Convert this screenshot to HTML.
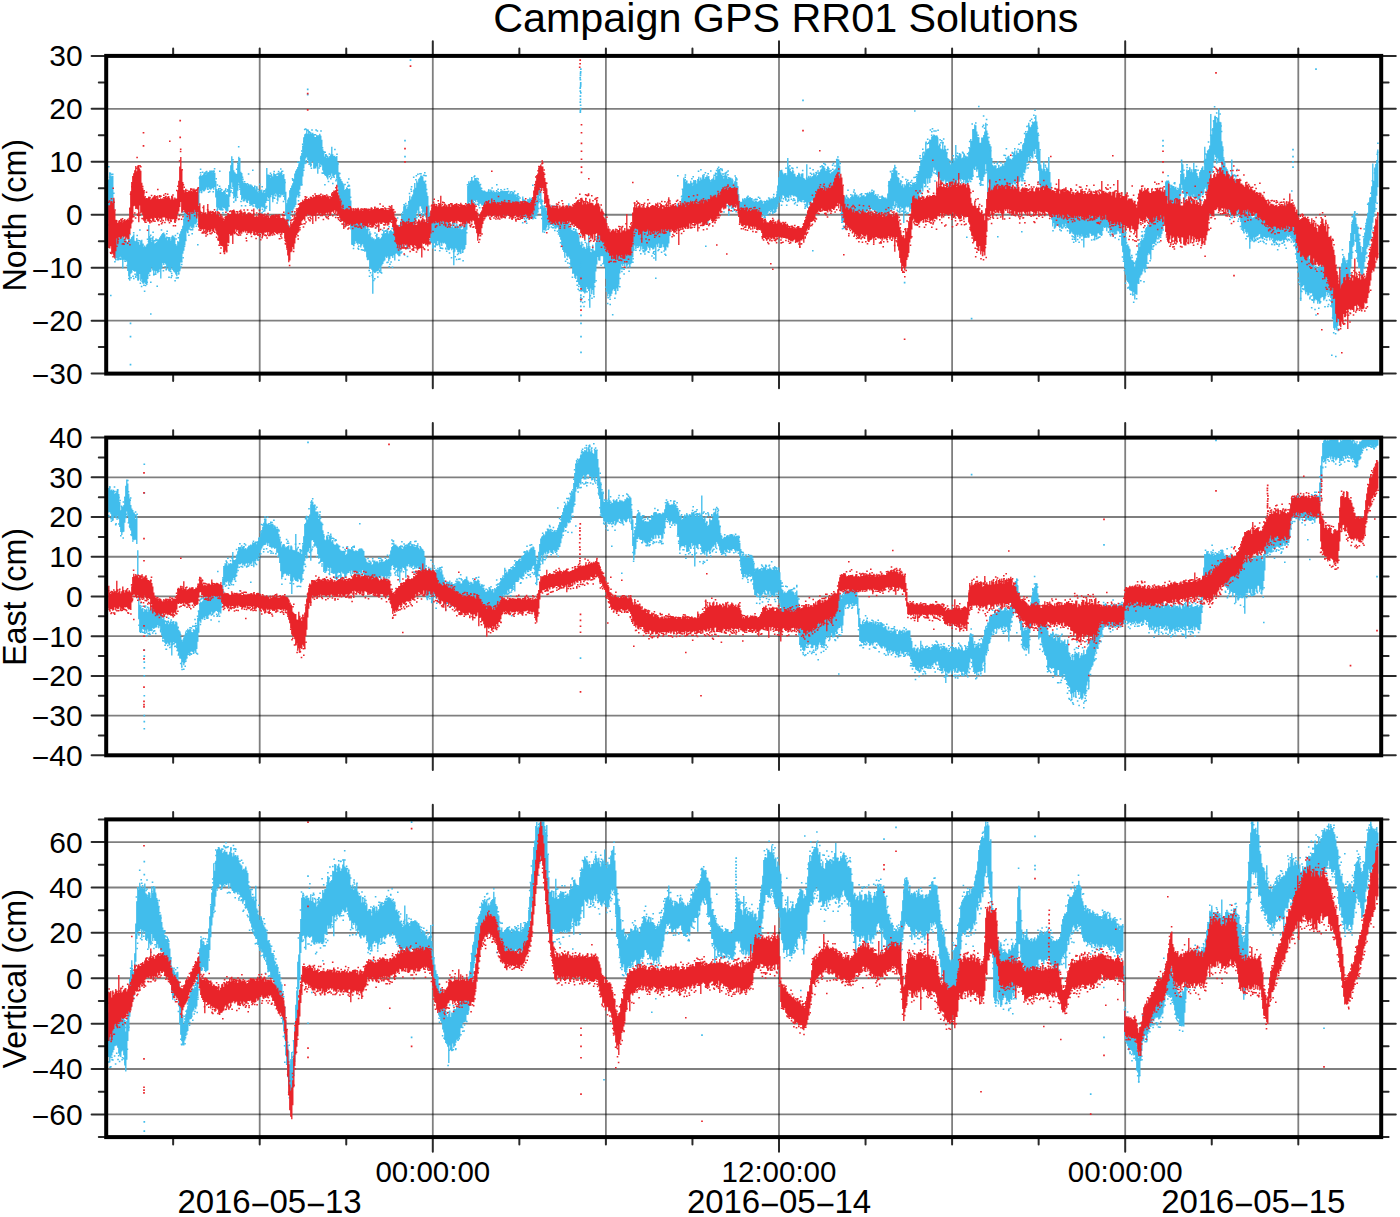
<!DOCTYPE html>
<html><head><meta charset="utf-8"><style>html,body{margin:0;padding:0;background:#fff;}svg{display:block;}</style></head>
<body><svg width="1400" height="1217" viewBox="0 0 1400 1217">
<rect width="1400" height="1217" fill="#fff"/>
<path d="M106.2 320.65H1381.2M106.2 267.70H1381.2M106.2 214.75H1381.2M106.2 161.80H1381.2M106.2 108.85H1381.2M106.2 715.59H1381.2M106.2 675.88H1381.2M106.2 636.16H1381.2M106.2 596.45H1381.2M106.2 556.74H1381.2M106.2 517.02H1381.2M106.2 477.31H1381.2M106.2 1114.41H1381.2M106.2 1069.02H1381.2M106.2 1023.64H1381.2M106.2 978.25H1381.2M106.2 932.86H1381.2M106.2 887.48H1381.2M106.2 842.09H1381.2" stroke="#000" stroke-opacity="0.5" stroke-width="1.8" fill="none"/>
<path d="M259.70 55.9V373.6M432.80 55.9V373.6M605.90 55.9V373.6M779.00 55.9V373.6M952.10 55.9V373.6M1125.20 55.9V373.6M1298.30 55.9V373.6M259.70 437.6V755.3M432.80 437.6V755.3M605.90 437.6V755.3M779.00 437.6V755.3M952.10 437.6V755.3M1125.20 437.6V755.3M1298.30 437.6V755.3M259.70 819.4V1137.1M432.80 819.4V1137.1M605.90 819.4V1137.1M779.00 819.4V1137.1M952.10 819.4V1137.1M1125.20 819.4V1137.1M1298.30 819.4V1137.1" stroke="#000" stroke-opacity="0.5" stroke-width="1.8" fill="none"/>
<path d="M108.8 179.5v40.5m1-47.8v52.8m1-49.5v50m1-49.2v42m1-42.6v47.5m1-24v39.7m1-7.5v22.6m1-15.6v21.4m1-21.6v19.8m1-23.1v24.9m1-21.7v21.8m1-22.6v20m1-20.2v19.6m1-20.9v24m1-21.3v30.1m1-30.2v20.9m1-19.1v20.4m1-20.4v20m1-19v20.4m1-19.6v29m1-44.4v49.8m1-37.7v42m1-41.4v34.5m1-33.9v32.9m1-37.1v34.4m1-35.8v36.6m1-30.1v31m1-30.6v30.4m1-33.7v38.2m1-34.6v38.3m1-37.7v36.9m1-34.2v29.3m1-33.3v40.5m1-41.5v39.8m1-35.4v39.3m1-36.2v36.4m1-38.1v37m1-35.2v36.6m1-39.4v40.3m1-41.3v35.3m1-53.9v49.1m1-38.1v36.2m1-34.3v33.6m1-29.7v25.6m1-29.6v32.6m1-30.1v34.9m1-31.8v27.4m1-28v32.2m1-32.9v28.9m1-31.8v34m1-34v31.6m1-33.1v31.9m1-33.8v42.8m1-44.4v34.5m1-35.6v29.8m1-30.3v32.4m1-30.7v28.7m1-25.4v26.8m1-27.8v32.9m1-29.3v26.7m1-29.9v33.8m1-33.7v34.2m1-30.9v29.6m1-33.3v30.8m1-31.8v34.4m1-33.5v33.6m1-32.8v34.2m1-27.5v30.5m1-29.2v30.9m1-35.2v30.9m1-30.2v32.8m1-40.9v37.6m1-40.1v31.2m1-33.5v32.3m1-35.5v28m1-35.2v32.2m1-35.8v30.4m1-35.1v31.1m1-36v26.1m1-22.9v24.7m1-27v23.6m1-22.7v20.7m1-23.6v22.4m1-22.8v24.3m1-25v24.6m1-24.4v24.4m1-25.9v22.4m1-20.1v20.5m1-22.8v20.3m1-26.9v17.3m1-25.6v16.8m1-28v17.1m1-18.6v16.8m1-14.9v15.8m1-16.9v15.2m1-16.7v17.7m1-17.1v16.4m1-15.8v14.8m1-17.2v15.3m1-14.5v16.7m1-17.8v15.5m1-17v18.7m1-18.4v19m1-16.9v15.9m1-17.4v16.5m1-17.3v19.2m1-17.1v14.2m1-5.9v16.5m1-8.4v18.4m1-16.8v18.7m1-18.4v17.1m1-17.8v19.6m1-20.3v20.8m1-18.4v18.4m1-18.5v15.5m1-16.7v17.6m1-17.3v17.4m1-14.1v16.3m1-16.7v17.9m1-17.1v16.6m1-26.2v21.4m1-34.9v25.1m1-31.5v23.3m1-32.3v26.2m1-21v25.7m1-16.9v26.5m1-24.4v24.9m1-23.8v27.9m1-27.3v22.6m1-32.3v26.5m1-34v26m1-24.7v29.9m1-16.3v23.2m1-22v27.2m1-19.7v17.9m1-15.6v17.3m1-17.1v18.4m1-18.2v16.5m1-15.9v18.3m1-16.7v15.8m1-16.8v16.2m1-15.3v18.8m1-19.8v19.7m1-18.7v18.9m1-16.5v17.2m1-17.9v17m1-17.7v18m1-14.2v17.5m1-17.8v18.3m1-16.5v16.5m1-15.5v15.5m1-17v19.2m1-18.6v16.1m1-18.1v17.2m1-14.4v15.1m1-17.1v17.4m1-15v17.3m1-21.7v14.7m1-35.1v32.9m1-26.4v22.6m1-22.6v23.4m1-21.9v34.9m1-33.2v19.6m1-21.9v19.6m1-18.3v25.5m1-29.5v23m1-21.7v20m1-19.7v19.1m1-17.4v18.7m1-18.9v25.6m1-27.4v23.2m1-25v22m1-21.1v23.5m1-23.8v21.9m1-19.8v19.8m1-20.7v19.9m1-14.8v21.1m1-8.5v22.7m1-10.1v21.1m1-25.9v26.6m1-28.5v24m1-31.4v28.4m1-30.6v25.7m1-28.1v25m1-27.3v28.6m1-32.8v29.7m1-35.3v33.4m1-36.1v34.3m1-35.5v28m1-30.5v28.2m1-31v33.4m1-36.6v28.6m1-34v30m1-32.7v32.5m1-39.3v30.2m1-39.1v31.1m1-34.2v29m1-29.6v24.9m1-29.4v28.2m1-23.6v26.3m1-29v31.5m1-28.3v29.7m1-31.6v33.8m1-32.6v28.4m1-29.2v28.5m1-26.6v33.1m1-30.7v31.3m1-31.3v31.6m1-33.6v31.4m1-31v38.4m1-37.1v26.1m1-29.1v33.6m1-31.6v28.9m1-24.8v25.7m1-16.3v21.2m1-17.6v21.3m1-17.7v18.9m1-21.2v22m1-18.4v19.9m1-20.7v22.6m1-22v17.9m1-19.4v19.2m1-20.6v21.8m1-29.7v26.8m1-19.3v22m1-20.2v21.1m1-21.4v19.4m1-18.1v17.3m1-18.4v22.4m1-16.3v25.1m1-14.9v22.4m1-17.5v29.5m1-27.7v33.4m1-31.1v31.7m1-29.9v31.6m1-29v32.4m1-28v27.8m1-28.9v29.4m1-31.1v33.7m1-32.5v32.6m1-32.1v32.1m1-32.5v35.2m1-23.1v28.8m1-13.2v28.5m1-22.4v22.8m1-23.7v24.2m1-26.3v24.6m1-24.2v21.5m1-24.1v26.2m1-22.7v24.2m1-26v24.8m1-25v25.4m1-22.9v26.5m1-25.8v23.8m1-24.1v22.4m1-18.5v22m1-23.8v28.1m1-28.8v28.5m1-22.5v28.7m1-30.6v33.2m1-25.9v25.5m1-28.5v37.7m1-32.6v31.6m1-29.8v31.6m1-30.9v54.9m1-55.5v33.5m1-31.5v32.6m1-33.8v33.4m1-38.2v37m1-33.8v33.8m1-34.4v33.4m1-31.2v29m1-29.9v33m1-34.4v28.8m1-31.8v30.1m1-32.8v30.4m1-28v27.1m1-27.6v23.7m1-26.7v28m1-27.3v25.8m1-23v27.7m1-30.2v28.3m1-29.4v26.4m1-25.2v25.1m1-24.2v26.1m1-29.1v26.2m1-25.7v31m1-36v29.3m1-26.1v25.8m1-27.6v28.8m1-26.8v28.4m1-28.4v28.4m1-35.6v29.6m1-37.4v34.2m1-32.3v29.9m1-38.4v33.6m1-35.5v33.3m1-32.2v33.9m1-30.7v40.2m1-42.5v37.6m1-42.9v44.2m1-49.5v42.9m1-39.3v38.6m1-41.4v34.9m1-37v35.8m1-40.8v36.5m1-43.1v41.6m1-36.8v33m1-40.3v32.5m1-30.5v28.2m1-31.8v36m1-37.2v29m1-31v30.6m1-30.8v33.4m1-32.4v37m1-32.6v31m1-30.4v34.1m1-31.7v33.7m1-25.3v25.8m1-22.1v29.3m1-19.8v24.5m1-17.3v22.2m1-19.5v26.7m1-23.8v24.7m1-20.5v25.8m1-27.5v22.9m1-24v23.6m1-24.8v27.5m1-26.3v25.4m1-27.4v23.4m1-21.9v25.6m1-24.3v24.9m1-25.5v22.9m1-23.8v27.1m1-26.1v22.8m1-22.5v23.3m1-24.5v23.8m1-19.9v21.4m1-24.5v27.8m1-25.3v27.5m1-24.5v24.7m1-28.4v27.4m1-24.5v23.6m1-21.2v23.4m1-26.7v25.2m1-21.1v37.5m1-39.7v26.2m1-24.6v21.2m1-24.6v26m1-24.2v26.8m1-23.6v23.8m1-26.5v26.6m1-24v25.4m1-24.6v20.2m1-20.8v23.6m1-26v23.6m1-28.7v27.6m1-25.8v21.8m1-39.3v24.1m1-44v28.6m1-33v23.2m1-21.8v19.2m1-20.7v22.8m1-25.8v29.7m1-27.3v21.7m1-21.8v19.8m1-22.2v22.8m1-23v24.4m1-21.8v19.5m1-19.8v22.1m1-20.3v24.2m1-22v19.5m1-16.5v16.5m1-13.6v15.4m1-13.6v13.5m1-14.3v14.9m1-14.7v14.9m1-14.8v14.2m1-13.5v12.6m1-13.3v15.7m1-18v17.8m1-15.1v14.7m1-17.1v16.4m1-15.3v15.1m1-13.6v13.6m1-13.4v12.8m1-13.2v13.7m1-13.2v15.2m1-15.9v13.4m1-11.9v13.9m1-14.1v14.9m1-15.8v19.4m1-20.5v16m1-15.8v14.2m1-13.8v14.2m1-14.7v13.8m1-13.9v14m1-14v16.8m1-16.8v14.8m1-14.2v17.5m1-15.1v13.6m1-12.5v12.8m1-13.9v14.6m1-15.2v13.8m1-15.4v16.1m1-15.8v17.7m1-15.2v13.5m1-13.8v16m1-13.8v14.2m1-16.2v14.5m1-10.9v13.9m1-11.2v13.8m1-8.9v12.5m1-14.8v13.2m1-20v21.8m1-18.9v17.8m1-17.8v17.8m1-16.7v17.1m1-15.4v14.3m1-17.4v17.2m1-15.7v15.9m1-18.9v20m1-18.8v19.2m1-20.3v19.2m1-15.7v15.6m1-15.8v14.5m1-16.4v17.8m1-17.6v15.8m1-14.4v15.5m1-19.9v15.8m1-32.1v23.6m1-19.9v12.2m1-5.2v13.7m1-5.1v16.8m1-10.8v27.1m1-24.8v22.5m1-22.8v23.1m1-22.4v21.5m1-18.9v17m1-19.6v17.1m1-17.2v19.2m1-17.8v15.9m1-17.8v17.6m1-16.5v16m1-16.1v17.3m1-17.8v18.3m1-16.9v15.4m1-15.6v18.8m1-16.8v16.5m1-18.1v18.1m1-16.7v20.1m1-17.3v23.3m1-20.2v23m1-21.1v26.4m1-30.1v35.1m1-31.2v33.2m1-31.9v36.4m1-36v32.1m1-33.9v37.5m1-32.5v33.7m1-54.2v53.3m1-28.5v30.6m1-32.1v38.7m1-35.4v37.2m1-36.6v43.2m1-42.6v42.4m1-42.8v45.4m1-45.9v48.8m1-47.2v43.9m1-42.8v49.2m1-45.3v48m1-43v43.5m1-40.2v42.7m1-46.4v50.3m1-43.6v42.9m1-44.6v45.8m1-44.9v46.3m1-44.7v43.7m1-49.8v44.1m1-38.9v41.1m1-54.7v56.6m1-42.9v59.7m1-55.8v36.4m1-36.1v41.9m1-49.4v45.1m1-38.6v44m1-44.9v32.6m1-40.5v28.9m1-33.5v26.5m1-29.9v22.4m1-23.3v26.9m1-27.2v27.5m1-31v26.4m1-27.2v27m1-28.3v28.6m1-23.8v31.3m1-24.4v27.7m1-24.7v36.3m1-33.8v45.7m1-43.1v48.9m1-47.1v44.7m1-45.9v49.6m1-51.7v49.9m1-49.8v47.7m1-43.2v40m1-40.5v38.8m1-45.7v47.8m1-43.9v46.5m1-51.2v46m1-44.3v47m1-47.9v41.6m1-39.1v27.9m1-33.4v28.3m1-29v24.8m1-22.1v23.7m1-24.1v22.3m1-26.5v28.5m1-25.3v22.6m1-25.8v28.8m1-25.1v22.4m1-24v24.8m1-25v27.9m1-23.5v20.4m1-30.5v29.1m1-30.6v24.9m1-36.4v29.7m1-30.3v25.2m1-21.7v25.2m1-30.4v28.1m1-26.6v26.1m1-24.6v25.7m1-26.8v25.5m1-22.5v26.4m1-23.8v20.5m1-22.8v25.9m1-25.5v25.2m1-22.6v25.9m1-25.8v24.3m1-24.9v23.5m1-27.5v24.3m1-24.4v25.6m1-23.4v26.1m1-28.4v25.6m1-23v23.3m1-22.8v24.3m1-23.4v23.3m1-38.8v37m1-26.5v39.7m1-41.6v25.3m1-23.4v26m1-29.1v25.7m1-21.5v25.3m1-25.1v25.7m1-25.5v24.7m1-25.6v22.6m1-19.6v22.7m1-23.6v26.8m1-26.7v26.6m1-23.8v20.2m1-24.5v25.1m1-29.7v25.7m1-31.1v23.6m1-28.6v19.3m1-18.7v18.4m1-19v19.6m1-18.5v17.4m1-17.4v16.2m1-16.9v18.8m1-20v17.1m1-18.4v17.3m1-17.5v17.6m1-17.2v16.4m1-16.1v17.4m1-24.9v17.3m1-26v22.1m1-33.8v28.3m1-26.5v27.2m1-24.9v27.1m1-28.4v31.8m1-29v29.6m1-29.8v31.2m1-30.7v26.7m1-29.6v31.6m1-29.6v31.6m1-28.9v27m1-32.6v31.9m1-31.4v31.3m1-30.8v29.4m1-26.7v27.6m1-32.3v30.5m1-32.6v30.6m1-26.7v25.9m1-29.1v32.5m1-30.6v29.9m1-34.5v37.6m1-36.8v27.3m1-24.1v25.2m1-27v27.7m1-27.9v31.9m1-32.3v48.5m1-48.8v34.8m1-30.9v27.8m1-26.2v26m1-27.7v30.7m1-32.1v30.9m1-33.2v29.4m1-25.8v24m1-30.4v33.3m1-30.7v35.9m1-42.4v33.6m1-33.8v31.7m1-32v32.7m1-29.1v30.1m1-28v28.3m1-26.8v26.4m1-24.2v28.7m1-31.5v31m1-33.6v31.1m1-28.4v28m1-24.9v23.4m1-23.9v37.7m1-38.5v26.9m1-26.6v27m1-24.3v26.2m1-27v28.5m1-24.6v23.3m1-25.7v25.6m1-28.2v25.2m1-21.9v22.8m1-17.6v19.4m1-11.1v16.4m1-10.1v10.7m1-10.3v12.5m1-12.9v12.9m1-15.1v14.1m1-13v11.6m1-13.2v12.3m1-12v12.6m1-15.2v12.4m1-12.5v14.8m1-13.4v11.6m1-12v11.9m1-11.2v14.2m1-14.1v14.1m1-11.9v11.7m1-11v11.6m1-11.3v12.3m1-13.3v11.8m1-10.8v10.8m1-10.3v12.7m1-13.5v12.4m1-12.5v13.4m1-14.1v12.9m1-12.9v13.6m1-10.9v10.6m1-10.4v11.9m1-14.1v14.3m1-13.6v13.8m1-13.4v12.6m1-13.6v12.3m1-13.2v11.1m1-13.8v13.4m1-11.9v11.1m1-11.6v12.9m1-12.6v12.8m1-13.7v11.5m1-10.7v13m1-14.8v15m1-18.6v15.6m1-23.6v19.2m1-27.5v23.8m1-30v25.6m1-26.6v30m1-30.2v28.9m1-26v22.5m1-20.9v21.4m1-22.2v24.5m1-24.9v27.6m1-25.4v21.8m1-39.2v39.9m1-31.5v32.2m1-28.7v25.6m1-24.4v26.5m1-25.3v22.9m1-25.3v25.7m1-22.1v23m1-22.6v21.9m1-19.3v20m1-19.6v20.4m1-21.4v26.7m1-29.8v27.1m1-25.6v26.7m1-24.5v24.8m1-27.6v26.3m1-26.6v27.3m1-22.5v22.1m1-21.5v23.8m1-22.5v21.9m1-37.6v41.5m1-27v26.5m1-29.5v26.7m1-24.4v27.3m1-29.7v26.2m1-24.6v23.1m1-24.3v24.6m1-27.9v29.8m1-28v25.8m1-25.3v28m1-26.8v22.3m1-23.5v21.9m1-24.2v26.7m1-27.7v22.9m1-25.3v27.2m1-28v23.9m1-26.1v26.4m1-26.7v27.5m1-25.9v25.3m1-22.3v23.3m1-23.6v21.5m1-25.4v25.7m1-22.8v23m1-19.9v25.7m1-24.7v25.5m1-26.4v27.2m1-28.2v26.7m1-27.7v21.9m1-22.9v26.6m1-27.8v23.7m1-31.9v28.7m1-30.2v32.5m1-31.6v30.2m1-24v35.6m1-20.2v27.9m1-16.7v28.3m1-24v26.2m1-27.4v24.8m1-24.1v24.9m1-23.7v27.8m1-26.4v26m1-27.9v25.2m1-24.1v22.8m1-22v22.4m1-24.1v24.2m1-24.6v21.9m1-24.2v23.6m1-21.4v17.4m1-20v18.6m1-18.2v20.8m1-20.7v20.6m1-18.4v16.5m1-17.6v20m1-17.9v15.1m1-16.3v17.7m1-19.3v19.8m1-18.5v17.2m1-18.2v15.6m1-13.9v16.5m1-17.1v17.1m1-20.3v18.6m1-19.3v18m1-15.9v14.7m1-16.1v18.5m1-18.5v16m1-17.6v17.2m1-16.6v18.2m1-18.5v18.2m1-14.9v15.5m1-16.7v16m1-13.9v18.3m1-18.1v17m1-14.8v17.4m1-16.8v16.1m1-16.2v15.7m1-17.2v14.6m1-14.9v14.7m1-14.5v18.3m1-16.7v17.3m1-18.6v17.6m1-16.5v17.3m1-22.5v20.4m1-33v34.9m1-35v31.1m1-33.4v30.2m1-36.1v38.2m1-37.8v33.4m1-38.1v37.5m1-41.1v36.5m1-31v36.9m1-36.3v32.7m1-26.6v31.4m1-30.4v29.9m1-25.1v29.5m1-32.1v26.7m1-21.3v22.8m1-24.2v24.1m1-20.7v35.5m1-38.8v25.8m1-24.6v22m1-26.5v25.7m1-23v23.9m1-25.4v24.6m1-20v25.1m1-27.2v24.5m1-22.6v22m1-25.2v27.4m1-26.5v25.4m1-25.6v24.7m1-25.1v21.6m1-27.6v27.7m1-31.5v28.9m1-31.6v29.3m1-34.4v27.1m1-32.8v33.9m1-34.3v28.6m1-34.9v37.8m1-35.8v28m1-30.8v31.2m1-41.3v43.6m1-37v29.2m1-30v35.2m1-35.5v30.4m1-39v43.5m1-43.4v38.2m1-41.4v39.8m1-40.4v36.3m1-37.6v33m1-32.6v35.8m1-34.9v33.9m1-34.6v39.8m1-37.6v39.3m1-31.3v33.9m1-35.8v34.3m1-29.2v32m1-31.4v35.7m1-41.8v37.9m1-31.5v32m1-34.7v33m1-30.9v35m1-30.9v28.8m1-23.7v23.4m1-22.4v24.3m1-20.3v25.1m1-23.7v23.4m1-25.9v27.1m1-26.2v23.3m1-28v25m1-22.7v25.3m1-40.8v39.3m1-25.3v25.6m1-27.9v23.6m1-24.9v24.3m1-24.4v23.8m1-25.3v27.8m1-23.4v20.8m1-21.5v22.4m1-24.7v27.6m1-25.6v22.8m1-24.2v27.8m1-26.9v25.7m1-24.1v25.5m1-32v27m1-30.7v32.7m1-41.7v40.2m1-38.3v39m1-50.7v46.1m1-46.1v39.4m1-44.2v45.5m1-44.7v40.9m1-34.8v40.4m1-34.7v32.5m1-31.8v38.9m1-34v37.2m1-37.2v41.8m1-46.9v43.3m1-43.4v43.4m1-46v42m1-45.3v42.9m1-51.7v41.4m1-33.8v41.2m1-35.2v66.9m1-62.6v41.7m1-38.5v40.2m1-36.8v45.4m1-34.8v36.1m1-29.1v31.6m1-29.7v27.8m1-29.4v31.7m1-31.7v29.6m1-26.4v26.7m1-27.2v24.7m1-27.2v27.4m1-25.4v28.2m1-28v28m1-29.4v25.4m1-27.8v43.6m1-41.4v29m1-32.2v27.2m1-28.2v29.5m1-32.4v26.2m1-28.7v28.4m1-29v34.2m1-31.6v31.2m1-30.8v31.5m1-30.7v24.3m1-26.1v28.4m1-33.7v30.1m1-32v33.5m1-29.3v27.9m1-32.3v31.2m1-28.5v30.9m1-30.4v27.8m1-31.7v31.6m1-32v28.3m1-26.7v30.7m1-37.2v35m1-36.5v29.5m1-34.1v35m1-40v36.3m1-36.5v29.7m1-32.1v31m1-38.9v34.2m1-30.5v34.6m1-33.8v28.6m1-31.2v32.4m1-34.1v35.4m1-36.3v29.2m1-30v32.8m1-38.9v33.9m1-27.6v37.6m1-26.2v30.8m1-21.9v28.9m1-20.1v32.5m1-17v23.1m1-20.8v21.7m1-19.3v17.7m1-26.9v26.9m1-19.4v20.7m1-18.5v18.4m1-20.8v22.2m1-22.2v23.6m1-35.4v35m1-20.1v19.9m1-9.4v23.2m1-8.1v22.1m1-19.3v26.2m1-22.8v19.3m1-18.6v22.8m1-26.6v25.3m1-21.5v21.3m1-22.7v21.4m1-19.8v22m1-23.2v24.8m1-23.2v22m1-20.9v21.6m1-22.1v18.6m1-21.5v24.8m1-26.1v24.9m1-22.2v19.5m1-20.4v24.3m1-20v20.4m1-19.4v20.3m1-18.1v23.2m1-21.7v20.9m1-18.4v17m1-19v20.9m1-19.8v20.6m1-20.7v23m1-22.8v28.1m1-27.8v20.4m1-19.7v22m1-21.9v19.6m1-18.9v20.9m1-19.9v19m1-20.9v19.7m1-19.4v21.2m1-19.4v30.5m1-30v20.4m1-20.1v19.9m1-24.7v22.3m1-23v23.8m1-21.2v22.4m1-23.5v19.6m1-20.4v20.7m1-17.3v19.7m1-22.3v21.8m1-19.5v19.4m1-20.5v24m1-23.1v20.8m1-21.4v22.4m1-24v19.8m1-17v16.8m1-21.7v23.2m1-24v24.1m1-21.7v20.6m1-22.7v19.9m1-21.7v18m1-18.6v19.3m1-21.3v20.5m1-16.8v20.8m1-22.4v18.6m1-17.2v18m1-18v21.4m1-21.2v22.6m1-19.8v18.5m1-20.1v21.4m1-19.7v19.3m1-22.2v24.3m1-22v21.2m1-22.7v20.6m1-20.6v19.5m1-17.8v18.5m1-17.7v20m1-20.6v20.5m1-15v27.1m1-22.5v29m1-20.6v28.7m1-26.7v34.6m1-31.2v37.8m1-29.8v35.4m1-36.1v37.6m1-35.7v37.2m1-34.7v41.6m1-33.7v34.1m1-30.6v31.2m1-31.1v33.9m1-32.4v30.6m1-25.6v32.7m1-38.9v33.4m1-36.1v36.9m1-43.9v33m1-40.4v40.7m1-37.4v31m1-36.7v34.6m1-37.4v36.2m1-34.4v31.4m1-33.4v30.4m1-34.6v37.2m1-42.7v40.1m1-41.5v37.2m1-39.6v30.7m1-30.1v28.2m1-34.4v35.5m1-37.3v42.4m1-44.4v34.6m1-36.1v30.3m1-29v28.9m1-30.4v30.9m1-36.7v34.4m1-31.2v27.8m1-27.4v24.5m1-26.4v30.1m1-33.9v31.7m1-30v29.1m1-28.9v25.3m1-31.2v27.9m1-29.1v24.5m1-34.4v24.1m1-33v24.1m1-25.1v19.3m1-19v20m1-18.7v24.5m1-22.3v23.4m1-20.1v21.3m1-24.1v23m1-21.7v22.8m1-22.9v19.1m1-17.7v18.7m1-19.3v19m1-16.2v19.8m1-19.6v17.9m1-19v23.1m1-28v20.8m1-30.7v20.4m1-32.9v23.4m1-20.6v25.5m1-16.2v20.3m1-14.6v23.7m1-26v20.5m1-27.8v26.5m1-25.4v23.1m1-23v25m1-27.5v28.5m1-25.3v26.6m1-28.8v26.1m1-23.2v24.1m1-33.6v31.8m1-24.7v28.4m1-29.1v30.3m1-26.5v24.4m1-21.3v23.8m1-22v21.9m1-27.4v29.8m1-32.1v26.8m1-29.1v25.1m1-26.5v28.9m1-25.2v22.9m1-46.1v42.3m1-30.3v28.6m1-34v37.1m1-39.8v38.3m1-39.7v37.6m1-41.5v35.2m1-66.7v65.2m1-44.6v37.7m1-44.2v40m1-47.9v41.1m1-44.2v37.8m1-37.8v40.3m1-34.7v41.1m1-45.5v40.3m1-50.1v54.4m1-41v40.2m1-39.7v40.2m1-21.3v36.4m1-31.4v37.2m1-24.4v35.4m1-32.3v35.6m1-30.2v30.5m1-28.7v34.5m1-33.1v36.6m1-29.7v34.7m1-36.7v34.9m1-28.8v34.4m1-56.6v54.7m1-33.7v33.6m1-34.1v32.6m1-34.4v32.2m1-29.7v27.6m1-28.6v34.3m1-33.7v32.2m1-27.5v29.8m1-22.3v25.4m1-27.3v31.4m1-25v30.7m1-29.1v32.3m1-29v30.3m1-30.6v27.3m1-24.6v28m1-27.7v29.3m1-26v24.7m1-22.1v25.8m1-25.5v38m1-36.5v27m1-22.1v23.4m1-22.4v23.1m1-24.1v20.3m1-21v23.3m1-25.9v23.1m1-24.6v24m1-24.7v24.2m1-22v20.9m1-20.6v19.8m1-19.5v23.1m1-20.3v20.9m1-21.4v22m1-23.9v21.9m1-16.9v17.1m1-17.9v18.9m1-20.6v21m1-21.8v21.2m1-17.8v17.1m1-19.4v22.9m1-22.9v20.1m1-18v19.9m1-20.1v18.7m1-18.9v23.9m1-20.9v19.8m1-21.1v20.2m1-22.7v21.5m1-19.6v20.7m1-18.2v16.9m1-18v19.3m1-19.5v19.6m1-17.7v17.1m1-18v17.1m1-19v22m1-22.4v19.7m1-35.1v34.5m1-24.3v22.1m1-21.2v19.7m1-20.2v21.4m1-20.3v18.8m1-20.2v21.1m1-19.1v22m1-22.3v21.5m1-20v24.1m1-24.1v23.4m1-22.8v30.4m1-27.3v37.2m1-26.9v30.9m1-24.9v33.2m1-32.8v43.5m1-42.3v60.8m1-56.3v42.7m1-41.9v40.8m1-40.4v39.3m1-37.4v41.9m1-42.5v47.2m1-42.2v40.1m1-44.3v47.7m1-66.2v65.9m1-36.3v33.7m1-35v35.7m1-31.9v31.5m1-31v34.3m1-36v42.9m1-33.2v30.4m1-34.9v33.8m1-30.8v31.8m1-29.3v32.8m1-35.4v33.1m1-35.3v37.5m1-37.2v31.7m1-31.3v30.4m1-45.9v45.5m1-41v44.5m1-42v40.9m1-45.1v42.1m1-39.5v35.1m1-31.4v34.8m1-34.3v32.1m1-34.7v37.2m1-29.3v32m1-26.3v35.5m1-25.4v37.2m1-28.6v37.6m1-33.1v34.9m1-32.2v29.9m1-33.4v35.8m1-31.9v27.8m1-39.5v35.2m1-42.4v28.9m1-38.7v30.5m1-36.9v33.3m1-38.2v43.6m1-45.9v37.4m1-34.1v37.2m1-34.9v28.5m1-26.9v30.5m1-34v36.3m1-43.2v34.2m1-46v37.9m1-46v34m1-43.1v35.1m1-39.1v27.3m1-32.5v30.8m1-34.2v22.9m1-16.5v24.3m1-18v29.1m1-24.9v34.2m1-28.9v34.7m1-26v25.1m1-21.3v27.3m1-21v24m1-29.2v29.1m1-37.8v29.6m1-35.5v29.6m1-37.3v30.3m1-36.4v30.1m1-36v34.3m1-44.5v42.5m1-47.4v42.8m1-43.3v41.7m1-52.6v43.5m1-66.3v59.3m1-41.8v36m1-49.4v44.5m1-48.1v39.2m1-43.1v35.7m1-46.2v37.8" stroke="#41BDEC" stroke-width="1.35" fill="none"/><path d="M108.8 166.1v1.5m0 56.6v1.5m.8-49.3v1.5m1.5-4.1v1.5m-.6-2.6v1.5m.3 120.5v1.5m1.3-66.9v1.5m-.3-7.7v1.5m.9 2.4v1.5m0-55v1.5m1.3 67.4v1.5m-.2-51.5v1.5m.7 61.4v1.5m.4 4.2v1.5m.6-24.7v1.5m.3 19.8v1.5m1-26.8v1.5m.2-1.2v1.5m.9 23.4v1.5m.8-2.3v1.5m-.1-1v1.5m1.1-27.8v1.5m.5 23.7v1.5m.6-24.6v1.5m-.2 22.5v1.5m1.2-23.1v1.5m1.2 20v1.5m-.2-22.4v1.5m1.1-3.1v1.5m1.2 23v1.5m.7-23.2v1.5m-.3 20.4v1.5m1.4-25.9v1.5m.3 27v1.5m.8-31.2v1.5m-.4-.8v1.5m1.2 40.6v1.5m-.2-36.6v1.5m1.4-10.5v1.5m1.1 41.9v1.5m.6-40.1v1.5m.2-2.9v1.5m1.1 36.8v1.5m.8 .8v1.5m-.1-47.2v1.5m1.4 40.1v1.5m.6 .5v1.5m.2-.7v1.5m1.3-43.2v1.5m.8 3.6v1.5m.1 38v1.5m.4-2.1v1.5m1.2-40.3v1.5m.2-12.2v1.5m1.3 12.5v1.5m-.8 37.9v1.5m1.8-3.6v1.5m-.6 3.8v1.5m1.2-42.7v1.5m.1-2.7v1.5m1 39.5v1.5m.1-39.5v1.5m.6 42.6v1.5m1-7.3v1.5m.1-39.1v1.5m1.4 32.9v1.5m-.6-36.6v1.5m1-9.4v1.5m.5 4.6v1.5m.5-5.4v1.5m1.7 28.2v1.5m-.6 2.7v1.5m1.2 5.3v1.5m-.1-48.3v1.5m.1 77.1v1.5m1.3-75v1.5m0-3.7v1.5m1-7.6v1.5m0 3.3v1.5m.7 36.2v1.5m1.1-2v1.5m-.3-34.8v1.5m1.4-3.2v1.5m-.2 .2v1.5m.9-2.2v1.5m.5 44.6v1.5m.8-16.7v1.5m.9-1.2v1.5m1.1-34.5v1.5m.5-1.7v1.5m1-9.7v1.5m1.3 3.9v1.5m-.4-.6v1.5m1 32.9v1.5m1.7-5.5v1.5m1.1 1.6v1.5m1-39.9v1.5m-.5 .9v1.5m1.3 2.6v1.5m-.2-1.7v1.5m1.2 38.1v1.5m-.2-39.2v1.5m.7 29.6v1.5m.2-32.6v1.5m1.1 30.5v1.5m.4 4.5v1.5m.7-3.2v1.5m-.2-3.8v1.5m.9-38.8v1.5m1.1 32.9v1.5m.2-32.4v1.5m1 30.4v1.5m.2 7.5v1.5m1-43.2v1.5m-.7-4.9v1.5m1.5 40.9v1.5m-.5-1.4v1.5m1.2-46.1v1.5m.6 42.8v1.5m.3-41.4v1.5m0 34.4v1.5m1.7-39.4v1.5m-.5 31.3v1.5m1.3-3.2v1.5m.8-6.7v1.5m-.1 1.3v1.5m.8-54.1v1.5m.6 44.4v1.5m.8-47.6v1.5m.1 6.4v1.5m.6-7.5v1.5m-.1 31.1v1.5m1-7.5v1.5m1.5-34.5v1.5m1-4.7v1.5m-.4 26.7v1.5m1.3 1.6v1.5m.9-7.9v1.5m-.2-24.1v1.5m1.3 22v1.5m.2-26.5v1.5m1.1 27.3v1.5m.4-6.1v1.5m-.1-.9v1.5m1.6-25.8v1.5m-.4-5.4v1.5m1.5 1.4v1.5m.3-4.3v1.5m-.1 0v1.5m1 21.8v1.5m0-5.9v1.5m1.2 .8v1.5m.2-10.1v1.5m0 27.6v1.5m1.1-41.9v1.5m.7-28.2v1.5m-.1-.8v1.5m1.1-7.1v1.5m0-5v1.5m1 21.7v1.5m1-21.7v1.5m1.4 16.8v1.5m.8-17.8v1.5m-.2-2.8v1.5m1.5-2.4v1.5m-.7-.4v1.5m1.3-3.1v1.5m1.2 16.3v1.5m.1-17.9v1.5m.6 17.7v1.5m1.2-2.2v1.5m1.2-20.7v1.5m-.1-1.9v1.5m.6-.4v1.5m-.1-3.2v1.5m1.8 19v1.5m-.7-22.1v1.5m1.5-1.4v1.5m-.4-1.5v1.5m1-4v1.5m1.6 8.6v1.5m.2 9.6v1.5m.7 18.9v1.5m.3-26.8v1.5m.1 22.5v1.5m1.1-20.4v1.5m.2-2.9v1.5m.8-3.9v1.5m.6 20.9v1.5m-.4-39.1v1.5m.8 18.4v1.5m-.1-4v1.5m1.4 19v1.5m-.1-20.8v1.5m1 18.6v1.5m.1 1.5v1.5m1.3-22.2v1.5m.8-.4v1.5m.1-4v1.5m.7-3.2v1.5m-.3-.1v1.5m1.4-.4v1.5m1.3-2v1.5m-.4-2.8v1.5m1.1 14.8v1.5m1.3-35.4v1.5m.6 18.7v1.5m.2-3v1.5m1-4.1v1.5m.9 3v1.5m0-34.6v1.5m.9 40.8v1.5m-.1-5.6v1.5m1.1-24.9v1.5m.6 24.2v1.5m1.3-25.9v1.5m0-8v1.5m.7 26.5v1.5m.4-35.6v1.5m.9 19.8v1.5m0-39.1v1.5m1.2 40.8v1.5m1.1 10.9v1.5m1-4.5v1.5m-.4 5.8v1.5m1.3-28v1.5m-.4-3.5v1.5m.9 21.9v1.5m.1-1.6v1.5m1.1-20.4v1.5m.9 22.6v1.5m1.6-5.7v1.5m.4-19.3v1.5m-.1 17v1.5m1.1-19v1.5m.1-12.4v1.5m1.4 29.8v1.5m1-2.8v1.5m1.1-18.8v1.5m-.2 16.7v1.5m1.1-18.7v1.5m.1 16.8v1.5m-.3-37.1v1.5m.8 34.2v1.5m1.2-21.2v1.5m1.2 18.5v1.5m.1-18.6v1.5m.8-2.2v1.5m-.1-3.1v1.5m.6 20.1v1.5m.7-20.5v1.5m.9 .5v1.5m.5-1.3v1.5m.3-9v1.5m1 5.1v1.5m1.3 20.3v1.5m.1-27.4v1.5m.3 21v1.5m.9 .5v1.5m.5-21.4v1.5m.8 17.9v1.5m-.1-21.4v1.5m1.1 14.9v1.5m.2-.5v1.5m.8-3.3v1.5m1.4-7.7v1.5m.6-4.1v1.5m.2-23.1v1.5m.7-1.9v1.5m-.2 0v1.5m1.7-2.5v1.5m-.6-4.5v1.5m1.3 2.4v1.5m-.4-3.7v1.5m1.4 21.5v1.5m0-1.1v1.5m1.4-28.3v1.5m-.6 24.3v1.5m1.5-3.8v1.5m-.5 1.7v1.5m1.2-4v1.5m1.3 5.9v1.5m-.1-30.3v1.5m1.2-2.3v1.5m-.8 24.4v1.5m1.7-5.1v1.5m-.5-25.8v1.5m1.4 23.7v1.5m.8-29.2v1.5m.4 2.4v1.5m.5-2.9v1.5m.9-1.8v1.5m.4 21.8v1.5m.5 5.6v1.5m.2-6.8v1.5m1.2-15.2v1.5m.5 29.6v1.5m.3 4.8v1.5m1.3-17.6v1.5m1.1 19.5v1.5m1.1-.2v1.5m0-28.8v1.5m.6 19.5v1.5m.3-2.8v1.5m1-31.2v1.5m-.6 27.5v1.5m1.5-7.2v1.5m.9-33.4v1.5m-.4-2.9v1.5m1.2-.2v1.5m1 31.3v1.5m1.2-39.8v1.5m1.1-6.2v1.5m.9-9.2v1.5m.6 37v1.5m.5-39.4v1.5m.6 31v1.5m0-4.1v1.5m1.1-36.1v1.5m1.1-8.6v1.5m-.1 32.1v1.5m1.3-39.9v1.5m-.3-3.4v1.5m1.1 24.3v1.5m.1-30.2v1.5m.8-13.5v1.5m.2 32.6v1.5m1.2-2.4v1.5m-.4-35.2v1.5m.7 30.2v1.5m1.4-31.7v1.5m.3-1.7v1.5m1 0v1.5m0 31.1v1.5m.9-31.6v1.5m-.1-3.3v1.5m.8 32.1v1.5m.4-3v1.5m.9-36.1v1.5m-.6 36.9v1.5m1.5-35v1.5m1.1 31.6v1.5m.8-34.6v1.5m1.3-6.4v1.5m-.6 3.2v1.5m1.6 .7v1.5m.3-7.3v1.5m.3 4.6v1.5m1.1-2.6v1.5m.3 30.4v1.5m.5-33.4v1.5m.6-1v1.5m.8-7.1v1.5m-.5 33.7v1.5m1.7 5.3v1.5m.9-1.3v1.5m-.6-26.9v1.5m1.7 3.1v1.5m-.5-2v1.5m1.5-1.2v1.5m-.3 31v1.5m.9-31.4v1.5m.1-1.1v1.5m.7-.4v1.5m1-1.2v1.5m.9 23.5v1.5m.9-29v1.5m.1 21.3v1.5m1.3 .3v1.5m.6-24.8v1.5m.4 20.5v1.5m1 4.6v1.5m1.3-7.6v1.5m.8-29.4v1.5m1.1 29.8v1.5m1-28.1v1.5m-.6 23.7v1.5m1.5-16.9v1.5m.8 32.9v1.5m1.2 9v1.5m-.1-36.9v1.5m.9 44.6v1.5m.4-39.1v1.5m.8 37.1v1.5m-.2-39.9v1.5m1 1.3v1.5m1-1.4v1.5m1.4-2v1.5m-.4 39v1.5m1.1-5.1v1.5m-.3 .1v1.5m1.6-35.8v1.5m.8-4v1.5m-.3-5.2v1.5m1.2 1.2v1.5m0-7.8v1.5m.6 5.6v1.5m1.2 9.6v1.5m1.2 17.8v1.5m.6 1.4v1.5m1.3 24.7v1.5m-.2 1.4v1.5m1.1-29.4v1.5m.6-8.2v1.5m.6-3.8v1.5m1.1-1v1.5m1.2 34.6v1.5m-.5-37v1.5m1.1 32.2v1.5m-.1 1.5v1.5m1.6-31.4v1.5m.8-3.6v1.5m1-.4v1.5m-.5 29.8v1.5m1.2-1.2v1.5m1-1.2v1.5m1.2-32.1v1.5m.6 3v1.5m.7-4.2v1.5m.4 1.8v1.5m.9 32.7v1.5m.4-37.3v1.5m1.1 5.1v1.5m.2 39.1v1.5m.3 4.4v1.5m.4-42.3v1.5m.7-3v1.5m-.1 37.1v1.5m1.7-36.2v1.5m-.1 35.7v1.5m.5 .3v1.5m1.1 2.1v1.5m.2-42.1v1.5m.9 37.3v1.5m.2-47.3v1.5m1.1 1.2v1.5m-.1-9.5v1.5m1.1 40.1v1.5m-.2-36.4v1.5m.9 41.2v1.5m.1-5.8v1.5m1.1-44.2v1.5m-.4 6.9v1.5m.9 30.6v1.5m.2-.4v1.5m1.2-1v1.5m1.2-39.1v1.5m-.5 37v1.5m1.5-38.2v1.5m-.3-7.6v1.5m1 1.2v1.5m1.2-3.3v1.5m.5-1.9v1.5m1.6 30.2v1.5m.3-34.4v1.5m.5 31.3v1.5m1.3 3v1.5m-.1-41.7v1.5m1.1 3.5v1.5m-.2 31.1v1.5m1.1-3.8v1.5m-.4-43.1v1.5m1.4 7v1.5m.4 36.9v1.5m.2-41.9v1.5m1.4-1.2v1.5m.3-9v1.5m.7 4.2v1.5m.6-.6v1.5m1.2-1v1.5m.7-10.2v1.5m1.3 40.7v1.5m0-35.9v1.5m1.3-1.9v1.5m.8 26v1.5m-.4-2v1.5m1.2-1.9v1.5m1-41.2v1.5m1.3 32.1v1.5m-.1-42.6v1.5m.6 48.7v1.5m1.1-53.1v1.5m1.3 .5v1.5m.5 49.5v1.5m.6-9.5v1.5m1-48.1v1.5m.4-9.8v1.5m1.6-5.7v1.5m.5-4.2v1.5m-.1 3.1v1.5m1.1 36.1v1.5m1.1-53.2v1.5m1.4 42.5v1.5m.8-43v1.5m.5-5.4v1.5m.4 40.4v1.5m1.1-44.8v1.5m.6 40.5v1.5m.1 4.7v1.5m1.2-11.8v1.5m.2-39.9v1.5m1-1.6v1.5m-.3 41.7v1.5m1.4-3.4v1.5m-.7-2.9v1.5m1.1-3.8v1.5m0 2.1v1.5m1.1 4.9v1.5m.3-47.6v1.5m.9-4.1v1.5m-.2 1.4v1.5m1.4-1.3v1.5m-.5 4v1.5m1.1 6.8v1.5m1 34.9v1.5m1.1 5.6v1.5m0-2.9v1.5m1 9v1.5m.1-4.1v1.5m.9 1.4v1.5m-.1-29.3v1.5m1 3.2v1.5m.2-4.1v1.5m1.3 29.6v1.5m.7-3.3v1.5m-.1-1.8v1.5m1.5-.4v1.5m0 1.8v1.5m.7-7.6v1.5m1-28.4v1.5m.1-4.5v1.5m.6 29.1v1.5m-.1-32.2v1.5m1.6 3.4v1.5m.6 30.3v1.5m.1-6.3v1.5m.7 .7v1.5m-.1-2v1.5m1.5-30.6v1.5m-.1 28.3v1.5m.8-1.3v1.5m.5-35.3v1.5m1 3v1.5m.6-1.6v1.5m1.1 27.7v1.5m.2-.9v1.5m.7 .8v1.5m1.2-36.8v1.5m.9 32.1v1.5m-.1-2.1v1.5m.7-27v1.5m.1 28v1.5m1.2-34.6v1.5m.8 36.5v1.5m1.4-36.2v1.5m-.2-1v1.5m1-2.3v1.5m-.1 27.5v1.5m1.2-29.5v1.5m.4 31.3v1.5m.7-31.9v1.5m.7 31.8v1.5m1.3-33.1v1.5m-.4 25v1.5m1.1-2.5v1.5m.2 4.4v1.5m1.1-1.8v1.5m-.3-35.8v1.5m1.1 .9v1.5m-.2-1.5v1.5m1.3-2.5v1.5m-.2-.7v1.5m1.5 32.2v1.5m-.6-10v1.5m1.6-30v1.5m.8-10.1v1.5m.9 3.5v1.5m.3-1v1.5m.6 10.7v1.5m.8-49.6v1.5m.5 23v1.5m.7-6.5v1.5m1.2-1.9v1.5m1.1-23.6v1.5m-.4-1.6v1.5m1.2-5.4v1.5m.9 22.7v1.5m.4-2.2v1.5m1.1-25.8v1.5m-.1 24.3v1.5m.6-28.2v1.5m1.4 2.7v1.5m-.6 22.6v1.5m1.5-27.2v1.5m.6 24.1v1.5m.6-26.6v1.5m.2 1.8v1.5m1.1 2.5v1.5m.1 19.8v1.5m.9-24.6v1.5m1.1 2.5v1.5m1 1.2v1.5m1.5 15.9v1.5m.8-.3v1.5m-.5-20.1v1.5m1.3 15.9v1.5m.1-2.7v1.5m.8 .5v1.5m.9-3.1v1.5m1.2-18.6v1.5m.8 16.6v1.5m.4-3.7v1.5m1-1v1.5m.1-.2v1.5m1.1-21.9v1.5m.9 18.9v1.5m.5-2.2v1.5m0-18v1.5m1.4 14.1v1.5m.8-1.7v1.5m1.1-23.5v1.5m-.1 4.5v1.5m1.4-3v1.5m0 1.3v1.5m.5-.6v1.5m.3 16.9v1.5m.6-20v1.5m.4 14.8v1.5m.5-2.2v1.5m.6-20.2v1.5m1.1 .3v1.5m.5-1.6v1.5m1.1 13.2v1.5m1.2 .5v1.5m-.4-20.1v1.5m1.5 1.2v1.5m.5-.6v1.5m.6 17.8v1.5m.4-22.2v1.5m0-4.5v1.5m1 1v1.5m1.2 1.9v1.5m.4-2.8v1.5m.4-2.8v1.5m1.2-1.6v1.5m-.2 18.7v1.5m1.4-3.1v1.5m-.4 .6v1.5m1.3-1.8v1.5m.8-22.6v1.5m.8 18.1v1.5m1.7 2.1v1.5m-.1-20.5v1.5m1-3.2v1.5m.8 1.6v1.5m.3 14v1.5m.9-15.8v1.5m-.1 2.4v1.5m.8 2.6v1.5m.3-2.1v1.5m.8-3.5v1.5m.1-2.1v1.5m.8 18.4v1.5m0-24.7v1.5m.8 .6v1.5m1 15.8v1.5m1.1 .2v1.5m.5-.9v1.5m.7-4.1v1.5m-.1 3.3v1.5m.9-7.8v1.5m1.4-.6v1.5m-.3-19.5v1.5m.7 17.4v1.5m.1-20.4v1.5m1.1 15.9v1.5m1.4-1.3v1.5m0-1.6v1.5m.9-.1v1.5m.2-3.6v1.5m-.3-33.1v1.5m1.1 31v1.5m-.5-19.6v1.5m1.1 16.2v1.5m0-19.8v1.5m1.2-3.1v1.5m-.1 19.4v1.5m1.1-22.2v1.5m1 12.9v1.5m0-17.4v1.5m1.1 11v1.5m-.3-21.2v1.5m1 9v1.5m.1 .5v1.5m1.1 4.1v1.5m.2-.3v1.5m.9 8.9v1.5m.8-18.9v1.5m1.6 4.1v1.5m.4-2.3v1.5m-.1 24.8v1.5m1.2-24.9v1.5m.2 19.7v1.5m1.2-25.6v1.5m1 21.8v1.5m.9-2.9v1.5m1.1-22.5v1.5m.3 .3v1.5m.5-1.4v1.5m.5 16.7v1.5m.3-22.4v1.5m1 20.1v1.5m0-22.2v1.5m1.2 19.2v1.5m.2-23.1v1.5m.7 23v1.5m.1-5.8v1.5m1.2-20.7v1.5m-.4 19.4v1.5m.9-23.8v1.5m.9 24.1v1.5m1.3-.5v1.5m-.3 .2v1.5m1.6-21.6v1.5m.4 27.3v1.5m.4 2.3v1.5m1.2-32v1.5m-.4-2.2v1.5m1.1 1.5v1.5m1 .3v1.5m1.1 35.4v1.5m.3-38.1v1.5m.4 39.3v1.5m1.5-3.5v1.5m-.2-51.4v1.5m1 52.2v1.5m.8-46.7v1.5m.9 47.9v1.5m.3-5.1v1.5m1 1v1.5m0-42.8v1.5m.5-6.3v1.5m.7 2.1v1.5m1 47.5v1.5m-.7 3.2v1.5m1.5-50.1v1.5m-.4-.8v1.5m1.3 46.1v1.5m.1-44v1.5m.8-6.1v1.5m.2-1.5v1.5m.9 50v1.5m.4 2.4v1.5m1 2.4v1.5m-.2-9.5v1.5m.8 3.8v1.5m-.2-52v1.5m.8 53v1.5m.8-74.8v1.5m.4 16.6v1.5m.2 60.5v1.5m1.2 .1v1.5m.9-55.5v1.5m-.2 56.1v1.5m1-7.1v1.5m.3 8.2v1.5m.7-6.3v1.5m.1-63.1v1.5m.6 .8v1.5m1.6 47.9v1.5m1-46.3v1.5m1 51.3v1.5m.7-54.4v1.5m-.3-1.5v1.5m1.8 1.2v1.5m-.8 44.6v1.5m1.8-46.4v1.5m-.2 45.9v1.5m1.2-48.7v1.5m-.8-1.1v1.5m1.7 43.9v1.5m.6-11.8v1.5m1.3-51.3v1.5m0 42.4v1.5m.7-45.5v1.5m1.2-12.8v1.5m1.2 3.3v1.5m-.7 1.4v1.5m1-2v1.5m1.7 31.2v1.5m1-37.2v1.5m.9 32.6v1.5m1-31.9v1.5m-.1 27.7v1.5m1-26.3v1.5m-.1-5.1v1.5m1.2 4.3v1.5m-.2 45.9v1.5m.6 2.3v1.5m.7-1.8v1.5m.6 11.3v1.5m.4-7.3v1.5m.7-50.3v1.5m-.2-8v1.5m1.6 60.5v1.5m-.1-6.8v1.5m.6-54.1v1.5m.7-7.6v1.5m1.3 72.8v1.5m-.2-73.5v1.5m1.2-3.9v1.5m1.2 56.4v1.5m.7-6.1v1.5m1.3-54.5v1.5m1-3.2v1.5m1.1 2.9v1.5m-.5 41.2v1.5m1.5-9.1v1.5m-.2 6.7v1.5m1.4-19.5v1.5m.7 1.3v1.5m1.2-35.6v1.5m-.3 29.8v1.5m1.3 3.9v1.5m0-6.2v1.5m.8-31.7v1.5m-.2-3.3v1.5m1.4-3.3v1.5m1.1 27.5v1.5m-.7 1.3v1.5m1.3-33v1.5m1.3 33.8v1.5m-.2-35.7v1.5m.6 28v1.5m.5-29.5v1.5m.9-1.8v1.5m.6-3.7v1.5m1.6 21.4v1.5m-.2 2v1.5m.9-13.9v1.5m1.1-31.3v1.5m-.3-.8v1.5m1.3 27.9v1.5m.9-32.2v1.5m.4 26.2v1.5m.6-1.5v1.5m.7-30.9v1.5m1.3 31.2v1.5m.1-30v1.5m1.3-4.7v1.5m-.4 33.3v1.5m1-31.2v1.5m1.3 25.2v1.5m-.3-26.2v1.5m1-4.5v1.5m-.2 27.2v1.5m.8-30.9v1.5m.5 30.2v1.5m.9-5.7v1.5m1.2-26v1.5m-.1-4.8v1.5m1.3 28.2v1.5m-.8-34.5v1.5m1.5 32v1.5m-.1-29.5v1.5m.8-6v1.5m.5 3v1.5m.5-.8v1.5m.4-2.8v1.5m1 30.9v1.5m1.2-4.2v1.5m-.3-36.6v1.5m.9 32v1.5m.1 4.9v1.5m1.3-8.1v1.5m-.6 1.2v1.5m.9-38.6v1.5m.3 59.7v1.5m1.2-59.2v1.5m.1-5v1.5m1 32v1.5m.9-2.5v1.5m.9-30.3v1.5m-.4 25v1.5m1.1-1.9v1.5m-.2-28.4v1.5m1.1 .4v1.5m.1 28.9v1.5m1.3-31.8v1.5m-.2-7.3v1.5m1.4 33.3v1.5m.9 1.7v1.5m.8-.5v1.5m1.2-31.9v1.5m.9-2.2v1.5m.5-5.8v1.5m.5-1.6v1.5m.7-10.1v1.5m1.6 14.8v1.5m.9-3.2v1.5m-.7 .4v1.5m1.3 .5v1.5m.8-23.6v1.5m1.1 1.2v1.5m1.5-3.2v1.5m.7-3.3v1.5m.6-4v1.5m.3 22.5v1.5m.1-54v1.5m1.2 49.8v1.5m.7-5v1.5m1.1 1v1.5m.1-22.7v1.5m.7-9.6v1.5m.6-2.1v1.5m.6-8.3v1.5m-.3-1.5v1.5m1.6 20.5v1.5m-.4 1.1v1.5m1.5-35.7v1.5m0-4v1.5m.2-3.6v1.5m.1 39.2v1.5m1-35.7v1.5m1.3 30.4v1.5m.7-3.6v1.5m1.6 1.1v1.5m-.6-2.7v1.5m1.4 2.3v1.5m-.2 2.5v1.5m1.2-37.7v1.5m0-7.2v1.5m.6 36.6v1.5m.7-41.5v1.5m.4 40.1v1.5m-.2-36.5v1.5m1.5 31.2v1.5m0-4.4v1.5m1-2v1.5m-.5-33.4v1.5m1 31.5v1.5m.1-1.9v1.5m.9-4.8v1.5m1.4-1.5v1.5m-.3-40.3v1.5m1.1 37.7v1.5m1.3-2.5v1.5m0-41.2v1.5m1.3 39.4v1.5m.6-4.9v1.5m-.1-2v1.5m1.4-33.5v1.5m-.6 33.2v1.5m1.4-4.1v1.5m.5-35.7v1.5m.4 72.1v1.5m1.2-71.8v1.5m0 30.2v1.5m1.2-35.4v1.5m-.1-1.4v1.5m.8 36.8v1.5m.1-33.8v1.5m.9-.7v1.5m-.4 31.2v1.5m1.3-43.9v1.5m1 7.5v1.5m1.1 28.9v1.5m1.3-36.6v1.5m-.4 36.8v1.5m1-3.1v1.5m-.1-38.1v1.5m.9-3.6v1.5m.9-1.1v1.5m.1-4.6v1.5m1.1-3.2v1.5m-.2 38v1.5m1.1-42.6v1.5m1.2 32.9v1.5m.8-34.3v1.5m1.4-1v1.5m.2-.3v1.5m.4 2v1.5m.4 1v1.5m1 33.9v1.5m-.1-39.5v1.5m.6 .8v1.5m1-4.7v1.5m.2 28.7v1.5m1-32.6v1.5m.3 32.2v1.5m1.1-36.3v1.5m-.2 2.1v1.5m1.1 33.7v1.5m-.3-33.7v1.5m1.3 25.4v1.5m-.1-.1v1.5m1.1-26.9v1.5m.7 26v1.5m.4-30.2v1.5m.3 26.6v1.5m.2 2.3v1.5m1-3.9v1.5m.8 0v1.5m.8-35.9v1.5m.7 .3v1.5m.2 32.4v1.5m.8-33.4v1.5m-.3-2.4v1.5m1.1 6.5v1.5m.9 6.5v1.5m.8 5.2v1.5m.2 11.8v1.5m1.3 .7v1.5m.2 0v1.5m.4-5.8v1.5m1.6-15.3v1.5m-.3-2.8v1.5m.8 12.3v1.5m-.1-1.5v1.5m1.4-15.7v1.5m1.2 11.8v1.5m-.6-1.2v1.5m1.2-2.7v1.5m1.2-1.1v1.5m.1-16.8v1.5m.6 16.6v1.5m.2-3.9v1.5m1.3-15.4v1.5m.6 12.7v1.5m1 1.2v1.5m0-17.8v1.5m1.2 14.7v1.5m.1-1.1v1.5m.6-3.3v1.5m.5-15v1.5m1 14.9v1.5m.7-16.3v1.5m-.2-3.9v1.5m.9 13.3v1.5m.6-16v1.5m.5 16.8v1.5m.9-21.9v1.5m.7 15.9v1.5m.7-15.1v1.5m-.1-4.4v1.5m1 .8v1.5m.9 12.9v1.5m.3-.2v1.5m.4-15.5v1.5m1.8-2.2v1.5m-.1 14.5v1.5m.4-2.3v1.5m.6-.9v1.5m.3-16v1.5m.2-2.7v1.5m1.6-1.8v1.5m-.3-2.4v1.5m.5-.8v1.5m.5 12.7v1.5m1.3-16.8v1.5m-.5-3.5v1.5m1.2 13.9v1.5m.8-3.4v1.5m1.3-14v1.5m1 11.3v1.5m-.2-.2v1.5m.7-17.3v1.5m.3-4.3v1.5m.9 16.2v1.5m-.1-14.9v1.5m1.5-1.2v1.5m1-8.7v1.5m.7 12.6v1.5m1.4-5.6v1.5m.6-2.3v1.5m.7-1.9v1.5m.3-1.3v1.5m.8 2.8v1.5m.1-34.3v1.5m.9 27.5v1.5m.9-4.1v1.5m1.3-26.2v1.5m1.2-7.3v1.5m-.1 29.6v1.5m.8 4.3v1.5m.7-5.6v1.5m1.2-2.9v1.5m.1-.8v1.5m1.1-36.3v1.5m.2 2v1.5m.9 2.2v1.5m1-6.3v1.5m-.5 29.7v1.5m1.7-.2v1.5m-.2-33.5v1.5m.5 2v1.5m.4 25.2v1.5m1 .1v1.5m-.2 2v1.5m.9-2.9v1.5m1.6-36.5v1.5m.1 36.4v1.5m.5-31.2v1.5m.2-.6v1.5m.9-3.7v1.5m-.2 24.8v1.5m.8-27.7v1.5m1.6 24.8v1.5m-.3-1.2v1.5m1-27.3v1.5m0 24.7v1.5m1-32.4v1.5m1.4 29.8v1.5m.9 1.1v1.5m0 2.4v1.5m.4-3.3v1.5m.8-2.5v1.5m.9-1.3v1.5m-.4-29.3v1.5m.9 27.8v1.5m-.1-29.6v1.5m1.7 27.6v1.5m-.3-32.5v1.5m1.2-10.5v1.5m-.3 34.3v1.5m.7-2.7v1.5m0-31.1v1.5m1.2-.4v1.5m.1 30v1.5m1.3-37.5v1.5m-.3 31.9v1.5m0 46.1v1.5m.8-48.5v1.5m-.2-2.8v1.5m1.2-28.4v1.5m1.5-2.3v1.5m-.1-3.6v1.5m.7-1.1v1.5m-.2-2.1v1.5m1.6 26.1v1.5m-.1-30.7v1.5m.5 .6v1.5m1.5 23.1v1.5m1.1-.4v1.5m-.6-33.5v1.5m1.5-2.4v1.5m-.2 31.1v1.5m.7-32.9v1.5m1.3-5v1.5m.1 34.4v1.5m1 1.5v1.5m.2-39.8v1.5m.3-.8v1.5m.1 35.7v1.5m1.4-33.9v1.5m-.4 24.6v1.5m1.5-29.5v1.5m0-1.8v1.5m.8-.2v1.5m-.2 .7v1.5m1.3-1.5v1.5m-.1-1.2v1.5m1.3-2.2v1.5m.7 1v1.5m.1 26.9v1.5m.9-33.6v1.5m-.2-5.7v1.5m1.4 31.2v1.5m-.5-35.9v1.5m1.5 1.1v1.5m.8 26.7v1.5m1.2-35.3v1.5m-.3-2.4v1.5m1.3 36.5v1.5m-.1-42v1.5m.7 38.4v1.5m1.6-35v1.5m.6 14.5v1.5m.2 32.9v1.5m.8 6.8v1.5m.7-27.9v1.5m0 31.6v1.5m1.1-2v1.5m0-3.5v1.5m1.6-1.5v1.5m.4 .9v1.5m.6-5.4v1.5m.3-30.8v1.5m.1-.3v1.5m1.1 26.9v1.5m.3-36.3v1.5m.7 31.6v1.5m.5 2.1v1.5m.6-7v1.5m.7-3v1.5m.4-26.8v1.5m1.1 .1v1.5m.6 22.9v1.5m-.1-2.5v1.5m1.7-31.2v1.5m-.5 .5v1.5m.9 2.1v1.5m.5-3.9v1.5m.4 1.3v1.5m0 20.5v1.5m1.1-23.5v1.5m0 16.9v1.5m.9 .6v1.5m.4-2.2v1.5m.7-3v1.5m-.1 1.7v1.5m1.7-24.4v1.5m-.1 2.1v1.5m.8 15.7v1.5m.2-22.7v1.5m.5 18.7v1.5m.1-22.2v1.5m1 1.2v1.5m.3 15.3v1.5m.5-1.5v1.5m.3-18.5v1.5m1 17.4v1.5m.6-23v1.5m1.4 19.7v1.5m.9-1.7v1.5m.9-21.8v1.5m.5-1.3v1.5m1.1 17.4v1.5m-.4-22.5v1.5m1 17.1v1.5m1.2-22.2v1.5m0 20.8v1.5m.5-21.3v1.5m1.3-3.1v1.5m.7 20.7v1.5m.1-4.4v1.5m1.4-.3v1.5m1-.3v1.5m1-19.4v1.5m-.1 19.6v1.5m.7 2.4v1.5m.2-2.4v1.5m1-23.6v1.5m.7 15.8v1.5m1.1-18.9v1.5m.6-2.3v1.5m.4-.3v1.5m1.5-.4v1.5m-.6 21v1.5m1.2-23.9v1.5m.5 16.3v1.5m.5-1.6v1.5m.2-.9v1.5m1-18.8v1.5m.2 15.7v1.5m.9 .6v1.5m-.3-2.1v1.5m.9-33.9v1.5m.9 29.6v1.5m1-47v1.5m.1-1.3v1.5m1 44v1.5m.9-47.7v1.5m.1 35.6v1.5m1.3-.3v1.5m1-3.2v1.5m-.3-3.4v1.5m1.1-39.3v1.5m.4 35.5v1.5m1.1 4v1.5m.9-.4v1.5m-.5-34.6v1.5m1.2-6.2v1.5m.8 37.1v1.5m1.1-5v1.5m.9-28.5v1.5m.3 28v1.5m.7-35.8v1.5m-.1 32.6v1.5m1.4 .1v1.5m1.1-2v1.5m-.2 38.3v1.5m.9-42.3v1.5m.2-33.2v1.5m.7 32.3v1.5m.2-29.9v1.5m1.2 26.7v1.5m-.2-34.4v1.5m1.1 1.7v1.5m1.1-.2v1.5m.8-4v1.5m.9-3.2v1.5m0 3.5v1.5m1.2-1.3v1.5m0-3.8v1.5m1.1-7.3v1.5m.2 4.7v1.5m.6 25v1.5m.4-29v1.5m-.4-73.2v1.5m.6 64.6v1.5m.8 29.7v1.5m.4-33.1v1.5m0-3.6v1.5m1.5-4.4v1.5m-.2 29.3v1.5m.5-2.1v1.5m.6-5.3v1.5m1.1-44v1.5m-.3 1.2v1.5m1.3 33.1v1.5m-.1-35.6v1.5m.7 35.6v1.5m-.1-4.4v1.5m1.2-45.4v1.5m.2 2.3v1.5m1-2.3v1.5m.7 32.8v1.5m.3-1.5v1.5m1.1-45.7v1.5m1 0v1.5m.4 41.4v1.5m.2-48.8v1.5m1 2.3v1.5m.1-2.2v1.5m.6 45.1v1.5m1-60.5v1.5m1.3 3.7v1.5m.1-5v1.5m.7-4.6v1.5m1.6 .8v1.5m-.2 40.2v1.5m1.1 6.8v1.5m.9-51.5v1.5m-.3 41.1v1.5m1.6-37.7v1.5m-.6 0v1.5m1.5-10.2v1.5m.4 53.9v1.5m0-.7v1.5m1.6-48.1v1.5m-.1 3.9v1.5m.9-3.9v1.5m.8-3.5v1.5m-.2 42v1.5m1.6-43.1v1.5m-.4-1.7v1.5m1-5v1.5m.5 54.9v1.5m.6-50.6v1.5m.8 35.7v1.5m.4 2.7v1.5m.9-36.5v1.5m0 29.5v1.5m.9-35.7v1.5m.3 34.2v1.5m.8-.1v1.5m.2 1.8v1.5m.6-3.6v1.5m.2-28.8v1.5m1.2-.3v1.5m.8-1.3v1.5m1.3-7.6v1.5m0 3.1v1.5m.4 26.7v1.5m0 .6v1.5m1-7.3v1.5m.9-27.5v1.5m.5-1.7v1.5m1 24v1.5m-.3-29.9v1.5m.7-.8v1.5m0-4.7v1.5m1.6 31.6v1.5m-.3-5v1.5m.8-30.5v1.5m.2-.4v1.5m.7 27.4v1.5m.6 4v1.5m.8-8.3v1.5m.2 2.5v1.5m.6-35.9v1.5m.6-.3v1.5m.9-.6v1.5m.1-.7v1.5m.5-.2v1.5m1.3 26.3v1.5m-.3-1.1v1.5m1-27.2v1.5m.5-3.2v1.5m-.4 78.6v1.5m.8-85v1.5m.2 2.3v1.5m.9 22.4v1.5m.4-35.2v1.5m.6-7.7v1.5m1 38.4v1.5m1.5-58.9v1.5m-.4 53.7v1.5m1.1-5.1v1.5m-.1-.9v1.5m.7-47.8v1.5m0-1.7v1.5m1.2 37.9v1.5m.7-5v1.5m.4-44.2v1.5m1.2 43.7v1.5m.1 7.1v1.5m1-1.4v1.5m-.1-43.1v1.5m.6 1.2v1.5m.2-33v1.5m.9 75.6v1.5m.9 .2v1.5m.9-1.9v1.5m1.2-59.5v1.5m.3 56.7v1.5m.5-61.3v1.5m.1-10.7v1.5m1 10.6v1.5m1.5 40.3v1.5m-.1 1.3v1.5m.6-54.7v1.5m.4 3.6v1.5m.6 7.9v1.5m1.3 1.9v1.5m.5 51.1v1.5m1.3-44.6v1.5m-.2 2.2v1.5m.9 44.3v1.5m1.8-.3v1.5m.5 .8v1.5m-.2-34.5v1.5m1.2 34.9v1.5m-.3-41.5v1.5m1.4 31.7v1.5m-.2-31.4v1.5m1.6-4.5v1.5m-.1 34v1.5m.9-38.7v1.5m-.5 36.8v1.5m.3 34.9v1.5m.9-72.7v1.5m1.4 31.7v1.5m.8-37.1v1.5m-.1 2.8v1.5m1.1 32.2v1.5m.7-37v1.5m.3 28.9v1.5m1.2-42.2v1.5m1 40v1.5m-.2-6.3v1.5m1-35.3v1.5m-.5-4.1v1.5m1.3 37.4v1.5m-.3-47.2v1.5m1.7 43v1.5m-.4-2.1v1.5m.9 .2v1.5m1.3-3.1v1.5m.3-.2v1.5m.5 3.8v1.5m1.5-48.4v1.5m.4 1.9v1.5m-.1-4.1v1.5m1.2 34.2v1.5m0-35.2v1.5m1.1-7.9v1.5m.4 33.3v1.5m1 2.6v1.5m.3-3.3v1.5m.2-2.4v1.5m1.3-37.4v1.5m.2 2.8v1.5m.6 26.2v1.5m.2-38.3v1.5m.6 5.7v1.5m.3-2.7v1.5m1.1-9v1.5m.8 40.7v1.5m0 45.2v1.5m1.3-54.5v1.5m-.2 .4v1.5m.7-7.5v1.5m1-42.6v1.5m.2 45.6v1.5m0 28.2v1.5m1-80.1v1.5m1.1-6.8v1.5m.1 37v1.5m1 1.6v1.5m.5-43.8v1.5m.1 36.9v1.5m1.6-44.8v1.5m.4 35.4v1.5m1-40v1.5m0 40.6v1.5m.9-40.6v1.5m1.4-8.4v1.5m1.1-6.5v1.5m-.1 6.1v1.5m.7 36.9v1.5m1.2-31.4v1.5m1.2 5.4v1.5m-.5-6.7v1.5m1.3 52.4v1.5m-.2-48.2v1.5m1.4 12.9v1.5m-.6 32.6v1.5m1.6 4.7v1.5m-.4-26.4v1.5m1.2 29.8v1.5m.1-3.9v1.5m1.3-25.2v1.5m0-1.9v1.5m.9 23v1.5m.8-1.9v1.5m.5-30.4v1.5m.1 .4v1.5m1.2 .5v1.5m.2-2.4v1.5m1 22.1v1.5m-.1 4.5v1.5m.8-4.2v1.5m1 .4v1.5m1.1 10.2v1.5m0-2.3v1.5m.9-14.2v1.5m-.1-1.7v1.5m1.7 6.4v1.5m-.2 26.5v1.5m1.1-33.3v1.5m.4 27.4v1.5m.1-2.2v1.5m.8-29.4v1.5m0 25.8v1.5m1.6-30.9v1.5m.5 6.2v1.5m.2-2.4v1.5m.7-.1v1.5m1.3-1.4v1.5m.2 22.6v1.5m1.3-.4v1.5m.7-5v1.5m0-.7v1.5m.7-1.6v1.5m.5-26.2v1.5m.5-2.7v1.5m1.2 21.9v1.5m-.2-24.4v1.5m1.2 23.7v1.5m.7-25.9v1.5m0-.9v1.5m1.1 25.2v1.5m.2-27.1v1.5m1.3 2.4v1.5m.5 1.9v1.5m.9-3.2v1.5m.7 .3v1.5m.9 22.1v1.5m.4 1.7v1.5m.6-4.1v1.5m.6 4.1v1.5m0-33.3v1.5m.9 25.6v1.5m-.1 .1v1.5m1.6-26.4v1.5m-.4-3.7v1.5m1.1-1.2v1.5m.9 25.7v1.5m1.4 1.3v1.5m.1-28.6v1.5m.7 21v1.5m0-23.9v1.5m1.2 19.1v1.5m.8 2.4v1.5m.6-29.4v1.5m.9 3.5v1.5m.7-5.9v1.5m1.1 .4v1.5m.9-1.1v1.5m0-1.8v1.5m.6-.1v1.5m.1 19.5v1.5m.7-24.5v1.5m-.1 20.4v1.5m1.2-.4v1.5m0-2.9v1.5m1.2-25.3v1.5m.7-.7v1.5m.1-2.3v1.5m1.1 26.8v1.5m1-27.7v1.5m-.2-.2v1.5m1.4 22.8v1.5m.7-1.2v1.5m.1-24.2v1.5m1.4-2.4v1.5m.5 21v1.5m1.4-2.1v1.5m-.3-26.9v1.5m1.2 .5v1.5m-.1 21.2v1.5m1.1-1.8v1.5m-.5-24v1.5m1.2 17.5v1.5m.9 .2v1.5m.4-2.5v1.5m1.2-26.6v1.5m.6-3.2v1.5m0 .3v1.5m.8-1.4v1.5m.6-5.6v1.5m1 .3v1.5m.7 .7v1.5m1-6.4v1.5m.1 3.3v1.5m.6 21.4v1.5m.4-1.2v1.5m1.1 .5v1.5m-.6-25v1.5m1.6 21.9v1.5m-.4 .1v1.5m1-25.7v1.5m-.2-6.6v1.5m1.1 5.1v1.5m.5 21.1v1.5m.4-3.3v1.5m1.4-2.6v1.5m.4 3.3v1.5m.5-6.4v1.5m.5-.8v1.5m.9-25.3v1.5m-.5 21.9v1.5m1-27.7v1.5m0 3.1v1.5m1.2 26.5v1.5m1-4.7v1.5m.3-1.6v1.5m.5-25.7v1.5m.2 22.9v1.5m1-17.5v1.5m.7 35.2v1.5m1.1-28v1.5m-.1 29.2v1.5m1 7.7v1.5m.4-1.5v1.5m.6 11.2v1.5m.3-52v1.5m.7 8.7v1.5m1.3 43.7v1.5m.9-2.2v1.5m.4-1.2v1.5m.5-38.3v1.5m0-1.7v1.5m1.1 42.2v1.5m1.1-40.4v1.5m.3 .5v1.5m1 35.8v1.5m-.3-1.3v1.5m.9 5.7v1.5m.8-40.5v1.5m1.7-10.1v1.5m.4 42.6v1.5m.1-46v1.5m1.2-3.9v1.5m.9-8.6v1.5m-.2-1.9v1.5m1-2.2v1.5m-.1-5.2v1.5m1.3 39.3v1.5m1.2-50.5v1.5m-.4 2.9v1.5m1-2.4v1.5m.2 0v1.5m1.2 43.6v1.5m.6-51.8v1.5m.5 38.7v1.5m.6-7.2v1.5m1.3 .9v1.5m1-53v1.5m0 45v1.5m.9-45.4v1.5m-.2-1.1v1.5m1.4 39.5v1.5m.6-49.9v1.5m.8 2v1.5m1.4 31.7v1.5m.2-3.8v1.5m.7-2.7v1.5m1-47v1.5m1.1 42.8v1.5m.3-41v1.5m.9 32.3v1.5m-.4-30.4v1.5m.8 31.2v1.5m1.3-35.8v1.5m1.3-3v1.5m-.7 33.7v1.5m1.2-6.3v1.5m1-5.3v1.5m-.2-32.6v1.5m1.6 26.3v1.5m.6-31.3v1.5m.1-.9v1.5m1.4-9.6v1.5m-.2-.2v1.5m1.2-11.9v1.5m-.6 19.5v1.5m1.4-4.1v1.5m-.2-.6v1.5m1.4-28.7v1.5m.4 5v1.5m0-2.4v1.5m1.6 28.4v1.5m-.5-.4v1.5m1.3-2.7v1.5m0-26.7v1.5m.8 24.1v1.5m1.2-4.2v1.5m-.4-23.3v1.5m1.7-5.2v1.5m.6-2v1.5m-.1-.7v1.5m.9 30.1v1.5m1-6.1v1.5m1.2 0v1.5m.1-25.2v1.5m.9 24.9v1.5m1.1-10.8v1.5m-.2 1.3v1.5m1.1-38.3v1.5m.4-1.2v1.5m.3 15.7v1.5m.1-30.3v1.5m1.6 31.5v1.5m.5 3.4v1.5m.2-29.4v1.5m1 30.1v1.5m0-2v1.5m.7-24.9v1.5m-.1 26.2v1.5m1.6-39.7v1.5m-.1-4.2v1.5m.5 5.2v1.5m1.5 25.4v1.5m-.3-29v1.5m1-4.4v1.5m.1 .6v1.5m1.1 27v1.5m0 1.6v1.5m.7-3.5v1.5m0 .1v1.5m1.3-6.6v1.5m.6-.9v1.5m.5-28.2v1.5m1-1.3v1.5m.6-2v1.5m.3-.7v1.5m.6-5.6v1.5m1.5 2.4v1.5m.5 30.9v1.5m1.6-31.3v1.5m.5-2.1v1.5m1.2 26.5v1.5m.8-8v1.5m.3 10.5v1.5m.5-14.6v1.5m1.2-30.4v1.5m-.1-4.6v1.5m1.6 30.4v1.5m-.5-40.2v1.5m1 35.7v1.5m.4-37.6v1.5m.7-5.4v1.5m.4 36.3v1.5m.4-48.5v1.5m.3 50.2v1.5m1.1-10.6v1.5m-.2 3.9v1.5m1-56.1v1.5m1.5-6.9v1.5m.5 40.7v1.5m-.1-3.4v1.5m1.1-5.2v1.5m-.1-47.1v1.5m1-15.6v1.5m.5 8.2v1.5m.5 41.8v1.5m1-43.5v1.5m.1-6.3v1.5m1.1 4.6v1.5m-.2 48.8v1.5m.9 .8v1.5m1.3-4v1.5m.3-56.7v1.5m1 10.4v1.5m.7 54v1.5m-.2-51.4v1.5m1 17.3v1.5m.5 38.4v1.5m.6-33.8v1.5m1 43.8v1.5m1.1-36.6v1.5m-.4 37.1v1.5m1.3-38.2v1.5m.2 37.5v1.5m1.1-36.9v1.5m.2 35.2v1.5m.4-.8v1.5m.1-.2v1.5m1.2 5.7v1.5m-.2-42.7v1.5m1.2-3.3v1.5m0 39.3v1.5m1.1-1.2v1.5m-.4-45.8v1.5m1.2 41v1.5m1.1-1.9v1.5m-.3-41.3v1.5m1.5-1.5v1.5m-.6-2.1v1.5m1.5-.9v1.5m-.1-.3v1.5m1.3-8.9v1.5m.9 50.3v1.5m-.7-6.7v1.5m1.6-32.3v1.5m-.3 32.2v1.5m.8-30.4v1.5m1.5-.1v1.5m-.5 33.5v1.5m1.1 1.1v1.5m.8-41.2v1.5m1.6 41.8v1.5m1.1-31.4v1.5m.4-3.7v1.5m.6 36.6v1.5m1-3.8v1.5m.9-1.4v1.5m.9-26.2v1.5m1.2 25.5v1.5m.5 .7v1.5m.3-27.9v1.5m1.3-.5v1.5m-.6-2.4v1.5m1.5-2.4v1.5m.9 26.3v1.5m.5-2.2v1.5m1.4-1.9v1.5m-.3-2.2v1.5m1.2-31v1.5m.3 26.5v1.5m.6-.5v1.5m.9 1.5v1.5m.5-5.8v1.5m.9-1.6v1.5m.5 1.8v1.5m1.4-26.4v1.5m-.4-7.3v1.5m1.6 29.3v1.5m-.6-4.2v1.5m1.3-22.9v1.5m.2 23.8v1.5m.7-29.8v1.5m0 23.5v1.5m1.1-21.6v1.5m.3 23.1v1.5m.7-5.2v1.5m1.2-25.8v1.5m.8 2.2v1.5m1-2.8v1.5m-.3-.3v1.5m1.4-3.6v1.5m1 25.5v1.5m.1-1.2v1.5m.7-27.1v1.5m.2 20.4v1.5m1.1 .2v1.5m-.2-22.7v1.5m.7 22v1.5m.4-27.2v1.5m1.2 22.1v1.5m-.1-23.7v1.5m1.1-4.4v1.5m-.5 24.9v1.5m1.1 4.3v1.5m-.2-7v1.5m1.4 .2v1.5m.6-3.1v1.5m1.4-23.3v1.5m.3-3.1v1.5m.9 20.9v1.5m-.5-23.4v1.5m1 20.2v1.5m.1-24.9v1.5m1.4 20.5v1.5m-.5-23.8v1.5m1.6-1.1v1.5m-.5 23.6v1.5m1.4 1.8v1.5m.8-31.4v1.5m-.1 19.3v1.5m.7 0v1.5m1-26.6v1.5m.2 22.3v1.5m.9-.8v1.5m1.3-4v1.5m0-29.6v1.5m.8 6.1v1.5m-.3 23.4v1.5m.4-52.4v1.5m.6 47.4v1.5m0-25.1v1.5m1.3 23.8v1.5m.3 2.7v1.5m.8-2.4v1.5m-.4-30.3v1.5m1.3 36.4v1.5m.2-34v1.5m.9 38.7v1.5m1 8.7v1.5m.1-52.6v1.5m.8 59.8v1.5m-.2-5.4v1.5m1.3 4.7v1.5m1.1 5v1.5m-.3 6v1.5m1.2-8.4v1.5m.7-4.2v1.5m.6-1.3v1.5m.9-1.1v1.5m-.3-46.9v1.5m1.4-.9v1.5m-.2 .5v1.5m1.2-7.7v1.5m-.6 48.8v1.5m1.4-48.1v1.5m-.4-1.4v1.5m1.4 4.8v1.5m.3 39.3v1.5m.4-42.3v1.5m1.4 45.1v1.5m-.1 0v1.5m1.2-4.2v1.5m.6 10.3v1.5m.3-9.6v1.5m.6-45.8v1.5m-.1 43.3v1.5m1.2-36.3v1.5m1.3 42.7v1.5m-.6-41.8v1.5m1.6 44.3v1.5m-.3-48.6v1.5m1-1.2v1.5m1.5-.1v1.5m.6-2.8v1.5m0 38.3v1.5m1.1-7.1v1.5m-.4-39.2v1.5m1.1 35.3v1.5m.4-36.9v1.5m1-.7v1.5m.5-3.9v1.5m1.2-5.3v1.5m1.3 44.4v1.5m-.3-11.2v1.5m1.4-51.9v1.5m.5 52.3v1.5m.5-48.4v1.5m.8 51.5v1.5m-.2-49.2v1.5m.8 36v1.5m.1 6.6v1.5m1.4-44v1.5m-.4 36.5v1.5m1.4-.4v1.5m-.3 3.4v1.5m1.3-31.3v1.5m-.2 77.6v1.5m.8-38.9v1.5m1.2-26.6v1.5m-.1 38.4v1.5m.9-41.3v1.5m1.1 .8v1.5m-.1 37v1.5m.2 21.4v1.5m1.2-63v1.5m1.1 33.9v1.5m0-2.9v1.5m.9-45.8v1.5m1.2 28.2v1.5m-.5-36.2v1.5m1-13.1v1.5m.3 33.7v1.5m.7-9.8v1.5m.5-.8v1.5m.2-47.4v1.5m.5 3.3v1.5m.7 36.5v1.5m1.4 11.1v1.5m-.5-48.2v1.5m1.6 1v1.5m.3 33.2v1.5m1.2 1v1.5m.5-2.3v1.5m.9-13.1v1.5m-.5 .7v1.5m1-11.9v1.5m1.3-5.9v1.5m1.3-52.3v1.5m.1-7.2v1.5m.4 34.1v1.5m1.3-38.9v1.5m-.3-1.9v1.5m1.1-4.1v1.5m.3 27v1.5m.7 8.8v1.5m1.2 6v1.5m.1-45.9v1.5m.8 11.9v1.5m0-1.6v1.5m.9-.3v1.5m1.2 5.5v1.5m-.3 2.7v1.5m.8 34.2v1.5m1.5-23.5v1.5m.9-6.9v1.5m.6-12.5v1.5m.8-9.4v1.5m.3 37.5v1.5m1.5-46v1.5m.8 28v1.5m-.1 3.1v1.5m1-54.9v1.5m.9-2.4v1.5m0-.7v1.5m1.3 39.1v1.5m-.2 20v1.5m1.1-74.5v1.5m.2 42.9v1.5m.8-1.7v1.5m.6-58.1v1.5m.7 48.4v1.5m.8-4.5v1.5m.6-56.1v1.5m.5-4.7v1.5m1 37.3v1.5m1.1-6.8v1.5m.1-50.7v1.5m.4-3.5v1.5m.3-10.3v1.5" stroke="#41BDEC" stroke-width="1.6" fill="none"/>
<path d="M108.8 205.3v42.7m1-42.7v43.2m1-47.1v44.9m1-45.4v53.3m1-51.5v50.9m1-55.8v57.9m1-45.3v48.1m1-38.2v30.9m1-31.1v18.4m1-15.6v21.4m1-23v16.2m1-17.2v17.2m1-15.7v17.1m1-19.2v17.8m1-15.3v14.1m1-16.3v17.4m1-18.4v17.2m1-15.8v18.7m1-19.3v17.8m1-18.8v20.8m1-20v19.4m1-31.5v26.6m1-42.9v37.2m1-46.5v40.6m1-46.4v41.7m1-44.5v32.9m1-36v35.5m1-39.6v43m1-37.8v37.5m1-43.2v43.9m1-44.5v57.2m1-53v36.2m1-34.6v42.7m1-30.7v29.8m1-24.9v27.3m1-24.6v30.4m1-23.7v25.3m1-24.1v22.4m1-22.7v21.1m1-20.9v23.2m1-24.7v25.1m1-25.1v25.3m1-22.6v19.3m1-20.1v20.2m1-21.4v23.4m1-24.2v23.7m1-25.2v22.7m1-21.2v21.4m1-19.5v21.2m1-24.1v25.1m1-21.8v18.9m1-18.9v20.2m1-20.9v20.4m1-19.5v21.7m1-22.6v19.3m1-18.7v18.8m1-20.8v20.8m1-21.2v24.3m1-22.9v20.5m1-21.8v24m1-24.6v24.3m1-21.9v20.5m1-19.3v21.8m1-24.1v22m1-21.4v21.7m1-19.9v19.3m1-21.5v23.9m1-22.7v22.9m1-22.9v20.4m1-28.7v23.8m1-33.3v30.6m1-45v40.7m1-50.1v45.1m1-32.7v43.4m1-30.8v29.7m1-21.6v19.9m1-17.7v20m1-23.6v23.8m1-20.5v20.7m1-20.6v21.8m1-23.3v21.3m1-20.2v27.7m1-30.8v23.6m1-21.1v21.5m1-20.6v19.9m1-21.6v23.3m1-23.6v19.7m1-19.7v22m1-20v26.5m1-30.4v23.8m1-5.8v21.4m1-24.2v26m1-17.7v17.8m1-15.1v15.5m1-17.2v16.5m1-23.8v26.5m1-19.1v16.2m1-16.7v18.9m1-16.6v16.2m1-26.7v28.1m1-20.7v18.9m1-18.5v19.3m1-20.3v19.8m1-16.6v15.3m1-18v20.2m1-19.3v18m1-17.9v16.3m1-17.7v19.8m1-15.6v19.1m1-23.1v24.3m1-20.3v25.7m1-24.4v28.1m1-30.5v31.4m1-28.2v28.9m1-27v27.3m1-25.9v31.4m1-33v33.7m1-36.5v34.5m1-34.9v36.7m1-37.3v27.6m1-28.3v28.9m1-29.2v20m1-20v21.3m1-24.6v24.2m1-25.1v34.2m1-34.7v23.3m1-21.5v21.7m1-19.3v15.8m1-15.9v18.3m1-20.9v19.1m1-15.7v18.6m1-20.4v21.2m1-24.3v23.4m1-21.4v21m1-17.1v16.3m1-19.3v20m1-20.9v19.3m1-15.7v17.7m1-18.8v17m1-16.5v18.8m1-19.5v19.5m1-19.3v18.8m1-17.9v19.8m1-20.9v19.2m1-17.6v16m1-22.9v26.7m1-18.4v18.8m1-19.1v15.8m1-16.6v19.3m1-18.2v18.1m1-21.7v20.2m1-18.2v17.9m1-19.7v19.7m1-19.6v20.3m1-19.4v21.4m1-19.3v18.3m1-21.1v19m1-16.7v16.8m1-18.3v17.6m1-14.7v17.7m1-19.4v16.5m1-14.2v17.2m1-19.1v18m1-18.9v19m1-19v18.3m1-19v20m1-18.2v15.7m1-17.6v18.7m1-15.4v16.3m1-18.4v19m1-19.5v17.9m1-17.2v17.9m1-15.6v14.7m1-14.7v16.7m1-17.4v15.4m1-15.2v15.5m1-14.2v20m1-18.6v22.1m1-22.9v28.7m1-23.6v30.9m1-30v36.8m1-35v33.4m1-38.7v30.4m1-28.6v27.8m1-29.2v24.6m1-25.9v28.2m1-34.4v28.8m1-26.9v21m1-26.2v23.6m1-27v24.8m1-25.6v24.5m1-28.9v23.1m1-23.4v22.5m1-22.7v18.9m1-21.5v20.1m1-18.8v17.8m1-20.1v22m1-23.2v18.7m1-16.3v16.5m1-17.6v15m1-15.8v17.4m1-16.5v16.1m1-18.3v18.8m1-18.5v18.7m1-17.9v26.1m1-27.2v18.9m1-18.9v17.8m1-19.5v26.2m1-25.3v17.7m1-17.2v16.2m1-17.9v20.2m1-18.7v18.4m1-18.9v17.5m1-16v17.5m1-20.2v20.4m1-19.4v18.2m1-18.6v20.1m1-19.9v18.1m1-16.9v16.1m1-17.1v19.1m1-18.3v16.1m1-14.1v17.6m1-19.3v17.5m1-17.5v15.4m1-18.5v18m1-19.5v20.9m1-22v19.2m1-20.1v23.3m1-28.7v26.9m1-19.1v23.6m1-20.8v18.9m1-14v17.6m1-15.9v17.9m1-11.6v13m1-12.7v12.4m1-12v20m1-18.8v12.4m1-13.8v16.9m1-17.4v16.9m1-16.3v15.4m1-14.8v15.4m1-15.5v15.9m1-17v15.6m1-14.6v16.7m1-15.4v14.7m1-17.2v16m1-13.5v14.2m1-16.8v16m1-14.3v13.5m1-14.3v14.9m1-13.7v15.1m1-14.5v14m1-16.2v14.4m1-12.9v13.2m1-12.3v14.9m1-17.3v16.7m1-17.1v17.6m1-17v16.6m1-17v17.5m1-16.4v16m1-16.7v14.7m1-12.8v14.4m1-16.3v15.9m1-16.3v19.6m1-18.4v18.2m1-18.7v16.3m1-17.9v17.6m1-16.1v14.5m1-15.1v15.9m1-15.1v13.7m1-13.1v22.4m1-22.9v13.4m1-14.2v15.8m1-15.5v15.3m1-15.8v14.4m1-13.9v14m1-12.9v13.5m1-14.2v16.4m1-15.4v13m1-12.4v15.1m1-16v15m1-16.7v14.3m1-13.8v13.9m1-17.3v14.9m1-11.2v18.2m1-15.6v19m1-13.9v20m1-16.8v22.9m1-17.8v19.4m1-18.9v22.2m1-21.1v18.3m1-18v20.6m1-24.3v21.9m1-18.8v22.1m1-26.6v22.4m1-22.7v26.9m1-26.3v22.5m1-21.9v23m1-24.3v23.2m1-20.3v24.5m1-26.3v24.4m1-24.3v24.8m1-25v22.9m1-23.2v23.7m1-23.5v24.8m1-21.9v23.1m1-26.9v23.7m1-20v21.3m1-21.4v23.9m1-26.7v26.1m1-28.9v29.8m1-28.6v27.8m1-25.2v25.3m1-28.8v37.9m1-39.6v25.8m1-22v22.5m1-24.4v23.8m1-21.5v23.3m1-38.7v38m1-21.6v23.6m1-27.7v25.7m1-28.3v21.6m1-27.5v21.5m1-24.6v16.3m1-18.9v18.5m1-19.4v18.5m1-17.6v18.4m1-17v14.8m1-15.7v17.3m1-16.1v16.6m1-18.3v17.3m1-17.9v19.8m1-28.1v25.1m1-14.4v15.5m1-15.7v14.4m1-15.3v16.1m1-17.9v20.3m1-17.6v16.2m1-17.8v17.1m1-14.8v15.4m1-18.4v19.2m1-19.1v17.9m1-15.1v15.1m1-18.9v17.9m1-15.7v18.1m1-17.5v16.5m1-16.6v17.3m1-18.7v16.9m1-17.8v20.1m1-17.5v14.7m1-15.2v15.6m1-14.8v15.7m1-19.4v19.9m1-18.4v18.1m1-17.1v19m1-19.2v17.7m1-18v20.1m1-18.1v17.6m1-18v15.2m1-15.9v17.8m1-20.1v19.9m1-18.7v19.5m1-18.8v15.5m1-21v22.7m1-19.7v17.7m1-17.2v17.5m1-16.3v20.1m1-13.4v17.8m1-17.7v22.1m1-18v25.4m1-22.8v18.7m1-21.7v19m1-21.6v22.2m1-24v17.7m1-21.2v17m1-19.3v12.2m1-14.5v14.6m1-12.8v12.2m1-14.7v14.8m1-13.9v12.5m1-11.8v13.3m1-13.4v12m1-11.8v12.4m1-17.2v18m1-12.7v12.2m1-14.1v13.4m1-13.6v13.8m1-13v13m1-11.9v13.7m1-15.4v14.2m1-13.5v15.5m1-13.7v11m1-10.8v12.8m1-15.4v15.2m1-15v15.3m1-16.1v13.2m1-13.3v15.4m1-13.9v12.3m1-12v12.6m1-12.3v11.1m1-12.8v14.3m1-13v13.6m1-13.8v14m1-13.9v13.9m1-15.5v17.6m1-16.5v13.7m1-13v13.2m1-15.2v13.9m1-13.6v15.7m1-15.6v15.5m1-14.8v14.8m1-13v12.4m1-14.9v14m1-14v14.8m1-15.4v14.5m1-12.6v12.1m1-13.7v13.6m1-13.9v13.1m1-12.4v13.8m1-13.3v14.4m1-13.7v14.8m1-14.6v13.5m1-13v12.4m1-15.9v13.4m1-16.5v15.8m1-22.3v18.2m1-22.1v16.6m1-22.4v19.1m1-24.9v20.3m1-21.7v21.3m1-27.4v22.9m1-24.5v21.9m1-23.2v23.3m1-21.7v24.2m1-23.9v21.6m1-16v19m1-13.1v26.1m1-22.2v21.1m1-13.6v18.2m1-12.7v19m1-15.1v20.7m1-12.7v15.1m1-15.2v14.8m1-14v14.8m1-16v17.2m1-15.9v15.5m1-15v15.9m1-16.2v13.7m1-16.1v17.9m1-17.6v18.3m1-15.5v13.3m1-16.6v16.3m1-13.6v15.5m1-16.3v16m1-17.6v15.9m1-16v16.7m1-13.9v14.1m1-16.5v17.5m1-17v17m1-17.9v15.6m1-13.5v15.6m1-16.4v14.8m1-15.8v16.7m1-14.8v16m1-17.2v19m1-20.6v19.1m1-19.7v21.5m1-23.3v23.6m1-24.8v26.5m1-27.7v28.1m1-26.6v28m1-27.4v27.3m1-31.4v34.9m1-35.2v36.8m1-30v33.6m1-35.7v33.8m1-32.9v36.4m1-41.8v36.1m1-29.7v30.1m1-32.3v32.7m1-31.4v32.6m1-37.3v36.1m1-31.7v35.4m1-35.8v34.1m1-33.6v36.2m1-34.1v29m1-29v35.1m1-36.6v30.3m1-34v33m1-29.4v36.1m1-35.6v31.3m1-28.9v28.9m1-24v29m1-31.8v32.6m1-29.8v30.8m1-25.5v24.7m1-23.3v28.2m1-27.2v27.8m1-24v29.2m1-24v22m1-21.9v24.6m1-21.6v24.7m1-23.8v23.2m1-24.5v28.4m1-28.2v24.5m1-26.2v29.7m1-27.9v27.6m1-30.2v31.3m1-27v21.8m1-24.5v29.5m1-29.6v26.2m1-28.2v27.5m1-23.1v24.8m1-29.5v27.3m1-23.7v27m1-27.9v25.6m1-28.2v30.6m1-27.3v23.4m1-40.7v41.8m1-25.7v24.4m1-24.3v25.1m1-25.9v26.2m1-28.4v28.3m1-30.9v22.4m1-34.3v29.7m1-35.1v24.4m1-29.3v26.5m1-21.4v21.2m1-22.9v23.5m1-21.7v22.1m1-23.9v28.7m1-31.1v28.9m1-25v27.1m1-26.9v35.3m1-34.8v23.6m1-25.5v24.8m1-23.2v24.4m1-23.9v23.9m1-25.8v25m1-28v26.4m1-22.7v27.5m1-26.9v23.2m1-24.6v28.9m1-29.1v26.4m1-27.2v28.6m1-28.2v25.4m1-25.2v26.8m1-29.3v27.6m1-24.1v25.9m1-30v28.6m1-23.3v23m1-24.6v25.5m1-27.2v28.8m1-28.3v24.2m1-20.6v24.3m1-27.3v24m1-23.1v27.5m1-27.6v22.6m1-26.6v28.5m1-23.9v23.6m1-33.4v31.9m1-22.4v25.5m1-27.7v25.2m1-24.3v24.3m1-25.3v26.4m1-26.8v28m1-26.2v25.6m1-26.4v24.4m1-23v25.1m1-24.4v21.6m1-26.1v42.2m1-39.9v23.2m1-25.6v26.1m1-22.1v21.1m1-25v26.5m1-26v24m1-22.7v23.7m1-21.1v21.9m1-26.2v24m1-24.4v26.5m1-24v23.6m1-24.9v20m1-22.8v25.3m1-24.2v22.7m1-23.7v22m1-19.2v19.3m1-21.8v25m1-23.1v20.3m1-19.8v20.7m1-20.7v27.8m1-27.6v20m1-23.1v22.7m1-20.5v20.7m1-24.1v22.6m1-21.6v25.4m1-22.6v22.6m1-25.9v24.7m1-25.3v23.6m1-22.3v24.4m1-23.3v19.4m1-22.2v21.8m1-21.3v20.5m1-23v21.8m1-21.4v23.6m1-23.1v24.2m1-26.7v26.2m1-26v24.9m1-24.1v22.5m1-21.4v18.5m1-21.6v21.5m1-22.7v23.2m1-21.4v16.4m1-18.9v20.6m1-23.8v19.2m1-19.7v18.8m1-17.8v19.8m1-20.3v19.1m1-20v18.6m1-19v15.6m1-13.6v13.8m1-15.8v17.1m1-17.8v19m1-18.3v17.5m1-15.4v15m1-16.9v18m1-17.2v18m1-20.2v18.3m1-16.8v16.2m1-16.7v17.3m1-10.5v17m1-8v13.4m1-8.4v13.3m1-12.2v13.9m1-16.1v18.6m1-18.2v18.5m1-18.7v17.9m1-15.5v15m1-17.5v20.3m1-20.3v18.1m1-14.5v14.4m1-16.3v19.8m1-18.9v17.9m1-17.1v15.3m1-16.1v16.5m1-17.5v20.4m1-19v16m1-17.4v19.9m1-18.6v16.3m1-17.9v21m1-18.4v17.9m1-18v17.9m1-17.4v16.9m1-17v18.8m1-12.8v15.1m1-14.9v20.1m1-15.9v15.6m1-18.7v18.9m1-16.4v17.5m1-16.9v15.2m1-15.1v15.8m1-15.5v15.6m1-17.2v16.4m1-16.5v17.6m1-17.5v18.2m1-17.4v15.9m1-14.2v15.8m1-17.4v17.3m1-18v15.7m1-13.5v14.3m1-17.1v16.6m1-15.8v15.1m1-14.9v16.6m1-15.3v14.1m1-14.6v16.1m1-14.1v13.1m1-15.4v16m1-15v14.9m1-13.8v14.4m1-12.1v12.3m1-12.8v12.7m1-11v12.6m1-13.4v13m1-12v12m1-12.6v13.8m1-13.2v13.5m1-12.8v11.6m1-12.9v12.2m1-11.2v12.7m1-12.8v12.8m1-15v15.1m1-14.6v14.6m1-13v19.8m1-20.2v12.8m1-12.2v12.3m1-14.1v12.4m1-15.9v19.8m1-22.8v15.1m1-16.6v16.1m1-19.5v15.6m1-20.5v18.5m1-21.2v19.8m1-20.5v19.5m1-22.8v18.5m1-19.2v19.2m1-19v18.1m1-22.8v22.3m1-23.2v21.4m1-24.9v20.4m1-22.3v21.7m1-24.1v22.4m1-21.9v20.7m1-22.3v23.3m1-23.8v24.1m1-23.6v20m1-18.3v20.5m1-21v20.7m1-23.8v24.3m1-20.1v20.1m1-23.1v23.5m1-22.5v23.6m1-24.6v21.9m1-21.4v23.1m1-24v23.9m1-25.5v22.9m1-22.2v22.4m1-27.1v28m1-31.1v29.6m1-30.2v28.3m1-32.6v32.4m1-33.9v30.9m1-27.8v33.1m1-30.2v25.4m1-29.9v36.3m1-32.7v28.8m1-20.8v26.9m1-17.3v22m1-12.8v18.5m1-14.1v18.7m1-20.6v18.4m1-17.4v20.6m1-18.6v17.6m1-18.7v21.1m1-22.3v21.3m1-19.1v20.3m1-17.7v20.5m1-23.5v22.8m1-19.5v23.5m1-24.7v22.6m1-22.5v25.5m1-26.2v25m1-23.3v26.5m1-25.3v25m1-25.2v23.2m1-25.2v22.6m1-24.7v26m1-22.7v23.9m1-23.9v23.4m1-23.3v23.7m1-23.4v21.7m1-22.9v27.7m1-28.9v31.5m1-27.2v25.6m1-27.5v26.9m1-24.1v23.3m1-27.5v26.1m1-22.9v28.6m1-28.8v23.3m1-26v25.1m1-23.1v23.4m1-21v21.9m1-25.3v25.6m1-26.2v26.1m1-23.4v24.3m1-27.3v26.5m1-21.7v22.6m1-25.9v24.3m1-23v24.5m1-22.8v21.9m1-22.6v23.9m1-25.2v23.4m1-26.4v24.6m1-22.3v24.1m1-23.2v23.3m1-23.8v22.6m1-20.4v22.9m1-26.4v24.3m1-21.2v35.8m1-39.1v26.4m1-26.7v24.6m1-21.9v31.4m1-25.5v29.6m1-22.8v30.1m1-27.6v32.4m1-27.8v36.1m1-34.6v29.7m1-31.2v33m1-29.7v32.3m1-42v38.2m1-35.2v28.6m1-32.1v29.2m1-34.8v30.7m1-36.4v25.8m1-28.7v24m1-34.8v26.4m1-32.8v23.9m1-23.4v21.7m1-20.6v24m1-23.7v23.3m1-23v24.5m1-23.6v23.6m1-27.5v27.3m1-25.6v24.9m1-24.9v23.7m1-21.1v20.7m1-21.7v21m1-23.5v25.8m1-23.5v20m1-21.1v24.6m1-26.3v22.9m1-23.8v24.8m1-23.1v20.9m1-22.6v25.5m1-24.6v24.8m1-24.9v24.1m1-25.2v26.5m1-26.6v24.7m1-24.8v23.9m1-22.5v22.8m1-37.5v38.1m1-31.9v28.4m1-44.2v43.7m1-29.3v30.4m1-36.3v32.6m1-26.7v32.1m1-31.3v29.2m1-31.2v28.6m1-26.9v29.4m1-28.5v26.3m1-30.2v30.9m1-27v27.6m1-28.7v28.9m1-33.4v32.3m1-27.2v26.9m1-28.8v32.6m1-36.3v30.7m1-27.1v31.8m1-34.5v34.9m1-37v33.7m1-27v29m1-32.7v33.5m1-43.9v45.6m1-32.9v33.9m1-35.9v35.1m1-33.4v29.1m1-31v32.7m1-33.1v36.7m1-35v31.5m1-32.3v33.7m1-30.1v29.2m1-33.7v34.1m1-31.7v37.2m1-33.8v35.8m1-26.8v33.6m1-28.1v32.4m1-30.2v31m1-30.6v36.3m1-40.3v39.2m1-35.4v35.2m1-32.6v38.3m1-38.6v39.4m1-41.7v44.5m1-38.5v34.4m1-33.3v41.6m1-44.4v41.2m1-36.7v40.7m1-41.5v38.1m1-31.5v35.1m1-47.1v36.7m1-46v31.7m1-38.8v24.7m1-28.1v27.5m1-36.6v34.6m1-23.6v20.6m1-21.5v25.6m1-24.8v27.8m1-30.6v24m1-26.1v26.8m1-26.5v24.5m1-24.6v27.2m1-23.6v23.2m1-26.3v27.1m1-26.7v24.2m1-21.9v24.1m1-27.5v29.1m1-29.6v34.9m1-33.1v26.7m1-27.4v23.6m1-20.7v22m1-25.5v23.9m1-23.6v27.3m1-27.3v23.5m1-23.2v27.8m1-24.8v20.9m1-22.9v26.5m1-27.6v28m1-24.7v25.2m1-27.5v24.4m1-23.6v26.9m1-25.9v25.4m1-37.9v36.5m1-26v25.5m1-20.8v23.4m1-23.2v20.6m1-23.6v27.9m1-29.3v24.5m1-22.5v22.5m1-24.3v25.9m1-25.2v26.7m1-26.8v24.2m1-20.5v23.6m1-23.7v20.1m1-21.1v25.5m1-25.4v20.5m1-23v23.3m1-23.4v23.9m1-20.8v25m1-24.8v21.4m1-24.6v26.8m1-28.3v26.6m1-25v22.9m1-23.5v28m1-25.3v20.9m1-23.7v25m1-25.8v25.4m1-24.7v27.5m1-25.1v23m1-26.4v29.7m1-29.9v25.3m1-25.6v26.1m1-24.3v24.8m1-24.3v26.2m1-25.2v27.5m1-27.8v26.5m1-24.2v26.5m1-27.7v24m1-22.9v24.1m1-24.3v26.1m1-24.3v22.1m1-26.3v26.1m1-26.2v29.6m1-39.1v35.2m1-20.7v22.7m1-26.7v26.2m1-23.9v26.8m1-26.5v22.7m1-26.2v26.9m1-23.8v26.8m1-29.7v28.4m1-26.8v28.9m1-29.3v24.3m1-23.4v24.7m1-22.8v23.8m1-27.3v27.4m1-22.6v23.7m1-26v25.8m1-25.4v26.4m1-24.2v21.4m1-22.2v24.3m1-26.2v24.3m1-25.2v27.7m1-26.1v23.4m1-22.9v24m1-27.5v26.6m1-25.7v28.2m1-27.4v26m1-23.1v25.7m1-27.2v26.5m1-26.1v24.8m1-23.8v24.5m1-26.7v26.9m1-24.6v24.7m1-25.9v22.2m1-24.4v26.9m1-26.2v24.8m1-22.4v22m1-21.5v25.3m1-25.6v26.4m1-30.1v26.2m1-25.4v28m1-25.5v23.7m1-22.5v22.6m1-24.4v22.6m1-21.5v25.8m1-38.7v37.4m1-27.8v25.5m1-25.1v28.5m1-26.7v26.7m1-27.9v23.1m1-21.9v25.8m1-25.4v26.1m1-25.3v28.1m1-30.7v33.7m1-33.1v29m1-25.6v28.7m1-32.5v32.2m1-32.4v32.6m1-32.1v30.4m1-25v27.2m1-30.3v30.3m1-44.5v41.6m1-27.9v31.3m1-32.3v33.3m1-28.7v24.6m1-29.9v31.6m1-27.7v37.1m1-36.7v28.8m1-28.1v27.8m1-30.8v35.5m1-35.3v31.7m1-25.8v27.7m1-29.4v29.3m1-29.3v33m1-32.8v30.6m1-30.8v27.3m1-25.5v29m1-26.7v26.9m1-28.8v32.6m1-29v26.8m1-23.7v30.8m1-36.7v27.8m1-35.1v30m1-33.9v28.1m1-28v30.6m1-33.3v33.3m1-28.9v30m1-30.6v28.5m1-32.2v34.7m1-32.5v29.4m1-29.9v27.3m1-28.7v30.1m1-26.7v27.5m1-26.1v29.4m1-29.3v28.4m1-32.4v32.1m1-29.7v31.1m1-31.4v26.3m1-26v29.7m1-30.1v26.7m1-29.4v27.6m1-28.2v32.2m1-30.1v30.5m1-32.5v33.1m1-30.3v24.3m1-23.3v27.1m1-31.5v34m1-29.5v24.8m1-26.7v34.8m1-28.5v35.8m1-35.9v39.1m1-31.7v38.4m1-58.3v59.7m1-41.4v37.6m1-39.6v35.7m1-32.5v39.4m1-38.3v33.9m1-34.8v33.6m1-37.9v45.2m1-40.7v37.6m1-42.5v44.2m1-39.5v33.4m1-36.3v37.8m1-39.2v42.7m1-36.1v37.6m1-37.7v31.8m1-31.7v32m1-39.9v46.2m1-41v42.8m1-44.1v43.9m1-46.5v43.3m1-41.5v38.4m1-42.8v46.1m1-43.7v36.7m1-33v40.9m1-39.6v35.9m1-38.5v35.2m1-36.8v43.1m1-42.9v37.7m1-33.5v35m1-38.9v40.7m1-38.5v36.8m1-34.1v37.4m1-38.6v37.3m1-39.8v36.7m1-32v38.6m1-40.2v40.1m1-41.9v35.6m1-39.2v46m1-45.4v41m1-46.6v41.3m1-45.6v41.6m1-46.5v35.9m1-42v35.2m1-39.5v39.6m1-35.7v37.5m1-37.7v38m1-41.5v40.1m1-41.7v37.1m1-33.3v33.5m1-36.4v35.2m1-37v35.6m1-34.2v37.8m1-44v44.5m1-43.5v41.9m1-38.7v36.8m1-38.2v38.6m1-34.6v39.7m1-38.2v32.9m1-32.2v37.2m1-42.1v38m1-35.5v38.7m1-38.2v34.8m1-30.7v31.6m1-33.2v35.8m1-35v37.6m1-40.8v39.7m1-35.2v37.1m1-34.8v34.5m1-32.6v31.2m1-35.5v32.1m1-32v31m1-31v30.4m1-30.7v34.6m1-29.6v31.9m1-32.1v31.8m1-30.4v27.6m1-26.9v24.7m1-23.1v27.5m1-32.7v28.1m1-25.6v27.4m1-26.9v24.7m1-22.9v27m1-24.4v22.1m1-24.6v26.4m1-24.1v26.4m1-25.2v25m1-24.8v21.9m1-22.4v24.1m1-21.4v20.7m1-20.7v20.4m1-19.2v22.9m1-21.8v23.3m1-25.3v24m1-24.2v26.3m1-22.4v23.4m1-25.3v25.4m1-23.5v23.6m1-21.7v21.8m1-20.4v24m1-22.6v24m1-21.9v21.5m1-24.5v25.4m1-20.3v21.4m1-23.2v23.7m1-23.8v24.6m1-24.1v23m1-22.6v22m1-20.7v20.6m1-21.4v21.6m1-22v24.9m1-23.2v21.7m1-22.2v22.3m1-22.1v22.3m1-23.7v25m1-24.1v21.6m1-23.1v25.8m1-24.3v22.4m1-25.6v25.1m1-21.3v22.5m1-27.3v24.3m1-22v25.6m1-27.8v24.8m1-32.8v33.6m1-23.8v26.1m1-26.5v28.1m1-26.3v22.1m1-20.5v20.7m1-20.6v28.3m1-22.8v21.8m1-24.1v33.2m1-27.7v30.9m1-28.3v34m1-31.8v30.8m1-31.7v38m1-38.7v38.2m1-39v37.7m1-38.1v39.7m1-39.3v41.7m1-41.1v41.4m1-41.2v40.1m1-38.3v36.6m1-37.8v36.8m1-33.6v33.2m1-31.6v39.2m1-44.7v46m1-40.9v41.9m1-42.3v35.7m1-31.6v37.7m1-41.9v42.1m1-36.8v33.9m1-30.3v32.9m1-38.1v39.5m1-40.4v39.7m1-41.2v40.4m1-46.3v48.7m1-48.1v46.3m1-41.7v43.4m1-40.8v53.2m1-59.4v56.7m1-45.1v45.8m1-53v55.3m1-42.6v47.5m1-47.5v51m1-52.2v51.8m1-47.8v50.6m1-43.8v41.2m1-38v49.1m1-42.5v42.3m1-32.7v47.9m1-42.9v51.4m1-47.5v43.4m1-34.5v35.3m1-51.8v58.6m1-37.5v38.9m1-42.8v37m1-38.2v40.6m1-46.3v36.4m1-36.9v40.1m1-36.8v35.6m1-41.8v35.8m1-36.2v55.3m1-51.7v32.3m1-29.9v29.5m1-31.4v32.5m1-35.7v34.9m1-28.9v29.4m1-34.5v36.6m1-53.6v47.5m1-28.9v28.7m1-32.9v37.4m1-32.6v27.1m1-26.6v28.1m1-32.2v35.1m1-29.8v27.9m1-32.7v34m1-33.9v33.3m1-31.3v31.7m1-29.9v24.2m1-25.5v26.3m1-30.8v30.5m1-36.2v30.9m1-37.4v32.8m1-41.2v33.7m1-37.4v32.1m1-37.1v29.3m1-34.2v31.5m1-36.8v38.2m1-45.8v42.2m1-49.3v38.9m1-37.9v40.9m1-48.5v46" stroke="#E9242A" stroke-width="1.35" fill="none"/><path d="M108.8 201.6v1.5m.8-2.9v1.5m.9 50.1v1.5m.3-.9v1.5m.7-55.9v1.5m1.7-12v1.5m-.1 66.9v1.5m1-55.9v1.5m.6 45.4v1.5m.3-40.7v1.5m.4 31.6v1.5m.4-24v1.5m1.1 24.2v1.5m.9-6.1v1.5m.6-3.8v1.5m1-19.8v1.5m1.5-3.1v1.5m.5-.8v1.5m.6-.3v1.5m.5-4.2v1.5m-.1 23.9v1.5m1-1.8v1.5m.6-1v1.5m.7-4.4v1.5m-.1-3.7v1.5m.9 1.1v1.5m1.6-22.4v1.5m-.1-1.6v1.5m1.1-1.2v1.5m-.4 20.7v1.5m1.1-3.5v1.5m.4-24.2v1.5m.7 24.7v1.5m0-37.5v1.5m.6-16.1v1.5m.1-1.3v1.5m.9 26.9v1.5m.4-37.6v1.5m1.1 28.2v1.5m-.2 3.2v1.5m1.1-6v1.5m.9-5v1.5m.8 3.4v1.5m1.5-61.9v1.5m-.3 9.1v1.5m1 45.5v1.5m-.4-2.5v1.5m1.5-2.6v1.5m.3-45.2v1.5m.7 44.3v1.5m.1-50.8v1.5m.8-.7v1.5m1.3 50.4v1.5m.6-33.5v1.5m.4 30.7v1.5m1-29.6v1.5m-.3 .6v1.5m1.3 2.4v1.5m.5 24v1.5m.4-1.3v1.5m.5-31.5v1.5m1 36.4v1.5m1.4-34.3v1.5m1 23.9v1.5m0-26.7v1.5m.8 21.6v1.5m.9-26.7v1.5m0 24.6v1.5m1.4-24.7v1.5m0 20.1v1.5m.6-.5v1.5m.8-26.1v1.5m.6 23.2v1.5m.6-24.8v1.5m1-2.7v1.5m.1 20.8v1.5m1.1-31v1.5m.2 29.9v1.5m1 2.5v1.5m-.3-6.5v1.5m1-25.5v1.5m.2-.4v1.5m.8 22.7v1.5m.2-26.3v1.5m.7 25.9v1.5m.8-2.7v1.5m.8-3.6v1.5m.6-26.7v1.5m-.1 1.1v1.5m1-1.4v1.5m.2 23v1.5m.6-30.1v1.5m.4 1.2v1.5m1.3 .5v1.5m.5-5.7v1.5m1.3 2.6v1.5m-.4 20.9v1.5m.9 .3v1.5m.3-82.8v1.5m1.3 78.5v1.5m-.4-2.1v1.5m1.1-25.8v1.5m.3-.6v1.5m.9-3.8v1.5m-.6 .4v1.5m1.1 27.3v1.5m1.6-5.1v1.5m-.4-2.2v1.5m.7 2.9v1.5m1.4-36.9v1.5m1.1-5.6v1.5m.7 31.6v1.5m.5-2v1.5m.5-59.4v1.5m-.1 53.1v1.5m1.1-65.6v1.5m.1-3.8v1.5m1.4 19v1.5m-.5 47.9v1.5m1.4-3.9v1.5m1.2-31.1v1.5m-.8-3.8v1.5m1.7 5.2v1.5m0-2.1v1.5m.5 19.5v1.5m.1-1.6v1.5m.9-.2v1.5m.4-24.2v1.5m.4 24.5v1.5m.5-3.8v1.5m.6 5v1.5m.4-7.6v1.5m.7-24.5v1.5m1.3-4v1.5m0-1.6v1.5m1.1 22.9v1.5m0-25.6v1.5m1.2 .4v1.5m-.2-1.9v1.5m.9-3.1v1.5m1.2-.2v1.5m-.4 23.9v1.5m1.4-27v1.5m.1-1.9v1.5m.4 22v1.5m.8-25.4v1.5m.8-3.3v1.5m.9 40.7v1.5m-.5-23v1.5m1.3 1.2v1.5m.8 17.6v1.5m1-19v1.5m.5 18.8v1.5m.6-2.2v1.5m.3-26.3v1.5m.8 24v1.5m-.1-2.2v1.5m1.2-2.2v1.5m1 2.8v1.5m-.2-3.9v1.5m.8-2.8v1.5m.5-2.3v1.5m.3 1.6v1.5m.2-26.4v1.5m1.1 .3v1.5m-.2 1.1v1.5m1.6 17.9v1.5m-.4-3.5v1.5m.9-2.3v1.5m.4 1.6v1.5m1.1-2.5v1.5m-.5-21.8v1.5m1.1-2.3v1.5m.4 17.3v1.5m.7-.7v1.5m-.2-20v1.5m1.2 17.9v1.5m-.3-23.9v1.5m1 2.1v1.5m1.1 22.5v1.5m1.6 1.1v1.5m-.3-2.4v1.5m1.2 4.6v1.5m-.5-33.8v1.5m.8-1v1.5m.4 30.4v1.5m.6 6.6v1.5m.6-6.9v1.5m.9-33v1.5m1 .4v1.5m1 31.9v1.5m-.3-33.8v1.5m.9 32.6v1.5m.6-37.5v1.5m.5-.9v1.5m.3-7.5v1.5m.5 5.9v1.5m.1 29.6v1.5m1.5-6.8v1.5m0-33v1.5m.7-.5v1.5m-.1-.5v1.5m1.2-5.9v1.5m1-2v1.5m.1 22.2v1.5m.5-1.4v1.5m1.5-3.4v1.5m1-23.1v1.5m.3-1.2v1.5m.3 20.5v1.5m.9-2.6v1.5m1.3-22.1v1.5m-.1 20.5v1.5m.9-.7v1.5m1.4-3.4v1.5m-.2 .9v1.5m1.1-25.3v1.5m-.3 20.6v1.5m1.7-22.6v1.5m-.7 21.2v1.5m.9-24.1v1.5m.1 19v1.5m1.5-20.6v1.5m1.1-5.4v1.5m.6 2.2v1.5m.3-2.1v1.5m1.2 23.7v1.5m.4 1.1v1.5m.3-8v1.5m.7-25.8v1.5m.5 2v1.5m.9-2.1v1.5m1 .3v1.5m.4-2.7v1.5m1.1 21.5v1.5m.4-27.5v1.5m1 3v1.5m.9-2.9v1.5m1.3 19.2v1.5m1 2.7v1.5m.6-27.1v1.5m1.3 20.9v1.5m1.2-2.1v1.5m.3-25.9v1.5m.3 24.6v1.5m.9 1.9v1.5m-.2-6.7v1.5m1.6 1.6v1.5m.7-4.7v1.5m-.4 .1v1.5m1.2-21.8v1.5m-.1-2.1v1.5m1.4 18.6v1.5m1.3-1.2v1.5m-.7-2.2v1.5m1.6 1.6v1.5m.6-23.2v1.5m.3-4.3v1.5m.5 20.4v1.5m1.3-1.5v1.5m1-19.7v1.5m-.2 16v1.5m1-19.5v1.5m.9 16.8v1.5m1.7-20.2v1.5m.4 16.7v1.5m1-20v1.5m.3-1.1v1.5m1.2-1.5v1.5m-.1-2.7v1.5m1-.5v1.5m1.1-3.1v1.5m.3 22.7v1.5m.4-1.7v1.5m.8-5.7v1.5m.3 .2v1.5m.8 .4v1.5m1.3-23.8v1.5m-.4-2.8v1.5m1.2-3.6v1.5m.4 1.7v1.5m.9 23.1v1.5m.3 1.9v1.5m.2-1.1v1.5m1.4 3.6v1.5m-.3-28.4v1.5m1.2-3.4v1.5m-.4 1.8v1.5m1-11.7v1.5m1.1 50.6v1.5m1.3-46.3v1.5m.6-2.1v1.5m.7-9.7v1.5m.6 2.7v1.5m.3 2.3v1.5m1-3.1v1.5m-.5 31.8v1.5m1.4-34.5v1.5m-.1-8.4v1.5m1.3 .7v1.5m.6-4.5v1.5m-.3-3.3v1.5m1.5 25.2v1.5m.2 1.7v1.5m.3-36.2v1.5m1.4 24.1v1.5m0-3.7v1.5m1.3-26.1v1.5m.7 19.6v1.5m.6-22.9v1.5m1 22.8v1.5m.6-4.9v1.5m1.1-28.5v1.5m-.3 25.6v1.5m1.1-3.3v1.5m-.6-23.6v1.5m1.2-4v1.5m.1 .8v1.5m1.5 16.8v1.5m.8 .4v1.5m1.2-4.2v1.5m-.2 2.2v1.5m.9-3.7v1.5m-.4-22.6v1.5m1.6 16.8v1.5m.9-21.5v1.5m1 .2v1.5m1 16.1v1.5m.1-22.7v1.5m.8 2.6v1.5m.9-3.7v1.5m.7-1.3v1.5m0 17.4v1.5m1.1 1.2v1.5m.2-22v1.5m.9-3.2v1.5m.8 18.6v1.5m.4-22.9v1.5m1.2 1v1.5m.1 17.4v1.5m.9-2.5v1.5m.3 3.4v1.5m1.3-25.1v1.5m.9 17.5v1.5m.4 .4v1.5m.9-.6v1.5m-.2-24.1v1.5m1.5 20.3v1.5m.2 .5v1.5m1.6-23.5v1.5m-.6 16.5v1.5m1-1.7v1.5m1.4-22.2v1.5m.1 .1v1.5m.7-4.2v1.5m.2 21.5v1.5m1.2-26v1.5m.7 20.8v1.5m1.2-27.4v1.5m-.2 28.2v1.5m.8-31.4v1.5m.4 25.5v1.5m.6-25.8v1.5m.4 26.1v1.5m.7 .2v1.5m.1-3.4v1.5m1.1 1.4v1.5m.1-22.9v1.5m1.1 .7v1.5m-.2 18.4v1.5m1.3-16v1.5m0 15.7v1.5m.9-20v1.5m.1 .4v1.5m.5 15.3v1.5m1.4 1.1v1.5m1-2.6v1.5m1.2-17.9v1.5m.8 18.2v1.5m0-5.1v1.5m.9 1.1v1.5m.1-22.7v1.5m1.1-1.6v1.5m.4-.5v1.5m.5-.2v1.5m1-1.4v1.5m.5 14.4v1.5m.2 2v1.5m1.2-20.2v1.5m1.2 15.2v1.5m-.2-1.9v1.5m1.3-17.9v1.5m-.5 15.4v1.5m1.5-18.6v1.5m-.6 15.1v1.5m1.5-19.1v1.5m0 17.3v1.5m.6-19v1.5m1.1 15.4v1.5m-.4-2.1v1.5m1.3-.6v1.5m.1-2.1v1.5m.7 .4v1.5m.2-20.8v1.5m.8-1.2v1.5m0-1.3v1.5m1.1 15.7v1.5m.1-3.4v1.5m.9-16.4v1.5m.9 13.9v1.5m-.1-16.4v1.5m1.6 13.4v1.5m.1-16.5v1.5m.5 14.8v1.5m1.1-2v1.5m1.3-2.9v1.5m-.4-16.4v1.5m.8 15.6v1.5m1-20.4v1.5m.4-.8v1.5m.7 15.6v1.5m1-1.3v1.5m1.3-19.4v1.5m.1-2.3v1.5m1 16.7v1.5m-.4 1.1v1.5m1.5-21.1v1.5m0 16.6v1.5m1.1-19.6v1.5m-.1 15.2v1.5m1-16.9v1.5m-.4 14.4v1.5m1.5-23.1v1.5m.6 24v1.5m1.3-22.2v1.5m0-.6v1.5m1.1-5v1.5m1 20.3v1.5m-.2-4.8v1.5m.5-1.2v1.5m.5-18.6v1.5m1-.7v1.5m.6 .4v1.5m1.6-3.4v1.5m-.4 .5v1.5m.7 16.5v1.5m1-23.8v1.5m.5-1.3v1.5m.7-.7v1.5m1.2 13.2v1.5m1.1 2.3v1.5m.8 7v1.5m-.1-26.2v1.5m1.4 .7v1.5m-.1 27.5v1.5m1.2-21.5v1.5m-.3-3.8v1.5m.7 0v1.5m1 25.9v1.5m1.1 .9v1.5m.8-3.4v1.5m1.5-26.8v1.5m0 24.6v1.5m.7-30.5v1.5m.4 26.2v1.5m.7-1.1v1.5m.1-27.9v1.5m1.4 31v1.5m-.4-7.5v1.5m1.3-1.5v1.5m0-1.7v1.5m.8-.7v1.5m1-2.5v1.5m1.2-26.6v1.5m.5-2.9v1.5m.3-3.5v1.5m1 27.4v1.5m.2 2v1.5m.8-30.2v1.5m1.2-.1v1.5m0 23.8v1.5m.8-1.1v1.5m.3-3v1.5m.5 .4v1.5m.4-29.7v1.5m.8-4.6v1.5m.1 27.2v1.5m.7-28.4v1.5m.2 1.2v1.5m.6 27v1.5m.6-31.3v1.5m.6 24.7v1.5m-.2-.1v1.5m1.1-29.1v1.5m.5-2.4v1.5m.8-7.7v1.5m1 5.5v1.5m-.2-6.2v1.5m.9 2.6v1.5m1.3-6.6v1.5m.2 29.3v1.5m.7-28.8v1.5m.3 27.2v1.5m.6-.6v1.5m1.5-37.1v1.5m.5 4v1.5m1.4 29.1v1.5m-.5-30.2v1.5m1-5.2v1.5m.3-1.1v1.5m1 24.2v1.5m0-2.9v1.5m.9-11.2v1.5m.7-28.2v1.5m.6-2.5v1.5m.9 25v1.5m1.2-33.7v1.5m-.6 1.4v1.5m1 19.2v1.5m-.1-20.1v1.5m1.1 20.4v1.5m-.1-.4v1.5m.9-24.1v1.5m.3 19.7v1.5m1.5-26.5v1.5m.5 1.3v1.5m1.4-1v1.5m-.2 19.4v1.5m.8-20.8v1.5m1.4 16v1.5m-.1-1.6v1.5m.8-22.5v1.5m-.4 .8v1.5m1.6 18.9v1.5m.1-23.7v1.5m1.1 .9v1.5m.6 17.9v1.5m-.1 .1v1.5m.9-20.7v1.5m1 18.8v1.5m1.1-2.7v1.5m.1-3.2v1.5m1-1.8v1.5m.2 1.6v1.5m.9-3.3v1.5m-.2-23v1.5m1-1.2v1.5m1.1-.1v1.5m.8 18.4v1.5m.5-21.3v1.5m1-2.4v1.5m-.2-1.3v1.5m.6 21v1.5m.9-24.9v1.5m.5-.1v1.5m1 20.2v1.5m.8-23.8v1.5m.9-1v1.5m.2 18.4v1.5m1.2-2.5v1.5m-.2 .1v1.5m.6-21.7v1.5m.5-1.2v1.5m.9 17.7v1.5m.2-3.4v1.5m1.2 1.8v1.5m.4-2v1.5m1.2-23.7v1.5m-.2 .9v1.5m1.3-2.4v1.5m.7-1.9v1.5m1.5-1.6v1.5m1-1v1.5m0 18.8v1.5m.5-.3v1.5m.2-2.9v1.5m1-2.5v1.5m1.2 1.4v1.5m.9-2v1.5m.5-21.2v1.5m1.7-2.3v1.5m1 2.3v1.5m.6 1.9v1.5m1.4 .3v1.5m-.3 25.4v1.5m.9-4.2v1.5m.8-5.2v1.5m1.5-3.3v1.5m.6-27.6v1.5m1 8.8v1.5m.1 .4v1.5m1-3.1v1.5m.3-3.3v1.5m1-16.2v1.5m-.3 13.1v1.5m.8-16.3v1.5m1.7-1v1.5m.4 .4v1.5m.2-4.6v1.5m1.1 16v1.5m0-2.5v1.5m.7 .2v1.5m.9-4.2v1.5m.3-46.8v1.5m1.1 30.6v1.5m0-1.8v1.5m1.1 13.5v1.5m.2-18.9v1.5m.5 1.1v1.5m.4 11.5v1.5m.8 1.3v1.5m.5-3.2v1.5m1.6-.2v1.5m.5-23.6v1.5m1.3 20.9v1.5m-.3-17.5v1.5m1.6 12.5v1.5m-.3-14.9v1.5m1-3.3v1.5m0 14.4v1.5m1.2-15.7v1.5m.8 11.8v1.5m.3-1.1v1.5m.5-18.2v1.5m.6 15.9v1.5m.6-16.4v1.5m.1 11.6v1.5m1-14.3v1.5m1.3-1.6v1.5m.6-1.6v1.5m-.2-3.7v1.5m.9 15.6v1.5m.1-18.5v1.5m.9 14.4v1.5m0-15v1.5m1.3 13.1v1.5m.3-.1v1.5m1-3.5v1.5m-.1-2.5v1.5m1.1-15.4v1.5m-.2-1.1v1.5m1.3 13.4v1.5m.8 1.8v1.5m-.2-2.7v1.5m1.4-2.4v1.5m.9-2.5v1.5m.7-.1v1.5m-.1-17.9v1.5m1.2 14.7v1.5m.2-3.3v1.5m1-16.9v1.5m0 14.8v1.5m.4-3.3v1.5m.7-1.6v1.5m.2 .3v1.5m.2-3v1.5m.9-2v1.5m.6-16.2v1.5m.9 13.5v1.5m-.1 3.9v1.5m.8-24.6v1.5m0 3.1v1.5m1.2-1.5v1.5m.6 12.4v1.5m1.6 .3v1.5m0-1.6v1.5m.7-2.7v1.5m1.2-16.5v1.5m.9 12.9v1.5m-.4-.4v1.5m1.5-5.9v1.5m.6-6.5v1.5m.4-.7v1.5m1.1-6.5v1.5m-.3-21.3v1.5m1-9.4v1.5m1.2 22.7v1.5m1.1-32v1.5m.8-5.7v1.5m.6-1.3v1.5m0 21v1.5m1.7-.3v1.5m-.8 .2v1.5m1.6-29.8v1.5m.2-4.3v1.5m.4 .9v1.5m0-2.2v1.5m1.1 28.3v1.5m.4-24v1.5m.9 26.7v1.5m-.4-25.5v1.5m1.4 30.8v1.5m.8-24.8v1.5m-.3 4.3v1.5m.3 42.3v1.5m.9-19.7v1.5m.2 2.6v1.5m1.2 1.5v1.5m-.6-4.8v1.5m1.2-13.2v1.5m0-2.8v1.5m1.4 16.5v1.5m1-1.3v1.5m.4-18.7v1.5m1.4-1.3v1.5m.6-1v1.5m.4-1.5v1.5m.5 15.8v1.5m.5-19.3v1.5m.7-4.1v1.5m-.2 1v1.5m1.6 16.4v1.5m0-21.4v1.5m.6 18.5v1.5m.2-23.5v1.5m1.3 24.2v1.5m.1-3.5v1.5m.9-20.4v1.5m.1 14.9v1.5m.8-24.4v1.5m-.2 43.9v1.5m1.3-41.1v1.5m-.3-4.2v1.5m1.2 2.3v1.5m-.1 14v1.5m.7 1v1.5m-.1 .8v1.5m1.2-5.9v1.5m.9-19.1v1.5m.3 .3v1.5m.5 14.1v1.5m1.8 1.8v1.5m.4-21.7v1.5m.6 16.6v1.5m.3 .4v1.5m1.3-4v1.5m.1-18.2v1.5m.9-3.8v1.5m1.1-.7v1.5m.2 19.1v1.5m.5-24.1v1.5m1.4-7.2v1.5m-.3 5.1v1.5m1.4-2.2v1.5m.9-4.5v1.5m1-2.1v1.5m.8-7.5v1.5m-.4 38v1.5m1.1 1.3v1.5m1.7-37.8v1.5m1-.5v1.5m-.1-1v1.5m.4-.7v1.5m1.1-2.4v1.5m1-8.6v1.5m.2 2.3v1.5m1.1-4.7v1.5m.1 4.9v1.5m.7-.3v1.5m-.1-8.7v1.5m1-3.1v1.5m0-.3v1.5m.2-17.9v1.5m.6 58.1v1.5m.2 1.6v1.5m1.2-2.6v1.5m1-46.1v1.5m.4 40.1v1.5m.8-38.1v1.5m-.3 45v1.5m1-7.6v1.5m1.3-43.4v1.5m-.3 38.9v1.5m1.4-43.1v1.5m.8 41.6v1.5m-.2-42.4v1.5m1.4 2.2v1.5m-.6-7.9v1.5m.9 38.9v1.5m0-1.9v1.5m1 2.1v1.5m1.8-37.8v1.5m.7 4.9v1.5m-.4 34.5v1.5m1.6-7.2v1.5m-.4-30.7v1.5m1.3 30.7v1.5m-.3-32.3v1.5m1.3 32.7v1.5m.9 .9v1.5m1-34.8v1.5m1.3 8.3v1.5m.8 33.8v1.5m.9-33.7v1.5m-.4 29.9v1.5m1.6-1.6v1.5m.7-5v1.5m-.2-27.4v1.5m.8-2.7v1.5m.6-2.3v1.5m.7 30.2v1.5m0-30.7v1.5m1.4 27.5v1.5m.8-31v1.5m-.2 28.3v1.5m1.2-33.6v1.5m1 .2v1.5m1.1 27.5v1.5m-.1-35.3v1.5m1.1-1.3v1.5m-.2 .9v1.5m1.3 26.3v1.5m-.5 1.5v1.5m1-.9v1.5m.3-34.7v1.5m1.1 2.5v1.5m-.4-6.4v1.5m1.3 30.3v1.5m0-2.9v1.5m.7 8.8v1.5m.2-6.9v1.5m1.2-39.5v1.5m.8 36.4v1.5m1.2-33.6v1.5m.5 28.1v1.5m1.4-33.9v1.5m.9-4.3v1.5m-.4 3.8v1.5m1.1-7.9v1.5m.2 28v1.5m1.2-10.2v1.5m-.1-31v1.5m0-33.2v1.5m1.4 49.5v1.5m-.1 .8v1.5m.6-3.7v1.5m-.3-32.1v1.5m1.6 26.7v1.5m.1-27.1v1.5m.7-5.9v1.5m.1 1.5v1.5m1-2.8v1.5m1 29.8v1.5m-.3-32.4v1.5m1 1.6v1.5m.8 24.8v1.5m1.4-29.4v1.5m-.3 32.6v1.5m1-33.4v1.5m1.1-3.6v1.5m.2-1.2v1.5m.9 27.4v1.5m-.2-32.3v1.5m1.5 34.2v1.5m1 2.4v1.5m.6-9.2v1.5m.4-36.8v1.5m1.1 38.3v1.5m.4-37.8v1.5m.9 29.4v1.5m1.8-30.1v1.5m1 26v1.5m.9-1.6v1.5m.6 2.8v1.5m.2-3.6v1.5m1.2-1.3v1.5m.9-31.5v1.5m-.3-2.1v1.5m.9 27.5v1.5m.4-29.1v1.5m1.1 24.3v1.5m-.4-.8v1.5m1.3-30.8v1.5m-.6 31.5v1.5m1.7-33.2v1.5m0-1.2v1.5m.7-5v1.5m-.1 2.7v1.5m1.4 25.6v1.5m-.4-28.2v1.5m1.3 25.6v1.5m-.1-28.8v1.5m1-5.6v1.5m0 29.3v1.5m1.1-1.5v1.5m-.1-29.1v1.5m1.3-1v1.5m.7-5v1.5m.7-3.6v1.5m1.5 1.7v1.5m-.2-3.7v1.5m1.1 28.6v1.5m1.1 4.2v1.5m.8-3.7v1.5m.1-31.1v1.5m1.1 25.6v1.5m-.1 2.1v1.5m1.2-33.3v1.5m0 26.5v1.5m.5-3.7v1.5m.9-29.8v1.5m.1 30.4v1.5m.9-34.4v1.5m.9 28v1.5m1-1v1.5m.7-30v1.5m.8 25.8v1.5m.9-24.3v1.5m-.3 25.7v1.5m1.3-6.1v1.5m-.1-1.5v1.5m1 .8v1.5m-.1-26.7v1.5m1.1-5.6v1.5m1.2-.3v1.5m0 0v1.5m.5-2.5v1.5m1.4-2.1v1.5m1-7.7v1.5m.1 4.6v1.5m1.2 .2v1.5m.7 21.8v1.5m-.3-2.4v1.5m1.5-1.1v1.5m.7-4.2v1.5m1.2-1.3v1.5m-.4-30.6v1.5m.8 29.9v1.5m.3-26.5v1.5m.8 20.8v1.5m.2-25.1v1.5m.9-.9v1.5m-.2-3.5v1.5m1.8 1.5v1.5m-.8-9v1.5m1.6 31.1v1.5m1.1-27.1v1.5m-.1-1.3v1.5m1.2-3.2v1.5m-.6 23.5v1.5m.8-1.9v1.5m1.2-1.1v1.5m.5-26.5v1.5m.4 27.7v1.5m0-32.6v1.5m1.5 23.7v1.5m.1-22.4v1.5m.5-3.1v1.5m1.3 21.3v1.5m.1 3.3v1.5m1.2-30.4v1.5m.6 23.9v1.5m-.1-25.4v1.5m1 20.6v1.5m-.3-1v1.5m1.1-25.8v1.5m.2-5.3v1.5m1.4-.2v1.5m.7 27.2v1.5m-.2-5.2v1.5m1.2-26.9v1.5m1.2 24.4v1.5m.2-3.7v1.5m.2-26.7v1.5m.6 23.2v1.5m1-3.6v1.5m-.5-2.5v1.5m.3 26.5v1.5m1.2-55v1.5m-.3 22.8v1.5m.8-23.9v1.5m.4 22.7v1.5m1.1-3.7v1.5m.6-24.8v1.5m1.2 18.1v1.5m-.1-21v1.5m1.4-5.7v1.5m-.4 1.4v1.5m1-3.5v1.5m1.3-3.3v1.5m.6 19v1.5m1.2-22.1v1.5m0 65.4v1.5m1.2-68.9v1.5m0-3v1.5m1.1 22.9v1.5m-.1-.6v1.5m1.1-24.2v1.5m1 21.6v1.5m.8-23.5v1.5m-.3-1v1.5m1.3 16.3v1.5m.8-20v1.5m-.2-4.8v1.5m1.5 19v1.5m-.1 2.6v1.5m1.1-5.7v1.5m-.4-.1v1.5m1.1 1.8v1.5m.2-23.2v1.5m1.3 22.5v1.5m.8-12.3v1.5m-.5-.2v1.5m1.1 19.6v1.5m.3-3.2v1.5m1.1-15.7v1.5m1.1-.9v1.5m-.7 18.4v1.5m1.3-20.2v1.5m.2-2.5v1.5m.5 18.2v1.5m.2-21.7v1.5m.9 17.2v1.5m.3-23.4v1.5m.7 22.7v1.5m1.6-22.4v1.5m-.3-1.9v1.5m.7 20.3v1.5m1.6-21.2v1.5m.6-3.3v1.5m1.1 18.9v1.5m.3-22v1.5m.9 1.2v1.5m1.1-2.6v1.5m-.2 19.8v1.5m1.1-25.1v1.5m1-1.8v1.5m.7 1.2v1.5m.1 20.3v1.5m.8-23.7v1.5m-.1 20.6v1.5m1.2-4.1v1.5m.1-1.4v1.5m1-19.9v1.5m.7-4.1v1.5m.2 19.4v1.5m1.5-17.1v1.5m-.2-2.2v1.5m1.1 22.2v1.5m.4 .3v1.5m.2-19.6v1.5m1.3-1v1.5m-.4 17.6v1.5m1.6-22.3v1.5m-.6-.4v1.5m1.1-.9v1.5m0-1.1v1.5m1 17.1v1.5m-.2-2.9v1.5m1.3-1.3v1.5m0 2.3v1.5m.9-.4v1.5m-.3-6.8v1.5m1.6-.7v1.5m-.1-.2v1.5m.8-21.1v1.5m.1 41.5v1.5m1.1-24.6v1.5m.8-23.7v1.5m.1 .6v1.5m0 47.2v1.5m.7-50.6v1.5m.4 .6v1.5m.6 16.5v1.5m1-1.2v1.5m.4-2.6v1.5m.7 1.6v1.5m.2-5.2v1.5m.8-2v1.5m1-19.7v1.5m.2 .6v1.5m.7-1.2v1.5m1.5 15.8v1.5m.1 1.6v1.5m.4-1.8v1.5m1.5-21.7v1.5m0 18.2v1.5m.9-19v1.5m1.3-1.6v1.5m-.7-1.4v1.5m1.4 14.3v1.5m-.4-19.6v1.5m1.7 .6v1.5m-.6 0v1.5m.9-1.8v1.5m.4-.9v1.5m1.2-1.1v1.5m-.5 12.9v1.5m.9 .7v1.5m.1-18v1.5m1.3 12.5v1.5m-.3 .4v1.5m.8-18v1.5m1.1-1.6v1.5m-.1 0v1.5m1.1-1.5v1.5m1.3-3.7v1.5m.9 15.4v1.5m0-2v1.5m1.3-15.6v1.5m.1 11.9v1.5m.9-1v1.5m.5-16.5v1.5m.4 15.9v1.5m.9 1.5v1.5m1.1-4.5v1.5m1.1-17v1.5m-.4 13.7v1.5m1.4-18.5v1.5m.5-4.1v1.5m.2-1.4v1.5m1.4 12.2v1.5m.1-2.5v1.5m.7-20.9v1.5m.3 15.7v1.5m.7-3.1v1.5m.8-22.2v1.5m-.1 18.5v1.5m1.4-6.2v1.5m-.3-.1v1.5m1.3-4.6v1.5m-.1-20.5v1.5m.6-5.9v1.5m.6 .8v1.5m.6 19v1.5m.7-31.7v1.5m0 27.5v1.5m1.7-26.5v1.5m.6 19.6v1.5m.4-.4v1.5m.4-4.7v1.5m.4-28v1.5m.5 25.8v1.5m1.6-7.3v1.5m1-1.1v1.5m-.6-25.6v1.5m1.3-4v1.5m.1-37.8v1.5m1.2 37v1.5m-.5-6.1v1.5m1.5 24.5v1.5m.5-23.3v1.5m-.1-.8v1.5m1.1-4.7v1.5m.6-3.5v1.5m.7 27.7v1.5m1.1-1.7v1.5m.1 0v1.5m.5-1.6v1.5m1 .8v1.5m1.1-30.2v1.5m.9-4.6v1.5m.2-.6v1.5m.9-4.2v1.5m.3 28.3v1.5m.9-26.7v1.5m-.2 21.8v1.5m1-26.6v1.5m1.2 21.3v1.5m-.1-26.7v1.5m1.1-6.1v1.5m.3 31.2v1.5m.8-37.3v1.5m-.4 .6v1.5m1.2 30.1v1.5m1-6.1v1.5m1.2-33.7v1.5m-.1-5.6v1.5m1.1 39.7v1.5m.6-1v1.5m1.6 2.6v1.5m1 1.3v1.5m0-33.7v1.5m.8 34.6v1.5m.1-1.8v1.5m-.2 32.2v1.5m.8-51.9v1.5m-.1 21.3v1.5m1.5-1.7v1.5m0 .3v1.5m1-1v1.5m-.4-1.3v1.5m1.2-26v1.5m1.1 27.2v1.5m-.1 .6v1.5m1.2-27.9v1.5m.5 19.5v1.5m.4-22.1v1.5m1.2-4.6v1.5m1-2.7v1.5m-.6 25.6v1.5m1.7-27.6v1.5m-.2 28.2v1.5m1.1-30v1.5m.9 2.4v1.5m1 .1v1.5m-.4 23.8v1.5m1.2-2.3v1.5m1.1 2.4v1.5m.2-32.8v1.5m.3-6.5v1.5m1.7 31.8v1.5m-.4-28.6v1.5m1.1 .2v1.5m.2 22.8v1.5m.4 3.2v1.5m.2-6.7v1.5m.9-32.8v1.5m.2 4.7v1.5m.9 24.8v1.5m-.2-2.5v1.5m1.4 3v1.5m-.3-30v1.5m1.4-4.4v1.5m.6 31.8v1.5m.5-5.1v1.5m.6-.3v1.5m.6-36.6v1.5m.9 .9v1.5m-.3 3v1.5m1.4-2.5v1.5m-.6-1.4v1.5m.8 25.2v1.5m1.1-26.5v1.5m.1-.9v1.5m1.5-2v1.5m-.4 28.7v1.5m1.2-34.5v1.5m.9 26.6v1.5m-.2-1.7v1.5m1.3-25.5v1.5m-.2-4.1v1.5m.9 1.3v1.5m1.2-2.9v1.5m.3-1.1v1.5m.5 27.3v1.5m1.3-2.8v1.5m.3-.2v1.5m.8-4.6v1.5m-.1-28.6v1.5m1.3 32.4v1.5m.2-33.5v1.5m.3 25.4v1.5m1.3-30v1.5m.9-.7v1.5m.1-6v1.5m1.1 28.8v1.5m.3-28.6v1.5m.2 27.6v1.5m.9-35.4v1.5m1.5 29.5v1.5m1-29.5v1.5m1.1 27.7v1.5m-.4-1.3v1.5m.8-29.5v1.5m1.2 1.9v1.5m.3-5.1v1.5m.6 31.9v1.5m1.5-6.1v1.5m-.4-26.3v1.5m1.3 24.2v1.5m-.3-27.8v1.5m1.4 28.4v1.5m1-29.6v1.5m.8 1.6v1.5m.2 5.8v1.5m.6-5.1v1.5m1.3 42.7v1.5m-.2 .2v1.5m1.2 0v1.5m-.2-.6v1.5m1.4-1.5v1.5m-.7-42v1.5m1.4-3.9v1.5m-.1 45.8v1.5m.8-49.4v1.5m.6 40.1v1.5m.9-50.9v1.5m.6 33.4v1.5m1.5-42.8v1.5m-.5 5.9v1.5m1.1-8.9v1.5m.7 29.1v1.5m.3-8.7v1.5m1-2.7v1.5m-.2-34.1v1.5m1.4-6.3v1.5m.9-4.8v1.5m-.4 24.4v1.5m.9 0v1.5m.8-.4v1.5m.8-35.5v1.5m0 29.6v1.5m1 1.6v1.5m-.2-1.5v1.5m.6-1.1v1.5m.4-33.8v1.5m1.3 27.4v1.5m-.4 .4v1.5m.7 1.6v1.5m.6-37.4v1.5m.9 5.9v1.5m1.1-1.8v1.5m.2-6v1.5m1 27v1.5m-.6-26.7v1.5m.9 0v1.5m1 27.3v1.5m1.4-3.8v1.5m-.1-5.4v1.5m1.4-1.3v1.5m-.1-24.8v1.5m.6-8.7v1.5m.5-.1v1.5m.8 28v1.5m-.5-31v1.5m1.2 28.4v1.5m1.5-.5v1.5m-.5-1.5v1.5m1.1 2.9v1.5m1.2-4.9v1.5m-.2-29.2v1.5m0-37.6v1.5m.8 31.6v1.5m-.2 27.8v1.5m1.2-3.4v1.5m1.3-25.6v1.5m0-.8v1.5m.7-5.2v1.5m-.1 34.2v1.5m1-40.9v1.5m.3-.3v1.5m1-8v1.5m.3 29.7v1.5m.7 2.4v1.5m1.3-36.9v1.5m.3-2.7v1.5m.4 38.3v1.5m.8-41.1v1.5m1.1-.1v1.5m-.1 30.6v1.5m1.2 7.8v1.5m.7-42.4v1.5m.4 38.3v1.5m.9-42.6v1.5m.4 1v1.5m.3-3.8v1.5m1.3 32.3v1.5m1-35.4v1.5m.4-3v1.5m.9-.6v1.5m-.4 .1v1.5m1.1-4.1v1.5m0 35.3v1.5m.7 6v1.5m1-10.9v1.5m.1-39.2v1.5m1.5 5.5v1.5m.4 30v1.5m0 1.1v1.5m1 3.1v1.5m.3-41.3v1.5m1.2-2.3v1.5m-.4 37.7v1.5m1.5-38.8v1.5m-.1 29.7v1.5m1.1 1.6v1.5m1.1-5.6v1.5m-.5-.4v1.5m.8 5.2v1.5m.1-5.9v1.5m1.5-35.2v1.5m1 33.6v1.5m.6-6.8v1.5m-.2 7v1.5m1.6-2.3v1.5m1.1-9.1v1.5m.9-2.3v1.5m.9-28.6v1.5m-.6-4.4v1.5m1.7 42.1v1.5m0-3.2v1.5m.7-36.3v1.5m1.4 43.9v1.5m.7 3.1v1.5m.2-52.8v1.5m1 46.7v1.5m1.1 7.3v1.5m-.1-48.5v1.5m.8-3.4v1.5m-.2 55.8v1.5m1.4-9.6v1.5m-.3 2.2v1.5m1.2-55.2v1.5m-.3 49.3v1.5m1-.6v1.5m.9-42.8v1.5m0-6v1.5m1.4 52.6v1.5m.8-54.1v1.5m0 4.7v1.5m.8 41.8v1.5m.9 2.7v1.5m1.5-47.1v1.5m.4 31.8v1.5m.8 8.6v1.5m.6-28.1v1.5m-.4 3.7v1.5m1.5-19.1v1.5m.1-.2v1.5m1-5v1.5m.1-29.6v1.5m1 25.5v1.5m-.2 2.2v1.5m.6-3.2v1.5m1.1 4.7v1.5m1.2-10.5v1.5m.6 2.3v1.5m.4-5.9v1.5m1.4-3.1v1.5m.8-31.9v1.5m.5 32.2v1.5m.3-31.8v1.5m.7 31.4v1.5m.2-35v1.5m1.5 0v1.5m.5-7.9v1.5m.3 5.5v1.5m.7 28.8v1.5m-.1-30.1v1.5m1.1-4.5v1.5m1.2 26.1v1.5m-.4 1.1v1.5m1.3-29.6v1.5m1-9.5v1.5m-.2 38v1.5m.9-34.9v1.5m1.4-1.8v1.5m.1-3.9v1.5m.6-.9v1.5m-.2 .1v1.5m1.7 25.9v1.5m-.3-27.4v1.5m1.1-4.5v1.5m-.3 33.2v1.5m1.4-7.2v1.5m.1-2.1v1.5m-.3-58.3v1.5m.7 30.7v1.5m.1 25.7v1.5m1.3-30.4v1.5m-.4 26.9v1.5m1.5-.4v1.5m1-36.5v1.5m-.4 5.4v1.5m.9 27.1v1.5m1.4-34.8v1.5m.3 30.1v1.5m.4-30.1v1.5m.8 28.5v1.5m.7 .1v1.5m.7 .3v1.5m-.1 2.7v1.5m.8-7.9v1.5m.7-27.8v1.5m.7-1.8v1.5m1.1-2.7v1.5m0 27.6v1.5m.9-29.4v1.5m-.4 26.3v1.5m1.4 3.4v1.5m-.1-41.1v1.5m1.2 1.1v1.5m.7 1.6v1.5m.2 .1v1.5m.6 23v1.5m.6-26.2v1.5m1-6.9v1.5m-.6 3.4v1.5m1.4-2.3v1.5m1.2 25.8v1.5m.4-30.8v1.5m1.6 27v1.5m.9 4.7v1.5m-.1-36.2v1.5m.9 34.1v1.5m0-9v1.5m1.2-2.2v1.5m1-27.1v1.5m-.3 28.2v1.5m1.2-35.6v1.5m.1-3.7v1.5m1 32.6v1.5m-.2-29.4v1.5m1.3 24.2v1.5m.1-31.1v1.5m.7 4v1.5m.2 23.5v1.5m.4-27.3v1.5m.7-.3v1.5m.6-4.9v1.5m-.3 28.9v1.5m.9-32.4v1.5m.4-7.4v1.5m1.1 7.6v1.5m-.1 23v1.5m.9-27v1.5m0 24.1v1.5m.7-30.3v1.5m.8-.3v1.5m1 2.3v1.5m.4-2.8v1.5m1-.8v1.5m.1 27.1v1.5m1.1-3.6v1.5m0-61.4v1.5m1 33.6v1.5m-.1-5.2v1.5m.7 1.5v1.5m.2 23.9v1.5m1.2-26.3v1.5m1.2-4.1v1.5m.1-1.9v1.5m.4-.9v1.5m.6 1.3v1.5m.3-9v1.5m.1 34.5v1.5m1.1 3.1v1.5m1.4-36.2v1.5m.6 24.9v1.5m1.6-26.3v1.5m.5-2.9v1.5m.5-.7v1.5m.4-3.1v1.5m1.5 26.2v1.5m-.5-.1v1.5m.8-29.5v1.5m.5-2.9v1.5m1-2.9v1.5m0 .6v1.5m1.2 25.4v1.5m1.1 3.6v1.5m-.7-4.3v1.5m1.1-3.1v1.5m1.3-1.6v1.5m-.1-26.8v1.5m1-5v1.5m.9 0v1.5m-.2 27.7v1.5m1.1 .9v1.5m-.1-6.3v1.5m1.1 1.1v1.5m0-1.3v1.5m1.2-.4v1.5m.7-28.9v1.5m.3-4.9v1.5m.7-6.6v1.5m1.3 32.1v1.5m1.1-1.4v1.5m.6-.3v1.5m.1-34.4v1.5m1.2-1.2v1.5m1.4 30v1.5m-.1-30.9v1.5m.5 27.7v1.5m1.5-28.2v1.5m.5 26.3v1.5m.3-29.6v1.5m1.3 25.3v1.5m-.1-31v1.5m.7-4.6v1.5m1.1 33.1v1.5m1.2-30.6v1.5m.3-3.3v1.5m.4 28.9v1.5m.9-2.7v1.5m-.1-.4v1.5m1.2-2.7v1.5m.7-.1v1.5m.6-2.1v1.5m.8-35.6v1.5m-.2 5.2v1.5m1.3 24.2v1.5m-.3-26.7v1.5m.9-1.6v1.5m1.5 28.8v1.5m.9-33.2v1.5m0 30.7v1.5m1.1-32.3v1.5m-.5 28.5v1.5m1-.1v1.5m0-35.3v1.5m1 30.5v1.5m-.2-32.9v1.5m1.8 27.4v1.5m.4-2.9v1.5m1.1-27.3v1.5m.3 24.3v1.5m.4-1.9v1.5m1.4-31.6v1.5m1.2 30v1.5m-.3-31.6v1.5m1.2-5.6v1.5m.1 2.8v1.5m.5 29.7v1.5m.1-28.9v1.5m1.2-1v1.5m.3 31.8v1.5m.3-40.6v1.5m.6 40.1v1.5m.9-5.2v1.5m.6 7v1.5m.7 .3v1.5m-.4-81.6v1.5m.7 68.4v1.5m.3-42.6v1.5m1.1 5v1.5m.6 32.7v1.5m.6-36.1v1.5m.9 1.4v1.5m.7-1.6v1.5m-.2-3.2v1.5m1.2 .4v1.5m.9 31.9v1.5m1-1.2v1.5m.1-33.2v1.5m.7-3.9v1.5m1.3 37.4v1.5m-.1-7v1.5m1.4-31.5v1.5m-.4 28.3v1.5m.8 8.6v1.5m1.3-41.6v1.5m.3 31.8v1.5m1.1-37.9v1.5m0-2v1.5m.9 1.6v1.5m1 42v1.5m1.1-12.2v1.5m-.3 6v1.5m1.2-6v1.5m1.2-47.4v1.5m.7 52.4v1.5m.7-46v1.5m.3 37v1.5m.8-33.5v1.5m0 37.3v1.5m1.1-6v1.5m.4 3.5v1.5m.2-37.2v1.5m.6 39v1.5m1-7.5v1.5m-.1-43.3v1.5m.8-5.3v1.5m-.1 1.6v1.5m1.4-8.7v1.5m.6 30.9v1.5m.4 .3v1.5m.7-39.7v1.5m1.1-1.8v1.5m-.1 35.8v1.5m.8-33.2v1.5m.2 34.4v1.5m1-7.1v1.5m.1 2.5v1.5m1.3-6.9v1.5m.7-1.4v1.5m0-31.9v1.5m1.1-2.7v1.5m0 31.7v1.5m.9-.1v1.5m1.2-3.9v1.5m-.1 3.4v1.5m.7-1.9v1.5m.4-5.6v1.5m.9-.3v1.5m.3-35.3v1.5m.4 30.9v1.5m1.1 1v1.5m.3-4.5v1.5m.8-40.1v1.5m.4 40v1.5m.3-36.5v1.5m1-.3v1.5m.2-7.4v1.5m1 44v1.5m-.2-9.5v1.5m1.2-4.9v1.5m.1-36v1.5m.8 32.7v1.5m.5-1.2v1.5m.8-31.3v1.5m-.1 51v1.5m1.4-60.8v1.5m-.3 45v1.5m.9-8v1.5m.2-2.7v1.5m1.1-35.1v1.5m-.7 36.9v1.5m1.6-1.7v1.5m1.1 3.9v1.5m.5 5.2v1.5m-.1-3.6v1.5m1 2.9v1.5m.4-2.1v1.5m1.1-39.1v1.5m-.1 39.6v1.5m1.1 2.6v1.5m.9-5v1.5m-.1 .1v1.5m1.4-44.6v1.5m0 38.2v1.5m1 1.6v1.5m-.4 1.4v1.5m1.2-1.8v1.5m0-7.2v1.5m.4 6.5v1.5m1.5-51.9v1.5m.1 43.6v1.5m1.2-44.7v1.5m-.2 39.4v1.5m.4-43.6v1.5m.1 1.2v1.5m1.3-3.4v1.5m1.1 39.1v1.5m.1-47.2v1.5m.9 46.4v1.5m-.3 2.1v1.5m1.4-1v1.5m-.4-45.8v1.5m1.1-12.2v1.5m1.2 50.4v1.5m.8-2.9v1.5m1-43.4v1.5m1.2-9.4v1.5m.2 8.6v1.5m.4-2.1v1.5m.4 39.3v1.5m.7-1.1v1.5m-.2-2.2v1.5m1.8-46.1v1.5m.5-2.5v1.5m1.2 1.7v1.5m-.3-3.2v1.5m1.1 42.6v1.5m0-44.4v1.5m1.3 38.2v1.5m-.4 4.1v1.5m.9-49v1.5m.7-12.8v1.5m.8 9.6v1.5m.5 42.4v1.5m1.2 1.2v1.5m1.2-50.6v1.5m0 6.9v1.5m1-5.3v1.5m.5-.2v1.5m.5 45.5v1.5m.6-3.9v1.5m0-54.6v1.5m1.4 3v1.5m1.1 3.6v1.5m-.4 38.6v1.5m1.5 12.8v1.5m.8-65.7v1.5m.1 .9v1.5m.9-3.2v1.5m1.2-11.3v1.5m.1 44.8v1.5m.9-1.1v1.5m-.1-8.4v1.5m.8-52.4v1.5m.9 54.7v1.5m.3-12v1.5m.5-1.6v1.5m1-3.5v1.5m1.3-1.3v1.5m-.3-45.5v1.5m1.5 45.5v1.5m-.3-53v1.5m1.3-.3v1.5m1.1 1.2v1.5m-.6-3.1v1.5m1.2-.6v1.5m.8-1.7v1.5m0 40.7v1.5m1.5-45.3v1.5m.9-1.8v1.5m-.3 43.9v1.5m1.3-52.7v1.5m.3 46.7v1.5m.2-48.2v1.5m.1 48.3v1.5m1.3-48.8v1.5m.2 45.3v1.5m.5-39.9v1.5m-.1 36.2v1.5m1.6 1.5v1.5m-.1-4v1.5m1.1-38.9v1.5m-.2-4.9v1.5m.6 42.2v1.5m.7-3.7v1.5m.8-39.8v1.5m.7 39.3v1.5m1.1-47v1.5m1 4.6v1.5m-.2 45v1.5m1.4-54.5v1.5m-.5 7.2v1.5m1.4-14.7v1.5m-.1 54.1v1.5m.8-5.8v1.5m1.7-38.3v1.5m.8-1.1v1.5m-.2-11.9v1.5m.9 3.6v1.5m1.3 36.2v1.5m-.1-44.4v1.5m1.1 44.7v1.5m.6-37.8v1.5m1 35.5v1.5m1.2-5.3v1.5m1.2-.9v1.5m-.1-40.5v1.5m1.2 39.2v1.5m0 4.3v1.5m.5-7.2v1.5m.4-2.9v1.5m.8-33.4v1.5m-.1 31.5v1.5m1.3 3.1v1.5m-.3-4.3v1.5m1.1-4.2v1.5m-.2-31.6v1.5m.9 29.3v1.5m-.1-30.6v1.5m1.4 32v1.5m1.4-6v1.5m-.7-29.1v1.5m1.1-2v1.5m1 26v1.5m1.3-31.5v1.5m1.2 31.8v1.5m0-30.9v1.5m.7 2.7v1.5m.1 23.7v1.5m1-25.9v1.5m0 21.2v1.5m.6 1.8v1.5m.3-4.1v1.5m1.1-35.1v1.5m-.3 8.5v1.5m1.1-.2v1.5m-.1-.5v1.5m1.4 25.8v1.5m.9-.8v1.5m-.2-4.3v1.5m1.4-29.8v1.5m.9 29.6v1.5m-.2-.1v1.5m1-25.7v1.5m.2 23.8v1.5m.5-26.6v1.5m1.6-2.2v1.5m0 25v1.5m.6 2.3v1.5m0-2.1v1.5m1.1-28.7v1.5m.1 24.6v1.5m.5-.7v1.5m.8-30.4v1.5m.4 30.4v1.5m.5-33.7v1.5m.6 29.7v1.5m-.1-4.9v1.5m1.4-28.9v1.5m-.5 28v1.5m.9-30.8v1.5m.6 31v1.5m1.2-32.3v1.5m.3-3.5v1.5m1.5 30.5v1.5m-.6-32v1.5m1.8 28.9v1.5m-.1-30.1v1.5m.9 .2v1.5m-.1 21.5v1.5m.5-27.8v1.5m.8 .8v1.5m.6-4.2v1.5m1.3 23.8v1.5m.9-29.7v1.5m-.2 1.2v1.5m1.1 27.5v1.5m.1-4.6v1.5m1 .9v1.5m.6-29.8v1.5m1.1 24.9v1.5m1.5 1.5v1.5m.8-3.3v1.5m.4-.3v1.5m.5-27v1.5m.9-1.9v1.5m.3-6.1v1.5m1.1 3.6v1.5m-.2-3.9v1.5m1 27v1.5m-.1-27.8v1.5m.7 27.1v1.5m.1-27v1.5m1.4 30.3v1.5m.5 5.5v1.5m-.1-6.4v1.5m1.5 8.1v1.5m.5-1.3v1.5m1.7-37.1v1.5m.4-2.7v1.5m.1 38.5v1.5m1.5-42.4v1.5m-.4 45.7v1.5m1.4-48v1.5m-.6-.2v1.5m.9 1.6v1.5m1.6-3.6v1.5m.7 40.8v1.5m1.3 3.5v1.5m-.5-6.2v1.5m1.2-43.8v1.5m-.2 .5v1.5m1.4 42.4v1.5m.9 1.9v1.5m1-.2v1.5m.1-9v1.5m.8 5.6v1.5m1.3-5.5v1.5m.5-42.3v1.5m-.1-3.7v1.5m1-.7v1.5m1.6-5.6v1.5m-.6 50v1.5m1.4 .7v1.5m.6-47.4v1.5m.5-.9v1.5m-.2 86.5v1.5m1.2-88.4v1.5m.9-13.9v1.5m1.2 1.8v1.5m.1 3v1.5m.3 47.3v1.5m.3 57v1.5m1.1-52.5v1.5m-.3-67.5v1.5m1.1 58.4v1.5m1.5-57.8v1.5m-.6 58.5v1.5m1.4 9.7v1.5m.2-65.7v1.5m.8 58v1.5m-.3 4.9v1.5m1.1-9.9v1.5m-.4 7v1.5m1.3-62.9v1.5m.3 57.7v1.5m.7-51.1v1.5m.8 51v1.5m.1-2.9v1.5m1.4 4.8v1.5m0 5.7v1.5m1.2-63.3v1.5m-.6-2.5v1.5m.9 57.6v1.5m.5-55.1v1.5m.6 9.4v1.5m1 8.7v1.5m.4-2.2v1.5m.8 6.4v1.5m.9 3.7v1.5m1.1 49.9v1.5m.3-49.8v1.5m.3 .2v1.5m1.2 44.3v1.5m1.3-43.6v1.5m-.5-.9v1.5m.4 63.8v1.5m1.1-33.3v1.5m.7 .8v1.5m.1-.5v1.5m1-1.9v1.5m.3-8.8v1.5m.6 2.3v1.5m.3-9.6v1.5m.6-1.6v1.5m0-45.2v1.5m1.5 41.7v1.5m.6-35.2v1.5m0 35.8v1.5m1.4 5.3v1.5m0-10.5v1.5m.5-.9v1.5m.7-39.7v1.5m.8-4.1v1.5m.5 2.8v1.5m.3-2.7v1.5m1.2-6.5v1.5m-.5 42.7v1.5m1.2-39.6v1.5m1.2-5.9v1.5m-.1 37.9v1.5m.7-3.3v1.5m.6-34.9v1.5m.7 30.4v1.5m1.2-35.4v1.5m.2-4v1.5m.5 .2v1.5m-.3 34.9v1.5m1.7-2.9v1.5m0-2.6v1.5m-.3-80.8v1.5m.9 80.8v1.5m.2-35.2v1.5m.9 29.9v1.5m.4-3.1v1.5m.6-34.1v1.5m1 .5v1.5m0 33.1v1.5m1.3-4.1v1.5m.8-38.4v1.5m1.1-9.3v1.5m-.6 41.7v1.5m1.5-16.9v1.5m-.2-36.9v1.5m.7-8.1v1.5m1.1-3.4v1.5m.2 41.1v1.5m.8-52v1.5m.1-.4v1.5m1.5-9.8v1.5m-.5 3.9v1.5m1-6.1v1.5m.4-2.2v1.5m.6-6v1.5m-.1 36.8v1.5m1.3-5.9v1.5m1.3-5.7v1.5m.1-41.4v1.5m.4 34.3v1.5m.2-41.5v1.5" stroke="#E9242A" stroke-width="1.6" fill="none"/>
<path d="M108.8 487.9v24.5m1-26.3v26m1-21.9v23.5m1-24.1v28.8m1-27.5v29.9m1-28.8v25.8m1-24.1v22.3m1-23.3v25.6m1-27.6v27.1m1-28.9v26.8m1-21.6v25.2m1-17.3v25m1-16.7v21.7m1-24.9v27.8m1-27.8v25.1m1-26.8v26.3m1-34.8v25.8m1-36.9v31.8m1-38.1v31.9m1-27.9v31.2m1-20.9v29.4m1-24.7v29.7m1-23.1v25.5m1-22v26.9m1-25.4v28.6m1-26.1v27.6m1-26.3v25.9m1-20.9v20.9m1-23.8v28m1 6.2v25.2m1 21.6v22.2m1-14v26.8m1-24.9v25.4m1-23.7v22m1-22.8v21m1-17.3v18.1m1-20.8v24.2m1-23.3v20.6m1-22.1v24.8m1-21.3v17.5m1-22.1v24.4m1-22v21.6m1-22.1v21.7m1-23.5v23.8m1-23.7v20.4m1-19.4v20.6m1-20.5v19.3m1-20.9v20.4m1-20v20.1m1-20.2v17.6m1-21.4v24.8m1-24.8v22.7m1-19.3v23.1m1-17.7v23.2m1-16.4v20.4m1-21v20.2m1-18.5v22.5m1-18.8v20.5m1-23.1v22.8m1-21.3v19.9m1-18.5v20.2m1-21.9v21.7m1-23.5v21.9m1-18.8v31.7m1-33.9v22.2m1-22.7v20.8m1-17.7v19.2m1-21.4v21m1-20.5v25.8m1-21.9v24.9m1-21.4v22.9m1-21.5v27.1m1-21.7v22.1m1-19.1v27m1-25.5v21m1-24.7v27.8m1-29.1v25.8m1-30.5v28.9m1-27.4v25.5m1-29.7v26.4m1-25.3v23.4m1-22.9v25.6m1-26.4v22.2m1-19.7v19.5m1-19.4v19.7m1-22.6v24m1-23.2v20.6m1-25.6v26.6m1-24.2v21.4m1-31.2v24.1m1-31.4v22.3m1-30v18.6m1-19.5v20.9m1-20.4v16.7m1-18.2v18.7m1-20.8v18.9m1-18.4v19.1m1-21.3v19.2m1-17.5v19.8m1-20.7v19.7m1-21.6v19.5m1-21.8v20.8m1-21.1v21.3m1-20.2v17.3m1-19v21.3m1-21.4v20.7m1-22.3v21.3m1-20.2v18.9m1-16.6v16.5m1-17v18.1m1-18.9v22m1-18.5v15.7m1-18.7v19.9m1-25.8v16.8m1-26.1v18.9m1-30.1v17.8m1-19.8v20.1m1-21.1v17.7m1-20.2v20.8m1-17.1v15.8m1-17.9v20.6m1-20.1v18.8m1-19.7v21.2m1-20.4v18.5m1-30.2v28.3m1-20.3v18m1-18.1v19.2m1-19.9v17.8m1-22.4v18.6m1-22v17m1-21.3v17.1m1-16.4v16.3m1-17.2v17.6m1-15.9v14.7m1-16.4v18.7m1-19.3v18.4m1-15.7v17.4m1-18.3v15.8m1-14.5v14m1-16v18.2m1-19.6v17.1m1-15.7v18.2m1-20.1v18.6m1-18.7v18.4m1-21.4v19.4m1-18.9v24.6m1-25v19.3m1-20.1v19.8m1-17v14.9m1-17.9v19.5m1-22.4v18.2m1-19.7v16m1-19.7v17m1-20.1v18.3m1-21.6v19.8m1-23.9v22.6m1-25.1v24.9m1-26.6v25.3m1-20.2v19.1m1-18.4v21.8m1-22.7v19.9m1-18.2v21.8m1-24.4v24.7m1-23.3v24.7m1-24.8v23.6m1-20.1v20.4m1-22.3v23.5m1-21.1v20.2m1-18.9v22.4m1-23.1v24.4m1-18.9v22.1m1-17.4v24.4m1-20.4v28.7m1-24.1v32m1-34.7v32.4m1-32.9v30.2m1-26.9v26.1m1-25.9v26.2m1-27v29m1-29.6v28.7m1-29.6v30.9m1-26.5v24.5m1-27.4v33.5m1-33.7v47.4m1-44.2v30.6m1-30v27.3m1-26.4v28.6m1-45.8v47.1m1-31.8v31.9m1-29.4v30m1-30v26.9m1-26v26.9m1-30.4v34m1-29.2v27.8m1-36.5v28.7m1-37.8v29.4m1-41.7v37.2m1-38.3v32.5m1-39v42.1m1-39v32.6m1-34v33.3m1-36.8v33.4m1-43.7v56.5m1-60.6v40.3m1-38.6v38.2m1-35.1v37.2m1-37.6v42.2m1-35.3v34.3m1-34.2v36.2m1-36.2v42.7m1-35.2v39.7m1-44.8v44m1-36.4v39.8m1-38.8v39.6m1-31.9v31.5m1-27.8v38m1-32.5v31.7m1-30.9v32.3m1-37.1v35.7m1-33.8v30.3m1-28.2v28.8m1-32.9v37.6m1-37.5v32.4m1-26.4v31.4m1-32.8v33.6m1-29.8v30.2m1-29.1v28.7m1-29.2v34.3m1-35.4v35.4m1-34v28.5m1-27.6v27m1-23.3v23.8m1-22.5v29.2m1-29.1v21m1-20.7v22.5m1-22.5v22.7m1-22.6v24.9m1-21.1v21.2m1-22.3v20.6m1-25.1v23.7m1-23.2v23.1m1-23.9v22.2m1-21.6v24.6m1-24.4v20.8m1-21.5v24.9m1-23.3v20.6m1-19.5v21.7m1-23.3v21.9m1-21.4v25.6m1-24v21.9m1-25v26.7m1-27.4v23.5m1-21.9v22.9m1-24.6v25.2m1-23.1v19.6m1-19.2v22.1m1-15.8v17.8m1-16.4v18.1m1-14.9v15.8m1-15v15.7m1-15.7v14.2m1-14.4v17.8m1-18.6v19.4m1-16.5v15.1m1-15.3v14.3m1-18v19.8m1-19.9v16.7m1-15.4v17.1m1-17.3v17.9m1-17.7v21.7m1-20.2v13.7m1-15.6v16.5m1-15.8v16.8m1-19.7v16.5m1-14v14.8m1-15.1v15.9m1-16v16.8m1-18.1v15.9m1-17v19.9m1-18.5v16.2m1-16.5v16.5m1-22.1v20.4m1-24.4v19.6m1-23.1v19.2m1-20v18.9m1-22.2v24.4m1-22.6v25.6m1-25.8v23.6m1-20.9v20.5m1-20.9v28.2m1-26.8v23.1m1-25.1v36.5m1-37.4v23.8m1-20.8v22.7m1-21.9v18.4m1-20.7v21.4m1-22.5v24.2m1-22.7v30.7m1-33.3v21.7m1-20.5v20.7m1-23.2v20.8m1-18.7v21.9m1-21.2v20.6m1-22.5v22.7m1-22.6v22.5m1-20.4v19.3m1-18.6v21.9m1-22v20.5m1-22.4v23.5m1-23.4v21.2m1-18.3v21.1m1-19.8v18.7m1-20.2v28.8m1-27.3v21.8m1-21.7v20.6m1-19v18.4m1-12.3v21.8m1-11.1v26.6m1-24.1v28.5m1-28.4v27.6m1-29.4v28.7m1-28.2v25.2m1-26.5v27.2m1-22.5v29.7m1-32.2v27.9m1-25.2v22.9m1-25v23.8m1-21.1v25.3m1-29.1v26.5m1-26.3v25m1-25.5v26.2m1-27.9v27.9m1-23.8v22.4m1-23.7v24.7m1-20.6v22.6m1-17.7v19.2m1-18v19.5m1-15.2v16.4m1-19.4v22.1m1-22.4v22.4m1-21.8v17.6m1-19.3v19.7m1-16.5v16m1-17.5v21.7m1-19.8v20.3m1-20.4v20.9m1-20.9v20.7m1-19.9v19.3m1-21.7v18.8m1-20.7v19.7m1-18.8v18m1-16v18.2m1-18.3v15.6m1-15.4v17.1m1-19.4v20.6m1-21.2v19.4m1-20.2v20.7m1-21.7v20.4m1-21v19m1-16.8v20.3m1-19v18.8m1-15.5v16.8m1-19.9v22.1m1-21.6v22.7m1-20.9v17.3m1-18.2v19.3m1-20.7v19.1m1-20.1v21.1m1-20.6v16.7m1-17.5v20.1m1-19.5v26.2m1-23.8v17.5m1-15.3v19.1m1-20.5v21.5m1-18.1v19.7m1-19.7v18.5m1-16.1v18.1m1-16.3v18.8m1-19.2v17.2m1-19.4v20.6m1-19.3v19.4m1-22.8v21.5m1-19.8v20.5m1-19v18.3m1-18.7v17.8m1-15.2v18.9m1-23.5v23.2m1-21.1v19m1-22v20.4m1-22v19m1-18.6v17.4m1-21v20.3m1-22.2v19.1m1-20.2v19m1-21.4v19m1-18.1v16.8m1-26.9v27.9m1-22.7v21.5m1-22.8v22.3m1-20.4v17.1m1-21.3v23.2m1-23.6v20.1m1-20.3v20m1-19v19.6m1-22.4v22.1m1-22v17.9m1-18v24.5m1-29.6v20.2m1-20.9v20.9m1-21.1v21.2m1-22.6v20.8m1-19.3v16.4m1-16.4v17.4m1-22.2v22.4m1-22.9v20.9m1-21.6v20.6m1-22.2v19.1m1-18.9v20.3m1-23.6v20.3m1-20.1v21.6m1-19.8v17.9m1-20.7v20.7m1-21.8v22.6m1-22v19.8m1-20.9v18.4m1-19.1v18.4m1-15.6v20.6m1-13.8v20.5m1-13.2v19.4m1-23.6v16.3m1-24.5v19.4m1-27v24.4m1-29.9v22.2m1-24.4v18.8m1-19.6v28.7m1-30.4v20.9m1-19.5v17.5m1-20.6v22.2m1-22.7v20m1-21.1v23.5m1-25.3v24.3m1-21.9v19m1-21.5v23.9m1-21v21.5m1-21.2v21.1m1-21.8v18.8m1-19.7v21.3m1-19.7v19.7m1-21.7v22m1-24.2v21.8m1-24.7v22.6m1-25v24.6m1-24.8v21m1-27.6v22.9m1-25.9v19.8m1-24.4v23.9m1-26.5v21.7m1-23.8v24.8m1-22.9v21.2m1-25.7v21.9m1-20.5v21.1m1-23.9v22.9m1-26.4v23.5m1-28v21.9m1-21v20.5m1-29.7v23.8m1-33.8v28.8m1-37.9v27.8m1-30.2v25.4m1-24.4v26.6m1-29.9v28.5m1-29.5v24.7m1-28.3v29.9m1-30.3v24.8m1-28.1v25.8m1-24.7v23.3m1-25.2v28.4m1-27.9v28.9m1-32.4v28.1m1-23.4v22.3m1-27v27.4m1-25.3v27.5m1-25.3v25.4m1-26.8v30.4m1-27.3v26.8m1-26v23m1-26.8v32.1m1-32.3v27.7m1-26.8v25.9m1-17.6v26.5m1-18v25.1m1-15.8v22.1m1-16.8v31.4m1-22.1v25.6m1-23.7v24.2m1-16.2v20.2m1-19.7v19.8m1-21.9v22.6m1-21.1v23m1-22.8v20.7m1-32.6v34.3m1-23.9v22.6m1-18.8v19.9m1-20.6v19m1-19.4v21.4m1-24.6v24.7m1-23v19.9m1-20.9v23.6m1-24.8v22m1-19.2v19.7m1-19.8v17.8m1-19.8v19m1-18.1v20.7m1-19.5v20.3m1-20.8v22.3m1-22.1v18m1-18.6v19.8m1-21v22.4m1-24.5v23.8m1-23.8v21.4m1-20.3v19.5m1-20.6v24.7m1-24.6v20.9m1-8.2v19.7m1-10.7v26.5m1-9.1v23.3m1-30.1v24.8m1-28.2v22.4m1-33.5v23.7m1-26v25.8m1-27.3v25.6m1-24.7v26.7m1-23v22.8m1-23.2v24.1m1-19.8v22.4m1-23.1v21m1-18.9v20.9m1-21.6v22.4m1-21.5v21.9m1-22.2v24.4m1-24.4v20.6m1-21.8v22.7m1-23.1v21.1m1-26.1v22.8m1-20.8v22.7m1-27.2v26.6m1-26.9v23.1m1-23.3v26.9m1-23.9v19.9m1-21.4v22.2m1-22.4v25.2m1-25.3v21.9m1-21.6v21.9m1-21v25.3m1-27v25.8m1-25.6v19.9m1-23.4v18m1-22.8v15.5m1-18.3v16.1m1-16.9v19.2m1-16.8v16.8m1-15.1v20.1m1-20.3v16.8m1-17.1v16.7m1-16.5v19.5m1-23.6v23.1m1-19v18.5m1-18.9v17.8m1-14.1v16.3m1-16.4v27.1m1-23.5v25.6m1-20.6v34m1-33.7v30.6m1-27.8v26.5m1-27.3v27.5m1-30v30m1-31.7v33m1-29.5v26.8m1-31.9v38.4m1-36.8v37.3m1-35.9v34.6m1-36.7v33m1-30v31.8m1-36.4v30.8m1-30.5v33.7m1-33.4v32.2m1-30.8v52.3m1-50.1v29.1m1-32.6v34.9m1-35v35.4m1-31.5v27.5m1-31.5v31.1m1-29.5v31.3m1-50.1v56.1m1-34.9v36.9m1-34.6v34.2m1-35.7v37.1m1-32v28.2m1-29.7v35.5m1-30.6v25.8m1-27.1v25.7m1-31.9v35.5m1-33.2v29.6m1-30.6v28.7m1-30.9v29m1-34.2v34.2m1-33.7v31.7m1-35v38.3m1-33.7v27.7m1-29.2v31m1-23.5v25.9m1-20.6v23.9m1-13.9v17.5m1-15.8v15.7m1-14v13.7m1-15v14.9m1-15.8v13.5m1-13v15m1-16.8v15.9m1-14.4v12.3m1-12.5v13.3m1-15.7v16.9m1-15.2v14.2m1-16.1v16.5m1-14.5v12.8m1-12.2v12.2m1-13.8v15.2m1-13.5v15.9m1-17.1v15.1m1-13.6v14.4m1-16v15.4m1-8.1v13.6m1-7.5v16.6m1-9.4v17.9m1-20v22.9m1-21.3v21.7m1-21v17.5m1-18.5v21.8m1-19.3v16.9m1-18.3v20.5m1-19.9v19.5m1-18.5v16.5m1-19.8v22.1m1-19.9v19m1-17.2v21m1-15.7v25.5m1-18.3v23.7m1-24.9v25.3m1-26.8v28.5m1-29.5v25.4m1-23.5v24.7m1-25.3v29.7m1-30.1v29.3m1-27.1v24.9m1-27.3v25.7m1-27.3v25.6m1-24.8v27m1-29.5v25.1m1-20.2v21.4m1-22.7v26.2m1-25.9v25.9m1-27.6v24.1m1-22.7v25.1m1-24.3v25.9m1-25.6v24.4m1-24.1v26.7m1-30.6v30.2m1-26.6v23.1m1-25.2v25.2m1-22.7v22.7m1-25.5v23.2m1-18.3v28.5m1-20.6v26.8m1-18.1v27.9m1-26.7v27.8m1-24.5v25.3m1-27v23.9m1-22.5v22.5m1-23v27.7m1-28.3v28.5m1-30.7v28.6m1-28.8v29.9m1-29.7v31.2m1-29.7v30.2m1-30.2v25.9m1-24.2v27.3m1-25.5v24.8m1-25.3v22.7m1-26.4v28.5m1-20.5v22.8m1-15.6v29.8m1-23.1v32.3m1-29.3v32.3m1-30.8v30.3m1-27.1v29.8m1-28.7v30m1-34.2v33.5m1-31.8v28.5m1-32.8v29.7m1-28.6v30.2m1-31.6v30.9m1-31.1v30.1m1-27v27.4m1-29.3v33.2m1-28.3v27.9m1-26.9v24.2m1-28.9v29m1-23.5v29.1m1-33.9v29.7m1-29v30.8m1-32.4v28.6m1-29.5v27.2m1-27.5v30m1-32.2v33.7m1-29v27.5m1-34.3v35.9m1-34.5v31.7m1-35v30.5m1-34.6v31.4m1-28.5v30.6m1-30.7v28.8m1-30.4v34.5m1-32.8v28.3m1-33.3v30.5m1-33.3v37.7m1-35.6v35.4m1-38v37.5m1-34.5v29.8m1-33.8v35m1-37v33.3m1-35v33.5m1-33.7v33.6m1-31.2v29.9m1-27.8v31.3m1-36.2v31.5m1-30.2v20.6m1-24.2v15.9m1-17.1v14.9m1-14.8v14m1-13.2v12.6m1-13.6v15.8m1-16.4v15.1m1-13.9v13.2m1-15.7v17.4m1-16.2v13.6m1-14.3v16.9m1-16.3v16m1-15.9v14.7m1-13.6v13.6m1-6.2v16.4m1-5.7v18.2m1-9v23m1-17v17.8m1-17.4v18.7m1-22.4v22.4m1-19.2v21.5m1-23.3v19.9m1-20.7v21.8m1-23.6v21.7m1-20v21.3m1-19.5v20m1-21.5v24.5m1-24.1v23.2m1-23.2v21.6m1-18.9v21m1-24.4v22m1-19.2v17.9m1-20.7v21.5m1-18v17.4m1-18.4v19.7m1-20.8v22.2m1-20.3v21.7m1-23.7v24.9m1-24.4v24.7m1-21v19.8m1-18.9v19m1-20.2v22m1-22.3v21.4m1-18.1v21.8m1-20.6v21.8m1-22v20.2m1-20v22.6m1-20.4v17.2m1-19.4v21.1m1-20.1v20.2m1-21.4v22.3m1-23.3v21.7m1-20v21.8m1-18.8v21m1-20.8v18.3m1-21.3v24.2m1-25.8v24m1-22.6v19.6m1-17v20m1-22.6v22.7m1-20.8v22.1m1-24.8v21.7m1-19.7v19.7m1-21.6v21.6m1-21.6v23.1m1-22.6v21.6m1-22.1v24m1-16.6v21.4m1-18.1v20.1m1-13v18.3m1-17.2v17.8m1-19.3v18.9m1-15.9v18.7m1-21.1v20.4m1-19.4v21.5m1-18.7v19.1m1-22v18.5m1-27v30.9m1-21.3v18.6m1-22.8v21.1m1-18.7v17.3m1-17v18.8m1-21.6v22m1-19.5v19.6m1-20.2v17.3m1-18.5v21.9m1-19.2v17.1m1-16.7v19m1-21.7v18.5m1-19.4v18.7m1-20v18.4m1-17.8v17.1m1-18.5v19.9m1-19.3v16.9m1-18.3v18.2m1-16.1v20.1m1-18.8v21.2m1-18.6v21.5m1-24.5v24.5m1-23v22.9m1-24.5v21.9m1-21.6v24.6m1-22.9v34.6m1-35.5v24.4m1-20.5v22.1m1-22.3v22.4m1-21.5v20.5m1-21.3v19.3m1-21.5v25.2m1-27.3v24.1m1-21v19.3m1-20.1v23.6m1-25.9v24.5m1-23v19.7m1-18.7v23.6m1-26.2v23.1m1-21.5v23.1m1-21.8v22.4m1-25.5v29.5m1-26v21.6m1-20.8v20.9m1-21.5v25m1-29.6v28.3m1-24.1v25.8m1-27.4v23.9m1-30.8v26.9m1-31.6v25.9m1-27.1v22.9m1-24.4v25.2m1-21.9v29.2m1-23v27.3m1-23.1v26.2m1-27.6v26.6m1-26.9v29.4m1-30.7v27.5m1-27.9v27.9m1-24.1v23.3m1-28.5v29.3m1-28.8v27m1-31.4v24.3m1-27.4v25.9m1-31.6v42.5m1-46.4v28.5m1-26.7v25.3m1-30.9v27m1-26.4v20.9m1-27.2v26.1m1-25.1v19.4m1-22.2v17.6m1-18.4v17.4m1-17.7v19.2m1-22.9v18.9m1-16.9v16.5m1-16.4v18.5m1-20.3v17.6m1-17.9v19m1-18.4v17.7m1-20.9v19.7m1-16.5v17.9m1-18.2v17.6m1-17.8v15.9m1-18.1v19.3m1-20.2v20.4m1-16.9v16.1m1-17v19.9m1-18v29.7m1-32.8v21.5m1-25.6v18.8m1-25v19.7m1-24.9v21.6m1-25.8v20.5m1-23.9v20.4m1-24.3v32m1-34.8v22.6m1-15.3v17.1m1-11v20.2m1-10.7v21.6m1-12.4v19.3m1-9.2v15.6m1-10.3v22.3m1-17.8v15.5m1-18.4v19.6m1-17.8v19.3m1-19.5v18.5m1-22.5v23m1-27.6v32.8m1-41.7v21.1m1-28.5v22.3m1-30.7v26.3m1-31v26.7m1-29.4v27.2m1-29.3v22m1-25.6v23.6m1-22.9v27.6m1-18.1v24.2m1-18.5v40.6m1-30.5v28.4m1-23.1v22.3m1-22.6v28.7m1-26.3v31.1m1-30.8v34.5m1-30.4v34.1m1-28.1v29.2m1-31.5v35.2m1-29.1v39.2m1-33.8v35.3m1-34.3v30.5m1-34.1v34.5m1-34v34.9m1-37.4v36.5m1-29.6v29.8m1-30.5v37.3m1-39.2v39.8m1-34.8v35.1m1-38.8v33.1m1-32.4v32.2m1-33.4v39.5m1-33.3v34m1-36.5v35.8m1-34.6v33.8m1-34.1v33.1m1-34.8v35m1-28.9v34.1m1-35.7v37.4m1-41.8v45.6m1-32.9v34m1-31v32.3m1-30.5v36.6m1-33.7v38.5m1-42.5v37.3m1-33v36.9m1-43.8v38.6m1-38.7v43.7m1-44.2v37.3m1-36.3v38.1m1-39.8v42.8m1-36.7v33.5m1-36.1v42.7m1-45.3v46.7m1-44.5v43.4m1-48.9v43.8m1-38.9v41.1m1-41.6v39.8m1-44.3v36m1-38.3v34.2m1-34.5v42.3m1-47.5v29.6m1-31.4v29.8m1-31.4v28.5m1-34.4v33m1-35.1v29.7m1-31.2v26.8m1-27.9v24.2m1-25.6v22.1m1-28.7v29.3m1-31.4v24.9m1-27.3v23.5m1-22.6v18.8m1-24.8v24.5m1-25.3v20.6m1-22.1v20.1m1-22.3v19.7m1-19v18.2m1-18.9v18.5m1-18.6v20m1-18.6v20.4m1-20.7v19.2m1-20.5v18.2m1-16.2v17.6m1-20.1v21.1m1-18.6v19.3m1-22.5v21.5m1-18.6v17.3m1-18.3v20.9m1-20.6v20.3m1-19.4v20m1-21.7v19.2m1-20.5v20.2m1-20.8v21.6m1-20.3v17.8m1-18.5v19.1m1-23.2v21.1m1-22.9v21.3m1-21.9v23.2m1-18.6v20.4m1-19.8v20.3m1-24v23m1-21.2v21.6m1-22.3v23.8m1-22.7v20.6m1-21.4v22.1m1-24.3v24.7m1-24.3v22.4m1-21.2v23m1-20.9v22.1m1-21v20m1-19.2v19.7m1-21.1v19.5m1-18.4v17.8m1-21.8v23.8m1-22.8v22m1-20.6v17.6m1-19.5v19.9m1-17.7v19.5m1-22v21.9m1-17.2v22.6m1-19.1v21.7m1-25.1v22.8m1-22.2v24.6m1-27.1v22.8m1-21.6v26.4m1-25.5v22.8m1-23.8v22.7m1-21.6v26.3m1-26.5v22.2m1-23.8v29.9m1-26.8v20.2m1-20.7v20m1-20.2v23.2m1-25.4v25.5m1-21.3v19.8m1-22.5v22.2m1-22.1v20.5m1-21v25.4m1-25.7v22m1-19.5v22.3m1-23.5v26.1m1-22.6v21.5m1-23.9v25.2m1-23.7v21.5m1-30.3v29.3m1-21.5v24.3m1-25.2v22.4m1-22.8v21.3m1-21.4v24m1-22.3v19.4m1-22.9v25.9m1-22.5v20.6m1-18.9v19.9m1-23.3v24.2m1-25.9v22.8m1-20.2v21.7m1-24.2v34.4m1-33.2v20.5m1-22v22.4m1-20.2v23.7m1-22v22.5m1-25.3v24.3m1-25.3v24m1-21.2v23.1m1-23.1v19.9m1-20.4v24.6m1-24.8v21.3m1-21.8v22.1m1-19.9v21.9m1-22.7v23.1m1-24.6v25.1m1-30v22.5m1-36.5v26.4m1-33.5v18.7m1-30.5v24.2m1-37.7v27.2m1-27v29.4m1-32.5v23.9m1-22.9v25.2m1-23.7v22m1-22.1v22.1m1-20.9v20.5m1-22.2v20.7m1-19.9v20.9m1-18.8v19.7m1-19.4v34.6m1-35.6v22m1-24.2v30.9m1-30.9v21.3m1-20.9v20.2m1-20.1v27.7m1-29.6v24.4m1-25.5v21.5m1-22.1v25.5m1-22.3v26m1-22.7v28.1m1-29.9v32m1-29.3v30.7m1-32.4v34.3m1-30.7v29.2m1-27.7v33m1-38.1v35.5m1-33.7v34.5m1-30.1v35.2m1-36.2v32m1-32.9v32.9m1-28.6v38.6m1-42.8v34.9m1-34v37.9m1-39.4v40.1m1-40.3v38.7m1-37.3v34.9m1-36.6v39.2m1-34.3v34.3m1-49.7v48.1m1-35.2v52.3m1-58.5v38.6m1-39.2v38.5m1-32.2v32.4m1-35.3v30.7m1-30.8v35.2m1-35.3v36.8m1-36.1v30.4m1-30.3v34.3m1-34.8v37.7m1-37.9v33.8m1-33.4v30.4m1-33.1v36.2m1-39.3v33.3m1-30.2v30.1m1-29.6v34.1m1-34.4v33.4m1-30.5v35.8m1-33.6v29.3m1-36.3v27m1-36.1v25.6m1-35.5v19.8m1-21v20.7m1-22.4v22.1m1-19v17.4m1-20.3v20m1-19.6v20.2m1-28.8v27.7m1-19.2v15.8m1-16.6v17.6m1-18.6v19.1m1-20.6v18.4m1-16.9v15.9m1-19.1v19.2m1-19.8v20.6m1-17.6v18.2m1-21v19.4m1-18.4v18.3m1-20.6v20.1m1-20.6v17.7m1-19.3v20.9m1-22.7v21.8m1-20.4v20.3m1-19.3v18.6m1-20.4v20.6m1-25.3v19.1m1-29.3v21.2m1-29.4v20.1m1-21.3v18.4m1-19.3v20.8m1-17.6v17.2m1-17.8v18m1-21.7v19.2m1-17.6v20.8m1-20v19.7m1-20.3v21.1m1-19.7v16.4m1-17.5v18.4m1-19.4v19.8m1-17.7v16.7m1-17.5v19m1-20.6v23.2m1-20.2v19.2m1-19.2v17.1m1-17.4v17.3m1-15.7v18.6m1-21.8v21.9m1-20.5v20.4m1-22.7v22.2m1-21.6v17.9m1-17.1v24.1m1-24.7v17.8m1-18.5v17.6m1-18.5v21.3m1-22v21.5m1-34.8v23.5m1-40.4v27.3m1-36.6v21.5m1-34.8v18.7m1-21v18.9m1-19.7v22m1-22v21.6m1-20.4v17.4m1-18.6v18.3m1-17.3v17.1m1-18.1v16.8m1-16.8v19.7m1-19.7v16.7m1-16.7v19.5m1-19.5v19.7m1-19.7v17.4m1-17.4v20.7m1-20.7v19.8m1-19.8v18m1-15.6v15.8m1-15.8v19.2m1-21.6v20.9m1-19.9v20.1m1-21.1v18.7m1-18.7v16.3m1-16.3v16.6m1-16.6v18.9m1-18.9v16m1-16v18.2m1-18.2v15.3m1-15.3v16.2m1-16.2v18.9m1-18v18.9m1-19.8v18.2m1-14.5v16.5m1-18.7v22m1-20.4v21.5m1-20.9v22.4m1-20.5v19.2m1-20v15.8m1-18.9v17.5m1-17.5v13.4m1-14.4v12.2m1-12.9v8.4m1-8.4v9.1m1-9.1v7.6m1-7.6v8.5m1-8.5v7m1-7v6.7m1-6.7v7.1m1-7.1v6m1-6v5.3m1-5.3v6.1m1-6.1v6.5m1-6.5v9.1m1-9.1v6m1-6v6.3m1-6.3v6.2m1-6.2v5.7" stroke="#41BDEC" stroke-width="1.35" fill="none"/><path d="M108.6 514.8v1.5m.4-.5v1.5m.7-30.8v1.5m1.4 30v1.5m.3 .9v1.5m1-2.4v1.5m.5-2.8v1.5m.7-28.7v1.5m-.2-2.7v1.5m1.1-5.1v1.5m.5 3v1.5m1.1 30.9v1.5m-.4-.7v1.5m1.4-7.2v1.5m.4-30.4v1.5m1.4 32.5v1.5m0-28v1.5m1.2 1.4v1.5m.7 33.7v1.5m.7-30.8v1.5m.5-.8v1.5m1.2 29.4v1.5m1-33.6v1.5m-.8-5.3v1.5m1.6-6.4v1.5m1 18.9v1.5m-.4-1.7v1.5m.9-4.7v1.5m1.5 0v1.5m-.2-36.6v1.5m.7 9.6v1.5m-.1 29.7v1.5m1.2 2v1.5m.6-27.7v1.5m.8 33.1v1.5m-.3-38.3v1.5m1.4 36v1.5m.7 4v1.5m.1-3.5v1.5m1-26.9v1.5m0-1v1.5m.5-.4v1.5m1.6-1.4v1.5m-.4-4.7v1.5m1.5 .6v1.5m.9 62.8v1.5m-.5 1.9v1.5m1.5 41.9v1.5m1-20.7v1.5m.1-2v1.5m.8-4.1v1.5m-.3 27.8v1.5m1.4-27.6v1.5m-.5 23.5v1.5m1.2-.5v1.5m-.2-24.3v1.5m1.6 21.6v1.5m.9-.6v1.5m0-27.5v1.5m.5-2.8v1.5m0 3.9v1.5m1.1-1.9v1.5m.5 23.3v1.5m1-3.7v1.5m-.5-27.9v1.5m1.1 24.9v1.5m.8-1.9v1.5m.5-.2v1.5m.9-6.4v1.5m.1-.9v1.5m.6-1.8v1.5m0-24.9v1.5m.8-2.2v1.5m.3 25.6v1.5m1.5-26v1.5m-.5 21.3v1.5m.8-27.6v1.5m.1 24.1v1.5m1.1 1.3v1.5m1.3-30.6v1.5m.6-.9v1.5m1.1-3.6v1.5m.3 0v1.5m.5-1.1v1.5m-.1-1.1v1.5m1.2 23.4v1.5m.1 .1v1.5m1-21.3v1.5m.4-4v1.5m.7 29.7v1.5m.9-24.2v1.5m-.2 21.5v1.5m1.6 2.8v1.5m-.5-30.5v1.5m.9 3.5v1.5m.6 26.5v1.5m.3-1.4v1.5m.5-29.1v1.5m.9 22.3v1.5m.4-25.7v1.5m.4-4.7v1.5m-.1 2.5v1.5m1.2 21.1v1.5m.2 1.3v1.5m.9-26.4v1.5m.4-4.1v1.5m.9 23.1v1.5m-.7 .3v1.5m1.1-25.4v1.5m0 20.1v1.5m1.5-1.9v1.5m1.2 .9v1.5m-.4-1.1v1.5m1.1-25.8v1.5m1.3 23.5v1.5m0 1.8v1.5m.8-24.6v1.5m.1-1.4v1.5m.3 26v1.5m.3-3.1v1.5m1.1-21.8v1.5m.7 0v1.5m.2 27.4v1.5m1.4 4.4v1.5m-.3-4v1.5m1.4-28.3v1.5m.6 27.6v1.5m.4-34.3v1.5m.3 24.5v1.5m.7 2.2v1.5m.6-6.5v1.5m-.3-28.2v1.5m1.1-5v1.5m0 25.3v1.5m1.1-27.2v1.5m.9 20.8v1.5m.4-25.2v1.5m1-2.5v1.5m0-3.5v1.5m.7 24.5v1.5m.7-1v1.5m.1-27.7v1.5m1.3-3.1v1.5m.7 25.5v1.5m-.1-24.6v1.5m1.1-5.6v1.5m.5-8.2v1.5m.5 31.1v1.5m.2-30v1.5m.9 28.1v1.5m-.2-28.8v1.5m1.2-11v1.5m-.1 36.2v1.5m1-44.4v1.5m1.4-7.7v1.5m-.1-5.7v1.5m.6 22.3v1.5m.1-26.7v1.5m1.2-2v1.5m1.2-3.5v1.5m1.3-7.9v1.5m-.7 6.4v1.5m1.3-.8v1.5m-.1 18.6v1.5m1.5-22.7v1.5m-.2-1.2v1.5m1.1 18.5v1.5m-.6-26.2v1.5m1.5 23v1.5m.5-24.8v1.5m0 .9v1.5m1.3-2.6v1.5m.2-2.6v1.5m1-2.4v1.5m.1 24.4v1.5m.3-6.4v1.5m1.1-23.8v1.5m0 20v1.5m1.5 .2v1.5m1-24.5v1.5m-.6-.9v1.5m1.8-2v1.5m.9 21.8v1.5m-.4-3.7v1.5m1-26.7v1.5m0 25.2v1.5m.1-45.7v1.5m1.2 48.6v1.5m.6-6.9v1.5m-.1-21.8v1.5m1.7-4.1v1.5m-.5-.1v1.5m1.5 10.2v1.5m-.6-.7v1.5m1.4-30.9v1.5m.9-12.6v1.5m-.3 23.9v1.5m1.6-29.6v1.5m1-4.5v1.5m-.7 23.7v1.5m1.2-25.3v1.5m-.1 21.4v1.5m1.3-28.6v1.5m.6 28.7v1.5m.5-5.2v1.5m.6-.9v1.5m1-26.1v1.5m1.3-4.1v1.5m-.4 25v1.5m1.5-25v1.5m1-1.8v1.5m-.6 22.5v1.5m1.3-6.8v1.5m.9 .2v1.5m.6-25.7v1.5m.4-9v1.5m0 24.6v1.5m1.4-6.5v1.5m.8-24.2v1.5m.4 17.9v1.5m.3-4.9v1.5m.4-21.5v1.5m-.1 45.4v1.5m1.3-25.7v1.5m.6-22v1.5m.5 .1v1.5m.4 17.8v1.5m1.3-21.8v1.5m.6-4.5v1.5m1.1-.2v1.5m1.1 19.7v1.5m0-.6v1.5m.8-2.3v1.5m1.3-20.3v1.5m-.3 17.1v1.5m1-21.2v1.5m.5-1.2v1.5m.9-3v1.5m-.1 35.5v1.5m1-18.5v1.5m1.4-22.1v1.5m.3-4.9v1.5m1.5 19.6v1.5m-.3-20.1v1.5m1.4-2.6v1.5m-.6 19.4v1.5m1.6-22.7v1.5m-.6 20.7v1.5m1.5-22.8v1.5m.9-6.4v1.5m-.5 20.3v1.5m1.2-3.3v1.5m0-3.8v1.5m1.1-3.8v1.5m-.2-23.2v1.5m.9-9v1.5m1.4-.9v1.5m.8 25.2v1.5m.3-3.9v1.5m1.1-34.1v1.5m-.3 1v1.5m.9 23.3v1.5m-.2-25.6v1.5m1.2 27.4v1.5m1.4 1.7v1.5m-.4-36.3v1.5m1.5 5.1v1.5m1.1 25.4v1.5m.6-29.9v1.5m.2 29.4v1.5m.6-3.2v1.5m.4-30.5v1.5m1.1 29.2v1.5m-.5-28.2v1.5m1.3-7.7v1.5m-.2 4.2v1.5m1.4-.1v1.5m-.3-1v1.5m1.1 24.3v1.5m.8-3.2v1.5m.4-26v1.5m.8 27.4v1.5m-.2-28.3v1.5m1.2-.9v1.5m.1-.8v1.5m1 5v1.5m1.2 3.4v1.5m.7 40.5v1.5m.2-9.6v1.5m.4-31.1v1.5m1.1-.7v1.5m.5-3.8v1.5m.7 .4v1.5m.6 30.8v1.5m1.7-37.7v1.5m-.5-5.2v1.5m1.3 .2v1.5m.7 .7v1.5m1.6 38.5v1.5m.9-38.7v1.5m-.2 32.8v1.5m1.2-1.3v1.5m-.7-2.8v1.5m1.3-.3v1.5m.8 1.6v1.5m1.6-33.7v1.5m-.6-2v1.5m1-8.1v1.5m1.6 3.2v1.5m.1 35.9v1.5m.5-7.5v1.5m.5-34.5v1.5m.7 37.4v1.5m1.2-38v1.5m-.5-7.5v1.5m.9 6v1.5m.1 33.7v1.5m1.1-37.2v1.5m1.3 26.8v1.5m-.2-36.8v1.5m.6 25.5v1.5m.4-2.1v1.5m1.1-7.6v1.5m.7 .9v1.5m0-49.2v1.5m.8-2.9v1.5m.1-2.4v1.5m1.1 39.1v1.5m.3-41.5v1.5m1.1-10v1.5m.6 42.1v1.5m.5-1.2v1.5m.9-51.7v1.5m0-1v1.5m1 44.9v1.5m-.4-.1v1.5m1.3-5.2v1.5m-.2-49.6v1.5m1.4 44.7v1.5m.6-41v1.5m1.2 2v1.5m1-3.3v1.5m-.2 48.1v1.5m.9-43.1v1.5m1.2 .6v1.5m.2 44.1v1.5m1.1-52.5v1.5m-.2 48.7v1.5m.8-2.4v1.5m-.2-44.4v1.5m1.6 44.1v1.5m-.1 .5v1.5m.6-43v1.5m-.1 6.3v1.5m1.3 2.9v1.5m1.2 34.1v1.5m.5 5.7v1.5m.3-11.5v1.5m1.2-33.8v1.5m1.1-3.1v1.5m.1-4.2v1.5m.5 35.7v1.5m.5 2.2v1.5m.4-.7v1.5m-.1-38.7v1.5m1.4-2.5v1.5m-.2-3.6v1.5m1.1 2.6v1.5m.1 32.5v1.5m.9-35.7v1.5m.9 37v1.5m.1-39.4v1.5m1.3 37.7v1.5m0-38.8v1.5m1-2v1.5m-.5-2v1.5m1.2 38.2v1.5m.7-35.9v1.5m.1 30.6v1.5m1.4-2.9v1.5m-.5-.1v1.5m1.1-32.1v1.5m0 27.6v1.5m1.3-1.7v1.5m.2 6.3v1.5m.8-7.3v1.5m1.2-31.3v1.5m.6 2.4v1.5m0 25.7v1.5m1.3-30.6v1.5m-.3 25.9v1.5m.9-2.1v1.5m.2-26.9v1.5m1.2-5.5v1.5m.5-1.8v1.5m.9 1v1.5m1.1 .5v1.5m1.7 22.5v1.5m.6-29v1.5m0-.2v1.5m.8 1v1.5m.4-6.2v1.5m1.2-.9v1.5m0-2.7v1.5m.6 4.3v1.5m.4 21.6v1.5m.5 4.2v1.5m.2-7.7v1.5m1.3 3.3v1.5m-.2-29v1.5m1-1.3v1.5m1 20.6v1.5m1.1-1.6v1.5m-.7-.5v1.5m.4-52.9v1.5m1.1 24v1.5m1.1 24.1v1.5m-.3-1.2v1.5m1.2-.4v1.5m-.4-27.5v1.5m1.4 22.2v1.5m1.2 .2v1.5m1.1 6.7v1.5m-.2-2.5v1.5m1-1.8v1.5m-.5-4.8v1.5m1.5-22.2v1.5m1 1v1.5m.1 16.4v1.5m.6-19v1.5m.2 17.2v1.5m.8-18.4v1.5m1.2 16.6v1.5m-.2-1.7v1.5m1-21.5v1.5m0-3.8v1.5m.9 20.6v1.5m1.5-1.7v1.5m-.7-.9v1.5m1.4 1.1v1.5m-.3-4.8v1.5m1.5-19.9v1.5m0 15.3v1.5m.8-.7v1.5m.9-23.1v1.5m.4-1.7v1.5m.6 1.4v1.5m1-3.8v1.5m.1-1.5v1.5m.8 .6v1.5m.4-1.9v1.5m.4-1.5v1.5m1.7 20.1v1.5m.5-4.6v1.5m-.2-.7v1.5m1-22.8v1.5m.8 22.9v1.5m.7-23.3v1.5m-.2 17.8v1.5m.8-26.3v1.5m1.5 21v1.5m-.3-19.8v1.5m1-4.5v1.5m.2 17.8v1.5m.7-4v1.5m.1 .2v1.5m1.2-36.5v1.5m.3 2.1v1.5m.9-3.6v1.5m.4-2v1.5m.2 26.2v1.5m1.4-23.6v1.5m-.3 24.8v1.5m1-2.4v1.5m-.3 1.4v1.5m1.3-29.9v1.5m-.2 22.5v1.5m1 3.5v1.5m.3-7.1v1.5m1.2-23.5v1.5m-.5 26.8v1.5m1.3-7.4v1.5m-.5-24.3v1.5m1.5 22.7v1.5m1-31.5v1.5m0 2.9v1.5m.5-1v1.5m1.7-4.2v1.5m-.6 26.4v1.5m1.3-26.9v1.5m.8-2.4v1.5m1.3 23v1.5m.7-26.3v1.5m1.5-2.7v1.5m-.6-1.2v1.5m1.2-2.8v1.5m.2-.6v1.5m.7-1.9v1.5m0-3.4v1.5m.9 24v1.5m1.6 .2v1.5m1-25.4v1.5m-.2 25.6v1.5m1.1-27.7v1.5m-.1-5.9v1.5m.5 29.2v1.5m.5-32.5v1.5m.8 29.1v1.5m.1-6.2v1.5m1-24.5v1.5m1.2 26.5v1.5m-.1-5.5v1.5m1.2-22.8v1.5m.7 .7v1.5m-.2-2.8v1.5m1.2 .4v1.5m1.2 22.2v1.5m-.6-24.2v1.5m1.5 17.6v1.5m-.4 4v1.5m1-17.4v1.5m.6 23.1v1.5m1.1-19.3v1.5m.4 4.6v1.5m.1-3v1.5m.7 27.3v1.5m.4-3.1v1.5m.8-31.8v1.5m.3 1.2v1.5m1 27v1.5m1.1-40v1.5m-.4 9.5v1.5m1.1 28.9v1.5m0-.7v1.5m1.1-40.3v1.5m1.2 .9v1.5m.5 .8v1.5m1.4 .3v1.5m.2 36.5v1.5m.7-6.4v1.5m.1-34.1v1.5m1-3.7v1.5m-.1 30.3v1.5m.9-.1v1.5m-.2-7.9v1.5m1.5 .1v1.5m.1-30.5v1.5m.4-1.3v1.5m.5 .2v1.5m.9-4.1v1.5m1.3 37.3v1.5m-.8-7.9v1.5m1.7-22.7v1.5m.8 21.8v1.5m0 .8v1.5m.9-2.3v1.5m0 5.1v1.5m1.2-28.1v1.5m.5 17.6v1.5m1.2-1.8v1.5m1.4-.9v1.5m-.7 2.7v1.5m1.6-2.6v1.5m.4-3.1v1.5m.7-2.6v1.5m.9 1.3v1.5m.6-2.8v1.5m.2-20.8v1.5m1.4 18.2v1.5m-.4-22.1v1.5m1.3-4.6v1.5m0 .8v1.5m.4 20.2v1.5m.5-27.3v1.5m.5 29.4v1.5m1.7-33.2v1.5m-.1 2.8v1.5m.6-2.1v1.5m.4 17.6v1.5m.6-28.1v1.5m.3 2.6v1.5m.6-.6v1.5m.4-1.3v1.5m.6 21.7v1.5m.4 1.5v1.5m.5-4.6v1.5m.4-23.6v1.5m1-2.5v1.5m.6 20.3v1.5m1.1-26v1.5m1.2 21.7v1.5m-.3-1.2v1.5m1.1-.9v1.5m.9-19.3v1.5m1.5 20.6v1.5m.5-2v1.5m0-23v1.5m1.4 23.4v1.5m0-31.2v1.5m1.3 2.2v1.5m-.4-3.3v1.5m1.4-.4v1.5m-.2-2v1.5m.4 20.2v1.5m.6-26.5v1.5m.4-1.7v1.5m1.6 .9v1.5m.6-.4v1.5m.1-5.5v1.5m1.5 24.8v1.5m-.1 0v1.5m.8-2v1.5m1.1 4.7v1.5m.1-27.1v1.5m.8 .1v1.5m1-2.9v1.5m.8 25.7v1.5m1.1-1.7v1.5m.3-24.6v1.5m.5 20.2v1.5m.3 .5v1.5m1.2-3.8v1.5m1-24.3v1.5m.9 21.5v1.5m-.2-22.9v1.5m1.2-4.4v1.5m.8 21.4v1.5m1-21.3v1.5m.6 22.1v1.5m.5 .1v1.5m.8-4.3v1.5m1.2-24.2v1.5m.7-5.9v1.5m.1-6.5v1.5m1.2 2.7v1.5m-.4 22.4v1.5m1.2-5.5v1.5m-.1-21.7v1.5m1 18.9v1.5m1.2-27v1.5m.3-1.2v1.5m.4-1.3v1.5m1.6-4.9v1.5m.5 18.7v1.5m.9-21.1v1.5m1.2-3.7v1.5m-.1-5.4v1.5m1.5 22.3v1.5m1.1-22.7v1.5m.4 19.3v1.5m1.1-2.9v1.5m0-22.4v1.5m1.5-5.3v1.5m-.4 26.6v1.5m.6-5.3v1.5m.5-3.3v1.5m-.1 24v1.5m1.2-50.6v1.5m.1 21.1v1.5m1-3.9v1.5m.8-27.5v1.5m-.5 2.6v1.5m1.6-2.9v1.5m.9-3.4v1.5m.9 17.8v1.5m1-21.6v1.5m1.2-3.1v1.5m-.3-.6v1.5m1.2 21.1v1.5m-.4-1v1.5m1.3-6.8v1.5m1.2-.7v1.5m-.3-23.6v1.5m1.4-5.9v1.5m-.5 21.9v1.5m1.4-25.4v1.5m-.4-1.4v1.5m.9 .4v1.5m.1-2v1.5m.9 23v1.5m.5-33v1.5m.6 23.7v1.5m.1 1.5v1.5m.8-4.7v1.5m.3 2.5v1.5m1.4-2.2v1.5m-.1-30.8v1.5m.4 30.1v1.5m.1-8.6v1.5m.8-22.9v1.5m.2-5v1.5m1.5 1v1.5m-.6 23.8v1.5m1.5 .1v1.5m0-7.5v1.5m1 3.3v1.5m-.2-2.2v1.5m1.1-16.7v1.5m-.1 24.6v1.5m.9-.2v1.5m.3-25.9v1.5m1.1 17.6v1.5m0-22.6v1.5m1.1 15.8v1.5m-.3-2v1.5m1-6.2v1.5m.6-7.6v1.5m1.5-4.7v1.5m.7-29.3v1.5m.9 24.8v1.5m1.5-4.7v1.5m0 2v1.5m.9-29.2v1.5m.1 24.2v1.5m1-3.8v1.5m-.2-23.6v1.5m1.2-4.3v1.5m-.6-2.7v1.5m1.6-.4v1.5m-.5-.7v1.5m1.4-6.1v1.5m-.4-2.7v1.5m1.5 27.9v1.5m-.4-26.6v1.5m.1 47.4v1.5m1.1-27.9v1.5m-.1-1.4v1.5m1.1-.6v1.5m-.4-24.3v1.5m.9-4.4v1.5m1.6 2v1.5m.6 19.7v1.5m1.1 .2v1.5m1.5 .9v1.5m-.4-49.8v1.5m.6 39.5v1.5m1.2-32.1v1.5m.5 2.8v1.5m.9-4.4v1.5m.9-5.5v1.5m-.2-.2v1.5m1.4-5.8v1.5m0 20.8v1.5m.9-26.3v1.5m.5-9.4v1.5m.4 2.2v1.5m.8 23.2v1.5m-.2-5v1.5m1.4-30.4v1.5m1.1 32.4v1.5m.5-35.1v1.5m.4-2.1v1.5m1.2-6.2v1.5m-.1 26.8v1.5m1.1-4.3v1.5m-.4-25.7v1.5m1.1-4.7v1.5m.1-1.4v1.5m-.1 39.3v1.5m1.1-17.8v1.5m.1-28v1.5m.9-12v1.5m.9 23.5v1.5m-.2-35.9v1.5m1.2-7.1v1.5m0 60.4v1.5m.8-66.8v1.5m.4-.7v1.5m1.1 28.9v1.5m-.5-34.2v1.5m1.1 0v1.5m1.3 25.4v1.5m1.1-1.6v1.5m-.4-32.3v1.5m1-7.2v1.5m-.1 .1v1.5m.8 28.7v1.5m.2-35v1.5m1.6 27.8v1.5m-.2 3.9v1.5m1-37.6v1.5m.9 32.7v1.5m-.2-.2v1.5m.7-39.4v1.5m.4 38.7v1.5m1.3-9.3v1.5m-.5 3.4v1.5m.8-35.4v1.5m.6-4.4v1.5m.7-2.3v1.5m.2 .1v1.5m.7 34.7v1.5m.8-35.6v1.5m.4-2.5v1.5m1.2 34.5v1.5m.8-41.8v1.5m.9 34.8v1.5m-.1-32v1.5m1.1 32v1.5m-.1-36.5v1.5m1.2 31v1.5m.1-31.6v1.5m.9 35.6v1.5m-.1-4.1v1.5m1.2 8.4v1.5m-.4-3.1v1.5m1.7-21.3v1.5m-.4 32.9v1.5m1.2-24.7v1.5m-.4 28.9v1.5m1.3-26.8v1.5m1.2 2.2v1.5m-.1-2.6v1.5m.8 29.2v1.5m-.1-1v1.5m1.3-.7v1.5m-.5-25.8v1.5m1.6 27.1v1.5m-.6-29.5v1.5m1.5-1.5v1.5m0 24v1.5m.9 2.8v1.5m.7-32.9v1.5m.9 23v1.5m1.4-22.7v1.5m-.3-6.9v1.5m1.2 25.6v1.5m0 20.8v1.5m.6-21.3v1.5m1.6-26.3v1.5m-.6-2.6v1.5m1.7 22.6v1.5m-.1 4.1v1.5m.7-7.9v1.5m0-2v1.5m1-3v1.5m1.2-2.3v1.5m.7-24.6v1.5m.5-4v1.5m.5 25.2v1.5m1.3-1v1.5m1-23v1.5m-.1 70.5v1.5m1.3-78.9v1.5m-.5 25.9v1.5m.9 0v1.5m1.6-26.2v1.5m.8-.8v1.5m.3 19.3v1.5m.6-28.9v1.5m.9-.9v1.5m.4 3v1.5m.5-4.4v1.5m1.3 2.4v1.5m-.2-4.3v1.5m1.5 23.3v1.5m0-.3v1.5m.4-20v1.5m-.1 3.1v1.5m1.4 41.5v1.5m.7-19.8v1.5m0 25.6v1.5m.9-35.3v1.5m1.3-4.9v1.5m1.2 15.7v1.5m.5-28v1.5m.6-5.4v1.5m.3 2.6v1.5m1.7 22v1.5m.9-.8v1.5m1.2 2.1v1.5m-.4-1.6v1.5m.8-28.4v1.5m.1 .9v1.5m1.1-3.9v1.5m1.2 2v1.5m1.1 24.7v1.5m-.7-23.8v1.5m1.5 21v1.5m-.1-2v1.5m.8-29.2v1.5m.2 .1v1.5m1.4 25.1v1.5m0-1.8v1.5m.9-2.1v1.5m-.4-26v1.5m.9-5v1.5m.6-1.2v1.5m.5 21.6v1.5m-.1-25.6v1.5m1.4 25.9v1.5m.5-3.1v1.5m1.4-34.9v1.5m-.4 32.6v1.5m1.5-31.1v1.5m.5 .1v1.5m0 25.9v1.5m1.4-33.4v1.5m-.1-1.3v1.5m.9 25.5v1.5m.3 3.7v1.5m1-3.3v1.5m1 .2v1.5m.7 0v1.5m-.1-4v1.5m1.4 .7v1.5m1.2-12.1v1.5m.9-7.1v1.5m-.5-1v1.5m1.4-8.1v1.5m-.5-19.9v1.5m1-4.4v1.5m1.2 20.3v1.5m.1-3.7v1.5m1-.8v1.5m1.3 0v1.5m.6-22.5v1.5m-.3 25.1v1.5m1.8-23.6v1.5m-.4 18.4v1.5m1.1-20.1v1.5m1.2-4.3v1.5m.7-4.1v1.5m0 22.3v1.5m1.3-4.3v1.5m-.7-.6v1.5m1.7-21.8v1.5m-.2 2.4v1.5m.6 27.9v1.5m.4-3.4v1.5m.8 5.7v1.5m0 .5v1.5m1-34.1v1.5m.2 41v1.5m.8-38.6v1.5m.3 0v1.5m.6-4.3v1.5m1.5 33.3v1.5m.7-1.3v1.5m1.3-34.8v1.5m.8 40.1v1.5m-.3-5v1.5m.9-40.1v1.5m.3 33.5v1.5m1.2-34.9v1.5m.7 34.6v1.5m.2-4.7v1.5m1.3 .5v1.5m-.7-38.3v1.5m1.3-1.7v1.5m0 30.9v1.5m1.4 5.2v1.5m1-49.4v1.5m-.6 2.3v1.5m1.1 .8v1.5m.2 33.9v1.5m1 4.2v1.5m.1-43.8v1.5m1.1-1.7v1.5m-.3 1.4v1.5m1.2-6.1v1.5m-.6 41.8v1.5m1.7-6v1.5m.4-35.9v1.5m1.4 46.1v1.5m1.1-9.4v1.5m-.4-7.1v1.5m1-31.5v1.5m1.5-6.6v1.5m0 48.8v1.5m.4-3.4v1.5m.5-51v1.5m.5 6.2v1.5m0 41.1v1.5m1.4-50.2v1.5m.2 1.9v1.5m1 41.6v1.5m-.2-39.1v1.5m1-11.2v1.5m.7 1.2v1.5m-.1-2.8v1.5m1.7 37v1.5m-.2-33.6v1.5m.7 33.8v1.5m1.1-42.6v1.5m.1 0v1.5m.9 32.5v1.5m-.4-.4v1.5m1.5-3.6v1.5m-.2-41.3v1.5m1.3 1.4v1.5m.7-4.6v1.5m.4 41.3v1.5m.6-46.1v1.5m-.1 39.4v1.5m1.2-38.2v1.5m-.1-4.5v1.5m1 6.3v1.5m-.3-7.7v1.5m1.6 37.9v1.5m.1-24.8v1.5m.7 7.8v1.5m-.3-3.3v1.5m1.2 18.7v1.5m0-19.1v1.5m.7 14.9v1.5m.6-.9v1.5m.5-2.3v1.5m.4-1.3v1.5m.7-16.8v1.5m.1-4.3v1.5m1.1 19.2v1.5m-.4-3.4v1.5m1.6-3.4v1.5m-.1-16.5v1.5m1-2.6v1.5m.3 0v1.5m.9 13.6v1.5m.7-1.7v1.5m1-18.3v1.5m.4-2.1v1.5m.8-.8v1.5m.8-1.5v1.5m-.1-.5v1.5m1.2 14.8v1.5m.6-17.2v1.5m1.1-4.2v1.5m.9 .9v1.5m.3-1.2v1.5m.7-1.9v1.5m1 15.2v1.5m.7-17.6v1.5m.3 2.8v1.5m.5 17.5v1.5m1 4.2v1.5m-.1 2v1.5m.6-19.5v1.5m0-1v1.5m1.6-1.1v1.5m-.5 24.5v1.5m.9-25.8v1.5m.4 20.2v1.5m.8-19.7v1.5m-.1-1.8v1.5m1.4-4v1.5m.9 21.3v1.5m.2-1.8v1.5m.8 .9v1.5m.1 .8v1.5m.6-28.9v1.5m1.2-.2v1.5m-.3 18.3v1.5m1.6 3.5v1.5m-.4-24.9v1.5m.8 20.9v1.5m.2-25.3v1.5m1.1-.1v1.5m.3 25v1.5m.9-21.9v1.5m-.6-3.3v1.5m1.1 7.3v1.5m-.1-2.8v1.5m1.7-1.5v1.5m.1 .8v1.5m.3-3.3v1.5m.2 32.1v1.5m1.2-8.3v1.5m1-27.2v1.5m1.1 27.1v1.5m-.3 2.5v1.5m.8-34.7v1.5m1.2-6.7v1.5m0 2v1.5m.8 32v1.5m0-37.4v1.5m.9 29.5v1.5m.4-29.1v1.5m1.3 22.4v1.5m.9-.8v1.5m-.3-30.3v1.5m.9 31.7v1.5m-.2-33.7v1.5m1.7 33.9v1.5m-.1-7.1v1.5m1.1 1.8v1.5m-.1-35v1.5m1.1 27.7v1.5m-.6-31.3v1.5m1 29.5v1.5m.3-2.7v1.5m.9-34.9v1.5m1.5 4.8v1.5m-.7 24.9v1.5m1.5-26.6v1.5m.7 28.7v1.5m-.3-6.6v1.5m1.2-28.1v1.5m-.1 32.1v1.5m1.4-8.7v1.5m-.4-27.4v1.5m1.3 28.4v1.5m.7-4.4v1.5m1.5 4.8v1.5m-.4-1v1.5m1.1 8.5v1.5m.1-30.5v1.5m.6 1.6v1.5m.8-4.8v1.5m.5 8.9v1.5m.3-8.5v1.5m.8 30.9v1.5m1.4 .3v1.5m.6-35.9v1.5m1.3-.9v1.5m.9 3.5v1.5m-.5 29.6v1.5m1.2-3.2v1.5m.9 2v1.5m.6-34.3v1.5m.9-3.3v1.5m-.3 28.2v1.5m1.2-31.5v1.5m1 31.7v1.5m0-31.7v1.5m1-5.9v1.5m-.4-1.1v1.5m.9-1.7v1.5m.7 29.9v1.5m.3-28.5v1.5m1.3-7.6v1.5m0-2.8v1.5m.8 10.7v1.5m.1 28.4v1.5m.8-25v1.5m.4-6.6v1.5m.9 43.4v1.5m1.2-28.4v1.5m-.2 31.5v1.5m1.1-36.5v1.5m0-5.9v1.5m1.1 40.6v1.5m-.1-42.6v1.5m.5 41.4v1.5m.2-38.6v1.5m1.2 36.5v1.5m-.4-48.6v1.5m1.4 44.9v1.5m1-8.9v1.5m1.2-1.6v1.5m-.2 4.6v1.5m1.2-39.3v1.5m.8 34.4v1.5m1.3-6v1.5m-.4-41.8v1.5m1 45.3v1.5m0-38.6v1.5m.7 34.2v1.5m1.2-3.2v1.5m.4 .5v1.5m.4-34.7v1.5m1.7 33.8v1.5m.6-37.9v1.5m.5 29.1v1.5m1 9.5v1.5m.5-45.6v1.5m-.1-3.3v1.5m.9-.3v1.5m.5-8.2v1.5m1.2 42.7v1.5m.3-7.2v1.5m.6-34.7v1.5m.3 32v1.5m1.7-1v1.5m-.5 2.2v1.5m1-8.1v1.5m1.6-.9v1.5m-.3 2.4v1.5m.8-42.1v1.5m1.3-7.3v1.5m-.6 42.7v1.5m1.5-8v1.5m.8-42.2v1.5m1.3 .5v1.5m.7-1.9v1.5m.5-7v1.5m.9 5.2v1.5m.4 30v1.5m.2-40.3v1.5m1.2 42.9v1.5m.6-.6v1.5m.4-40.4v1.5m1.3 29.5v1.5m-.6-1v1.5m1.1 3.2v1.5m1.4-4.6v1.5m-.3 37.8v1.5m.6-80.4v1.5m.4 1.6v1.5m.8-4.3v1.5m.1 38.4v1.5m1.2-6.7v1.5m.1 .5v1.5m.5-36.3v1.5m1.1-5.6v1.5m1.3-4.3v1.5m.6 16.2v1.5m.1-18.8v1.5m1-4.6v1.5m1.5 18.8v1.5m-.5-1.7v1.5m1.5-2.6v1.5m.5-2.2v1.5m1-16.8v1.5m1.3 16.1v1.5m.6-2.7v1.5m.4-3.3v1.5m.8-1.5v1.5m.3-18.1v1.5m.7 0v1.5m1.3-1.5v1.5m1.1 13.6v1.5m.4-10.2v1.5m1.5 11.2v1.5m-.5 19v1.5m1.3 14.1v1.5m1.2-2v1.5m.5-.9v1.5m1.2-24.5v1.5m.4 23.7v1.5m.7-28.9v1.5m-.4 25.8v1.5m1.4-4.9v1.5m1.1-1v1.5m-.3-30.4v1.5m1.6 .8v1.5m-.5 24.1v1.5m.7-22.6v1.5m1.3-.5v1.5m.9 19.4v1.5m-.1 2.9v1.5m1.2-27.2v1.5m1.1-1.9v1.5m.2-4v1.5m1 2.3v1.5m-.1-4.9v1.5m.7 25v1.5m.1-24.8v1.5m1 22.6v1.5m.1-2.2v1.5m.9-25.9v1.5m.1 23.7v1.5m1-4.7v1.5m-.1-1.8v1.5m1.5-25.8v1.5m-.6 .9v1.5m1.5 27.5v1.5m.9-30.3v1.5m1.1-1.4v1.5m.8 23.2v1.5m.5-23.4v1.5m.1-3v1.5m1.4-.9v1.5m.5 27.2v1.5m1.5 .1v1.5m.6-6.7v1.5m.3-27.3v1.5m1.4 29v1.5m-.1-3.3v1.5m.5-27.1v1.5m-.1-.2v1.5m1.6 1.6v1.5m.7-2v1.5m0-45.7v1.5m.6 40.2v1.5m.1 24.6v1.5m1.2-27.6v1.5m.2 23v1.5m1-26.3v1.5m-.1-1.5v1.5m.6-3.1v1.5m.5 1.6v1.5m.6 25.2v1.5m.6-4.7v1.5m1.1-.4v1.5m-.1-25.7v1.5m.9 22.2v1.5m.6-.1v1.5m-.1-.3v1.5m1.5-2.5v1.5m1.1-25.6v1.5m-.4 22.5v1.5m.8-24.7v1.5m.4-1.2v1.5m1.1-3.7v1.5m0 1.3v1.5m.7 21.4v1.5m.5-30v1.5m.2 27.2v1.5m.7-2.3v1.5m1-27.9v1.5m-.5 24.1v1.5m.9-2.9v1.5m1.4-.9v1.5m0-.4v1.5m.9-25.2v1.5m-.2 21.6v1.5m1.2-1.6v1.5m0-.2v1.5m.8 8.5v1.5m.3-3.7v1.5m1 .7v1.5m-.1-3.5v1.5m.8-15.6v1.5m-.1 18v1.5m1.5-22.4v1.5m1 22.9v1.5m.5 5.4v1.5m0-35.4v1.5m1.1 22.5v1.5m.5-20.7v1.5m.8-3.5v1.5m-.2-.4v1.5m1.4 25.6v1.5m.4-7.6v1.5m-.1 .1v1.5m1.3-23.4v1.5m1-3.5v1.5m.3-4.1v1.5m.6 21.6v1.5m.4 3.9v1.5m.9-26.8v1.5m0 21.1v1.5m.9-5.4v1.5m.3 3.1v1.5m.4 .2v1.5m1.5-29.1v1.5m.5 19.8v1.5m.2-1v1.5m1.5-20.6v1.5m-.5-2v1.5m.9 18.2v1.5m-.1-21.9v1.5m1.1-.2v1.5m-.1 17.5v1.5m1.4-21.8v1.5m.5-4.2v1.5m.3 20.1v1.5m1.4-21.5v1.5m.1 20.2v1.5m.7-25v1.5m.3 25.7v1.5m.8-9v1.5m.1-24.8v1.5m1-.5v1.5m-.3 21.2v1.5m1.1 2.8v1.5m0-2.4v1.5m.7-25.1v1.5m1.2 23.6v1.5m1.3-26.7v1.5m-.2 .9v1.5m.9 24.2v1.5m-.1-3.7v1.5m1.3 .1v1.5m0-27.1v1.5m1-.9v1.5m0-4.9v1.5m1.1 24.6v1.5m-.6 5.7v1.5m1-28.8v1.5m0 19.4v1.5m1.2 2.4v1.5m1.1-25.4v1.5m-.3 24.1v1.5m1.3-32v1.5m.4 3.3v1.5m.2-3.1v1.5m1.4-2.8v1.5m.9 .7v1.5m.2-4.5v1.5m1.3 .9v1.5m-.7-7.2v1.5m1 2.7v1.5m.3 26.6v1.5m1.2-2v1.5m-.3-28v1.5m.8 27.4v1.5m1.3-3.6v1.5m0-5v1.5m1.2-2.7v1.5m-.2 5.6v1.5m.9-36.2v1.5m.5 30.5v1.5m.6-31.8v1.5m.9-.8v1.5m.1-.7v1.5m1.4 1v1.5m.8 24.6v1.5m-.4-2.8v1.5m1.1 .4v1.5m1.2-31.5v1.5m1.2 1.2v1.5m1-.9v1.5m.7 26.3v1.5m-.1-31.6v1.5m1.4 24.4v1.5m0-1.7v1.5m.9-38.3v1.5m-.1 31.6v1.5m1.3-41.2v1.5m-.5 3.6v1.5m.8 27v1.5m.5 2.8v1.5m.9-33.1v1.5m.6 34.6v1.5m1.1-30.9v1.5m0 .9v1.5m1.4-.8v1.5m-.2 32.3v1.5m.9-2.7v1.5m0-34.4v1.5m.8 1.9v1.5m.7-5.9v1.5m.3 28.9v1.5m.1-32.3v1.5m.9-5.2v1.5m.4 4v1.5m1 26.5v1.5m-.1 .5v1.5m1.1-6.3v1.5m-.4-33.3v1.5m1.2 28.7v1.5m1.3-4.7v1.5m.7-3.3v1.5m0-34.7v1.5m1.5 22.8v1.5m.7-30.2v1.5m1.3 22.6v1.5m1-29.6v1.5m.5-3.8v1.5m.4-4.4v1.5m.9-.9v1.5m-.5 19.4v1.5m1.2-5.2v1.5m-.1-3v1.5m1-24.4v1.5m1 20.2v1.5m-.1 .6v1.5m1.5-24.6v1.5m0-1.7v1.5m1 20.9v1.5m.5-2.8v1.5m1-27.1v1.5m1.7 2.9v1.5m-.1-3.4v1.5m.9-.2v1.5m.9-2.9v1.5m0-1.3v1.5m.9 18.9v1.5m-.1-24.8v1.5m.9 23.7v1.5m.9 .6v1.5m.7-3.6v1.5m.5-4.3v1.5m.4 1.4v1.5m.8-2.7v1.5m.6-22.2v1.5m.1-7.2v1.5m1.4 26v1.5m.6-21.6v1.5m-.1 19v1.5m1.6-3.1v1.5m0-22.1v1.5m1.1 15v1.5m-.5-25.5v1.5m1.3 18.1v1.5m-.1-1.1v1.5m1-8.4v1.5m.3-1.9v1.5m.9-3.8v1.5m1-3.8v1.5m-.6-3.4v1.5m1.1-27.9v1.5m1.2-4.1v1.5m0 52.1v1.5m.7-48.5v1.5m.1-7.1v1.5m1.3 33.1v1.5m.1-23.5v1.5m1.1 7.3v1.5m0-.5v1.5m.8 7.6v1.5m.9 26.9v1.5m-.3 2.9v1.5m1.3-19.9v1.5m-.3 19.3v1.5m1.4 .4v1.5m-.2-1.8v1.5m.9-.3v1.5m1.3-23v1.5m.1 25.3v1.5m.8-9v1.5m-.3 .9v1.5m1-28.2v1.5m1.4 20.8v1.5m0-25v1.5m.9 16v1.5m-.3-3.6v1.5m1.6-35.8v1.5m-.3 .6v1.5m.9 16v1.5m.1-.2v1.5m1-35.5v1.5m0-2.6v1.5m1.1 32.1v1.5m.7-47.4v1.5m-.1 5.9v1.5m1.3 23.1v1.5m.1 1v1.5m1.2-25.4v1.5m-.4-4.6v1.5m.9 1.4v1.5m0 33v1.5m1.3-21.2v1.5m1 46.1v1.5m0-14.2v1.5m.6 6.1v1.5m.5-1.2v1.5m.6-1.7v1.5m1.1 5.7v1.5m.2-36.7v1.5m.7-3.9v1.5m.6-.1v1.5m.9 .4v1.5m-.4-3.8v1.5m1.2 7.2v1.5m-.4-.4v1.5m1.3 40.2v1.5m1.3-1.4v1.5m-.5 3.6v1.5m1.2-2.3v1.5m-.3-45.9v1.5m1.3 43v1.5m1 .1v1.5m.9-39.2v1.5m.5-1.5v1.5m.9-2.8v1.5m-.1 42.3v1.5m.7-7.1v1.5m.1-38.1v1.5m1 34.8v1.5m1.2-38.5v1.5m1-7v1.5m.7 52.2v1.5m.2-49v1.5m.9 46.2v1.5m.3-45.3v1.5m.7 .1v1.5m1 40.3v1.5m.3-48.1v1.5m.9-3.1v1.5m-.6 44.5v1.5m1.1-4.1v1.5m.9-3.2v1.5m1.1-1.5v1.5m.5 1.7v1.5m.5-35.8v1.5m.7 32.8v1.5m.9-35.4v1.5m-.4 36.9v1.5m.8 8.1v1.5m.3-6.9v1.5m1.2 9.2v1.5m.2-9.4v1.5m.4 7v1.5m0-46.8v1.5m1.3 45.2v1.5m.9-2.6v1.5m.1-45v1.5m.7-2.7v1.5m.1 46.4v1.5m1.4-47.8v1.5m-.7 46.3v1.5m1.8-53.5v1.5m-.7-4.1v1.5m1.5 46.3v1.5m1.1-56.9v1.5m-.7 4.2v1.5m1.8-1v1.5m-.6 51.4v1.5m1.5 3v1.5m.4-8.9v1.5m.9-41v1.5m0-18.6v1.5m1.3 53.6v1.5m.9-50.5v1.5m.2 7.7v1.5m1 44.7v1.5m0 3.3v1.5m1.4-11.1v1.5m-.5 1.4v1.5m1.3-6.9v1.5m.2 3.2v1.5m.2-60.6v1.5m.2 47.8v1.5m1.5-3.5v1.5m-.5-45.7v1.5m1.1 35.1v1.5m.4-35.8v1.5m.8-6.7v1.5m-.2-2.6v1.5m.8 32.6v1.5m1.4-40.7v1.5m.8-1.2v1.5m1.1 23.9v1.5m.6-3v1.5m.2-.9v1.5m1.4-2.9v1.5m.4-7.2v1.5m.6-33.5v1.5m1.1-7.4v1.5m-.4 31.3v1.5m1.2-6v1.5m1.3-29.7v1.5m-.1-4.1v1.5m.9 27.5v1.5m-.2-1.9v1.5m1.2-6.2v1.5m.6-2.9v1.5m0-.1v1.5m1.3-33.1v1.5m-.3-3.9v1.5m1.4 1.2v1.5m.6-2.7v1.5m.6-.5v1.5m.3 19.4v1.5m1.7-2v1.5m.7 1.5v1.5m1.3-1.3v1.5m-.2-3.8v1.5m1.2-23.1v1.5m-.7 25.6v1.5m1.6-6.3v1.5m1-28.5v1.5m-.3 28.5v1.5m.8-5.9v1.5m.3-.6v1.5m.9-23.2v1.5m-.3-2v1.5m.9 21.1v1.5m1.1-22.7v1.5m.1-.6v1.5m.9-.5v1.5m.2-2.3v1.5m.8-3v1.5m1.3-3.1v1.5m.8 21.6v1.5m1.4-25.8v1.5m-.5 22.3v1.5m1.3-23.2v1.5m1.1 17.1v1.5m1.3-25.6v1.5m.4-3.8v1.5m-.2 25.3v1.5m1.4-30.7v1.5m-.3 3.1v1.5m1.6 .4v1.5m-.6 21.1v1.5m1.4-23.7v1.5m-.4 24.2v1.5m1.5 0v1.5m.8-5.3v1.5m.7-24.6v1.5m1.4-4.2v1.5m.2 23v1.5m.8-27.5v1.5m0 .9v1.5m.9 24.8v1.5m.8-3.6v1.5m1-28.1v1.5m.9 27.4v1.5m1.2-25.7v1.5m.3 22.3v1.5m1.2-29v1.5m.3-.6v1.5m1.3 24.3v1.5m0-2.4v1.5m.6-27.3v1.5m.7 24.4v1.5m.6-24v1.5m1.4-3.9v1.5m1 22.4v1.5m0-27.9v1.5m.5 25.8v1.5m.8-25.3v1.5m.3-5.2v1.5m1.3 34.5v1.5m1.1-27.6v1.5m.6-3.9v1.5m.2-1.4v1.5m1.3-7.9v1.5m.9 29.3v1.5m1 7.1v1.5m-.6-32.8v1.5m1.4 24.3v1.5m.1-.7v1.5m.6-3.7v1.5m1.3-32.3v1.5m-.5 4.3v1.5m1.8-5.5v1.5m.4-1.2v1.5m.1 31v1.5m1.3-34.8v1.5m-.4 25.8v1.5m1.6-26.4v1.5m.6-5.5v1.5m-.3 31.3v1.5m1.3 0v1.5m.1-31.9v1.5m.8 .8v1.5m1.2 22.8v1.5m0-1.5v1.5m.7-3v1.5m.4 3.5v1.5m.9-5.2v1.5m.3-27.4v1.5m.7-.1v1.5m.2 27.9v1.5m.6-29.9v1.5m1.2 24.3v1.5m.2-.5v1.5m.7-26.4v1.5m.1 27.1v1.5m.8-2.5v1.5m.4-29.4v1.5m.7-2.6v1.5m-.1 26.3v1.5m1.2-32.4v1.5m1.1 .9v1.5m.1 25.5v1.5m.6 1.1v1.5m.1-7.4v1.5m1.2-3.1v1.5m-.1 .7v1.5m.6-2.2v1.5m.6 .3v1.5m.8-30.8v1.5m-.5 25.7v1.5m1.3-23.3v1.5m1.3 22.4v1.5m1.1 1.2v1.5m-.5-31.7v1.5m1.1 .9v1.5m.3 27.6v1.5m.8-8v1.5m-.1 4.2v1.5m1.2-6.2v1.5m-.1-27.7v1.5m1.2-5.2v1.5m-.2 1.4v1.5m1 24.8v1.5m.1-30v1.5m.9 3.9v1.5m1 24.1v1.5m.3-30.7v1.5m.7-.9v1.5m-.1 1.4v1.5m.8 26.9v1.5m.4-4.1v1.5m1.2-4v1.5m-.2 .8v1.5m.7-.8v1.5m.6-.7v1.5m.7-32v1.5m1.1 32.2v1.5m.7-34.1v1.5m.9 2.2v1.5m.3-.9v1.5m.6-2.4v1.5m.2-3.1v1.5m.9 25.5v1.5m.8-32.5v1.5m1.4 20.3v1.5m.1-25.3v1.5m.8 11.1v1.5m.1-25.4v1.5m.6 17.1v1.5m1.1-13.6v1.5m1.1-14.7v1.5m0-2.8v1.5m1.2-3.6v1.5m-.3-29.2v1.5m1.4 28.2v1.5m0-4.3v1.5m.9 .3v1.5m.2-28.7v1.5m.7 24.8v1.5m0-1.3v1.5m1.5 4v1.5m.9-33.3v1.5m1-8.4v1.5m-.1 30.7v1.5m1.1-28.6v1.5m-.4 .8v1.5m1.2 .2v1.5m-.1 24.3v1.5m.8-26v1.5m.6-1.5v1.5m.3-4.3v1.5m1.2 25.5v1.5m.4-3v1.5m1.1-2.4v1.5m.8-26.9v1.5m.6 23.8v1.5m.4-1.5v1.5m1-2.9v1.5m-.3-26.9v1.5m1.4-1.8v1.5m-.5 23.8v1.5m1.5-2.6v1.5m1 3v1.5m.7 4.3v1.5m.6 5.2v1.5m.2-.7v1.5m1.6-36.8v1.5m-.1-9.7v1.5m.3 47.7v1.5m.8-3.4v1.5m.9-3.6v1.5m.5-39.2v1.5m.4 34.3v1.5m.9-39.4v1.5m.7-8.4v1.5m.5 12.3v1.5m.4 33.8v1.5m.6-39.7v1.5m.4 2.1v1.5m.5-3.4v1.5m.7 1.1v1.5m0 39.6v1.5m1.2-42.3v1.5m.1-7.9v1.5m1 3.5v1.5m.5-3.6v1.5m.6 39.1v1.5m.8-42v1.5m.7-1.3v1.5m-.1-.6v1.5m1 43.5v1.5m.1-10v1.5m1.3-41v1.5m-.2-3.2v1.5m.9 37.8v1.5m1.3-35.6v1.5m.1 44.4v1.5m1.1-13.5v1.5m.5-42.9v1.5m.1 2.8v1.5m1.2 35.3v1.5m-.3 1.5v1.5m1.1-41.2v1.5m1.1 36.6v1.5m.7-5.6v1.5m1.6 1.7v1.5m.9-2.4v1.5m-.3 .2v1.5m1.2-2.1v1.5m1.1-4.1v1.5m.1 .5v1.5m.4-1.7v1.5m.4-2.4v1.5m1-36v1.5m1.1 30.9v1.5m1.2-35.9v1.5m-.8 34.3v1.5m1.5-41.3v1.5m0-8.5v1.5m.7 43.5v1.5m.6-42.1v1.5m.8 41.1v1.5m.7-42.1v1.5m1.5 43.2v1.5m.8-10.9v1.5m-.2 33.4v1.5m.8-79.4v1.5m.3-7.4v1.5m.8-5.3v1.5m1.5-3.7v1.5m.5 21.2v1.5m1.4-29.5v1.5m.9 25.5v1.5m-.2-22.4v1.5m1.1-5.9v1.5m.8 20.7v1.5m.1-1.2v1.5m1.3-22.7v1.5m.4 19v1.5m1 5.7v1.5m.1-29.4v1.5m1.5 19.4v1.5m.7-2.8v1.5m1.2-28.9v1.5m.9 2.7v1.5m-.1 22v1.5m1.4-22.4v1.5m.9 22.5v1.5m-.1-6v1.5m1.2-22.2v1.5m-.5 22.5v1.5m1.4-5v1.5m-.1-1.1v1.5m.4-23.7v1.5m.1-1.7v1.5m1.5 17.2v1.5m0-22.9v1.5m-.2 36.9v1.5m.7-20v1.5m1.5-1.6v1.5m-.2-21.6v1.5m1.3 19.6v1.5m.7-25.1v1.5m1.1 13.8v1.5m1-32.1v1.5m.2 21.7v1.5m1-30.5v1.5m0 21.8v1.5m.9-24.3v1.5m-.1 19.5v1.5m1.2-23v1.5m.6 20v1.5m1.4-4.4v1.5m.9-23.1v1.5m.4 .4v1.5m1.6-1.6v1.5m-.5-4.2v1.5m1 22.1v1.5m1.2-24.3v1.5m-.1 0v1.5m1.5-1.6v1.5m0 23.1v1.5m.3-5.2v1.5m.5-.4v1.5m1.3-24.8v1.5m.9 26.6v1.5m.6-6.6v1.5m.7-1.9v1.5m1.7-2.2v1.5m-.3 19.5v1.5m1-21.9v1.5m.3-2.1v1.5m.8-.1v1.5m-.1 37.7v1.5m1.1-40.6v1.5m.7-2.5v1.5m.1-26.1v1.5m1.1-.4v1.5m-.3 25.8v1.5m1-4.9v1.5m.1-23.1v1.5m1.2-7.3v1.5m.4 1v1.5m.9 .5v1.5m-.4 19.4v1.5m1.2-22.4v1.5m-.5-6.1v1.5m1.7 3v1.5m.7 17.7v1.5m1.1-40.6v1.5m1.2 19.2v1.5m.5-20.2v1.5m1.2-13.2v1.5m0-.8v1.5m.7-7.5v1.5m1.3-2.5v1.5m.8 4.7v1.5m.1-5.5v1.5m2.2-4.8v1.5m1.2-.1v1.5m3-1.9v1.5m1.1-2v1.5m.6 0v1.5m1.9 .7v1.5m4-.2v1.5m-.1-4.4v1.5m1.4 .4v1.5m2.1-5.4v1.5m.5-3.4v1.5m0-1.2v1.5m1 1.7v1.5m1.1-5.6v1.5m2.2 1.4v1.5m1-4.4v1.5m.2 1.9v1.5m3.7-1.3v1.5m.9-22.2v1.5m1 24v1.5m.7-.8v1.5m1.6-26.4v1.5m-.5 23.2v1.5m1.5-23v1.5m-.5 19.1v1.5m1.2-22.3v1.5m1 12.4v1.5m.9-3.1v1.5m0-1.2v1.5m1.4-6.3v1.5m.7-4v1.5m4.1-2.1v1.5m2.7-5v1.5m1-1.4v1.5m.7-.6v1.5m.9-1.7v1.5m.5-2.3v1.5m.4-1.3v1.5m1.2 .8v1.5m.7-3.6v1.5m.9-1.4v1.5" stroke="#41BDEC" stroke-width="1.6" fill="none"/>
<path d="M108.8 585.8v22.6m1-16v16.7m1-15v15.2m1-17.1v17m1-17.9v19.5m1-18.6v17.9m1-19.4v16.6m1-14.9v18m1-29.7v27.6m1-15.4v16.4m1-17.7v17.1m1-17.7v15.7m1-13.1v16.3m1-18.6v17.4m1-22.2v23.2m1-16.8v17.1m1-17.5v14.6m1-16.8v17.1m1-16.8v16.4m1-15.6v17m1-16.7v17.9m1-16.9v16.6m1-16.9v17.7m1-23.8v16.3m1-25.7v18.3m1-21.5v20.9m1-18.4v18.5m1-20.7v23.1m1-21.8v21.5m1-21.2v19.3m1-16.8v19.6m1-22.3v23.6m1-23v21.4m1-18.4v19.8m1-22.8v22.1m1-20.5v21.8m1-21.9v18.2m1-19.7v21.8m1-20v21.9m1-19.6v18.6m1-18.7v17.9m1-17v18.2m1-19.5v30.9m1-27.6v21.2m1-17.6v27.1m1-21.2v17.2m1-13.2v15m1-13.4v15.2m1-14.7v15.9m1-15.8v16.9m1-14.5v12.3m1-15v16.1m1-15.3v16.3m1-15v13.6m1-12.6v12m1-14.5v16.5m1-14.1v12m1-14.8v16.2m1-15.9v15m1-13.2v14.7m1-15.2v14.5m1-16v16.3m1-16v16.5m1-14.7v11.9m1-14.9v17m1-15.6v14.1m1-14.6v13.9m1-13.9v15.7m1-19.4v14.5m1-19.8v14.2m1-13.7v13.9m1-13.9v13m1-16.1v16.9m1-16v15.9m1-14.2v13.3m1-21.7v24.1m1-16v13.5m1-14.5v16.1m1-14.1v13.9m1-14.4v15.5m1-16.5v14.6m1-15.9v15.7m1-14.5v13.8m1-15.2v15.3m1-15.4v15.2m1-13.1v15.3m1-15.7v16.9m1-17.1v15.9m1-16.5v17m1-19.8v18.9m1-20.4v13.7m1-19.9v15m1-13.2v12.7m1-11.7v14.5m1-11.3v11.6m1-9.7v11.9m1-12.8v12.5m1-11.8v11.3m1-11.1v11.1m1-12.8v13m1-13.1v14.8m1-14.2v12.8m1-12.4v12.7m1-17.9v16.3m1-12.4v13.1m1-11.8v11m1-12.5v12.7m1-11.9v12.8m1-13.8v13.3m1-12.4v12.9m1-12.7v11.8m1-11.5v13.4m1-13.7v11.7m1-9.7v15m1-12.1v15m1-10.5v14m1-14.9v13.8m1-13v12.7m1-12.8v13.9m1-13.8v15.4m1-14.9v14.1m1-13.1v10.9m1-11.1v13.4m1-15.5v13.6m1-13.5v13.4m1-11.6v12.3m1-12.1v13.4m1-14.2v13.9m1-14.4v12.3m1-11.8v14m1-13.2v10.8m1-11.1v12m1-13.5v14.1m1-11.9v12.6m1-12.8v13.3m1-13.8v12.7m1-12.4v13.1m1-13.6v13.5m1-13.2v11.2m1-10.6v12.8m1-13.7v11.7m1-12.2v12.9m1-12.4v12m1-13.1v14m1-12.5v13.9m1-16.1v13.8m1-12.2v17.1m1-16.1v12.8m1-14.7v14.1m1-14.4v14.5m1-13.4v14.2m1-12.2v12.7m1-14v14.6m1-12.9v12.3m1-13v14.2m1-14.5v15.9m1-14.5v13.7m1-14.2v13.9m1-13v11.7m1-12v13.4m1-13.2v12.5m1-10.8v12.3m1-15.2v13.5m1-11.4v11.9m1-14.4v15.7m1-15.4v15.1m1-12.9v13.2m1-14.2v12.8m1-16.1v17.5m1-13v11.5m1-11.5v11.1m1-11.7v11.9m1-13.4v14m1-13.5v13.2m1-14.2v14m1-14v15.4m1-14.4v12.7m1-12.8v15m1-14.4v12.9m1-12.4v18m1-16v20.3m1-16.6v20m1-18.7v23.8m1-22.2v28.3m1-22.7v24.3m1-23.1v23.9m1-22.4v24.9m1-25.3v30.9m1-25.5v23.5m1-22.7v29.5m1-38v36.7m1-32.6v36.7m1-34.3v29.7m1-26.9v27.9m1-33.5v29.3m1-27.9v29.8m1-34.1v35.7m1-41.9v29.7m1-36.6v30.3m1-37.1v24.9m1-29.5v20.7m1-25.3v19.5m1-18.5v21.5m1-25.8v17.3m1-15.1v13.3m1-15v15.8m1-15.6v15.2m1-15v15.2m1-14.1v13.8m1-16.2v17.6m1-18.1v15.7m1-15.9v17.8m1-15.9v13.6m1-13.6v15.2m1-15.8v14.8m1-14.2v14.6m1-16.1v16m1-15.5v16.6m1-14.5v14.4m1-15.8v14.5m1-13.4v13.8m1-14.8v16.8m1-18v15.2m1-13.8v13.5m1-14.5v16m1-14.1v13.4m1-15.2v16.3m1-14.8v14.2m1-15v15.9m1-16.6v15.7m1-16.2v14.6m1-15v17.6m1-18.1v17.4m1-16.2v14.5m1-15.7v16.3m1-14.7v16.2m1-17.5v16.5m1-16.2v15.4m1-13.7v13.5m1-15.3v15.6m1-15.9v16.7m1-15.3v14.1m1-15.4v14.4m1-14.6v14.8m1-16.8v14.3m1-15.9v23m1-23.1v15.8m1-17.1v17.9m1-14.7v16.1m1-18.4v17.7m1-17v16m1-16.3v17.9m1-15.6v16.3m1-17.7v15.5m1-15v17m1-17.3v17.2m1-18.6v16.6m1-14.9v15.2m1-14.3v14.9m1-14.8v16.6m1-15.5v14.9m1-16.1v17.4m1-18.2v17.5m1-14.7v14.6m1-15.3v14.4m1-15.1v16.5m1-16.9v17.1m1-17v18.7m1-18.3v15.7m1-13.7v16.4m1-16.6v16.7m1-15.6v15.7m1-17.1v14.4m1-13.3v13.6m1-14.7v14.7m1-15.3v17.6m1-17.3v17.1m1-17.1v16.4m1-14.6v15m1-14.9v14.3m1-15.7v15m1-14v19.5m1-11.6v15.7m1-13.9v17.8m1-15.3v21.1m1-21.8v19.1m1-17.7v19.3m1-22.7v20.4m1-22.1v23.3m1-23.7v21.8m1-23.9v20.8m1-20.7v18.9m1-21.9v24.4m1-24v21.9m1-20.8v18.2m1-20.9v22m1-20.9v21.5m1-24.9v22.7m1-22.9v21.6m1-23.3v23.8m1-22.9v23.1m1-22.7v22.6m1-22.4v22m1-23v20.5m1-20.3v21.6m1-23.9v22.7m1-22.3v21.2m1-22.6v19.2m1-19.8v21.7m1-25.6v25.7m1-26.4v22.1m1-21.7v22.5m1-21.7v23.7m1-23.5v23.1m1-30.8v30.8m1-25v21.2m1-19.3v23.2m1-26.3v25.6m1-23.3v19.9m1-19.9v23.3m1-22.7v20.5m1-21.5v21.1m1-20.1v22.8m1-23.1v22.1m1-20.9v22.4m1-24.1v21.5m1-19.9v21.8m1-20.8v23.2m1-18.3v21m1-18.7v16.9m1-13.6v16.4m1-17v20.3m1-18.7v19.1m1-18.3v15.6m1-15v15.7m1-16.4v22.6m1-23.7v19.7m1-18.5v26.1m1-26v16.7m1-15.5v16m1-14.4v17.4m1-18v15.9m1-15.8v17.5m1-16.1v16.7m1-17.6v17.8m1-15.7v16.5m1-16.1v18.1m1-17.1v15.3m1-16v19.3m1-18.3v19.8m1-18v16.7m1-17.1v17.5m1-16.8v18.8m1-17.3v19.3m1-18.1v16.1m1-17.5v17.8m1-17.7v18.9m1-18.9v18.2m1-16.8v16.8m1-17v17.7m1-19.6v18.1m1-18.1v18.1m1-16.3v17.9m1-18.5v18.5m1-17.6v23.8m1-25.1v18.9m1-16.9v16.8m1-15.5v17.2m1-20.8v20.6m1-20.2v17m1-14.4v28m1-26.9v18.1m1-18.4v18.3m1-14.4v18.9m1-16.6v15.8m1-14.2v17.5m1-18.8v22.7m1-22.7v21.9m1-18.4v27.8m1-30.1v20.7m1-21v22.4m1-23.6v22.2m1-21.3v21.8m1-20.6v22.3m1-20v16.6m1-18.1v21.1m1-19.1v16.3m1-21.4v22.9m1-20.7v16.7m1-23v25m1-21.4v17.7m1-20.4v20.3m1-22.4v19.5m1-21.2v17.3m1-17.1v14.5m1-13.3v12.3m1-13.1v13.8m1-12.4v11.2m1-11.6v12.9m1-12.3v13.1m1-13.7v14.1m1-15.9v15m1-14.1v12.5m1-11.5v12.9m1-14.5v14.1m1-13.7v13.4m1-13.3v13.9m1-13.8v13.3m1-12.7v11.8m1-13.3v14.5m1-14.1v13.3m1-13.3v14.1m1-13.6v13.8m1-13v12.8m1-14.2v15.6m1-14.3v12m1-13.5v13.7m1-13.5v13.1m1-11.4v10.9m1-12.2v12.1m1-12.9v14.8m1-13.9v13.1m1-12.4v12.2m1-11.6v12.5m1-14.8v15m1-13.2v12.3m1-13v17m1-17.5v22.4m1-21.9v23.9m1-27.3v21.5m1-26.8v18.4m1-25.8v17m1-19.8v13.2m1-16.4v14.7m1-14.7v13.5m1-12.6v12.7m1-15.3v14.8m1-14.4v13.6m1-19.2v21.2m1-14.9v14.3m1-16.4v13.9m1-14.5v16.3m1-14.7v12.3m1-13.2v13m1-13.2v15m1-15.4v14.6m1-13.8v13m1-13.5v12.4m1-14.1v14m1-14.7v15.1m1-14.3v15m1-17.7v19.1m1-17.5v16.3m1-14v11.9m1-13v14.1m1-16.1v17.3m1-16.6v16m1-16.9v15.4m1-15.4v22.2m1-20.9v13.3m1-13v15.1m1-15.2v13.8m1-14.4v15.1m1-15.6v12.6m1-13.3v15.7m1-15.4v12.5m1-14.3v16.3m1-16.5v13.2m1-12.8v14m1-14.6v15m1-15.7v13.4m1-14.8v15.3m1-15.8v17.7m1-16.4v13.5m1-13.8v14.1m1-14.9v15.2m1-14.8v14.9m1-16.9v16.7m1-15.8v15m1-14.9v15.8m1-18.2v16.6m1-14.7v15m1-16.4v13.9m1-14.5v14.6m1-13.6v14.9m1-16.5v16m1-15.3v14.6m1-16.1v13.7m1-15.6v18.1m1-14.2v13m1-11.3v13.6m1-12.1v16.5m1-13.7v13.6m1-10.7v11.6m1-9v11.5m1-10.1v12.5m1-11.4v13.2m1-9.1v11.2m1-8.7v12.1m1-9.5v11.1m1-10.4v13.2m1-8.1v11.9m1-11.3v14.6m1-10.7v13.7m1-12.6v11.6m1-12.5v13m1-13.6v14.6m1-13.7v13.6m1-13.4v14.3m1-13.6v14.3m1-13.8v12.2m1-12.8v13.3m1-14.6v13.2m1-13.3v12.8m1-11.5v12.8m1-12.7v12.8m1-13.8v14.7m1-14.9v13.9m1-13.2v13.1m1-12v10.9m1-10.8v12.8m1-13.6v14.2m1-16.8v18.9m1-14.7v17.4m1-14.3v20.5m1-18v16.8m1-22.7v26.2m1-20.1v22.6m1-23.9v21.6m1-20.9v24.3m1-24.4v25.2m1-23.5v21.6m1-21.1v20.9m1-17.9v17.6m1-17.7v17.7m1-17.4v19.5m1-20.8v22.9m1-22.4v23.2m1-19.2v19m1-21.2v21.5m1-20.8v22.6m1-19.9v16.3m1-16.2v16.5m1-18.2v21.5m1-20.5v20.8m1-17.8v15.7m1-17.6v17m1-17.1v19.9m1-17.2v16.8m1-19v18.7m1-16.6v14.9m1-13.7v15m1-15v14.2m1-15.9v16m1-16v15.4m1-13.6v14.2m1-15.3v14.6m1-14.2v14.8m1-13.9v14.9m1-15.3v13.9m1-16.3v17.1m1-15v13.7m1-15.5v17.7m1-17v15.6m1-16.1v15m1-14.6v17.8m1-17v14.3m1-14.7v14.7m1-12.8v14.3m1-16.3v13.9m1-14v16.3m1-16.1v16.8m1-16.8v15.9m1-14.2v13.3m1-16.3v16.6m1-16.2v16m1-15.6v16.6m1-17.7v15.5m1-12.5v17.8m1-20.1v15.8m1-13.2v13.5m1-14.3v13.3m1-13.7v15.8m1-17.1v16.1m1-14.6v14.1m1-13.3v12.4m1-13.7v15.1m1-15v13.7m1-12.8v15.2m1-22.1v21.6m1-15.6v15.3m1-16.4v13.9m1-16.1v19.2m1-19.7v17.6m1-18.4v20.6m1-20.5v16.9m1-18.8v19.6m1-31.2v32.3m1-23.8v23.6m1-26.1v23.3m1-21.7v23.9m1-28.6v27.6m1-24.9v22.9m1-21.9v26.4m1-30v28m1-28.8v30.4m1-25.9v21.6m1-22.5v22.3m1-25.5v30m1-26.7v26m1-26v24.6m1-26.1v28.5m1-26.2v25.6m1-26.1v27.3m1-25.7v23.3m1-25.2v23.4m1-22.7v23.2m1-27v28.7m1-27.3v27.6m1-23.6v21.3m1-23.8v26.1m1-25.1v23.7m1-25.6v26m1-27.7v25.4m1-24.3v25.5m1-22.2v25.4m1-25.3v21.9m1-24.5v24.2m1-21.7v22.3m1-21.6v21.3m1-23.9v26.9m1-24v20.2m1-16.9v19.1m1-14.6v14.8m1-12.2v13.2m1-13.5v12.9m1-12.4v12.8m1-15.3v14.7m1-14.8v15.1m1-14.3v12.1m1-10.7v10.9m1-12.3v13.8m1-15.2v14.9m1-13.7v13.1m1-14.2v13.9m1-12.6v13.3m1-14.6v15.7m1-15.1v13.5m1-11.8v13.5m1-13.5v13.6m1-14.2v19.5m1-18.4v12.6m1-16.7v15.6m1-16.7v16m1-19.7v20.2m1-22.8v23.4m1-22.6v19.7m1-20.3v23.6m1-19.6v18.9m1-19.7v20.5m1-20.6v27.8m1-29.8v19.1m1-18.5v22.1m1-22.8v19.5m1-20.7v20.3m1-19.6v21.8m1-18.1v17m1-17.1v19.9m1-23.2v23.1m1-22.1v19.5m1-19.1v22.8m1-20.4v19.2m1-22.5v33.4m1-30.1v20.6m1-20v16.6m1-17v16.3m1-17.8v19.8m1-20.9v22m1-21.6v20.2m1-18.9v19.9m1-21.5v21.7m1-19.7v18.9m1-18v19.3m1-21.5v18.4m1-16.9v16.9m1-16.8v16.2m1-16.8v20.8m1-20.3v17m1-20.1v21.8m1-22.5v20.8m1-20.9v22.1m1-22.5v21.7m1-20.3v19.6m1-20v22m1-22.6v22.3m1-24.9v28.3m1-26.7v26.7m1-29.1v31.5m1-31.5v27.3m1-24.1v23.2m1-26.4v28.4m1-25.4v24.6m1-26.2v25.4m1-24.7v26.2m1-25.4v22.4m1-26.5v25.1m1-23.2v24.7m1-28v26.5m1-23.2v22m1-26v23.3m1-24.2v22.8m1-23.4v25m1-22v20.4m1-19.9v22.6m1-24.8v22.6m1-21v21m1-23.6v20.4m1-20.3v19.6m1-18.9v30.8m1-31.6v19.3m1-22.3v23m1-21.7v20.7m1-22.3v20.7m1-21.4v28.6m1-29.9v24.1m1-23.1v21m1-23.8v24.3m1-23.2v20.2m1-20.4v18.3m1-22.4v19.1m1-26.4v17m1-21.7v13.2m1-14.9v14.6m1-16.3v17m1-16.5v15.9m1-17.3v17.3m1-16.6v17.2m1-15.5v14.2m1-13.1v13.5m1-13.9v13.2m1-14.4v14.7m1-14.1v16m1-16.4v16.6m1-15.8v15.2m1-15v13.3m1-12.9v13.6m1-13.9v15.1m1-17v17.5m1-17.7v17.9m1-15.5v14m1-14.6v15.1m1-14.1v14.4m1-16.6v17m1-15.6v13.9m1-14.2v16.1m1-17.8v16.2m1-14.6v14.3m1-14.9v15.4m1-16.7v17.7m1-14.6v12.5m1-14.7v14.6m1-13.8v15.1m1-13.9v12.7m1-13.7v14.7m1-15.2v19m1-19.2v13.8m1-12.6v13.9m1-13.6v13.2m1-15.9v16.2m1-15.3v15.2m1-13.5v14.5m1-16.3v16.7m1-15.8v15.3m1-16.5v17.3m1-16.7v14.7m1-15.1v16.1m1-15.6v14.9m1-14.8v12.6m1-14.6v14.3m1-14.1v14m1-15.9v17.9m1-17.7v16m1-16.8v17.9m1-18.9v19.2m1-17v14.8m1-17.4v17.6m1-16.3v20.7m1-19.6v21.7m1-23.6v18m1-15.8v15.6m1-14.1v14.5m1-16.3v15.7m1-15.2v16.1m1-13.8v14.9m1-16v15.8m1-13.3v16m1-17.4v17.6m1-9.2v14m1-4.9v14.3m1-4.3v12.1m1-10.6v11.3m1-10.5v10.1m1-11v12.3m1-12.7v12m1-11.4v10.9m1-11.3v13m1-11.9v9.7m1-9.8v11.4m1-12.4v11.2m1-10.7v18.1m1-16.8v9.3m1-11v12m1-11v11.5m1-10.8v10.4m1-11.4v10.2m1-8.9v9.5m1-9.6v9.4m1-11v11.5m1-9.9v11.1m1-11.4v11.9m1-11.5v9.3m1-9.9v9.4m1-9.6v10.7m1-10.5v9.9m1-11.2v12.7m1-12.1v10.1m1-9v10.4m1-10.8v10m1-10.3v10.5m1-9.7v11.1m1-11.4v10.6m1-11.6v12.1m1-10.9v10m1-9.7v10.2m1-9.1v9.6m1-8.2v12.9m1-12.8v15.4m1-12.7v13.6m1-14.6v14.6m1-16v17.5m1-16.3v13.5m1-13.6v15.9m1-16v15m1-14.3v13.4m1-14v14.7m1-16.3v16.5m1-25.1v26.1m1-16.8v15.6m1-19.2v21.9m1-18.3v16.9m1-17.7v19.4m1-19.3v23.9m1-22.4v14.4m1-14.6v17.7m1-18.9v17.2m1-18.4v20.1m1-20.6v19.4m1-18.7v17.7m1-16.7v23.1m1-29.3v17.6m1-27.1v22.2m1-31.4v23.5m1-20.3v19.8m1-24.3v26.1m1-22.4v20.1m1-20v20.2m1-22.3v22m1-23.1v23.1m1-21.2v23.5m1-24.9v22.2m1-22.7v23.9m1-22.2v24.2m1-26.5v26.5m1-26.1v24.1m1-19.5v20.9m1-22v21.4m1-31.2v30.2m1-22.4v24.3m1-25.7v25.6m1-23.6v20.9m1-20.4v19.6m1-23.5v23.8m1-19.9v23.8m1-28.2v26.3m1-24.7v24.2m1-24.2v26.9m1-24.7v20.2m1-23.3v23.3m1-25.2v27.4m1-22.9v20.5m1-24.3v25.9m1-27v24.8m1-20.8v22.6m1-27v29.3m1-24.2v22.7m1-27.9v25m1-20v23.9m1-27.2v23.9m1-25.4v25.4m1-22.5v22.6m1-25.9v27m1-26.2v24.1m1-26.3v26.1m1-23.1v26.3m1-20.7v23.7m1-26.3v25.4m1-22.1v23m1-22.2v23.9m1-19.5v21.6m1-17.9v19.2m1-20.9v24.5m1-21.5v19.5m1-16.4v18.8m1-17.6v20.1m1-20.5v21m1-21.2v21.8m1-20.6v19.7m1-18.8v23m1-21.1v22.1m1-20.3v20.4m1-20.5v21.3m1-21.1v17.9m1-17.1v16.8m1-19.7v23.2m1-22.3v20.8m1-22.2v20m1-18.8v21.7m1-20.6v17.9m1-18.6v20.4m1-22.1v21.7m1-19.8v22.2m1-22.5v21.6m1-18.6v16.5m1-16.5v18.1m1-19.7v20.6m1-20.5v19.3m1-24.2v25.2m1-21.5v20.1m1-20.6v19.6m1-22.2v19.8m1-16.3v16.8m1-20.8v22.1m1-19.8v21.5m1-20.4v18.5m1-18.2v19.2m1-18.4v18.2m1-20.9v22.5m1-19.5v18.4m1-20.9v18.3m1-19.7v22.1m1-18.8v18.7m1-21v20.6m1-18.6v17.8m1-20.9v23.7m1-20.9v18.5m1-18.8v17.7m1-19.4v21.8m1-21v22.7m1-23.1v21.6m1-22.2v23.1m1-22.9v24m1-24v24m1-24.1v27.6m1-27.6v28.2m1-26.7v26.9m1-28v31.6m1-30.9v29.4m1-33v33.2m1-33.1v39.9m1-33.2v32.9m1-36.3v34.7m1-34v32.7m1-31.4v36.8m1-40.7v35m1-36.7v33.9m1-34.2v39m1-34.1v31.4m1-34.7v34.8m1-37.8v36.3m1-32.1v32.4m1-29.9v37.6m1-43.9v36.8m1-31.9v32.7m1-33.8v33.4m1-33.4v37.6m1-35.9v29.9m1-35.2v40.4m1-41.7v37.1m1-30.6v32.7m1-32.8v26.8m1-26.8v23.7m1-22.9v18.2m1-16.8v17.7m1-19.4v16.7m1-14.6v14.8m1-16.5v18.3m1-17.2v16.8m1-15.7v16.1m1-18.7v18.6m1-16.1v15.4m1-17.4v16.5m1-15.9v16.2m1-15.4v17.8m1-16.8v14.5m1-16.4v16.4m1-17.9v19.6m1-18.3v16.8m1-16.8v18.7m1-18.5v18.9m1-16.8v15.1m1-16.8v17.7m1-18.6v17.1m1-15.3v15.8m1-17.6v17.1m1-15.4v17.5m1-21.8v17.1m1-26.4v17.5m1-23.7v18.8m1-18.9v17.9m1-17v17.7m1-18.3v15.7m1-17.2v19.6m1-17.3v13.9m1-14.4v16.8m1-18.7v19.4m1-17.6v15.9m1-16.8v16.8m1-18.9v19.1m1-17.1v15m1-14.9v15.3m1-15.6v18.5m1-19.3v19.2m1-19v18.8m1-16.8v14.8m1-16.5v19.3m1-18.7v18.7m1-20.5v20.4m1-16.8v14.1m1-13.7v16.9m1-20v19.1m1-16.9v17.5m1-19.3v18.6m1-15.8v14.6m1-16v18.1m1-17.8v17.8m1-16.9v17.4m1-18.3v17.5m1-16.6v14.7m1-17.5v17.7m1-14.8v16m1-19.4v18.2m1-16.1v16.5m1-16.2v17.8m1-18v15.5m1-18.1v18.8m1-16.5v14.2m1-15.9v15.7m1-14.2v13.9m1-14.2v15.7m1-16.9v17.7m1-18.8v18.5m1-18v18.3m1-20.4v19.5m1-18.7v19.3m1-17.9v14.7m1-16.6v19.6m1-21.2v20.4m1-19.4v16.7m1-16.2v17.6m1-17.8v18.8m1-16.8v17.5m1-19.9v17.8m1-17.2v15.8m1-15.7v15.7m1-14.8v16.4m1-18.5v16.8m1-17.8v20.4m1-18.8v16.8m1-16.9v15.2m1-15.3v24.2m1-26.7v18.6m1-18.7v17.8m1-15.6v15m1-14.9v14.3m1-14.8v16.6m1-17.2v17.5m1-26v26.9m1-19.3v16.2m1-14.5v15.6m1-16.4v15.2m1-17.3v16.7m1-17.5v18.6m1-16.5v16.9m1-17.7v17.9m1-21.6v21m1-20.8v24.3m1-22.9v21.9m1-25.6v26.7m1-23.3v23.7m1-25.5v22.7m1-26.4v28.8m1-30v33.2m1-28.6v23.9m1-25.6v27.6m1-30v29m1-30.8v25.4m1-23.8v25.9m1-30.3v28.6m1-27.3v28.9m1-29.2v24.6m1-25.7v24.3m1-26.1v22.9m1-24.6v26.9m1-26.8v22.4m1-23.6v24m1-26.5v25.7m1-26v24.9m1-22.2v21.2m1-25.4v26m1-26.5v25.1m1-23.9v22.5m1-22.1v20.3m1-19.8v18.2m1-22.6v22.1m1-20v19.8m1-19.2v18.6m1-20v21.6m1-21.4v19.6m1-23.1v21.9m1-22.2v20.6m1-21.8v23m1-25.5v20.4m1-23.5v24.5m1-28.9v26.2m1-29.7v25.5m1-26.7v24.2m1-28.5v26.9m1-26.1v22.4m1-24.2v31.5m1-31.9v25.3m1-25.8v25m1-24.2v30.1m1-31.6v28.9m1-24.3v23.9m1-35.7v33.3m1-26.1v24.5m1-23.8v24.2m1-25.4v24.4m1-25.1v26.8m1-27.6v28.4m1-24.7v20.3m1-20.1v22.2m1-22.9v19.7m1-19.5v22.2m1-24.4v23m1-26.2v25.8m1-29.6v25.3m1-24.8v24.3m1-27v23.3m1-25.2v27.8m1-29.3v25.9m1-27.7v24.5m1-24.5v21.4m1-24.3v29.4m1-26.6v25.1m1-28.4v29.7m1-28.6v25.4m1-28.8v29.3m1-24.7v23.5m1-26.5v25.9m1-25.8v28.2m1-24.1v25m1-28.8v30.4m1-29.5v27.9m1-30v29.7m1-26.8v28m1-30v26.2m1-23.4v24.6m1-23.9v26.5m1-28.1v25.7m1-25.2v25.1m1-28.9v20.8m1-26.1v17.7m1-24.9v20.9m1-18.6v17.3m1-17.8v15.2m1-17.7v19.2m1-17.9v16.4m1-15.9v14.8m1-14v16.9m1-17.8v15.6m1-14.8v16.2m1-16.6v15.4m1-17v17m1-17.2v17.8m1-18.6v16.9m1-14.8v15.2m1-16.4v15.9m1-16.1v17.9m1-16.1v17.3m1-19.9v18.3m1-15.1v16.2m1-16.1v13.9m1-16.2v17.8m1-17.8v19.6m1-18v18.2m1-19.3v19.8m1-19.6v18m1-17.2v18.4m1-18.8v16.6m1-16.4v16.6m1-10.8v20.8m1-12.4v30.2m1-25.5v33.2m1-30.7v32.5m1-30.8v34.4m1-26.8v28m1-31.1v32m1-29.2v28.9m1-26.4v31.3m1-33.3v32m1-33.4v34.3m1-32.9v30.2m1-25.2v25.7m1-24.8v25.8m1-27.6v30.5m1-33.8v33.8m1-33.1v32m1-30.9v31.7m1-31.5v32.7m1-40.9v28.2m1-43v33.6m1-45.1v31.9m1-32.5v34.3m1-34.4v29.5m1-33.6v33.2m1-27.3v33.6m1-34.2v33.7m1-39.5v36.3m1-35.4v41m1-34.9v36.1m1-34.7v38.4m1-38v39.3m1-36.5v36.7m1-32.8v32.5m1-26.5v28m1-27v24.8m1-20.1v20.2m1-21.4v23.5m1-24.2v22.3m1-22.6v25.6m1-23.2v23.7m1-25.4v25m1-23.9v21.9m1-21.7v22.4m1-22.4v20.4m1-28.5v24.6m1-34.3v24m1-30.8v26.1m1-32.4v26.4m1-29.7v21.8m1-27.6v29.6m1-33.4v32.1m1-29v21.4m1-24.5v23.8m1-30.4v27.7m1-27.2v28.7m1-33.7v28.9m1-32.2v31.4m1-29.8v27.3" stroke="#E9242A" stroke-width="1.35" fill="none"/><path d="M109.1 608.6v1.5m-.6-20.1v1.5m1.1 17.6v1.5m.4-.3v1.5m1 1v1.5m-.4-22.5v1.5m1.1 18.8v1.5m-.3-22.8v1.5m1.3-1v1.5m1.1-3.5v1.5m0 21.5v1.5m.8-1.5v1.5m.1-.2v1.5m.8-23.8v1.5m1.4-1.6v1.5m0 17.2v1.5m.7-22.2v1.5m-.2-.7v1.5m1.2 18.6v1.5m.9-22.3v1.5m.3-2.4v1.5m.7 19.4v1.5m.9-1v1.5m1-1.8v1.5m1.3-19.5v1.5m0-3.1v1.5m1.1 17.3v1.5m1-1.2v1.5m.3-20.1v1.5m.5 18.2v1.5m.1-22.3v1.5m.9-2.8v1.5m.3 22.5v1.5m1.3-23.2v1.5m-.7 20.6v1.5m1.3-22.4v1.5m-.3-1.7v1.5m1.4 20.4v1.5m-.5-21.9v1.5m1.7-10.2v1.5m-.5-1.3v1.5m1 12.4v1.5m-.2 .1v1.5m1.5-5.6v1.5m-.3-27.8v1.5m.2 47.8v1.5m.7-24.5v1.5m1.3-1.9v1.5m.9-.1v1.5m.3-2v1.5m.8 1.8v1.5m.4-26.5v1.5m.7 1.5v1.5m1 19.9v1.5m-.1-25.2v1.5m1.4 24.8v1.5m-.2-25.9v1.5m1.1-4.4v1.5m-.7-.3v1.5m1 21.7v1.5m1.6 5.5v1.5m-.5-5.1v1.5m1.4-27.1v1.5m.3 21.8v1.5m.8-25.9v1.5m.6 23.2v1.5m-.2-22.7v1.5m1.4 23v1.5m.2-6.1v1.5m.7 1.5v1.5m1.2-.5v1.5m1-24.4v1.5m.1 24.2v1.5m.6-4.4v1.5m-.1-27.6v1.5m1.7 27v1.5m-.6-.6v1.5m1.5 2.9v1.5m0-1.8v1.5m.8-15.8v1.5m-.5 1v1.5m1.2 15.1v1.5m.9-19.1v1.5m.1 15v1.5m1.1-18.1v1.5m.4 .6v1.5m.9-2v1.5m.7-.8v1.5m-.3 15.9v1.5m1.7-3.6v1.5m.9-1.3v1.5m-.3-1.7v1.5m1.3-.1v1.5m1.2-3.3v1.5m-.2-.5v1.5m.9-16.7v1.5m.6-2.2v1.5m1.2 15.5v1.5m1.3-19.1v1.5m-.1-1.3v1.5m1.2-.8v1.5m.9-4.4v1.5m-.4 .9v1.5m1.5 13.4v1.5m-.1-1.6v1.5m1.1-1.2v1.5m-.2-18.4v1.5m1.3 17.1v1.5m-.7-3v1.5m1-2.2v1.5m-.1 .4v1.5m1.3-17.9v1.5m-.2 13.6v1.5m1-19.4v1.5m1.1-5.5v1.5m.2 18.9v1.5m1.1-4v1.5m-.1-23.1v1.5m1.1-1.9v1.5m-.4-2.2v1.5m1.1 17v1.5m.6-19.2v1.5m.5-4.3v1.5m.4 18.2v1.5m-.3-49.3v1.5m1.4 27.1v1.5m.9 .2v1.5m0 15.2v1.5m.8-1.5v1.5m.9-1.2v1.5m.1-17.3v1.5m1-3.6v1.5m-.2 .5v1.5m1.1-4v1.5m.2 18.6v1.5m1-18.6v1.5m.6 13v1.5m-.2-.4v1.5m1.2-2.1v1.5m0 .6v1.5m1.2-.2v1.5m.2-21v1.5m.9-1.6v1.5m.6-2.4v1.5m0 15.7v1.5m1.1 .1v1.5m1.5-3.3v1.5m1-17.1v1.5m0-2.8v1.5m.6 .5v1.5m1.1-5v1.5m.3-3.9v1.5m.7 14.1v1.5m1-23.9v1.5m-.4 .9v1.5m1.5-3.1v1.5m.9 17v1.5m.2-18.3v1.5m.6-1v1.5m1.2 1.3v1.5m1.4-1.4v1.5m-.3 14.2v1.5m.9-1.3v1.5m.1-2.3v1.5m.6-16.1v1.5m.1 14v1.5m1.3-2.8v1.5m.2 .7v1.5m.6-2.6v1.5m.3-16.6v1.5m1.1 14.7v1.5m1-3.2v1.5m.3-1.8v1.5m.8-16.7v1.5m.3-1.2v1.5m.4 12.6v1.5m1-15.2v1.5m1.1-1.2v1.5m.5-1v1.5m1.2-2.6v1.5m.5-1.3v1.5m.9 13.1v1.5m.7-1.9v1.5m-.4-15.2v1.5m1.8 12.8v1.5m-.8-1.6v1.5m1.5-16.9v1.5m.7 1.2v1.5m.2 14.4v1.5m1 3.7v1.5m.8 1.2v1.5m1.1-2.7v1.5m-.1-1.5v1.5m1.4-15.8v1.5m.8-1.6v1.5m1-1.5v1.5m1.3 14.6v1.5m-.3-1v1.5m1.3-3.9v1.5m.7-1.7v1.5m.4-.7v1.5m.5-18.2v1.5m.8 14.2v1.5m1.6-1.2v1.5m0-14.9v1.5m.4-2.6v1.5m0 16v1.5m1.4-18.7v1.5m.5 14.9v1.5m.5-18.2v1.5m.5-.6v1.5m.8 14.6v1.5m.8-18.1v1.5m.7-.8v1.5m-.1-1.7v1.5m.9-4.9v1.5m1.4 16.3v1.5m.1-17.4v1.5m1-1.1v1.5m.8-.1v1.5m.3-3.9v1.5m.4 15.5v1.5m.9-18.6v1.5m.8-1.3v1.5m-.4 24.6v1.5m.8-10.5v1.5m.9-3v1.5m.5-15.1v1.5m.4 11.8v1.5m.7-.7v1.5m1.1-2.5v1.5m.6-15v1.5m0 14.4v1.5m1-16.4v1.5m0 12.8v1.5m1-2.6v1.5m.3 .8v1.5m1-19.3v1.5m.6 14v1.5m1.4-2v1.5m-.1 1.2v1.5m.7-17.8v1.5m.1-.7v1.5m.9-2v1.5m.8-2.1v1.5m.3-1.2v1.5m1 13.4v1.5m.2-16v1.5m.5 14.2v1.5m.7-.8v1.5m.6 1.5v1.5m.9-20.6v1.5m0 1.5v1.5m.8-2.3v1.5m1.3 14.2v1.5m.2-2.4v1.5m.5-2.8v1.5m.3-.1v1.5m1-17.2v1.5m-.3-1.7v1.5m1.6 14.7v1.5m-.6-16.1v1.5m1.7 12.3v1.5m-.5 .1v1.5m1.4-18v1.5m-.6 15.2v1.5m.9-2v1.5m1.5 0v1.5m.6 .3v1.5m1.3-19.9v1.5m1.3-1.5v1.5m-.4-3.6v1.5m1-2.2v1.5m0 15.6v1.5m1.1-16.5v1.5m-.4 13.2v1.5m1.3-2.2v1.5m1-15.8v1.5m1.4-2.4v1.5m.4 15v1.5m1.5-2.2v1.5m0-1.9v1.5m1.1-.2v1.5m-.6-17.4v1.5m1.2 16.3v1.5m.9-18.8v1.5m.2-3.7v1.5m.6 15.9v1.5m1.1-1v1.5m.3-16.1v1.5m1.1 16.5v1.5m0-17.9v1.5m.9 .1v1.5m.7 1.7v1.5m.4-2.7v1.5m1.1 .6v1.5m-.3 22.2v1.5m1.3 9v1.5m1-34.5v1.5m-.2 30.1v1.5m1-35.5v1.5m.8 8.9v1.5m-.1 28.9v1.5m1.5-2.8v1.5m-.2-.6v1.5m1.3 6.4v1.5m.6-33.6v1.5m0 28v1.5m1.3-30.7v1.5m.5 29.7v1.5m.4-33.4v1.5m.5 30.1v1.5m.1-31.8v1.5m1.3-4.9v1.5m-.3 38v1.5m1.4-43.8v1.5m.9 38.6v1.5m-.4-8v1.5m1.4-1.8v1.5m1.2-7.8v1.5m-.5-38.7v1.5m1.3-5.2v1.5m.3-3.4v1.5m.4-6.7v1.5m1.7-9.2v1.5m.5-1.9v1.5m.4-2.1v1.5m.6 15.3v1.5m1.4-22.7v1.5m.1-1.8v1.5m.7-.6v1.5m0 14.5v1.5m1-17.4v1.5m.1-2.6v1.5m.7 14.6v1.5m-.3 1.1v1.5m1.8-20.3v1.5m-.3-6v1.5m1.2 20.1v1.5m-.1-1v1.5m.7-20.2v1.5m1.2-3.5v1.5m-.4 .4v1.5m.9 15.6v1.5m1.3-16.6v1.5m.3-2.4v1.5m.8 15.4v1.5m0-18.6v1.5m.6 16.7v1.5m.6-20.6v1.5m1.1-.7v1.5m.4-2.8v1.5m.4-.6v1.5m.9 18.4v1.5m-.3-21.3v1.5m1.1-4.2v1.5m-.1 2.7v1.5m1.5 15.6v1.5m-.2-20.1v1.5m.7-.5v1.5m.4-1.4v1.5m.5-.9v1.5m.6-1.6v1.5m.8-2.1v1.5m-.3-3.9v1.5m1.4-.1v1.5m-.3-.2v1.5m.8 15.4v1.5m1.7-3.2v1.5m-.4-20.7v1.5m1.3 21.4v1.5m.1-2.8v1.5m1-4.1v1.5m.6-19.6v1.5m1.2 19.6v1.5m-.3-4.6v1.5m1.4-17.5v1.5m.5 15v1.5m1.5-19v1.5m.6 16.2v1.5m.6-20.4v1.5m.9-1.1v1.5m0 15.8v1.5m.4-19v1.5m.1 15.9v1.5m.9-1.1v1.5m1.4-.2v1.5m0-21.3v1.5m1 18v1.5m-.1-18.9v1.5m0-32.8v1.5m.9 47v1.5m0-2.3v1.5m1.5-18.7v1.5m-.1 17.5v1.5m.7-2.4v1.5m.3-18.9v1.5m1 17v1.5m0-3.1v1.5m.8-21.3v1.5m.2 23.5v1.5m.8-9v1.5m1.2-24v1.5m-.4 20v1.5m.8-19.9v1.5m1-4.5v1.5m.4 20.6v1.5m.6-1.2v1.5m.4-23.3v1.5m1.2 1.6v1.5m.8-1.6v1.5m-.2 15.6v1.5m.9-.1v1.5m.1-18.7v1.5m.7 15.2v1.5m1.7-.2v1.5m.1-21.8v1.5m.9 19.6v1.5m-.6-2.4v1.5m1.3-1.8v1.5m0-24v1.5m1.2 3v1.5m-.3-1.2v1.5m1.2-5.7v1.5m-.5 24.2v1.5m1.4-23.2v1.5m1.2 16.6v1.5m-.6-18.4v1.5m1.2-2.6v1.5m-.1 21v1.5m1.7-21.6v1.5m-.6-2.9v1.5m.9-1.2v1.5m.2-.8v1.5m.8-2.4v1.5m.3-2.5v1.5m1.3-.5v1.5m-.4-3.9v1.5m.7 18.4v1.5m.7-1.4v1.5m.4-.9v1.5m.1-22v1.5m1.6 .6v1.5m-.3 1.4v1.5m1-3.5v1.5m.3 16.2v1.5m.6-18v1.5m.8-.2v1.5m.4 14.9v1.5m.6-21.4v1.5m1.5 2v1.5m.3-2.6v1.5m.2 17.8v1.5m.8-19.6v1.5m1.1-4.2v1.5m.3 1v1.5m1.2-2.8v1.5m0 .6v1.5m.7 15v1.5m-.2-2.8v1.5m1.3-18.4v1.5m-.3 20.8v1.5m1.6-23.1v1.5m.9 17.2v1.5m-.2-1v1.5m1.4 1v1.5m.6-18.7v1.5m1.3 3v1.5m.8 26.7v1.5m-.2-.8v1.5m1.1-4.5v1.5m1.1-24.4v1.5m.6 21.3v1.5m.5-28v1.5m.5 1.1v1.5m1.6-12.9v1.5m.3 29v1.5m1.6-2.1v1.5m1.1-4.6v1.5m.5 .6v1.5m.1-26.6v1.5m1.4-1.5v1.5m-.2-6.1v1.5m-.1 52v1.5m.9-26.9v1.5m.9 .2v1.5m.4-27.6v1.5m1.2 19.6v1.5m-.6-.4v1.5m1.1 .3v1.5m0-27.8v1.5m1-5.9v1.5m.9-.4v1.5m-.1 27.4v1.5m1.5-4.6v1.5m1.1 .1v1.5m1.1-.3v1.5m.3-34.9v1.5m1.5 .5v1.5m-.3 23.7v1.5m1-1v1.5m.1-27.3v1.5m1.3-4.4v1.5m-.4-1.3v1.5m1.1 29v1.5m-.2-30.2v1.5m1 23.5v1.5m1.1-27.4v1.5m-.1-1.5v1.5m1.2-5.6v1.5m-.4 24.9v1.5m1-3.1v1.5m1.7-24v1.5m-.6 26.9v1.5m1.5-5.2v1.5m1-1v1.5m.1-2.4v1.5m.7-1.7v1.5m0-25.7v1.5m.9-1.6v1.5m1.4 22.9v1.5m.8-2.5v1.5m1.2-25.9v1.5m-.5 .1v1.5m1.1-1.6v1.5m-.2-1v1.5m1.7 21.2v1.5m0-23.9v1.5m.7 23.2v1.5m0-26.4v1.5m1.2 22.5v1.5m-.3-26.1v1.5m1.1 29.5v1.5m.2-31.2v1.5m.5 .1v1.5m.1-2.7v1.5m.8 26.5v1.5m1.7-1.2v1.5m.3-.9v1.5m.5-21.9v1.5m.9 19.4v1.5m1.2 0v1.5m.7-20v1.5m.9 19.2v1.5m.7-.3v1.5m.7-3.7v1.5m.7-22.4v1.5m-.4-2.2v1.5m1.5 1.7v1.5m.8-6.5v1.5m1 1.7v1.5m1.1 19.7v1.5m.9-22.1v1.5m1.3 20.8v1.5m1-2.5v1.5m.1-22v1.5m.8-1.9v1.5m.7 22.5v1.5m.6-23.4v1.5m1 .3v1.5m.3 20.2v1.5m0-25.9v1.5m1.3 21.8v1.5m1 4.2v1.5m1.1-25v1.5m1.3 19.2v1.5m-.1-.2v1.5m-.3-43.5v1.5m1 39.7v1.5m.4-18.9v1.5m.5 15.6v1.5m-.2 0v1.5m1.4-20.3v1.5m-.1 16.7v1.5m1-21.8v1.5m1-1.8v1.5m.4 21.5v1.5m.7-25.4v1.5m-.4 20v1.5m1.1-.6v1.5m.5-2v1.5m1.1-21.4v1.5m-.1-3.1v1.5m.4 2.3v1.5m.6 16.2v1.5m.5-19.9v1.5m1.2 20.1v1.5m.1-3.1v1.5m.9-23.8v1.5m.2-.9v1.5m1 20.8v1.5m.8-20.4v1.5m.8 18.4v1.5m.4-25v1.5m.8 22.3v1.5m0-25.1v1.5m0-16.5v1.5m.8 34.3v1.5m.3-.9v1.5m1.1-22.4v1.5m.6-.4v1.5m.9 .3v1.5m.1-3.5v1.5m1.2 20.1v1.5m.1-19.2v1.5m.9 20.6v1.5m.7 1.5v1.5m.6-23.7v1.5m.9 .8v1.5m.5-.1v1.5m1.4-.4v1.5m-.4-3.9v1.5m1.3 .1v1.5m.9-1.4v1.5m1.4-2v1.5m-.4-3.7v1.5m1.3-2.6v1.5m-.4 27.4v1.5m.8-26v1.5m.2-.6v1.5m1 23.1v1.5m1.1-4.2v1.5m.3-2.1v1.5m.9-2.5v1.5m.2 1.3v1.5m.8-25.8v1.5m1.2-2.4v1.5m-.4-1.2v1.5m1.2 20.5v1.5m-.3-1.2v1.5m1-.5v1.5m.8-3.5v1.5m0-24.6v1.5m1.6 20.1v1.5m1.1-30.7v1.5m.7 24v1.5m.3-1.3v1.5m.9-26.8v1.5m.5 14.6v1.5m.6-15.7v1.5m.9-2.3v1.5m.7 13.6v1.5m1-2.1v1.5m.3-14.4v1.5m.5 12.1v1.5m1.2-17v1.5m1.1 14.3v1.5m1.2-.8v1.5m-.4-17.4v1.5m.8 13.3v1.5m1-15.8v1.5m1.6 14v1.5m1.1 .1v1.5m-.1-3.6v1.5m1-2.5v1.5m-.6-1.5v1.5m1.3-14.7v1.5m1-5.1v1.5m1.4 16.1v1.5m-.5-16.2v1.5m1.5 12.1v1.5m-.3-19.1v1.5m1.3 2.5v1.5m.4 12.2v1.5m1.1-1.5v1.5m.5-.4v1.5m.9-2.7v1.5m-.4 .7v1.5m1-17.8v1.5m1.3-2.2v1.5m.2-2.2v1.5m.9 15.9v1.5m-.2-19.6v1.5m.8-2.6v1.5m1.3 .3v1.5m-.3 13.7v1.5m.9-1.3v1.5m1.4-.9v1.5m.9-16v1.5m1.2 13.1v1.5m.9-19.2v1.5m1.2-.4v1.5m.8 18.8v1.5m.8-17.8v1.5m-.2 20.7v1.5m1-23.7v1.5m.4-5.3v1.5m1.3-4.6v1.5m-.7-.8v1.5m1.3 16.8v1.5m1.1-32.2v1.5m.9-4.7v1.5m-.1-3.6v1.5m.8 13.4v1.5m1.2-16v1.5m-.2 14.1v1.5m1.2-17.3v1.5m.3-2.5v1.5m1.1 13.6v1.5m.9-2v1.5m1.1 2.2v1.5m.7-5.1v1.5m.2-1.6v1.5m.4 1.8v1.5m.6-20.3v1.5m.8-2.8v1.5m.8-.1v1.5m0 15.5v1.5m1.1-1.9v1.5m-.2-18.5v1.5m1.6 15v1.5m-.2-17.9v1.5m1.1-4.9v1.5m.9-1.2v1.5m1-.4v1.5m.2-4.2v1.5m.8 18.4v1.5m-.2-3.9v1.5m.8-17v1.5m.5-.5v1.5m.6 14.5v1.5m.4-22.3v1.5m.5 1.9v1.5m.1 15.1v1.5m1.4-2.4v1.5m.1-17.5v1.5m.7 14.9v1.5m-.1-1.7v1.5m.7-16.9v1.5m1.2 13.8v1.5m.8-17.5v1.5m1.6-1.7v1.5m.2-1.3v1.5m.2-2.9v1.5m.5-2.5v1.5m1.2 17.6v1.5m-.2-20.6v1.5m.6 15.4v1.5m1.4-1.5v1.5m-.5-1.3v1.5m1.2 .9v1.5m.3-4.7v1.5m1.3-1.7v1.5m.3-19.2v1.5m.9 19v1.5m1.3-22.7v1.5m.8-1.7v1.5m1.3 18.5v1.5m0-.3v1.5m1.1-23v1.5m-.1 16.7v1.5m.9-21.5v1.5m-.2 1.1v1.5m.9 17.7v1.5m.1-21v1.5m1.2-1.4v1.5m-.3 15.7v1.5m1.8-1.4v1.5m.7-1.8v1.5m-.3-19.1v1.5m1.3 13.5v1.5m1.2-24v1.5m-.5 24.7v1.5m1.2-21.1v1.5m.2-4.2v1.5m1.1 18.6v1.5m.8-.9v1.5m.1-24.9v1.5m.5 2.9v1.5m.5 13.3v1.5m.5-18.6v1.5m1.4 16.1v1.5m.9-1.8v1.5m1.4 2.8v1.5m-.5-5.9v1.5m1.2-2.6v1.5m.5-1.1v1.5m1.5-3.7v1.5m-.3-1.4v1.5m1.4-19.7v1.5m-.3 16.1v1.5m1.1-14.9v1.5m.1-1.2v1.5m.9-1.2v1.5m.3 .5v1.5m1 1v1.5m.3 18.7v1.5m0-6.3v1.5m1.5 1.9v1.5m0-16.1v1.5m.5-.4v1.5m.3 14.1v1.5m.8-17.1v1.5m1.1 3.6v1.5m1.3 16.8v1.5m1.1 .2v1.5m-.3-2.4v1.5m1.2-13v1.5m0-4.2v1.5m-.1 38.4v1.5m.7-22.8v1.5m.4-.7v1.5m.7 3.3v1.5m.9-14.7v1.5m.5-6.3v1.5m-.2-13.6v1.5m.8 15.6v1.5m0 1.5v1.5m1-1.4v1.5m.2-3.8v1.5m.8 15.4v1.5m.2-2.4v1.5m1.2-17.2v1.5m.1 .1v1.5m.5-2.7v1.5m.3-5.1v1.5m.8 19.4v1.5m-.1-3.2v1.5m1.5-15.1v1.5m.5 15.9v1.5m1.3-5.7v1.5m1-1.2v1.5m1.3-16.7v1.5m-.4 14.7v1.5m0-33.6v1.5m1.2 13.9v1.5m.6 .7v1.5m.5-3.7v1.5m.4 15.1v1.5m.4-2.1v1.5m.9-16.6v1.5m.3-.4v1.5m.8 13.1v1.5m.2-2.3v1.5m.4-.8v1.5m.4-1.3v1.5m1-17.9v1.5m.1 .6v1.5m1.2 17.3v1.5m.9-19.4v1.5m-.6 17.1v1.5m1.3 2.1v1.5m-.2-3.1v1.5m1.2 2.3v1.5m1.4 .3v1.5m-.4 19.6v1.5m1.2-42.8v1.5m.4-3.6v1.5m.2 26.1v1.5m.8-1.8v1.5m1.5-30.3v1.5m.9 30v1.5m-.4-27.6v1.5m1.4-3.2v1.5m-.1-2.4v1.5m1.1 22.9v1.5m1.1-21.5v1.5m.2-3v1.5m.9 21.8v1.5m.6 3.6v1.5m.9-5.3v1.5m.2-1.1v1.5m1.2-23.5v1.5m0 21.9v1.5m.8-1.8v1.5m.4-23.4v1.5m1-2.2v1.5m.9 26.6v1.5m.4-29.2v1.5m.4 23.6v1.5m1.3-.7v1.5m-.4-4.2v1.5m1.5 2.2v1.5m-.7-24.9v1.5m1.1-1.4v1.5m-.1 20.9v1.5m1.6-2v1.5m-.5-24.3v1.5m.8-3.5v1.5m.5 2.2v1.5m1.2-1.9v1.5m-.5 0v1.5m1.3-1.3v1.5m1.2 18v1.5m-.4-.1v1.5m1.4-3.7v1.5m-.5-2.3v1.5m1.6-22.6v1.5m.5 3v1.5m-.1-4.6v1.5m1.5-1.8v1.5m-.4 17.1v1.5m1.5-.9v1.5m-.1 .8v1.5m.8-3v1.5m.6-19.1v1.5m1.3-2.8v1.5m.2 16.8v1.5m1-17.4v1.5m-.3-3.6v1.5m1.3-1.2v1.5m.9 18.1v1.5m0-23.1v1.5m1.3 .5v1.5m-.4-1.2v1.5m1.3 17.9v1.5m-.3-1.5v1.5m.7-20.7v1.5m1 18.7v1.5m.6-21.5v1.5m.6-.2v1.5m.3 13.6v1.5m.6-16.6v1.5m.1-1v1.5m1.3-2.9v1.5m-.6-.6v1.5m1.1 14.3v1.5m0 .9v1.5m1.1-4.6v1.5m.9-17v1.5m0-1.9v1.5m1.3 17.3v1.5m1.1-4.2v1.5m1.3-1v1.5m.6-17v1.5m1.4 13.6v1.5m-.6-20.4v1.5m1.6 19.7v1.5m-.1-22.4v1.5m1 .7v1.5m-.3 33.7v1.5m.9-18.7v1.5m1-20v1.5m-.2 16.4v1.5m1.6-19v1.5m-.6 15.2v1.5m1.7-2.4v1.5m-.1-16.8v1.5m.3 14.3v1.5m.1-17.1v1.5m1.4 15.8v1.5m.2-18.7v1.5m1.1 15.7v1.5m-.5 3.7v1.5m1.4-23.4v1.5m.8 13.4v1.5m1-1.7v1.5m.9-1.7v1.5m-.4 .9v1.5m1.1-.4v1.5m.4-21.2v1.5m.7-2.3v1.5m.1-3v1.5m.8 16.1v1.5m1.2-17.9v1.5m.3 16.1v1.5m.7-20.3v1.5m1.1-1.8v1.5m-.1-6.4v1.5m1.3 .9v1.5m.6-5.5v1.5m0 25.5v1.5m.9-34.9v1.5m0 33.1v1.5m1.6-3.6v1.5m-.3-30.2v1.5m0-32.7v1.5m.7 27.4v1.5m1.2 26.6v1.5m-.1 2.3v1.5m1.2-3.3v1.5m.1 1.5v1.5m1.1-5.8v1.5m.8-34.7v1.5m.2 35.2v1.5m.6 1.7v1.5m1.1-8.6v1.5m-.3 6.6v1.5m1.1-8.9v1.5m.3 .9v1.5m1.1-1.3v1.5m-.4-36.2v1.5m1.2 29v1.5m.3-.8v1.5m.9-1.2v1.5m.6-1.6v1.5m-.1 3.5v1.5m1.6-32.3v1.5m1-1.2v1.5m-.2 24.4v1.5m.6 9.2v1.5m1.4-39.6v1.5m.8-.6v1.5m1 24.9v1.5m-.1-.3v1.5m1.3-1.3v1.5m.2-1v1.5m.6-31.3v1.5m1.1-2.6v1.5m.8 26.8v1.5m.2-26.9v1.5m1.1 28.1v1.5m.9-5v1.5m1.1-28.4v1.5m-.2 26.7v1.5m1-1v1.5m.1-4.3v1.5m.9-26.3v1.5m.8 25.5v1.5m.1-27.5v1.5m1.4 22.7v1.5m.1 1.6v1.5m.5-3.1v1.5m1.5-27.8v1.5m.1-.5v1.5m.6-4.3v1.5m1.2-2.9v1.5m-.1 1.9v1.5m.9 3.2v1.5m.7 2.3v1.5m.2 .2v1.5m1.3-2.4v1.5m.1 17.7v1.5m-.2 4.8v1.5m1.3-11.2v1.5m-.6-15v1.5m1-3.5v1.5m.4 14.8v1.5m.6-15.7v1.5m.4-2.7v1.5m.7 13.9v1.5m.9-17.7v1.5m1.4 13.4v1.5m.2-1v1.5m1-1.7v1.5m-.6-1.6v1.5m1.4-1.6v1.5m.9-1.7v1.5m0-15.4v1.5m.6 14v1.5m1-3.2v1.5m0-15v1.5m1.6-4.8v1.5m.8 17v1.5m-.1-1.8v1.5m.7-16.5v1.5m.1-1.3v1.5m1 12.4v1.5m.2 1.4v1.5m.8-17.9v1.5m1.5-1.3v1.5m0-2.7v1.5m.6-2.3v1.5m.3 16.8v1.5m.9-1.8v1.5m-.2-22.6v1.5m1.2-5.4v1.5m1.1-2.2v1.5m.6 19.8v1.5m1.4-24.6v1.5m.9 .8v1.5m.4 20.2v1.5m.4-21.9v1.5m1-6.8v1.5m.9 2.2v1.5m1.2-4.9v1.5m1.2 2v1.5m.1-1.5v1.5m1 19.2v1.5m.1-21.9v1.5m.5 21v1.5m1.1 1.5v1.5m.4-27.5v1.5m.3 20.6v1.5m1.2-21.1v1.5m.3-4.1v1.5m.6 20.3v1.5m.1 3.3v1.5m1.3-1.1v1.5m-.4-31v1.5m1 3.9v1.5m.9-3.2v1.5m.4 22.2v1.5m1.3-.1v1.5m.5-4.3v1.5m1.6-25.4v1.5m.4 .6v1.5m1-1.7v1.5m.4 19.2v1.5m1.1-20.6v1.5m0 23v1.5m.9-5.6v1.5m0-24.5v1.5m.8 21.1v1.5m0 2.3v1.5m1.3-26.1v1.5m-.1-4.2v1.5m.9-1.5v1.5m-.3-.6v1.5m1.1 21.3v1.5m.7-26.1v1.5m.4 22.2v1.5m.9-22.4v1.5m.8 19.7v1.5m1.6 2.3v1.5m-.5-25.6v1.5m.8-6.4v1.5m.1 24.6v1.5m1-22.8v1.5m0 18.4v1.5m1.7-26.7v1.5m-.2 24.3v1.5m.6-.3v1.5m1.2-23.8v1.5m1.2-5.6v1.5m-.4 28.9v1.5m1.2-2.7v1.5m.9 1v1.5m-.2-3.3v1.5m1.1-31.1v1.5m.2 31.5v1.5m.9-39.2v1.5m1.2 4.9v1.5m.1 23.7v1.5m1 7v1.5m1-7.2v1.5m-.1-2.5v1.5m.5-38.6v1.5m.2 36.8v1.5m1.5-31.5v1.5m-.2-1.1v1.5m1.1-1.8v1.5m1.2-8.1v1.5m-.6 32.8v1.5m1.3-30.6v1.5m-.2 23.6v1.5m1.1 .7v1.5m.7-5.3v1.5m1-2.5v1.5m1 1.6v1.5m.2-1.9v1.5m.9-3.7v1.5m1.3-33.2v1.5m.2 28.9v1.5m.8-2.1v1.5m-.2-26.3v1.5m1.4-3.9v1.5m.5 1.1v1.5m.5-4.1v1.5m.6 22.9v1.5m-.1 .2v1.5m1.1-3v1.5m-.2-26.5v1.5m1.3-2v1.5m0-5v1.5m1.1-1.5v1.5m-.2 28.2v1.5m1.2-1.4v1.5m.9-27.1v1.5m-.2 20v1.5m1-25.5v1.5m.2 23.5v1.5m.6-3.7v1.5m.7 2.2v1.5m.5-30.2v1.5m1.2 30v1.5m1.1-32.3v1.5m-.1-4.1v1.5m.8 .8v1.5m1.6 24.4v1.5m.5-26.9v1.5m1-10.1v1.5m-.3 22.6v1.5m1.4-11.6v1.5m.1-19.1v1.5m1.1 10v1.5m.1-1.8v1.5m-.3 15.9v1.5m.8-21.9v1.5m-.1-16.5v1.5m1.2 13.8v1.5m1.5-.5v1.5m.5-2.1v1.5m1.4-17.3v1.5m-.1-3v1.5m.7 17.5v1.5m0-3.7v1.5m.8-20.6v1.5m.4 18.9v1.5m.7-2.3v1.5m.2 .1v1.5m1.1-2.2v1.5m-.1-31.8v1.5m1.3 8v1.5m.8 2.8v1.5m.7-1.3v1.5m0-7.6v1.5m.9 4.3v1.5m0 14.5v1.5m.9-1.7v1.5m1.3-.1v1.5m.8-3.2v1.5m.5 3.1v1.5m.7-25.2v1.5m1.3 18v1.5m.8-1.5v1.5m.9-19.5v1.5m1.2-.4v1.5m.7-1.8v1.5m.1-1.7v1.5m1.2-2.1v1.5m1.2-1v1.5m.5 .5v1.5m.4 13.7v1.5m.6-18.7v1.5m1.4-4.3v1.5m.5 3.5v1.5m.5-2.5v1.5m1.1 20.2v1.5m0-23.1v1.5m.9-1.8v1.5m-.2-3v1.5m1-5.6v1.5m0 5.2v1.5m.7-2v1.5m.6-4.2v1.5m.7 16.5v1.5m-.3-16.6v1.5m1.4-2.7v1.5m-.3 15.4v1.5m1.3-17.4v1.5m1.1 14.1v1.5m.6 2.9v1.5m1.2-5.9v1.5m1-17.6v1.5m-.2 14.8v1.5m1.5-.7v1.5m-.7-17.7v1.5m1.2-5.4v1.5m.9 .4v1.5m.3-1.9v1.5m.8 16v1.5m.4 .8v1.5m1-4.8v1.5m.6-1.8v1.5m.9-1.4v1.5m1-19.5v1.5m1.7-.9v1.5m-.3-2.4v1.5m.8-.2v1.5m0 17.2v1.5m1.3-3.3v1.5m.9-1.9v1.5m-.2-19.9v1.5m1.1 16.2v1.5m-.3-23.1v1.5m1.6 2.1v1.5m-.3-21.6v1.5m.8 38.5v1.5m.9-22.4v1.5m.4-1.8v1.5m.8 23.1v1.5m1.4-25.1v1.5m-.6-3.3v1.5m1.4 20.3v1.5m.8-3.1v1.5m.5-19.7v1.5m.9-3v1.5m.6 .8v1.5m.1-1.4v1.5m1-.7v1.5m0-1.5v1.5m.8 20.4v1.5m1.2-5v1.5m1.4-17.9v1.5m-.6 .6v1.5m1.3 20.9v1.5m.2-.2v1.5m.8-12.1v1.5m1 26.6v1.5m.7-15v1.5m-.1-1.3v1.5m1.6-3.9v1.5m.4 .3v1.5m.6 13.4v1.5m1-16.6v1.5m-.2-1.9v1.5m1.3-2.8v1.5m-.3 14.2v1.5m.8-.9v1.5m.9 1v1.5m.5-3.8v1.5m.4-3.1v1.5m1.1-14.5v1.5m.2-1.1v1.5m.9 12.1v1.5m1.4-2v1.5m-.5-1.6v1.5m.9-2.5v1.5m.3-1.6v1.5m1.3-12.8v1.5m-.3-3.1v1.5m.6 .1v1.5m1.8-2.3v1.5m.7 11.5v1.5m1.2-.7v1.5m-.4-15.5v1.5m.9-1.2v1.5m.2 12v1.5m.9-1.1v1.5m.8-2.3v1.5m.6-.6v1.5m.4-1.6v1.5m1 .8v1.5m1-17.1v1.5m1.6-1.4v1.5m.4 14.6v1.5m1.4-5.6v1.5m-.1-.5v1.5m0 10.1v1.5m1-13.5v1.5m1-17.1v1.5m-.4 15.2v1.5m1.5-1.6v1.5m-.4-17.8v1.5m.9 15v1.5m0-15.5v1.5m1.1-1.4v1.5m.2 13.1v1.5m1-4.1v1.5m.3 2.2v1.5m.5-5.1v1.5m1.5-14v1.5m.8-1.7v1.5m0 12.9v1.5m1.1-15.1v1.5m-.3-.2v1.5m1.2 1.5v1.5m0 12.5v1.5m.9-16.9v1.5m-.3-1v1.5m1.6 .8v1.5m.5-6v1.5m1 1.3v1.5m1.5 15.3v1.5m.5-1.7v1.5m1.2-1.6v1.5m.5 1.5v1.5m.4-24.2v1.5m1.1 1.8v1.5m1.3 15v1.5m1-18.5v1.5m0 19.1v1.5m.6-20.6v1.5m0 14.3v1.5m1.2-17.6v1.5m.1-5.3v1.5m.6 19.4v1.5m.6-21.2v1.5m.7-4.6v1.5m.2 20.9v1.5m.6 .8v1.5m.2-.7v1.5m1.1-2.7v1.5m0-20.8v1.5m1-.8v1.5m.1-2.5v1.5m.5 20.4v1.5m.6-4.1v1.5m1-2.1v1.5m-.3-3.4v1.5m1.1 1.5v1.5m.6-21.1v1.5m1 12.4v1.5m.6-1v1.5m1.1-33.7v1.5m-.1 22v1.5m.7-30.1v1.5m-.1 22.9v1.5m1.1-2.9v1.5m-.1-2.8v1.5m1.4-28.5v1.5m-.3 27.3v1.5m1.3-25.3v1.5m.7-7.8v1.5m.9 4v1.5m1.2-2.6v1.5m0-3.4v1.5m1-6.2v1.5m.8 4.4v1.5m-.3-3.1v1.5m1.4 26.1v1.5m-.4 2v1.5m1.2-3.9v1.5m.2-28.7v1.5m.9-2v1.5m0 .4v1.5m.7-1.9v1.5m1.7 25.2v1.5m.6-27.8v1.5m-.2-2.8v1.5m1.5-3v1.5m.2 30.8v1.5m.8 .5v1.5m.1-8.7v1.5m.6-1.2v1.5m.2 10.1v1.5m.6-9.6v1.5m1.6-3.7v1.5m.7-3v1.5m1.3 5.3v1.5m.8-7.9v1.5m1.3-29.6v1.5m.4-2.8v1.5m1.2 30.9v1.5m.9-36.5v1.5m.1 31.7v1.5m.8 2.4v1.5m.9-37.7v1.5m.2 30.9v1.5m1.1-31.1v1.5m0 29.1v1.5m.8-30.5v1.5m1-2.3v1.5m0 24.2v1.5m1.2-.4v1.5m-.3-1.1v1.5m1-28.5v1.5m.3 23.4v1.5m1-32.3v1.5m.3 1.5v1.5m.9 2v1.5m.1-3v1.5m1.1-8.6v1.5m-.1 5.2v1.5m.8 24.1v1.5m-.4-26.6v1.5m1.6-2.1v1.5m-.4 26v1.5m1.5-1v1.5m-.5-3.3v1.5m.1-57.1v1.5m1.2 27.6v1.5m.2-1.3v1.5m.8 24.5v1.5m.7-25.9v1.5m.1-3.6v1.5m.8-2.6v1.5m.9 32.6v1.5m.3-31.1v1.5m.9-.6v1.5m.4-2.2v1.5m1 27.7v1.5m-.5-2.1v1.5m1.1 3v1.5m1.1-1.6v1.5m0-24.1v1.5m1.2-1.4v1.5m-.6-.3v1.5m1.7 23.9v1.5m-.7-3.7v1.5m1.1-.7v1.5m1.5-20.8v1.5m.1-1.4v1.5m.6 22.7v1.5m.5 .6v1.5m.3-28.6v1.5m.6-3.8v1.5m.9 1.1v1.5m-.4 22.3v1.5m1.5 1.9v1.5m.5-24.3v1.5m.3-7.8v1.5m1.2 26.9v1.5m-.1-22.1v1.5m.4 20.2v1.5m.4-27.7v1.5m.9 25.8v1.5m.3-2.1v1.5m1.2-1.6v1.5m-.1-23.2v1.5m.8-3v1.5m-.2 21.5v1.5m1.4-.9v1.5m.8 1v1.5m1-3.6v1.5m.1-26.7v1.5m.7 23.4v1.5m.2-1.7v1.5m.5-26.6v1.5m.6 24.5v1.5m.8 .3v1.5m0-5.9v1.5m1.2-.8v1.5m-.3-22.2v1.5m.9 18.4v1.5m.2-21.5v1.5m.8 21.5v1.5m1.3-24.7v1.5m-.4 25.6v1.5m1.6-28.9v1.5m-.3-.9v1.5m1.4 18.6v1.5m.2-1.4v1.5m0-21.9v1.5m1.4 19.3v1.5m.2-1.7v1.5m1.1-25.2v1.5m.4 24.5v1.5m.4-5.2v1.5m.9-22.1v1.5m.2 19.7v1.5m.8-1.2v1.5m.2-.5v1.5m.8-23.9v1.5m-.2 20.7v1.5m1.6-4.1v1.5m-.3-26.6v1.5m.6 .3v1.5m.2 27.8v1.5m1.5-5.4v1.5m.2-3.3v1.5m1.6-26.6v1.5m.8 2.7v1.5m0 20.8v1.5m1.3-23.9v1.5m-.3 .4v1.5m.7-4.2v1.5m1.6-1.3v1.5m-.7 20v1.5m1.3 1.7v1.5m1-4.9v1.5m.4-.5v1.5m.8 .4v1.5m1.1-1.1v1.5m.6-3.7v1.5m.6-26.6v1.5m.8 24.2v1.5m.7-24.1v1.5m0-2.2v1.5m1.4-1.1v1.5m-.1 24.2v1.5m.8 7v1.5m-.1-36.7v1.5m.1 41.2v1.5m1.4-46.9v1.5m.9 35.1v1.5m-.5-3.9v1.5m1.5-33.5v1.5m0 36.7v1.5m1-2.3v1.5m.4-4.8v1.5m.6 2.2v1.5m.6-47.2v1.5m.2 1.3v1.5m1.1 41.6v1.5m-.1-1.6v1.5m.6-1.1v1.5m.6-45.7v1.5m.6 1v1.5m.9 41.1v1.5m.2 4.1v1.5m.9-7.3v1.5m-.1-.3v1.5m1.5 1.3v1.5m-.3-6.3v1.5m.8-45.1v1.5m1.3 43.4v1.5m-.4-41.8v1.5m1.2-4.7v1.5m1.2 43v1.5m-.2 3.7v1.5m1.3-50.7v1.5m-.4 3.6v1.5m.8-6.6v1.5m1.8-4.5v1.5m-.6 43.4v1.5m.9 1.8v1.5m.3-41.3v1.5m0 70.7v1.5m.9-37v1.5m.2-45.3v1.5m.7-1.2v1.5m.2 40.9v1.5m1.2-39.2v1.5m-.6-3v1.5m1.7-6.7v1.5m.4 .9v1.5m.6 43.7v1.5m.5-3.2v1.5m-.2 6.1v1.5m1.7-6.2v1.5m.4-1.8v1.5m1.6-10v1.5m.1-33.3v1.5m.7 27.1v1.5m-.1-30.9v1.5m1.1 21.2v1.5m-.3-21.3v1.5m.2 34.8v1.5m1.1-37.1v1.5m-.2 19.5v1.5m1-21.3v1.5m0 15.1v1.5m1.3-1.5v1.5m.9-1.3v1.5m.8-1.1v1.5m.4 .7v1.5m.6-20.9v1.5m-.1 15.8v1.5m1.1-1.8v1.5m.1-32.7v1.5m.8 31v1.5m0-23.8v1.5m.8 19.8v1.5m.1-19.3v1.5m1.6 20.9v1.5m-.1-24.1v1.5m1 18.2v1.5m-.3-20v1.5m1.2-4.8v1.5m-.4-3v1.5m1.2 23.2v1.5m.2-21.8v1.5m1 16.6v1.5m1-19.9v1.5m.5 17.2v1.5m.8-21.7v1.5m.6 16.7v1.5m.4 4.4v1.5m.8-6.8v1.5m.2-1.1v1.5m.3 1.5v1.5m-.1-25.1v1.5m1.1 2.1v1.5m.7 16.4v1.5m.5-20v1.5m1.1 15.5v1.5m-.1-.6v1.5m.8 .3v1.5m1-9.1v1.5m.4-22v1.5m.8-9.5v1.5m1.2 18.2v1.5m.6-6.8v1.5m.6-1.7v1.5m.8 2.4v1.5m.3 .3v1.5m.9-5.8v1.5m.7-19.8v1.5m.7 15.9v1.5m.4-19.2v1.5m1-1.6v1.5m.9 15.9v1.5m1.1-18.5v1.5m.1 17.7v1.5m1.1-1.9v1.5m-.3-21.6v1.5m1.1 23.4v1.5m1-7.5v1.5m.7-24.8v1.5m0 1.7v1.5m.9 18.2v1.5m1.1-20.9v1.5m.3 18.3v1.5m.5-.7v1.5m1.2-26.2v1.5m.3 0v1.5m.6-1.7v1.5m.2 22.6v1.5m.7-3.4v1.5m1.3-19.8v1.5m.1-5.9v1.5m.8 21.2v1.5m.8-1.3v1.5m1.1-18.5v1.5m1.2-3.6v1.5m1.1 21.1v1.5m1.4-4.4v1.5m.6-2.1v1.5m.9-20.4v1.5m.9 .3v1.5m-.1-2v1.5m.9-3.7v1.5m1.5 1.5v1.5m-.3-3.1v1.5m1.1 18.5v1.5m.3-20v1.5m1.1-3.1v1.5m-.4 18.2v1.5m1.1-19.7v1.5m.1-2.8v1.5m.9 19v1.5m-.2-21.2v1.5m1.3-1.8v1.5m.6-1.5v1.5m.5 16.4v1.5m.8-1v1.5m1.4-21.4v1.5m.8-4.5v1.5m1.1 20v1.5m-.2-.2v1.5m.9-2.7v1.5m1.3-21.2v1.5m.9-.1v1.5m0-1.3v1.5m.5-6.2v1.5m1.6 .3v1.5m-.2 20.5v1.5m1-.7v1.5m0-5.4v1.5m.7-18.5v1.5m.9-3.5v1.5m0 19.3v1.5m.9-21v1.5m.2-1.7v1.5m.9 17.9v1.5m.4-21.3v1.5m1 15.9v1.5m1.2 0v1.5m1-.4v1.5m0-2.2v1.5m.7-2.1v1.5m0-1.2v1.5m1.2-.4v1.5m-.1-23.2v1.5m1 17.6v1.5m.6 2.1v1.5m.6-24.3v1.5m.4-1.3v1.5m.5-2.9v1.5m.6-.1v1.5m1.1-1.3v1.5m.2-3.8v1.5m1 1.4v1.5m-.4 16.4v1.5m1.4-1.5v1.5m-.4-2.7v1.5m1-2v1.5m0-19.9v1.5m1.7 16.4v1.5m0-20.2v1.5m.7-1.4v1.5m.1 19.4v1.5m.9-3.8v1.5m-.1-20.6v1.5m.6 21.3v1.5m.7-24v1.5m.8 19.3v1.5m.1-2.1v1.5m.6-.3v1.5m.1-3.8v1.5m1.2-.7v1.5m-.1-20.6v1.5m1.1-4.6v1.5m.1 19.1v1.5m.5 2.5v1.5m0-23.7v1.5m1.7-2.8v1.5m-.4 19v1.5m1.1-19.7v1.5m.6 18.9v1.5m0 .3v1.5m1-1.2v1.5m.2-4v1.5m1 1.4v1.5m.3-27.3v1.5m1 22.8v1.5m.4-.2v1.5m.1-29v1.5m1.4-4.7v1.5m.2 .1v1.5m.8 23.5v1.5m-.1-25.8v1.5m.6 25v1.5m1.3 1v1.5m.3-33.1v1.5m1.1 33.1v1.5m-.6-7.7v1.5m1.1-1.7v1.5m.6-32.4v1.5m.8 32.2v1.5m.2-40.1v1.5m.6 36.1v1.5m1.1-35.2v1.5m-.3-.7v1.5m1.2-5.7v1.5m.1 2.8v1.5m1.1 26.8v1.5m.1-31.9v1.5m.3-1.6v1.5m.5-1.2v1.5m1.1-8.7v1.5m-.5 3.7v1.5m1.1 28.7v1.5m1.4-4.1v1.5m-.4-3v1.5m1.1 .9v1.5m.7-35.7v1.5m.5 27.9v1.5m.6-4.9v1.5m.1-28.1v1.5m1 24.6v1.5m0-25.7v1.5m1.5-2.6v1.5m.8-2.2v1.5m.2 23.7v1.5m.8-30.9v1.5m1.1 28.3v1.5m.4-27.7v1.5m1.2-2.2v1.5m-.1 23.1v1.5m1.2-2.5v1.5m1-28.4v1.5m.3-1v1.5m.7 23.7v1.5m1.4-34.4v1.5m-.2-.9v1.5m1-3.4v1.5m.8 2.8v1.5m1.2 24.4v1.5m.1-24.5v1.5m1 19.3v1.5m.1 1.6v1.5m.7-30.7v1.5m-.3 22.4v1.5m1.3-26.4v1.5m1.3 21.2v1.5m-.3-27.4v1.5m1.3 22.3v1.5m-.5-2.6v1.5m.8-5.2v1.5m.6-24.4v1.5m.6 20.7v1.5m.6 4.7v1.5m.5-9.2v1.5m.1-4.3v1.5m1.1-1.1v1.5m-.5-27.7v1.5m1.3 25.8v1.5m1.1-28.2v1.5m.7 23.1v1.5m.6-26.7v1.5m.7-1.8v1.5m.9 27.7v1.5m1.3-3.4v1.5m.1-33v1.5m.8-1.7v1.5m1.1 1.7v1.5m-.1-4.2v1.5m1.1-3.7v1.5m.4 3.7v1.5m1.4 27.1v1.5m-.3-31.4v1.5m1.5-1.7v1.5m.1-1.2v1.5m.9-3.8v1.5m-.2-1.4v1.5m.9-6.5v1.5m.7 28.6v1.5m.7-.1v1.5m.8 2.3v1.5m.8-32.6v1.5m1.1-6.8v1.5m1.1 27.8v1.5m.1 .2v1.5m1.1-35.9v1.5m0-1.8v1.5m1 .6v1.5m0 25.6v1.5m1-31.7v1.5m.1-7.6v1.5m1 32.5v1.5m-.3-3.2v1.5m1.2-32.4v1.5m-.3-6.1v1.5m.8 1.2v1.5m0 30.5v1.5m1 .3v1.5m-.1-36v1.5m1.2 26.7v1.5m1.5 1.6v1.5m-.5 2.2v1.5m1 2.1v1.5m0-41.3v1.5m1.2-4.6v1.5m-.3 34.4v1.5m1.3-37.7v1.5m-.3 3.6v1.5m1.4-2.8v1.5m.1 29.4v1.5m.4-1.8v1.5m1.4-.9v1.5m0-2.8v1.5m.5 3.7v1.5m.1-35.1v1.5m1.6-8v1.5m1.1 3.4v1.5m1 29.1v1.5m1-31.7v1.5m.7-.5v1.5m-.1-2.5v1.5m.8 30.8v1.5m.1 3.8v1.5m1.3-9.7v1.5m.1-30.5v1.5m1.1 26.7v1.5m.8-2.6v1.5m-.5-34.8v1.5m.9 19.3v1.5m1-9.5v1.5m.2-19.4v1.5m1.1-3.9v1.5m-.3 17.8v1.5m1.7-20.5v1.5m.3 16.8v1.5m.2 .6v1.5m1-2.4v1.5m.9-21.5v1.5m.5 18.8v1.5m.8-23.4v1.5m1.1 21.2v1.5m1.1-3.5v1.5m-.6-20.6v1.5m1.5 .3v1.5m-.2-5.8v1.5m1.1 1.5v1.5m1.2-.7v1.5m.6-4.7v1.5m.6 21.4v1.5m-.4-42.1v1.5m1 42.7v1.5m.7-6.8v1.5m1-24.1v1.5m1.7 22.6v1.5m.5-24.7v1.5m.3 19.6v1.5m.8-19.3v1.5m.9 16.9v1.5m1.1-1v1.5m.1-21.1v1.5m1.2 .1v1.5m.6 17.1v1.5m1-22.1v1.5m-.2 .9v1.5m1.2 16.2v1.5m.3-2v1.5m.6-21.3v1.5m-.1 20.5v1.5m1.1-2.8v1.5m1.4-1.5v1.5m-.2-25.6v1.5m1 8.2v1.5m.8 49.2v1.5m.5-5.7v1.5m.4 2.1v1.5m1.1 1.1v1.5m.2-41.5v1.5m.8 37.5v1.5m1.2 4v1.5m.3-1.7v1.5m1-34.7v1.5m-.3-4.4v1.5m1.1 33.9v1.5m1-34.4v1.5m.3 31.7v1.5m.2-30.1v1.5m.6-5.3v1.5m.8 37.8v1.5m-.2-41.4v1.5m1.3 1.8v1.5m.7 36.7v1.5m0-42.1v1.5m1.3 38.3v1.5m.5-41v1.5m.4 2.9v1.5m1.3 36.7v1.5m-.6-6.8v1.5m1.1-2.3v1.5m0 .5v1.5m.9 2.4v1.5m1.7-39.7v1.5m-.2 35.4v1.5m.8-9.1v1.5m1.2-50.9v1.5m0-3.9v1.5m1 21.7v1.5m-.3-1.9v1.5m1.1-1.7v1.5m-.2-41.2v1.5m1.4 1.5v1.5m.7-3.2v1.5m.1 34.6v1.5m1.1 .5v1.5m1.3 3v1.5m-.2-6.1v1.5m.7 7.1v1.5m1.1 0v1.5m.2-4.2v1.5m1-4.6v1.5m.5 1v1.5m1.4-41.2v1.5m.2 46.4v1.5m1-9.6v1.5m-.3 3.4v1.5m.6-34.5v1.5m.1-1.3v1.5m1.2-2.9v1.5m-.2 .8v1.5m1.5 34.6v1.5m-.4-34.5v1.5m.9 1.7v1.5m.7 27v1.5m.5 1.3v1.5m.8-2.8v1.5m0-30.4v1.5m1.5 .3v1.5m-.6-1.9v1.5m1 24.9v1.5m1.5-5.5v1.5m.7-1.4v1.5m1.4 .2v1.5m.7-27.6v1.5m.3 26.4v1.5m1.2-11.5v1.5m.3-10v1.5m1-8.8v1.5m.2 .7v1.5m1.1-38.7v1.5m1.1 24.8v1.5m0-3.4v1.5m1.3 .3v1.5m-.3-32.6v1.5m1.2-6.3v1.5m-.4 28.5v1.5m.9-2.3v1.5m.2-34.7v1.5m.6 29.3v1.5m.4-30.6v1.5m.9 25.5v1.5m1.1-33.7v1.5m.2 27.5v1.5m-.2 21.2v1.5m.8-25.9v1.5m0-31.1v1.5m.9 26.9v1.5m.2-34v1.5m1.4 27.9v1.5" stroke="#E9242A" stroke-width="1.6" fill="none"/>
<path d="M108.8 1012.4v44.7m1-45.7v51.2m1-51.5v46.6m1-51.3v49.2m1-50.2v47.1m1-50.4v47.9m1-52.1v48.4m1-46.4v45.9m1-41.9v41.7m1-38.2v40.3m1-41.4v47.3m1-49.9v51.8m1-46.6v48.2m1-40.2v34.6m1-36.7v35.8m1-38.6v43.3m1-34v44.1m1-33.8v39.8m1-50.6v38.9m1-59v40.4m1-52.4v42.6m1-52.2v37.7m1-46.8v32m1-41.8v35.5m1-26.2v27.3m1-24.5v23.6m1-42.7v30.8m1-60.4v38.1m1-60.5v37.7m1-51.4v44.4m1-42.3v41.7m1-48.5v48.2m1-44.5v42.5m1-40.8v49.6m1-50.8v43.6m1-41.8v44.8m1-50v47.7m1-38v46.6m1-45.7v46.8m1-44.5v41.9m1-46.5v56.7m1-55.9v50.9m1-45.8v47.5m1-58.8v47.2m1-40.9v48.4m1-53.9v50.7m1-51.2v54m1-46.9v47.1m1-42.9v49.6m1-46.1v42.6m1-38.4v42.7m1-33.8v33m1-33.2v37.1m1-29.7v30.2m1-22.9v21.7m1-20.4v26.9m1-22.5v22.3m1-18.3v21.1m1-21.1v24m1-24.9v27m1-22.2v27.3m1-21.6v26m1-17.4v24.1m1-14.4v25.2m1-21.5v29.2m1-30.1v26.7m1-24.6v24.3m1-22.1v21.5m1-23.2v23.9m1-24.3v22.4m1-11.6v24m1-9.1v27.1m1-17.5v27.7m1-18.1v24.6m1-24.8v28.7m1-21.2v21.5m1-24.7v19.7m1-26.2v22m1-26.8v22.9m1-26.7v25.4m1-32.1v23.7m1-27.8v24.6m1-26.5v26m1-29.8v27.9m1-29v23.6m1-22.9v21.6m1-23.8v21.2m1-20.8v22.3m1-28.2v25.5m1-33.4v23m1-35.1v23.1m1-35.9v27m1-35.8v30m1-30.9v31.6m1-26.8v23.5m1-25.2v25.9m1-22.7v24.6m1-24.5v27.2m1-28.6v26.3m1-25.9v26.2m1-41.7v30m1-42.2v33.7m1-43.9v31.1m1-44.6v32.8m1-39.3v31.3m1-54.1v47.1m1-39.6v35.7m1-45.7v35.9m1-46.5v38.8m1-40.1v37.9m1-39.9v40.7m1-38.5v35.2m1-34.2v34.7m1-36.6v41.4m1-36.7v33.8m1-35.1v33.6m1-35.5v34.3m1-32v32.7m1-33v33.2m1-30.4v29.1m1-29.2v34.2m1-36.9v31.6m1-35.7v39.7m1-34.4v35.5m1-32v34.3m1-38.2v40.6m1-37.7v38.1m1-38.6v37.1m1-35.4v34.9m1-36.3v38.6m1-33.6v32.3m1-29.2v31.5m1-30.2v32.2m1-31.4v32.1m1-27.8v34m1-35v32.9m1-31.3v29.7m1-33.6v42.3m1-38.1v37.5m1-35.2v37.6m1-25.5v28.3m1-24v32m1-30.8v33m1-27v30.9m1-28.6v33.3m1-35.6v33.1m1-29.1v34.4m1-49.2v53.1m1-30.4v30.5m1-25.4v31.4m1-30v30.4m1-25.2v31m1-34.8v32.4m1-28.2v31.9m1-30.1v30.3m1-27.3v33m1-31v32.6m1-31.2v28.4m1-24.5v32.5m1-24.5v29.2m1-28.7v30m1-27.9v28.6m1-24.4v31.4m1-25.9v24.6m1-24.4v24.7m1-21.3v26.1m1-21.8v26.7m1-22.3v28.3m1-29.6v29m1-25.5v32m1-25.1v23.3m1-23.5v31.4m1-23.7v26.1m1-23.4v29.8m1-19.2v28.5m1-19.3v27.2m1-22.1v30.2m1-15.5v30.6m1-19.7v28.7m1-19v32.6m1-26.5v35.7m1-22.1v31.3m1-35.1v30.7m1-39.3v40.6m1-33.8v29.2m1-47.1v34.7m1-48.8v35.3m1-57.3v38.5m1-52.7v40.4m1-69.3v51.2m1-58.4v34.6m1-55.4v43.8m1-58.5v34m1-55.3v44.4m1-47.5v41.4m1-39.2v38.7m1-37.7v40.6m1-39.9v51.2m1-53.1v40.6m1-39.4v37.9m1-38v39.3m1-36.5v37.5m1-43.8v42.7m1-35.9v35.2m1-38.9v43.2m1-38.3v42m1-41.2v41.8m1-44.5v42m1-35.8v37.2m1-39.2v37.8m1-45.2v46.4m1-41.6v41.5m1-44.3v43.1m1-43.8v45.5m1-53.9v54.3m1-51.6v49.7m1-53.1v44.4m1-44.7v45.4m1-49.9v49m1-57.5v49.5m1-48.1v50.3m1-45.2v43.3m1-44.7v47.3m1-48.3v42.4m1-51.8v45.5m1-44.9v65m1-72.2v53.3m1-52.8v50.7m1-43.3v45.8m1-52.1v48.5m1-50.5v52m1-48.2v49.7m1-46.3v43.1m1-45.5v43.4m1-47.5v44.9m1-50.1v51m1-43.8v46m1-44.9v44.2m1-43.9v39.8m1-35.3v39.3m1-40.8v46.4m1-42.9v46.4m1-35.7v35.5m1-32.1v39.2m1-43.1v38.5m1-33.3v35.3m1-38.9v36.6m1-35v41m1-45.2v42.1m1-34.2v40.6m1-36.8v35.2m1-34.5v40.9m1-41.3v41.6m1-34.7v33m1-38.4v38.6m1-33.4v32.5m1-36.5v38.3m1-31.3v29.9m1-31.4v37.4m1-30v31.1m1-33v41.2m1-41.4v38.9m1-38.5v37.4m1-31.4v35.2m1-43.5v37m1-36.1v34.7m1-35.9v34.1m1-28.7v31m1-35.8v35.3m1-30.4v37m1-40v35.2m1-38.9v36.8m1-37.7v33.4m1-35.8v39.8m1-36.3v31.9m1-33v32m1-35.9v38.4m1-38.6v37.5m1-37.6v34.7m1-36.3v35.6m1-36.9v35.3m1-34.6v37.7m1-37.7v36.6m1-34.2v35m1-33.6v30.4m1-29.4v32.4m1-33.7v33.5m1-25.1v28.3m1-29.1v32.4m1-29.7v31.3m1-28.6v30.4m1-24v26.7m1-26.5v28.9m1-26.8v28m1-24.4v25m1-26.2v22.5m1-43v43.1m1-24.1v27.6m1-38v37.3m1-29.3v28.7m1-26.7v27.7m1-25.9v26.7m1-31v27.5m1-27.4v27.7m1-28v26.2m1-25.8v29.1m1-30.6v31.5m1-29.9v29.4m1-29.5v30.9m1-27.7v24.2m1-25.8v30m1-27.6v26.5m1-21.6v26.7m1-24.1v25.4m1-28.7v30.5m1-29.2v30.6m1-30.2v30.8m1-26.6v24.1m1-23.1v26.8m1-24.4v26.5m1-28.1v29.5m1-30.9v29.8m1-41v38.3m1-22.3v27.3m1-17.1v25.1m1-19.2v25.2m1-17.8v24.3m1-18.6v25.8m1-22.1v25.7m1-23.4v29m1-21.7v32.1m1-24.5v25.8m1-28.8v32.8m1-24.6v26.9m1-24.2v30.6m1-30.6v33.4m1-29.6v36.9m1-28.7v32.1m1-28.4v29.5m1-27.4v29.9m1-32.8v49.1m1-52.5v34.9m1-28.4v32.9m1-37.5v38.8m1-38.5v30.8m1-33.9v37.9m1-38.4v37m1-36.9v33.5m1-37.3v34.3m1-31.2v31.2m1-36v34.3m1-38.6v37.4m1-35.4v26.9m1-33.7v33.4m1-32.4v27.6m1-31.8v30.9m1-33.5v33.2m1-32v31.4m1-35.9v29.2m1-35.1v35.4m1-38.4v32.4m1-38.2v31.6m1-40.5v32.1m1-41.3v35.8m1-43v33.3m1-37.1v26.4m1-33.8v26.8m1-35.2v29.6m1-29.7v22.6m1-26v26.6m1-33.3v28.5m1-30.2v26.8m1-30.1v22.7m1-29.8v27.6m1-27.3v27.2m1-30.5v27m1-28.6v28.5m1-24.4v23.5m1-27.1v27.8m1-21.8v22.3m1-24.5v26.3m1-24.3v27.3m1-30.1v24.9m1-27.3v29.5m1-30.6v31.8m1-39.1v35.5m1-28.5v29m1-23.7v23.9m1-21.9v26.7m1-18.6v25.5m1-24v24.7m1-13.6v22.2m1-18.9v22.5m1-25v28.2m1-23.5v20.5m1-21v21.8m1-23.6v23.8m1-24.4v25.2m1-26.5v26.4m1-27.4v23.3m1-21.3v23.7m1-22.5v25.3m1-25.2v23.6m1-20.8v22.2m1-25.9v25.8m1-25.9v25.1m1-24.1v22.5m1-21.7v18m1-20.9v22.8m1-20.1v20.8m1-20.4v20.1m1-18.6v17m1-26.8v28.8m1-20v18.6m1-21.4v21.8m1-22.5v21.4m1-25.4v24.6m1-25.9v26.9m1-27.1v25m1-26.8v23.2m1-34.4v25m1-37.7v29.2m1-43.5v36m1-44.5v32.9m1-47.4v41.7m1-54.4v39.6m1-45.9v40.4m1-55.2v37.7m1-41.6v46.2m1-40.8v37.2m1-38.4v35.7m1-38.1v40.1m1-42.4v35.3m1-35.3v39.4m1-39.4v29.9m1-29.9v35.3m1-30.9v35.8m1-29.5v38.2m1-45.5v60.1m1-30.7v46.3m1-23.5v33m1-18.3v37m1-36.9v50m1-51.4v43.4m1-36.9v31.7m1-37.7v37.9m1-30.8v34.7m1-54.2v54.1m1-35.9v36.5m1-34.4v33.8m1-34.4v35.1m1-40v38.6m1-41.1v40.4m1-39.2v39.6m1-40.1v40.7m1-40.4v38.7m1-32.8v35m1-38.2v35.3m1-34v37.1m1-38.7v37.1m1-36v34.5m1-40.1v41.6m1-47.5v44.5m1-39.5v32.7m1-35.5v32.2m1-38.5v54.9m1-55.2v42.8m1-38.9v42.5m1-40.1v40.3m1-39.5v34.2m1-34.9v39.7m1-48.5v43.7m1-48.9v42.3m1-46.9v39.4m1-37.8v37m1-45v56.9m1-61.4v43.3m1-39.1v40.8m1-42.1v43m1-39.7v41.1m1-38.9v33.9m1-34.3v35.2m1-32.2v37.5m1-40.9v35.9m1-35.9v37m1-40.5v38.8m1-36.2v32.6m1-41.5v46.8m1-43.1v36.3m1-32.8v37.2m1-41v44.7m1-38.9v38m1-34.9v38.5m1-43.6v45.1m1-47v43.9m1-40.1v39.3m1-53.2v51.3m1-35.9v39.6m1-36.3v38.8m1-45.3v47m1-44.2v41.2m1-41.5v35.6m1-44.4v38.7m1-42.6v38.2m1-39.9v41.7m1-45.6v43.9m1-29.2v35.2m1-25.4v44.2m1-26.3v48.8m1-38.6v40.5m1-34v43.2m1-41.2v49.5m1-37.5v44m1-33.3v37.5m1-37.7v38m1-37.7v34.5m1-28v35.5m1-38.3v40.9m1-35v31m1-33.2v30.7m1-34.1v32.7m1-33v32.5m1-37.6v39.7m1-39v32.7m1-31v34.1m1-34.6v31.8m1-35.7v34.4m1-35.9v34.8m1-29.5v37.3m1-39.7v37.9m1-34.1v33.4m1-31.5v33.3m1-40.3v32.5m1-35.4v34m1-34.9v36.3m1-43v40.9m1-40.4v33.8m1-32v31.7m1-28.2v31m1-33.2v35.3m1-38.3v37.4m1-31.8v36.5m1-41.4v42.2m1-37.5v34.5m1-34.4v38.2m1-37.2v39.9m1-37.9v35.9m1-32.1v31.1m1-34.1v35.6m1-37.7v33.8m1-31.4v36.1m1-38.6v32.5m1-37.5v38m1-37.2v30.2m1-33.6v31.2m1-34.9v28.8m1-36.5v29.8m1-34.3v28.6m1-30.6v25.9m1-27.9v29.8m1-40.6v39.4m1-25.4v24.2m1-26v30.6m1-26.6v30.5m1-27.3v27.8m1-26.3v23.7m1-27.5v26.4m1-26.4v30m1-30.7v26.5m1-25v25.4m1-25v24.1m1-29.9v28.2m1-23.7v22.9m1-24.9v29.8m1-28.4v31.6m1-30.6v30.1m1-26.6v29.7m1-30.3v29.9m1-29.8v27.4m1-30.6v29.7m1-27.2v29.1m1-31.1v29.3m1-34.7v28.8m1-27.2v28.1m1-35.9v30.2m1-29.3v30m1-33.5v29.1m1-31.5v31.3m1-28.4v28.5m1-34.3v48.2m1-48.8v27.7m1-30.1v31m1-33.6v27.5m1-34.3v31.4m1-34.3v32.3m1-30.8v32.9m1-32.3v27.6m1-28.1v30.7m1-23v26.6m1-26.4v36.8m1-33v36m1-35.4v34.6m1-19v29.1m1-17.3v29.2m1-29.7v30m1-24.2v29.6m1-28v48.5m1-45.1v27.3m1-24.3v26.2m1-23.3v29.8m1-29.4v26.9m1-27.4v25.8m1-23.3v27.8m1-25.7v26.8m1-27.7v23.4m1-20.8v21.2m1-22.2v23.3m1-25.2v26.1m1-26v28.3m1-28.3v25.3m1-22.7v22.9m1-20.9v21.4m1-22v24.8m1-24.7v25.8m1-28.5v27.8m1-29.1v27.1m1-34.5v28.1m1-37.2v29m1-48.8v48.4m1-43.3v43.4m1-40.1v42m1-42.8v40.9m1-32.6v38.9m1-37.5v43.3m1-38.8v36.5m1-55.2v58.4m1-45.6v40.9m1-41.9v47.7m1-41.5v40.1m1-43.2v40.5m1-36v40.2m1-43.4v42.4m1-42.4v38.7m1-37.3v37.6m1-40.9v45.7m1-38.9v35.2m1-38.7v49.3m1-49.4v46.8m1-39.7v36.5m1-37.8v37.7m1-46.4v38.8m1-46.4v41.3m1-52v45.7m1-53.3v38.7m1-47.8v43m1-58.6v45.6m1-47.5v44.8m1-45.5v37.6m1-37.7v37.5m1-44.8v45.5m1-45.9v48m1-45.9v45.1m1-44.7v36.8m1-43.6v42.7m1-35.4v39.2m1-37.5v44.2m1-39.9v45.5m1-46.7v49.6m1-40.3v40.1m1-45.4v45.6m1-41.7v41.3m1-35.3v46.1m1-43.8v58.9m1-39.5v47.2m1-32.4v35.4m1-35.1v44.5m1-45.4v42.6m1-41.6v41.8m1-37.5v42.1m1-58.5v53.8m1-40.1v39.2m1-41v47.8m1-44.6v43.3m1-48.3v49.3m1-52v49.7m1-45.2v41.5m1-41.3v37.8m1-41.9v39.5m1-40.7v46m1-50.8v40.8m1-42.4v41m1-46.1v47.3m1-50.2v42.7m1-41.6v46.1m1-45.3v48.9m1-41.2v56.3m1-59v48.7m1-48.2v42.4m1-50.3v42.5m1-54.2v38.2m1-50.6v48.5m1-56.8v50.4m1-45.2v41.1m1-46.6v46.3m1-50v52.8m1-55.2v43m1-43.9v42.3m1-43.6v40.7m1-45.9v44.9m1-38.5v42.6m1-36.4v36.1m1-38.6v49.4m1-38.4v39.2m1-35.9v34.5m1-39.5v45.6m1-38.9v38.6m1-37.7v35m1-41v38.2m1-41.3v46.5m1-45.8v39.3m1-38.8v41.5m1-42.4v39.8m1-36.9v37.2m1-36.8v33.1m1-37v40.2m1-38.6v33.7m1-41.7v45.7m1-55.7v54.8m1-40.3v39.8m1-39.6v40.4m1-37v42.2m1-42.6v40.2m1-44.7v41.1m1-39.2v37m1-40.5v36.8m1-38.9v37.6m1-35.1v40.6m1-36.5v38m1-35.3v37.9m1-33.3v33.9m1-34.4v40.5m1-38.8v34.3m1-34v39.1m1-25.7v52.9m1-52.2v47.4m1-35.1v36.5m1-38.1v49.8m1-43.2v55.7m1-56.9v37.6m1-39.2v40.3m1-36.6v36.4m1-45v49.8m1-47.1v44.6m1-44.3v41.1m1-35.4v37.3m1-38.1v36.2m1-41.8v48.6m1-48.8v51m1-50v47.6m1-40.8v38.7m1-49.6v44.1m1-41v47m1-46v48.8m1-45.8v41.8m1-36.8v34.6m1-41.7v43.5m1-45.9v41.6m1-38.4v36.9m1-42.5v35.7m1-42.9v40.4m1-39.2v38m1-35.7v40.6m1-43.9v45.9m1-40.2v63.8m1-65.5v40.8m1-39.4v48.2m1-41.2v42.9m1-41.8v42.6m1-30.6v39.2m1-34.5v35.9m1-36.3v40.4m1-33.8v32.5m1-29.4v28m1-28.6v32.5m1-30.4v34.5m1-28.4v27.3m1-27.4v31m1-32.8v28.7m1-28.6v29.1m1-27v24.1m1-26.8v26.4m1-26.3v25.2m1-33.1v27.3m1-36.9v31m1-41.9v37.4m1-48.4v40.2m1-51v45.9m1-44.2v41.6m1-44.5v45.9m1-43v45.2m1-34.6v35.2m1-37.9v38.7m1-32.3v36.2m1-37.8v47m1-44.5v37.9m1-40.2v42.1m1-43.8v46.2m1-44v35.6m1-32v33.3m1-38.3v43.4m1-47.1v44.1m1-36.5v36.3m1-37.9v36.2m1-35.6v40.1m1-41v41.6m1-36.5v37.2m1-38.8v41.5m1-42.2v38.5m1-40.9v36.5m1-34.7v39.2m1-41.8v39.6m1-43.5v39.8m1-39.3v32.7m1-41v45.2m1-46.2v42.5m1-39v40.9m1-39.9v36.6m1-36.9v38.9m1-38.6v42.1m1-32.9v44.5m1-35.7v43.7m1-37.6v49m1-34.7v43.3m1-42.7v54.1m1-44.2v37.9m1-42.4v49.2m1-42.4v47.3m1-37.5v43.1m1-41.5v42.7m1-39.1v44m1-39.9v41.1m1-37.5v45.1m1-41.9v42.6m1-44.9v43.5m1-44.6v33.7m1-42.8v42.1m1-44.1v42.2m1-43.7v49.9m1-51.6v46.3m1-58.7v52.4m1-62.4v50.2m1-54.7v41.1m1-53.8v44.1m1-47.8v34.3m1-36.3v32.7m1-34.1v34.8m1-37v38.8m1-39.6v38.2m1-42.2v38.8m1-37.8v37.9m1-35.2v33.4m1-39.9v40.1m1-35v38.5m1-43.2v41.5m1-43.6v42.1m1-41.6v36.1m1-42.6v44.4m1-50.6v46.2m1-50.2v37m1-46.1v49.3m1-60.8v48.3m1-52v56.4m1-62.6v62.5m1-64.9v55.8m1-57.7v61.4m1-59.1v48.9m1-60.5v50.1m1-55v51.6m1-47.8v40.4m1-42v53.2m1-51.4v56.9m1-41v48.8m1-51.1v58.3m1-25.9v54.5m1-18.1v49.8m1-11.3v51.1m1-43.7v46.6m1-73.9v77.4m1-55.4v49.4m1-49.7v43.8m1-51.5v58.2m1-50v51.8m1-58.3v64.8m1-58.8v57m1-52.6v47.2m1-48v46.1m1-48.8v46.2m1-43.7v46.1m1-44.7v47.8m1-47v46.5m1-50.8v52.6m1-51.3v51m1-51.5v48.6m1-54v55m1-57.6v50.7m1-45.3v48.2m1-51.3v46.9m1-48.7v48m1-69.5v51.8m1-76v59.9m1-71.3v58.4m1-57.3v57.3m1-34.5v44.9m1-25.1v35.7m1-27.1v32.5m1-36v30.8m1-25.7v30.7m1-35.4v37.3m1-43.3v42.5m1-33.9v35.3m1-32.5v32.6m1-33.1v31.6m1-30.2v28.1m1-31.2v30.9m1-27.5v46m1-48.8v30.1m1-31.7v30.7m1-27.3v27.8m1-29.9v26.6m1-30.4v38.2m1-37.2v24m1-27.3v27.1m1-27.1v27.2m1-28.5v30.6m1-28v27.2m1-26.4v29.5m1-30.7v26.8m1-27.3v26.9m1-28.6v29.9m1-30.8v28.2m1-26v24.8m1-24v27.9m1-23.3v27.2m1-25.9v26.7m1-24.5v22.9m1-23.9v40.5m1-39.3v29m1-29.6v31.1m1-32.7v27.9m1-26.6v28.4m1-30.1v26.8m1-28.6v28.5m1-32.2v29.3m1-37.5v33.9m1-40v37.3m1-40.5v39.1m1-41.4v39.2m1-39.2v54.9m1-56.6v38.9m1-46.7v36.8m1-41.6v45.4m1-48.2v40.3m1-39.8v36.6m1-36.9v35m1-36.5v32m1-35v33.4m1-37v39.7m1-38.3v40.3m1-45v43.7m1-43.9v39m1-43.4v45.7m1-41.1v39.9m1-38.1v39.2m1-28.1v35.4m1-32.4v36.8m1-32.4v35.9m1-30.7v31.4m1-35.6v34.7m1-31.9v32.6m1-33.9v35.6m1-30.5v29.5m1-33.8v35.5m1-31.8v29.6m1-29.1v31.6m1-34.2v33.3m1-31.9v32.4m1-28.8v30.4m1-32.1v33.7m1-31.4v27.6m1-29.6v33.3m1-31.1v29.1m1-29.3v30.9m1-30.9v31.6m1-28.7v28.1m1-30.4v27.5m1-31.4v33.9m1-32.5v31m1-32.6v33.4m1-29.6v28.2m1-25.6v28.1m1-28.3v29.2m1-35.3v36.9m1-31.8v28.5m1-25.4v28m1-30.5v27m1-27.7v28.7m1-26.9v27.4m1-26.1v30.1m1-27.3v30.2m1-26.3v28.1m1-31.4v29.2m1-23.7v24.2m1-28.5v27.2m1-27.1v27.1m1-28.5v27.2m1 14.5v24.9m1 20.9v23.5m1-13v19.8m1-18.5v20.3m1-18.5v21m1-24.3v26.2m1-24v25.4m1-24.6v24.6m1-21.9v23.1m1-22.5v23.7m1-23.3v26.9m1-22.9v22.4m1-18.1v23.8m1-15.1v24.6m1-18.3v20.5m1-14.3v24.7m1-33.4v26.6m1-34.9v19.9m1-32.5v22.4m1-30.5v21.2m1-29v28.3m1-29v23.3m1-24.5v25m1-28v34.6m1-36.9v28.5m1-28.6v26.4m1-27.4v21.8m1-26v26.9m1-27.7v25.6m1-30.1v24.5m1-24.3v26.3m1-26.4v23.9m1-23.5v22.3m1-24.3v24.5m1-23.2v22.7m1-21.2v23.3m1-25.2v24.6m1-28v26m1-22.5v20.5m1-21.7v20.5m1-29.3v23.2m1-33.4v27.6m1-31.8v23m1-28.5v29.8m1-28.8v30.2m1-27.1v26.2m1-27.3v28.1m1-38.3v40.8m1-29.1v28.1m1-22.9v26.7m1-23.9v27.8m1-26.5v32.3m1-22.2v27m1-28.4v33.4m1-28.9v26.6m1-24.7v25.8m1-23.7v30.5m1-32.1v32.1m1-29.8v29.3m1-35v35m1-33.9v35m1-40.4v26.7m1-45.4v31.9m1-40.3v27.4m1-30.8v24.6m1-27.3v29.6m1-30v26.6m1-23.1v27.5m1-31.8v28.8m1-26.1v27.7m1-31.7v30m1-30.6v26.5m1-25.1v27.9m1-26v23m1-26.9v26.2m1-23.8v25.2m1-25.1v27.8m1-28.2v25.7m1-28.1v26m1-24.6v26.4m1-30.3v29.8m1-28.5v27.6m1-36.9v30m1-37.8v32.5m1-39.7v31.2m1-32.3v28m1-39.6v37m1-36v35.7m1-41.8v38.4m1-28.2v33.5m1-31.5v30.6m1-36.4v35m1-34.7v31.3m1-31.2v34.8m1-36.3v32.9m1-30.1v30.1m1-30.8v36.5m1-32.1v33.8m1-51.6v47.2m1-28.7v34.2m1-36.2v30.3m1-30.1v33.4m1-37.4v30.4m1-30.9v36m1-36.2v34.7m1-33v31.1m1-26.7v29.8m1-34.6v36.3m1-35.8v42.4m1-41.5v30.6m1-36.6v37.8m1-37.8v34m1-34.4v34.7m1-29.3v28.8m1-24.9v37.9m1-38.5v47m1-39.5v49.3m1-48.4v54.7m1-44.7v45m1-43.1v47.5m1-42.7v58.1m1-62.3v55.9m1-68.2v50.2m1-65.2v52.7m1-82.1v75.9m1-94.9v61.7m1-79.6v58.3m1-69.8v54.5m1-65.3v51.8m1-51.8v50.5m1-43.3v44.1m1-43.8v43.3m1-44.7v50.2m1-44v38.6m1-50.9v61.3m1-47.8v61.6m1-46v44.4m1-41.3v42.4m1-33.1v41.7m1-37.8v43.9m1-43.1v40.2m1-36.8v42.3m1-33.4v35.2m1-50.1v49.1m1-31.4v40.2m1-34v35.1m1-34.5v34.9m1-36.7v37.1m1-33.2v35.1m1-38v34.1m1-38.8v42.7m1-40.9v39.1m1-40.2v36.7m1-44.9v39m1-36v37.4m1-35.3v36.9m1-43.5v46.1m1-42.2v38.2m1-40.3v41.8m1-42.4v42m1-43.1v57.5m1-57.4v35m1-39.4v37.2m1-36.7v37m1-40.2v40.3m1-46.2v40.1m1-35.7v31.9m1-39.3v39.5m1-45.9v46.8m1-41v44.9m1-38.3v33.5m1-37.1v40.2m1-39.5v36.7m1-34.1v31.7m1-36.1v37.3m1-29.3v34.3m1-38.6v44.8m1-36.9v35.6m1-36.5v39.6m1-44.9v37.5m1-35.2v40.8m1-42.5v37.7m1-37.6v34.5m1-39.1v37.3m1-39v37.2m1-42v40m1-39.3v43.3m1-42.5v38m1-42v36.2m1-36.4v37m1-37.1v35.4m1-44.8v41.2m1-41.1v39.4m1-38.1v39.7m1-40.9v33.7m1-39.9v45m1-39.3v37.2m1-41.6v34.6m1-35.5v37.3m1-43.7v44.2m1-45.6v43.8m1-44.3v42.1m1-40.2v37.1m1-39.6v37.7m1-37.2v36.3m1-42.4v37.4m1-30.9v39m1-44.9v44.7m1-40.7v43.9m1-43.6v44.3m1-40.6v40.3m1-38.1v35.9m1-30.6v45.3m1-38.2v37.8m1-34.9v41.5m1-26.5v39.5m1-34.5v41.2m1-34.9v31.4m1-31.4v41.8m1-35.2v35.4m1-33.2v40.1m1-32.7v39.8m1-44.9v37m1-38v42.2m1-38.9v39.8m1-44.4v40.5m1-41.8v41.3m1-40.3v42.6m1-36v39.3m1-42.9v37.4m1-40.9v34.1m1-46.8v37.8m1-45.5v39.8m1-41.4v32.2m1-33.6v38.9m1-42.4v45.1m1-38.5v39m1-34.6v40.4m1-35v44.8m1-47v46.2m1-53v48.8m1-51.4v40.9m1-54.4v43.6m1-50.5v46.7m1-55.6v46.8m1-52.4v42.7m1-40.5v42.3m1-49.7v50.9m1-46.3v43.3m1-40.1v42.2m1-43v44.9m1-44.2v47.1m1-45.2v43.3m1-47.6v53m1-47.5v41.3" stroke="#41BDEC" stroke-width="1.35" fill="none"/><path d="M108.9 1002.6v1.5m-.1 57.2v1.5m1.2 3.8v1.5m.9-2.2v1.5m-.4-58.2v1.5m1.6 48.2v1.5m-.2-3.7v1.5m1-60.2v1.5m0 59.8v1.5m1-58.1v1.5m-.2-7.7v1.5m1 4.4v1.5m-.1 51.3v1.5m1 6.5v1.5m1.1-12.1v1.5m1.3 4.6v1.5m.7-5.3v1.5m.9 4.3v1.5m1-62.6v1.5m.4 8.9v1.5m1.1 47.6v1.5m.4-3.6v1.5m.3-1.4v1.5m1.4-48v1.5m-.3 45.9v1.5m.9-39.4v1.5m.2 39.9v1.5m.6-36.3v1.5m1-10.1v1.5m.8 28.9v1.5m.4-47.6v1.5m1 22.6v1.5m0-40.3v1.5m1.2-10.4v1.5m1.1 25.8v1.5m-.5-40.1v1.5m1.6-1v1.5m-.4-4.6v1.5m1 31.4v1.5m.9-1.1v1.5m1.3-12.1v1.5m-.3 .1v1.5m1.4-26.2v1.5m.3-69.7v1.5m.7 49.9v1.5m.5-6.6v1.5m.1-57.1v1.5m1.3 45.7v1.5m-.5-2.7v1.5m1.2-65v1.5m1.5 8v1.5m-.6 57.3v1.5m1.3-.3v1.5m-.1-58v1.5m.8 1.1v1.5m1.2 49v1.5m.9-50v1.5m1.1 49.3v1.5m.3-49.7v1.5m1-3v1.5m-.1-10.4v1.5m.8 67.6v1.5m.2-54.9v1.5m1.1-1.4v1.5m-.1-1v1.5m.6-1.5v1.5m1.4 54.4v1.5m-.2-12.1v1.5m1-51.6v1.5m.2 50.3v1.5m.5-62.6v1.5m1 2.9v1.5m.4 60.4v1.5m1.2-5.4v1.5m.4-52.9v1.5m.5 52.2v1.5m1.2-48v1.5m.2 2.1v1.5m1.7-5.1v1.5m-.4 4.7v1.5m1.3 45.9v1.5m-.2-42.9v1.5m1.1 3.9v1.5m1 36.9v1.5m.1-6.7v1.5m.6-24.6v1.5m1.3 1.3v1.5m.8-.3v1.5m.1-2.9v1.5m1 28.6v1.5m-.1-26.2v1.5m1.5-.3v1.5m.8 25.7v1.5m.1-26.4v1.5m.8 .2v1.5m.1 26.1v1.5m1.2 5.2v1.5m.6-19.1v1.5m-.3 23.5v1.5m.9-16.5v1.5m.4-1.5v1.5m.8 24.7v1.5m.4-25.5v1.5m.9 24v1.5m.1-28.9v1.5m.9 30.1v1.5m.7-31.6v1.5m1 25.2v1.5m.8-30.4v1.5m1 42.4v1.5m.7-28.1v1.5m.9 6.3v1.5m-.3-.9v1.5m1.2 44.4v1.5m.6 3.5v1.5m.2-1.1v1.5m.7-30.9v1.5m1.7-.6v1.5m.7 1.4v1.5m.2 23.3v1.5m.5-7.7v1.5m.6-27.9v1.5m.7 21.3v1.5m.7-31.6v1.5m-.1-2.1v1.5m1.8-3.1v1.5m-.4-3v1.5m1 20.7v1.5m-.3 1.4v1.5m1.5-9v1.5m-.5-26.8v1.5m1.4-10v1.5m-.4 31.1v1.5m1.3 2.1v1.5m1.4-7.8v1.5m-.3-29.8v1.5m.9-6v1.5m.2 28.9v1.5m.6-27.9v1.5m.2-3v1.5m1.4 27.4v1.5m.7-16.8v1.5m0 .5v1.5m1.3-11.1v1.5m.9-13v1.5m-.5-28.8v1.5m1.1 17.3v1.5m.3-34.2v1.5m.6 31.9v1.5m.5-3v1.5m1.1-28.3v1.5m-.5-1.5v1.5m.7-5v1.5m1.3 30.2v1.5m.8-33.1v1.5m.7 30.2v1.5m1-30v1.5m-.2 26.6v1.5m.8-30.3v1.5m.2-3.4v1.5m1.2 19.2v1.5m.9-43.3v1.5m.6-14.9v1.5m1.2-17.1v1.5m1.1-7.9v1.5m-.3-5.2v1.5m1.2-3.1v1.5m-.1 33.5v1.5m1.4-50.6v1.5m-.2 46.3v1.5m.8-62.6v1.5m.2 4v1.5m1.1 33v1.5m0-39.7v1.5m.4 33.2v1.5m-.1-35.9v1.5m1.1-6v1.5m.9-.2v1.5m1.6 38.8v1.5m1-3.5v1.5m.8-39.4v1.5m1.2-5.1v1.5m0-.7v1.5m.7 37.9v1.5m.1-40.7v1.5m1.2-5.5v1.5m-.4 3.4v1.5m1-1.7v1.5m.3-1.7v1.5m1.2-1.9v1.5m-.6 44.6v1.5m1.5-2.2v1.5m1.1-1.1v1.5m.9-46.2v1.5m.1 .2v1.5m1.1 37.3v1.5m.3 .1v1.5m1.2-42.5v1.5m-.3-5v1.5m1.8 50.6v1.5m-.3-50.5v1.5m.5 1.1v1.5m.5-3.5v1.5m.5 41.1v1.5m1.5-34.6v1.5m0 33.6v1.5m1 2.8v1.5m0 .3v1.5m1.1-4.7v1.5m0-37.1v1.5m1.1 37.9v1.5m.5-41.7v1.5m.1 37.9v1.5m1.2-38.3v1.5m.2 46.9v1.5m.6-2.7v1.5m.7-41.5v1.5m.3 33v1.5m.8-37.5v1.5m-.1 37.4v1.5m1.3-2v1.5m.7 6.7v1.5m.7 .1v1.5m.6-36.4v1.5m.9 46.8v1.5m.4-44.8v1.5m.8 1.4v1.5m1.3-1.8v1.5m0 38.6v1.5m.7-33.5v1.5m-.1-4.6v1.5m1.4 37.9v1.5m-.7-3.4v1.5m1.8-36.1v1.5m-.4 36.6v1.5m.6 6.8v1.5m.7-45v1.5m.4 41.5v1.5m1.1-32.8v1.5m.2-2.2v1.5m1-7.5v1.5m.3 39.6v1.5m.7 2.1v1.5m1.1-34.4v1.5m0 37.1v1.5m.5-38.4v1.5m0-.1v1.5m1.1-.3v1.5m.5 32.2v1.5m1-37.9v1.5m.8 3.4v1.5m1 35.5v1.5m-.4 11v1.5m1.6-44.2v1.5m1.1 39.6v1.5m-.1-2v1.5m1.1-31.9v1.5m-.6 34v1.5m1-2v1.5m.7-31.2v1.5m.9 34v1.5m.5-36.7v1.5m1.2 6.2v1.5m.1-1.6v1.5m.9 .3v1.5m.3-5.9v1.5m.5 34.8v1.5m.1-.2v1.5m.8-27.6v1.5m.4-5.2v1.5m1 5.2v1.5m0-1.4v1.5m.9 .4v1.5m.2 29.5v1.5m.5 3.7v1.5m1.2-.4v1.5m-.3-34.1v1.5m1.3 4.5v1.5m.4 30.8v1.5m.5 5.9v1.5m.1-34.5v1.5m1.5 5.1v1.5m-.4 .7v1.5m.9 1.4v1.5m-.3 38.1v1.5m1.5-30.2v1.5m-.3 36.4v1.5m.2 15.1v1.5m1.1-8.9v1.5m-.1-34v1.5m.7 7.5v1.5m.2 31.4v1.5m.9-23.6v1.5m.4 31.6v1.5m.7 15.4v1.5m.5-48.4v1.5m.2 50.9v1.5m1.3-39.2v1.5m1.3-4.3v1.5m.1-1.4v1.5m.3-1.7v1.5m.6-6.2v1.5m.5-13.1v1.5m.4 33.3v1.5m1-53.7v1.5m.6 22.3v1.5m.7-39.5v1.5m.5 26.3v1.5m.1-50.4v1.5m.8 22.8v1.5m.8-75.8v1.5m1.1 38.3v1.5m.4 .1v1.5m.6-71v1.5m.2-1.4v1.5m1 29.9v1.5m-.2-50.9v1.5m1.2 47.7v1.5m.4-49.2v1.5m.4 45v1.5m.1-46.2v1.5m1.1 50.7v1.5m.9-52v1.5m1.4-2.4v1.5m1 46.4v1.5m1-1.6v1.5m.9-61.8v1.5m-.5 3.1v1.5m1.7 55.4v1.5m.9-5v1.5m.1-2.1v1.5m-.3 50v1.5m.8-98.8v1.5m.9-3.6v1.5m.4 .1v1.5m.7 2.3v1.5m.9-.6v1.5m.2 52.9v1.5m1.4-52.3v1.5m-.5 47.7v1.5m1-54.2v1.5m.5 .8v1.5m.9-5.7v1.5m.1 2v1.5m1-9.5v1.5m.4 53.3v1.5m.3-49.9v1.5m1.3-22.4v1.5m.6 59.7v1.5m.2 19.4v1.5m.7-16.4v1.5m.1-62.5v1.5m1.3 59.3v1.5m1.2-4.7v1.5m-.5-5v1.5m1.2-6.1v1.5m.2-52.8v1.5m.8-11.7v1.5m-.2 66.1v1.5m1-14v1.5m.4-51.1v1.5m1.1 47v1.5m-.3-61.4v1.5m1.1 7.4v1.5m.9 47.4v1.5m.9-59.7v1.5m-.1 58.7v1.5m1.4-69.1v1.5m-.3 61.6v1.5m1.1-3.8v1.5m.8-52.4v1.5m.1 49.9v1.5m1.2-3.2v1.5m.6-50.4v1.5m-.2-1.7v1.5m1.2-3.1v1.5m.1-8.8v1.5m.8 51.6v1.5m.4-.2v1.5m.7-55.2v1.5m.4-1.6v1.5m.7 52.8v1.5m1.2-57.2v1.5m.3 58.7v1.5m.4-11.8v1.5m-.1 4.2v1.5m1.4-57v1.5m-.2-10.8v1.5m1 59v1.5m.1-1.4v1.5m.8-46.6v1.5m1 45.9v1.5m-.1-46.5v1.5m1.3 .1v1.5m1 63.7v1.5m.9-59v1.5m-.1 50.3v1.5m1.1-3.5v1.5m1 5.4v1.5m.2-7.7v1.5m1.2-49.9v1.5m-.1 .6v1.5m.5 .3v1.5m1.6 49.4v1.5m.1-6.4v1.5m.8-48.1v1.5m-.2 48.4v1.5m.8-5.4v1.5m1.6-37.2v1.5m.7 40.4v1.5m-.2-2.9v1.5m1.2 2v1.5m-.2-1.4v1.5m1.3-47.2v1.5m.9 4.8v1.5m.5 35.3v1.5m.4 0v1.5m1-41.7v1.5m1.1 5.2v1.5m0-4.2v1.5m.7 40.6v1.5m1.5 8.4v1.5m-.1-5.9v1.5m.8-.7v1.5m0-1.4v1.5m1-2v1.5m.3 3.8v1.5m.6-4.4v1.5m.2-45.3v1.5m.8 42.1v1.5m.3-39.8v1.5m.8-3.6v1.5m.2 49v1.5m1.1-53.1v1.5m-.4-4.5v1.5m.9 38.2v1.5m1.4-35.9v1.5m-.4-16.2v1.5m.8 9.1v1.5m.5 2.4v1.5m.8 38.2v1.5m.1-40.7v1.5m1.2-11v1.5m-.3 1.6v1.5m1.3-4.3v1.5m.6 .1v1.5m.1 38.7v1.5m1.4-42.8v1.5m-.6 38.7v1.5m1.3-1.7v1.5m1.2-2.4v1.5m-.5-40.1v1.5m1.3 38.3v1.5m1.2-45.6v1.5m.1-1.7v1.5m.7-4.1v1.5m.8 .5v1.5m.8-9.4v1.5m.5 6v1.5m1.1 36.4v1.5m.7-42.9v1.5m.1-1.1v1.5m1.3 4.2v1.5m0-13.3v1.5m.5 47.4v1.5m.6-39.8v1.5m.7 33.4v1.5m-.2-33.8v1.5m1.1 2.1v1.5m1 34.8v1.5m1.3 .7v1.5m1 .3v1.5m-.5-34.2v1.5m.2-22.4v1.5m.9 60.9v1.5m.2-44.4v1.5m.8 3.7v1.5m-.1 33.6v1.5m1-39.7v1.5m.6 5.7v1.5m.5 39v1.5m1.2-38v1.5m.7-3.3v1.5m0-3.4v1.5m1-2.9v1.5m.9 30.3v1.5m1.5-29.7v1.5m.6-1.2v1.5m0-.7v1.5m1.3 28.7v1.5m.1-38v1.5m.4 32.1v1.5m.2-29.8v1.5m1.1 29.8v1.5m.4-37.2v1.5m.4 .6v1.5m-.1 35.5v1.5m1.7-5.8v1.5m.7-34v1.5m.6 29.2v1.5m1.3-32.5v1.5m-.1-.8v1.5m1.1-.7v1.5m1.3 .1v1.5m0-1.9v1.5m.9 27.2v1.5m.7-27.4v1.5m.3 29v1.5m.6-29.2v1.5m.6-1.1v1.5m.5-4.1v1.5m.9 2.8v1.5m.6 28.7v1.5m.7-35.1v1.5m.9 31.3v1.5m1.2 1.4v1.5m-.2-3.3v1.5m.8-27.8v1.5m.2-6.9v1.5m1.4 2v1.5m.5 31.1v1.5m.5 .3v1.5m.4-33.1v1.5m.5 27.7v1.5m1-31.2v1.5m.2-.9v1.5m.2 34.3v1.5m1.1-25.9v1.5m.3-24.7v1.5m1 31.4v1.5m-.3 26v1.5m1.6 .6v1.5m.6 13.1v1.5m.3-8.4v1.5m.9-22.2v1.5m.7 2.6v1.5m.1-2.8v1.5m1.4 39.3v1.5m.4 2.4v1.5m1.1-33.4v1.5m.4-2v1.5m.7 4.2v1.5m0-4.7v1.5m1.3-2.2v1.5m-.4 42.8v1.5m1.5 .9v1.5m.1-40.8v1.5m.9 38.5v1.5m1-34.9v1.5m.8 6.2v1.5m1.2 50.8v1.5m.3-54.7v1.5m.4-24.8v1.5m.7 59.6v1.5m.2-46.7v1.5m.8 42.2v1.5m1.1-2.1v1.5m.6 .6v1.5m1-1.8v1.5m.3-45.7v1.5m1.5 37.4v1.5m.9 2.7v1.5m-.3-.7v1.5m1.3-43.3v1.5m1.1 30.9v1.5m.1-1.5v1.5m.6-4.5v1.5m.5 .2v1.5m.6-36.8v1.5m1.2-4.5v1.5m-.1 32.8v1.5m1.2-46.2v1.5m.6 35.9v1.5m0 2.3v1.5m1.4-1.8v1.5m0-43.1v1.5m.4 34v1.5m1.1-34.9v1.5m1.2 28.5v1.5m1.3-10v1.5m.6-5v1.5m-.3-.3v1.5m1.1-7v1.5m.2-5.2v1.5m1.4-39.9v1.5m.3-11v1.5m1.6-9.6v1.5m-.1 35.7v1.5m1.2-12.2v1.5m-.4-1v1.5m.9-11.6v1.5m.6-31.5v1.5m.4 23.3v1.5m.9-35.2v1.5m1.6-6.8v1.5m-.7 29.2v1.5m1 0v1.5m1.3-10.2v1.5m.3-36v1.5m.8 28.2v1.5m-.3-31.2v1.5m1.2-5.4v1.5m1.2 25.2v1.5m0-30.7v1.5m.7 30.7v1.5m0-3.3v1.5m.8-30.4v1.5m.3-7.1v1.5m.9 4.2v1.5m.1 26.5v1.5m1.1-37.9v1.5m1 4v1.5m-.2-7.5v1.5m1.6 3.8v1.5m.3-2.1v1.5m0 31.6v1.5m1.5-30.5v1.5m-.5 26.8v1.5m1.3-2v1.5m.9 1.9v1.5m1.4-5.8v1.5m-.3-42.1v1.5m1.2 7.9v1.5m.5 36.1v1.5m1.6-29.1v1.5m-.6-2.4v1.5m.3 43.9v1.5m.6-13.4v1.5m.2-30.3v1.5m.8-1.7v1.5m.4 33v1.5m1.2 4.4v1.5m-.5-31.6v1.5m1.3-.4v1.5m1.4-1.3v1.5m.8 32.8v1.5m.7-3.8v1.5m.7-.5v1.5m.2-.9v1.5m1-.9v1.5m1-29.3v1.5m-.2 28v1.5m1.1-4.3v1.5m0-30.2v1.5m1.2-1.5v1.5m1.1 26.9v1.5m-.4-30.5v1.5m1.1 29.2v1.5m1.4-28.9v1.5m-.1-2.7v1.5m.9 23.7v1.5m-.3 .3v1.5m1.8 .5v1.5m-.4-4.6v1.5m1.1-29.7v1.5m-.1 27v1.5m.7-28.4v1.5m1.2 .3v1.5m-.2-4v1.5m.9 .8v1.5m.6-5.8v1.5m.7 1.2v1.5m.2 22.7v1.5m.7-21.9v1.5m1.3 21.8v1.5m-.3-3.5v1.5m1.5-2.3v1.5m-.4-23.8v1.5m1.1-4.2v1.5m0 22.1v1.5m1.3-30.2v1.5m.5 26.7v1.5m.5-29.7v1.5m.5 .6v1.5m1.3 21.7v1.5m-.1 1.6v1.5m.7-3.6v1.5m.5-3.5v1.5m.9-40.1v1.5m.8-19.4v1.5m.5 5.5v1.5m.2-16.5v1.5m.2 40.9v1.5m.8-60.4v1.5m.4 49.4v1.5m.7-11.5v1.5m1.3-10.5v1.5m.8-57.8v1.5m1.5 37.8v1.5m.4-11.6v1.5m.1-2.8v1.5m1-4.3v1.5m1.3 7.2v1.5m-.3-52.3v1.5m.9-2.8v1.5m3.4 31.1v1.5m1.2 2.4v1.5m-.3 .4v1.5m1.3 4v1.5m.5-38.3v1.5m.5 3.6v1.5m.6 54.6v1.5m.3-57.3v1.5m1.1 62.6v1.5m.1-47.1v1.5m.8 16v1.5m.4 59.7v1.5m.8-4.3v1.5m.4-39.2v1.5m1.3-2.4v1.5m-.2 42.1v1.5m1.3 5v1.5m.1-.5v1.5m.9-11.1v1.5m.9 7.1v1.5m.8-9.8v1.5m0-41.1v1.5m.9-6v1.5m.5 48.8v1.5m1-45.1v1.5m-.4-8.6v1.5m1.3 48.3v1.5m-.2-44v1.5m.7 44.7v1.5m1.7-47.4v1.5m-.7 46.1v1.5m1.6-59.7v1.5m.9 50v1.5m-.2-42.8v1.5m.7 39.8v1.5m.9-42.7v1.5m.4-11.7v1.5m.7 4.9v1.5m1.4 1.4v1.5m.9-2.5v1.5m.7 35v1.5m.2-1.3v1.5m.8-1.8v1.5m-.1 3.8v1.5m1.3-9.1v1.5m1.4-50.9v1.5m0 46.1v1.5m.7-4.2v1.5m-.3-47.4v1.5m.3 69.5v1.5m1-26v1.5m-.3-45v1.5m1.1 .9v1.5m1.4 40.2v1.5m.5-41v1.5m1.5-1.2v1.5m.6 37v1.5m1.5 8.5v1.5m-.5-12.3v1.5m.9-54.9v1.5m.3 46.3v1.5m1.2-8.8v1.5m.5-51.6v1.5m1.1 .1v1.5m0-3v1.5m1.5-1.9v1.5m.9 38.8v1.5m-.6-43v1.5m1.5-3.8v1.5m0 46.7v1.5m.5-44.3v1.5m.1-1.5v1.5m1.7 .9v1.5m0 41.2v1.5m.4-46.7v1.5m1 43.1v1.5m.1-4.4v1.5m.8-53.2v1.5m1.4 52.3v1.5m-.1-5.3v1.5m.9-.9v1.5m-.2 .5v1.5m1.2-46.9v1.5m.3 46.4v1.5m.6-56.5v1.5m0 3.4v1.5m1 1.2v1.5m1.4 41.2v1.5m-.1-3.1v1.5m.6-2.5v1.5m.1 7.3v1.5m1 3.9v1.5m1.1-60.4v1.5m-.3 5v1.5m1.1-3.9v1.5m1.2 3.1v1.5m1.1-3.4v1.5m.6 40.3v1.5m1.3 .7v1.5m.3-44.3v1.5m.6 .8v1.5m.2 45.5v1.5m.7-9.2v1.5m1.5 0v1.5m.2-49.4v1.5m1 51.3v1.5m.7-11.9v1.5m-.4-5v1.5m1.3-.1v1.5m-.2-48.6v1.5m.2 76.5v1.5m.8-36.6v1.5m1.5-53.7v1.5m-.1 48.7v1.5m1-39.9v1.5m-.5 48.5v1.5m1.2 10.6v1.5m.9 18.7v1.5m1.1-44.1v1.5m-.1 49.5v1.5m1.5-46.3v1.5m.3 56v1.5m1.3 8.9v1.5m-.2-6.8v1.5m1.4 5.4v1.5m-.3-5.9v1.5m1.2-45.8v1.5m-.2 52.4v1.5m1.1-.6v1.5m.2-47.7v1.5m1 40.2v1.5m1.3-36.2v1.5m.6 36.9v1.5m-.2-4.8v1.5m1.3-38.5v1.5m-.1 44.4v1.5m1.1-47v1.5m.8 31v1.5m-.2 4.5v1.5m1.4-9.3v1.5m-.4 5.9v1.5m1.6-10.5v1.5m.9 .7v1.5m-.4-44.9v1.5m1.2 .7v1.5m1.2-5.8v1.5m.8 5.4v1.5m-.1 41.1v1.5m1.1-1.9v1.5m.8-3.1v1.5m.5-.6v1.5m.9-1.9v1.5m.8-42.4v1.5m1.4 35.7v1.5m-.7-37.8v1.5m1.5 30.9v1.5m1.1-41.1v1.5m-.6-5.1v1.5m1.2 1.5v1.5m.8-11.7v1.5m1.1-5.8v1.5m.8 8.6v1.5m.2-3.6v1.5m1 47.8v1.5m.5-6.4v1.5m1.1-42.6v1.5m-.5-1.3v1.5m1.1 36.1v1.5m.3 6.8v1.5m.7-9.7v1.5m1.1 7.2v1.5m-.1 46.4v1.5m.9-95v1.5m.5-6.5v1.5m.2 49v1.5m1.8-38.5v1.5m-.6 39.7v1.5m1.1-40.3v1.5m-.1 34.4v1.5m.2 31.9v1.5m.9-37.7v1.5m-.3 1.8v1.5m1.7 3.6v1.5m-.5-5.4v1.5m1.2-46.3v1.5m.8-10.8v1.5m0 48.7v1.5m1.2-47.4v1.5m.4-6.4v1.5m.6-3.5v1.5m1.3 39.6v1.5m.7-51.7v1.5m-.1 5.7v1.5m1-5.7v1.5m.1-7.1v1.5m1.3-1.3v1.5m.5-2.1v1.5m.6 33.6v1.5m.5-44.2v1.5m0 39.7v1.5m1.3-40.7v1.5m-.5 3.4v1.5m1.3 27.6v1.5m-.1 0v1.5m1.3-29.6v1.5m-.3-9.2v1.5m.9 9.5v1.5m.8-2v1.5m.3-3.2v1.5m.8 32.4v1.5m1.1-35.1v1.5m0-1.2v1.5m.9 31.6v1.5m.1-34.8v1.5m1.1 1.7v1.5m-.1-3.3v1.5m1-8.7v1.5m.9 35.4v1.5m.3-.3v1.5m1.4-34.9v1.5m0-2.2v1.5m.3-5.8v1.5m.2 .9v1.5m1.4-.1v1.5m.7 3.1v1.5m1 29.8v1.5m.3-2.7v1.5m1-30.1v1.5m-.2 28.2v1.5m1.2-.4v1.5m1-1.9v1.5m.7-31.3v1.5m.4 33v1.5m.6-2.5v1.5m.4-.2v1.5m.7-40.8v1.5m-.3 31.6v1.5m1.2-35.4v1.5m.4-7.3v1.5m.4-6.8v1.5m.5 3.5v1.5m.8 31.1v1.5m1.2-.5v1.5m.9-8v1.5m.7-33.9v1.5m.8-5.9v1.5m1.5 29.8v1.5m.4-33.8v1.5m.3 29.6v1.5m.8-3.2v1.5m0-.9v1.5m1.6-46v1.5m.1 4.2v1.5m.8-6.6v1.5m-.3-3v1.5m1.1 .9v1.5m.9-5.6v1.5m.5 34.3v1.5m.8 .2v1.5m.8-32.6v1.5m1.2 39.4v1.5m.7 .5v1.5m1.1 5.8v1.5m-.4-43.4v1.5m1 41.2v1.5m.4-3.3v1.5m.8 6.8v1.5m1.5 11.5v1.5m-.2-42.7v1.5m.6 41.8v1.5m.6-3.4v1.5m.9 2.4v1.5m-.6-39.3v1.5m1.8 4.1v1.5m.6 32.6v1.5m.3-32.6v1.5m.3 36.6v1.5m.4-.7v1.5m0-64.7v1.5m1.2 29.2v1.5m.6 29.5v1.5m.2-2.9v1.5m.8-.1v1.5m1.3-27.9v1.5m0 27.3v1.5m1.3-33.7v1.5m-.4 1.8v1.5m.9 25.8v1.5m.4-.3v1.5m.5-3.6v1.5m1.1-1.2v1.5m-.1-.2v1.5m.9-30.1v1.5m1 25.4v1.5m0-.3v1.5m1-28.6v1.5m.5 29.7v1.5m.6-6.1v1.5m.4 .7v1.5m.5-2.4v1.5m.6-26.7v1.5m.7 22.4v1.5m1.1 .9v1.5m-.4-29v1.5m1.1-2.2v1.5m.9 26.8v1.5m.4-30.2v1.5m1.2 22v1.5m-.5-2.6v1.5m.9-7.3v1.5m.4-38.4v1.5m1-10.2v1.5m-.3-.7v1.5m.9-.4v1.5m1.5-5.5v1.5m-.6-5.8v1.5m1.8 7.5v1.5m-.1 45.5v1.5m.8-50.1v1.5m.9 57.8v1.5m-.1-60.2v1.5m1.3 49.2v1.5m-.1-52.5v1.5m.6 1.6v1.5m.7 5.7v1.5m.4 43.3v1.5m.4-54.6v1.5m.6 65.5v1.5m.5-70.5v1.5m.9 5.9v1.5m-.5-3.7v1.5m1.3 4v1.5m1.2 53.1v1.5m-.2-57.7v1.5m.8-4.7v1.5m1.4 2.4v1.5m-.2 49.1v1.5m1.1-60v1.5m1 51.9v1.5m.2-4.5v1.5m.4 3v1.5m1.2-.9v1.5m.8 2.8v1.5m1.3-4v1.5m0-45.3v1.5m1-11.1v1.5m.2 50.8v1.5m.5-8.3v1.5m1.4-54.9v1.5m.2 47v1.5m1-7v1.5m-.2-54.6v1.5m.5 35.9v1.5m.3 4.6v1.5m1.2-7.1v1.5m.8-19.1v1.5m1.5-54.4v1.5m-.8-8.5v1.5m1.1 2.3v1.5m1.4-6.9v1.5m1.1 50.8v1.5m.1-6.8v1.5m1-56.4v1.5m1.1 53.8v1.5m.8-3.2v1.5m-.4 1.1v1.5m.9-8v1.5m.2 .9v1.5m.9-50.1v1.5m.5 50v1.5m.4-48v1.5m.4 1.7v1.5m1.1-6.8v1.5m-.5 51.7v1.5m1.6 1.5v1.5m.9 2.7v1.5m-.5-1.6v1.5m1.3-51.6v1.5m.1 48.2v1.5m.9 2.9v1.5m1 15.2v1.5m1.1-48.6v1.5m-.1-.3v1.5m.8 8.5v1.5m.5-1.1v1.5m.6 .8v1.5m.9 52.1v1.5m.8 7.2v1.5m1.1-59.1v1.5m.3 3v1.5m.9 49.9v1.5m-.2-54.9v1.5m.3-26v1.5m.6 32.6v1.5m.6 41.1v1.5m1.2-46.4v1.5m.4-2.3v1.5m.4 50v1.5m.8-60.3v1.5m.3 52v1.5m.6 .8v1.5m.9-54v1.5m.2-4.6v1.5m1.1 49.3v1.5m-.1-4.1v1.5m1.3-1.1v1.5m-.4-.3v1.5m.8-7.2v1.5m1.2-2.3v1.5m.4-2.4v1.5m.6 3v1.5m1.2-56.5v1.5m1.1-5.9v1.5m.5 1.8v1.5m.3 96.1v1.5m.9-109.2v1.5m.2 8.7v1.5m.6 55v1.5m1.7-8.8v1.5m.6-44.4v1.5m-.4-5.8v1.5m.4-60.6v1.5m1.3 46v1.5m-.2 4v1.5m.8 49.7v1.5m1-72.9v1.5m.7-5.8v1.5m.3-2.9v1.5m1.4-8.8v1.5m-.1-5.9v1.5m.8-11.1v1.5m.1 62.1v1.5m1.2-53.6v1.5m0 47.4v1.5m.4-56.3v1.5m.4 52.7v1.5m1-5.6v1.5m.1-.4v1.5m.6-52.2v1.5m.3 44.3v1.5m1-4.2v1.5m-.1-3.7v1.5m1.1-58.3v1.5m-.3 64.8v1.5m.9-4.2v1.5m.2-55.7v1.5m1.4 58.9v1.5m-.3-1.8v1.5m.7-1.6v1.5m.3-57.3v1.5m1 62.2v1.5m.7-4.6v1.5m-.1-47.3v1.5m1.6-6.8v1.5m1.2-1.4v1.5m.4 52.5v1.5m-.1 10.6v1.5m1.3-63.8v1.5m-.1 49.9v1.5m1-5.5v1.5m.2-56.8v1.5m1.2 55.6v1.5m.5-53.4v1.5m1.2 46.9v1.5m.4-46.5v1.5m.4 1v1.5m.6-3.3v1.5m.9-.1v1.5m-.2-11.6v1.5m1.3 4.8v1.5m0 51.8v1.5m.3-15.1v1.5m1.5-41.9v1.5m1 44.5v1.5m-.5-2.5v1.5m1.5-42.2v1.5m-.1 36v1.5m1.1 10.6v1.5m0-54.1v1.5m.6 47v1.5m.2-45.8v1.5m.9 41.7v1.5m-.1-1.6v1.5m1.3-55v1.5m.2 5.3v1.5m.9 43v1.5m.6-9.2v1.5m1-43.6v1.5m1.1 45.7v1.5m1.3-46.4v1.5m1.1 .9v1.5m.5 2.5v1.5m0 39.9v1.5m1-44.2v1.5m1.5-5v1.5m-.2 1.3v1.5m.8 52.9v1.5m-.2-54.6v1.5m1.2 58.7v1.5m0-49.3v1.5m1.5 56.9v1.5m.5 8.2v1.5m.2-8.4v1.5m1.2 5.6v1.5m.5-48.7v1.5m.2 52.9v1.5m1.3-53.5v1.5m.4-1v1.5m.4-3.2v1.5m1.2-13.4v1.5m-.1 59.3v1.5m.9-5.9v1.5m-.2 1.6v1.5m1.4 .6v1.5m.8-56.8v1.5m.1-5.1v1.5m.5-.6v1.5m.2 54.7v1.5m1.4-59.1v1.5m-.5 57.3v1.5m1 .7v1.5m1-6.9v1.5m.9-46.7v1.5m.4-11.6v1.5m1.1 10.2v1.5m-.1 42.1v1.5m.5 2.8v1.5m.3-63.3v1.5m1.3 6.4v1.5m1.1 60.9v1.5m0-1.3v1.5m1.1-8.5v1.5m-.6-51v1.5m.9 42.5v1.5m1.2-45.6v1.5m0-16v1.5m1 6.8v1.5m.4 2.6v1.5m.8 36.4v1.5m-.3-51v1.5m.9-6.4v1.5m1 49.6v1.5m1.4-52v1.5m.6 2.2v1.5m.2 44.8v1.5m1-.5v1.5m.1-54.2v1.5m.7 7.1v1.5m.6 40.6v1.5m.5-43v1.5m.4-2.5v1.5m.6-2.7v1.5m1.1 58.6v1.5m1.3 4.7v1.5m.7-57.7v1.5m.4 10v1.5m.8-2.7v1.5m.7 44.5v1.5m.5-3.3v1.5m.4-36.8v1.5m.4 37.9v1.5m1.3 1.4v1.5m-.7-40.8v1.5m1.6 3.6v1.5m.1 34v1.5m1-.2v1.5m-.3-35.6v1.5m1 37.1v1.5m.1-5.9v1.5m.6-33v1.5m.5 31.4v1.5m.8-3v1.5m-.1 3v1.5m1.1-40v1.5m.3 34.5v1.5m.6-35.8v1.5m.9-4.6v1.5m1 1.3v1.5m.1 28.6v1.5m.9-8.6v1.5m1-8.5v1.5m.4 4.2v1.5m.7-11.2v1.5m1.2-56.6v1.5m0 6.4v1.5m.6 27.9v1.5m-.1 1.6v1.5m1.5-48.4v1.5m-.3 1.4v1.5m1.1 40.7v1.5m.4-4.3v1.5m.9-38.9v1.5m-.5 38.1v1.5m1.4 2.1v1.5m1.1 8.2v1.5m-.3-51.1v1.5m.8 7.9v1.5m1-3.3v1.5m1.5 1.4v1.5m-.2-2.8v1.5m-.1 94.6v1.5m1.2-99.8v1.5m-.6-.1v1.5m1.1 47.5v1.5m1.6-9.3v1.5m.7-46.3v1.5m.9 45.6v1.5m.8-.9v1.5m.9-45.8v1.5m.1 42.7v1.5m1.3-52v1.5m.1 47.3v1.5m.8-47.6v1.5m.1 49.5v1.5m.9-6.6v1.5m.8-39.1v1.5m1.5 43.4v1.5m-.4-6.6v1.5m.9-44.4v1.5m0-2.2v1.5m1.1-1.6v1.5m1.4 43.3v1.5m-.5 1.3v1.5m1.1-4.7v1.5m.8-11.7v1.5m.1-45.4v1.5m1.2-1.9v1.5m1.2 43v1.5m.1-49.1v1.5m1.1 48.4v1.5m1-55.4v1.5m.9 5.9v1.5m0-9.1v1.5m.6 48.8v1.5m0-42.5v1.5m1.6-1v1.5m.9 46.1v1.5m-.4 3.2v1.5m1 13.5v1.5m0-55.4v1.5m1 12.7v1.5m1.2 4.9v1.5m.9 56.2v1.5m.8-51.6v1.5m0-2.4v1.5m1 4.1v1.5m.8 49.5v1.5m.4-3.9v1.5m1 4.7v1.5m.2-60.6v1.5m1.1 66v1.5m-.5-5.8v1.5m.9 1.6v1.5m.7 4.5v1.5m.9-49.1v1.5m.8 5.1v1.5m-.3 41.9v1.5m1.3-43.8v1.5m.3 38.4v1.5m.7-4v1.5m.1-40.6v1.5m.5-11.1v1.5m.5-9.6v1.5m1 .9v1.5m.5 49.8v1.5m.9-52.7v1.5m.5 1.7v1.5m.8-11.4v1.5m1.4-4.1v1.5m-.3-12.3v1.5m1.3 45.9v1.5m1-6.1v1.5m-.5-61.1v1.5m1.1 49.1v1.5m.8-19.5v1.5m1.1-46.1v1.5m1.4-5.5v1.5m-.6-8.3v1.5m1.4 45.5v1.5m1.2 10.1v1.5m.8-9.7v1.5m-.3-1.2v1.5m1.2-49.2v1.5m.2 1.8v1.5m.8 42.9v1.5m-.1-46v1.5m1.1 38.4v1.5m1.3 1.8v1.5m1.1-44.6v1.5m1 52.8v1.5m1-14.2v1.5m.4-50.8v1.5m.2-2.5v1.5m.8-7.5v1.5m0 51.3v1.5m1-8.4v1.5m1.4-16.1v1.5m.7-7.6v1.5m.6 1.3v1.5m.5 7.1v1.5m.4-69.2v1.5m.8 60.6v1.5m.1-1v1.5m1-72.3v1.5m0-.1v1.5m1.2-8.5v1.5m-.7-.5v1.5m1 56.6v1.5m.3-4.2v1.5m1.1 .9v1.5m-.4-61.2v1.5m2.2 43.8v1.5m.9-55.4v1.5m1.1 57.7v1.5m.5 .2v1.5m.5 7.8v1.5m.9 23.5v1.5m-.1-17.8v1.5m1-30.5v1.5m1.6 88.5v1.5m-.1 4.4v1.5m.9-33.5v1.5m1 64.5v1.5m.5-3.8v1.5m.5 4.3v1.5m.8-8.5v1.5m.5-.4v1.5m.6-1.5v1.5m.6 0v1.5m.1 .3v1.5m1.4-57.5v1.5m.9-3.5v1.5m.6-1.6v1.5m1.7 3.3v1.5m.4 57.5v1.5m.4-65.7v1.5m.7-5.7v1.5m1 61.2v1.5m.4-65.4v1.5m.8 62.5v1.5m-.2-2.7v1.5m1.1-59.3v1.5m1.2 63.2v1.5m-.2-.3v1.5m.8-62v1.5m.3 51.8v1.5m.7 3.5v1.5m1.1-70.3v1.5m1.2 72.9v1.5m1.1-19.8v1.5m0 1.7v1.5m1-2.8v1.5m1-59.4v1.5m.2 57.8v1.5m.5-77.7v1.5m0-1.9v1.5m.9 49v1.5m1.1-106v1.5m0 82.4v1.5m1-63.9v1.5m1 65.5v1.5m.4-3v1.5m.6-36v1.5m1.5 12.3v1.5m.8 0v1.5m0 41.2v1.5m1.3-47.3v1.5m-.2-1.9v1.5m.8 35.9v1.5m.2-34v1.5m.7 1.2v1.5m1.2 29.7v1.5m.9-32.4v1.5m.9 32.1v1.5m-.1 7.6v1.5m1.2-45.1v1.5m.6 33.9v1.5m1.5 .8v1.5m1.1-37.2v1.5m.7 27.7v1.5m.8-5.3v1.5m1.1 .8v1.5m1.4-40.4v1.5m.6 33.1v1.5m1.2-32.4v1.5m.4 31.2v1.5m.3-37.3v1.5m1.6-4.5v1.5m0 46.4v1.5m.7-2.3v1.5m-.3-42.9v1.5m.9 28.3v1.5m.4 3.1v1.5m.9-37.3v1.5m.2-.8v1.5m1.1-1.1v1.5m.5-7.5v1.5m1.5 4.2v1.5m.4-5.1v1.5m1.6 32.7v1.5m.4 4.3v1.5m.4-40.7v1.5m1.1 1.3v1.5m-.3 2.1v1.5m1.3-.6v1.5m.7 31.4v1.5m.9 3.6v1.5m0-35.4v1.5m1.7 28.8v1.5m.9-31.8v1.5m-.5-2v1.5m1.3 27.4v1.5m-.3-.7v1.5m1.1-32v1.5m.8 30.6v1.5m0-3.6v1.5m1.4-38.2v1.5m.2 28.8v1.5m.6-40.1v1.5m.3 37.7v1.5m1.1-45.3v1.5m.5 33.9v1.5m.2 5.8v1.5m.7-12.2v1.5m0 3.6v1.5m1.4-53.3v1.5m.1 43.3v1.5m.7 4.6v1.5m1.3-63.1v1.5m0 47.4v1.5m.5-50.3v1.5m.5 4.9v1.5m.6 49.8v1.5m1.5-65.8v1.5m-.1 48.2v1.5m1 1.9v1.5m-.1-9.4v1.5m1.2-2.4v1.5m-.5-52.2v1.5m1.3 58.5v1.5m-.1-13v1.5m.6-43.9v1.5m.1-4.1v1.5m1 42v1.5m1.5-43v1.5m0 37.4v1.5m.8 2.1v1.5m-.4-1.2v1.5m1.7-6.2v1.5m-.6-52.4v1.5m1 48v1.5m.5 2.4v1.5m.8-2.1v1.5m.3-40.5v1.5m.3 43.2v1.5m1.2-41v1.5m.9-1.9v1.5m1.1 13.6v1.5m1.2-4v1.5m-.2-2.1v1.5m1.1 38.6v1.5m1-2.9v1.5m0-3.7v1.5m.7-33.5v1.5m1.1 .5v1.5m.1-3.7v1.5m1.2 42.5v1.5m-.3-11.2v1.5m1.1 0v1.5m.2-.4v1.5m.6 2.2v1.5m1.8-4.7v1.5m1 2.7v1.5m-.3-38.4v1.5m1.3 32.7v1.5m.9-36.2v1.5m.6 1.2v1.5m1.3 31.7v1.5m.7-3.4v1.5m0-1.3v1.5m1.3 3.1v1.5m-.5 1.3v1.5m1.2-40.2v1.5m.4 36.6v1.5m.4-46.5v1.5m.4 4.3v1.5m.6-5.4v1.5m.3 32.9v1.5m0 39.5v1.5m1-77.3v1.5m.7 2.4v1.5m1-1.1v1.5m.1-3.1v1.5m.8-3v1.5m.6-1.9v1.5m1.1 1.6v1.5m.7 32.2v1.5m-.3-1.5v1.5m1.5 .1v1.5m.6-3.2v1.5m1.4-2.3v1.5m-.5-28.8v1.5m1.3 29.3v1.5m.9 2.5v1.5m.2-39.6v1.5m1 .5v1.5m-.2 2.6v1.5m1.3-5.4v1.5m1.1 36.9v1.5m-.3-35.6v1.5m1.3 2.1v1.5m0-2.6v1.5m.7 28.5v1.5m.1-31.4v1.5m.6-9.5v1.5m.3 34.2v1.5m1.3 4.3v1.5m.7-35.3v1.5m.9 61.6v1.5m.8 18.6v1.5m.7-3.9v1.5m.5 12.7v1.5m1.1 .2v1.5m.8-12.9v1.5m.5 35.7v1.5m.7-1.2v1.5m-.4-28.2v1.5m1.6 27.7v1.5m.1 .1v1.5m.8-5.8v1.5m-.4-25.7v1.5m1.5 34.1v1.5m-.2-7.6v1.5m1.1-3.1v1.5m1.1-25.5v1.5m.1 27.7v1.5m1-27.6v1.5m.5 .2v1.5m.8 9.5v1.5m.1 23.6v1.5m1.2 4.3v1.5m1.2-21v1.5m-.2 24.2v1.5m.8-7.7v1.5m0-26v1.5m1.6-16.7v1.5m.7 18.7v1.5m.2 2.2v1.5m.6-46.3v1.5m.2-1v1.5m1.2-.4v1.5m0-5.7v1.5m1-5.8v1.5m.1 32v1.5m.7-1.3v1.5m.3-4.3v1.5m1-3.7v1.5m-.1 1.3v1.5m.5-34.8v1.5m.6-2.2v1.5m.8-5.7v1.5m1 28.7v1.5m-.4-5v1.5m.9-4.1v1.5m.1-27.6v1.5m1.3-5.5v1.5m1.3 30.5v1.5m-.3-4.3v1.5m.9-1.5v1.5m.2-36.7v1.5m.5 1.2v1.5m1.8 29.2v1.5m-.7-31.7v1.5m1.2-3v1.5m.4 32v1.5m.6-2.9v1.5m1.1-30.3v1.5m-.3 31v1.5m1.5-1.1v1.5m-.4-34v1.5m.9-3v1.5m.3 27v1.5m1.1-37.3v1.5m.2 4.1v1.5m.5 24.3v1.5m.3-30.1v1.5m.8-4.2v1.5m.1-3.6v1.5m0-27.3v1.5m1.3 10.1v1.5m0 33.8v1.5m.7-42v1.5m1.1-2.6v1.5m0 29v1.5m.9 3.4v1.5m-.2-34.2v1.5m1.4-2.3v1.5m.1 29.3v1.5m.7-1.2v1.5m.9 5.7v1.5m.2-37.3v1.5m.7 30.7v1.5m1.2-34.7v1.5m-.3 33.9v1.5m1.2-26.7v1.5m1.4 35.6v1.5m.1-39.8v1.5m.9 40.5v1.5m-.2-40.7v1.5m1 4.8v1.5m.2 .3v1.5m.8-3.2v1.5m-.2 34.2v1.5m1.5-35v1.5m-.2 33.2v1.5m.6 6.6v1.5m.1-6.3v1.5m.9-35.1v1.5m.2-.7v1.5m1.1 31.8v1.5m.8 3.9v1.5m.9-39.1v1.5m1-16.8v1.5m.9 22.1v1.5m0-36v1.5m1.6 18.5v1.5m-.2 .9v1.5m1.1-3.4v1.5m.5-39.1v1.5m.3 1.5v1.5m.6-.8v1.5m.6 34.2v1.5m.7-9.5v1.5m1.3-.8v1.5m-.2-33.4v1.5m1.1 1.6v1.5m.9 24.5v1.5m0-1.2v1.5m1.4 6.6v1.5m0-44.3v1.5m.3 34v1.5m.5-33.1v1.5m.5 32.9v1.5m0-1.9v1.5m1.7-4.8v1.5m-.1-2.1v1.5m.9 .8v1.5m-.1-3.4v1.5m.5-33.6v1.5m0-1v1.5m1.2 30.2v1.5m1.5-33.6v1.5m.9 27.6v1.5m.5-34.4v1.5m.3-.6v1.5m.7 27.8v1.5m.9-34.6v1.5m.2-2v1.5m1.3 23.4v1.5m0-35.4v1.5m1.2 25.2v1.5m-.2-37v1.5m.6 26v1.5m1.5-37.7v1.5m-.2-10.2v1.5m.7 40.2v1.5m1.1-37.9v1.5m.9 2.4v1.5m.1-.9v1.5m.8-3.9v1.5m1 34.3v1.5m.2-4v1.5m1.4-.3v1.5m-.6 1.5v1.5m1.7-42.1v1.5m-.6-3.3v1.5m1.4 41v1.5m.2 1.9v1.5m.5-5.1v1.5m1.6-2.3v1.5m-.6-.8v1.5m1.5-35.8v1.5m.8 39.6v1.5m-.2-7.7v1.5m.9-34.4v1.5m1.5 32.8v1.5m-.1-3.1v1.5m.5 4v1.5m.1-6.7v1.5m1.4-39.1v1.5m1-4.1v1.5m-.3-.9v1.5m1.4 34.5v1.5m1.1-32v1.5m-.3-4.5v1.5m1.2-10.3v1.5m-.2 45.3v1.5m.9-4.6v1.5m.7-39.6v1.5m.1 46.9v1.5m1.3-11.7v1.5m.5-6.9v1.5m1.7-40.7v1.5m.9-1.9v1.5m-.5 35.3v1.5m1.1 9.3v1.5m0-45.8v1.5m1 6.4v1.5m1.1-.5v1.5m.5 .4v1.5m.6 52.4v1.5m1.4-42.1v1.5m-.1 47.9v1.5m.7-50.1v1.5m1.2-3.5v1.5m.2-3.5v1.5m.6 7.3v1.5m1.2-2v1.5m.1 56.9v1.5m.6-72.7v1.5m.5-7.4v1.5m.6-16.3v1.5m-.4-.2v1.5m1.3 34.2v1.5m.9-78.2v1.5m1.2 37v1.5m-.3-.3v1.5m1.6-4.9v1.5m-.2-8.5v1.5m.6-70.4v1.5m-.1 48.6v1.5m2.3-50v1.5m-.2 47.3v1.5m.9 8.9v1.5m1.5 2.7v1.5m1-2.2v1.5m.2-58v1.5m.5 52v1.5m0-3.3v1.5m1.2 9.1v1.5m1-.7v1.5m.3-49.2v1.5m.8 54.4v1.5m.2 4.2v1.5m1-2.9v1.5m-.4 2.7v1.5m.7-42.8v1.5m.8 39.1v1.5m.4-42.2v1.5m.3 39.7v1.5m.5 2.5v1.5m.6 1.9v1.5m.4-4.6v1.5m1.2 3.7v1.5m-.2-47.9v1.5m1.3 2.9v1.5m.3 46.3v1.5m.7-45.4v1.5m1.2 8.2v1.5m.2 36.1v1.5m.5-2.5v1.5m0-44.5v1.5m1.2 43.2v1.5m.3-3.7v1.5m1 5.7v1.5m-.1-49.6v1.5m1.2 39.4v1.5m-.5-3.6v1.5m1.4-44.1v1.5m1.1-5.8v1.5m-.7 1.4v1.5m1.2 38.1v1.5m.5-2.6v1.5m1-45.4v1.5m.8 .7v1.5m-.4 39v1.5m1.3-45.2v1.5m.8-6v1.5m-.2 62.4v1.5m1.2-65v1.5m.9 .7v1.5m-.1 43.8v1.5m1.5-42.7v1.5m.5 37.5v1.5m1.4 5.4v1.5m1.2-13.6v1.5m.7-56.9v1.5m.8 2.1v1.5m1.4 53.8v1.5m.2-58.6v1.5m.8 44.1v1.5m-.1 0v1.5m.8 2.7v1.5m-.3 2.3v1.5m1.5-11.4v1.5m.7-45.8v1.5m1.1 41.5v1.5m1.4-42.1v1.5m-.4-4.9v1.5m1.3 47.6v1.5m.7-6v1.5m1.2 2.9v1.5m1.2-50.4v1.5m.4 48.6v1.5m1.5-45.3v1.5m.6 43.7v1.5m1.3-3.3v1.5m.2 3.7v1.5m.9-5v1.5m-.5-5.3v1.5m1.6-49.7v1.5m1 3.4v1.5m-.4-2.6v1.5m1.4 38.8v1.5m0-45v1.5m.3-.6v1.5m.3-13.2v1.5m1.2 8.2v1.5m-.4 50.4v1.5m1.2-56.7v1.5m.7-13.6v1.5m.7 53.7v1.5m.8-48.9v1.5m-.1-2.3v1.5m1.2-1.3v1.5m1-7.6v1.5m.1-2.5v1.5m1-7.9v1.5m1 53.1v1.5m.7-54.2v1.5m-.2 43.9v1.5m1.3-2.2v1.5m.6-45.5v1.5m.3 54.6v1.5m.6-15.7v1.5m.7-2.7v1.5m1-49.1v1.5m.1 4.1v1.5m1 39.8v1.5m-.2-2.4v1.5m1.2-6.9v1.5m.3-.9v1.5m0-44.4v1.5m1.6 41.1v1.5m.8 2.4v1.5m-.1-9.1v1.5m1.2-1.3v1.5m-.5-43.1v1.5m.9-1v1.5m.5-1.2v1.5m2.2-2.1v1.5m-.5 52.1v1.5m1.2-7.9v1.5m.1-5.3v1.5m.7 5.2v1.5m1.2-50.6v1.5m.2-3.9v1.5m.8 47.3v1.5m-.2 1.5v1.5m1.5 3.7v1.5m.7 4.4v1.5m.3-52.4v1.5m.7 58.9v1.5m.9-40.6v1.5m0-3.5v1.5m.1 67.6v1.5m1.1-61.8v1.5m0-9.7v1.5m1.2 55.6v1.5m.1-53.6v1.5m1 10.9v1.5m-.1 45.4v1.5m.9-.8v1.5m-.1 .9v1.5m.8 2.3v1.5m-.2-45.7v1.5m1.6 50.5v1.5m-.3-83.8v1.5m.8 77.3v1.5m.2-50v1.5m.6 3v1.5m.4 38.5v1.5m.8-48.3v1.5m.2 42.3v1.5m.8 2.9v1.5m1.3-1.7v1.5m.7 .5v1.5m1.2-51.4v1.5m.3 51.6v1.5m.4-61.1v1.5m1.5 3.7v1.5m-.3-4.7v1.5m1-5.8v1.5m0-9.4v1.5m1.4 45.7v1.5m.6-16.7v1.5m.4-47.7v1.5m.6 5.2v1.5m.7 44.9v1.5m.1-51.3v1.5m1.4 1v1.5m.2 .7v1.5m.5 2.3v1.5m-.2 4.2v1.5m1.2 2.7v1.5m1.4-12.6v1.5m-.2 52.4v1.5m.8-51.4v1.5m.3-2.1v1.5m1-19.3v1.5m1 51.2v1.5m-.3-.4v1.5m1.5-72.5v1.5m-.3 10.9v1.5m1.3 44.8v1.5m0-11v1.5m.9 .6v1.5m-.5-6.8v1.5m1-52.6v1.5m.2 45.9v1.5m1.2-1.8v1.5m-.2-48.5v1.5m1 52.4v1.5m1.2-6v1.5m-.5-46.9v1.5m1.5 49.5v1.5m-.1 8.1v1.5m1.3-12.2v1.5m-.1-49v1.5m1.1-3.6v1.5m-.1 56.6v1.5m1.1-5.4v1.5m-.4-9.7v1.5m.9 2.1v1.5m0 4.8v1.5" stroke="#41BDEC" stroke-width="1.6" fill="none"/>
<path d="M108.8 991.7v49.4m1-48.3v44.5m1-46.2v43m1-36.6v42.4m1-49.5v40.2m1-35.9v34.2m1-35.5v31.2m1-35.7v34.9m1-33v35.8m1-33.7v30.9m1-48.8v47m1-29v29.2m1-34v33.2m1-28.4v24.8m1-26v27.2m1-29.3v28.8m1-29.9v29.3m1-29.9v29.1m1-25.7v22.4m1-24.5v24.8m1-28.1v25.3m1-25.1v25.8m1-26.5v25.1m1-31.8v27.9m1-31.8v27.1m1-27.5v20.7m1-30.6v30.2m1-25.2v21.3m1-22.5v23.4m1-25.7v25.2m1-26.9v22.6m1-20.9v22.2m1-22.5v19m1-21.7v20.5m1-21.7v22.1m1-20.2v20m1-23.3v19.9m1-22.1v20.8m1-19v17.4m1-17v16.9m1-16.9v17.6m1-20.6v19m1-28.1v30.5m1-20.9v20.5m1-22.6v20.7m1-19.9v22.7m1-20.7v17.5m1-20.3v21.7m1-21.6v20.3m1-22.4v18.8m1-19.6v21.3m1-18.4v17.5m1-20.8v18.2m1-16.3v18.1m1-19.7v18.7m1-14.8v14.8m1-16.5v20.9m1-18.4v18.8m1-18.9v20.9m1-21.4v20m1-15.7v18.7m1-18.8v22m1-15.5v17.1m1-17v22.5m1-16.6v17.1m1-14.5v16.9m1-18.4v21.5m1-19.4v18.5m1-16.4v18.6m1-17v17.7m1-17.1v19.4m1-14.3v19.5m1-18.2v19.9m1-19.3v29.6m1-28.6v21m1-25.3v21.2m1-21.2v19.5m1-24.3v22.6m1-24.3v22.9m1-21.8v19.4m1-21.4v17.3m1-17.9v15.3m1-20.5v16.9m1-17.1v15.9m1-18.8v17.1m1-17.7v14.2m1-17.4v16.5m1-19.4v16.3m1-16.6v14.3m1-18.6v16.7m1-17.9v17.4m1-6.6v21.6m1-11.2v17.7m1-15.8v18.7m1-18v20m1-20.5v21.2m1-22.7v35.2m1-32.9v22m1-24v24m1-22.4v24.4m1-23.9v24.4m1-21.1v20.6m1-21.6v25.9m1-26.3v23.6m1-20v22m1-23.1v22.4m1-21.4v22.1m1-21.5v24.7m1-24.2v21.6m1-18.8v19.8m1-23.7v27m1-22.5v21.4m1-23.5v24.8m1-28.8v28.5m1-29v27.6m1-24.2v23.4m1-26.9v23.2m1-23.2v21.9m1-24.4v27.5m1-24.3v21.7m1-25.1v22.9m1-25.3v24.4m1-21.1v24.5m1-28.1v24.6m1-22.1v21.8m1-23.8v22.3m1-18.7v21.3m1-24v22.6m1-22.7v22.1m1-18.5v22.4m1-26v25.9m1-26.6v26.6m1-25.6v21.7m1-20.3v22.2m1-22.9v24.8m1-24.5v20.8m1-21.8v22.7m1-20.7v22m1-20.3v20.1m1-20.6v18.1m1-21.3v21.3m1-19.8v20m1-21.9v21m1-21.3v24m1-24.5v23.9m1-23.5v23.6m1-23v22.9m1-21.5v20.9m1-23.2v19.7m1-19.5v21.9m1-20.2v19.2m1-21.3v18.6m1-20.4v20.3m1-17.7v16.2m1-17.2v19.3m1-19.8v21m1-17.3v15.9m1-18.5v19m1-16.5v15.1m1-16.7v18.3m1-17.1v14.2m1-14.5v15.6m1-16.5v15.3m1-14.9v17.2m1-14.2v17.9m1-17.6v17.5m1-16.6v19.4m1-18.2v20.3m1-16.9v19.3m1-20.5v23.4m1-19.6v21.5m1-18.3v19.9m1-19.3v17.4m1-16v19m1-16.8v18.2m1-16.9v18.9m1-12.9v25.2m1-12v21.5m1-12.1v27.7m1-7.1v27m1-12.8v31.5m1-10.6v25.7m1-19.5v26m1-29.4v31.8m1-39v25m1-47.6v29.6m1-55.8v34.7m1-45v33.5m1-36.4v28.5m1-37v26.6m1-36.1v24.9m1-35.6v27.1m1-32.5v18.8m1-26.7v16.8m1-27v16.3m1-15.6v15.1m1-14.2v15.8m1-16.1v17.8m1-16.7v15.2m1-17.7v18.7m1-16.5v18.3m1-20.9v20m1-19.7v22.3m1-19.4v18.8m1-19.4v21.4m1-18.5v19.6m1-22.9v22.7m1-20v17.9m1-18.4v18.9m1-20.3v23.3m1-19.3v17m1-17.4v19.2m1-20.4v20.2m1-20v17.4m1-17.9v20.2m1-20.3v20m1-19.3v24.3m1-23.7v18.1m1-19.4v20.6m1-22.2v19.9m1-18.3v19.6m1-20.5v19.1m1-19v18.4m1-18.2v19.9m1-17.6v16.4m1-18.4v21.3m1-22.5v21.5m1-18.2v19.5m1-20.3v20.3m1-19v16.5m1-18v18.1m1-17.8v18.9m1-17.8v18.3m1-19.7v21.2m1-21.7v19.9m1-19.6v18.3m1-19.3v21.4m1-19.3v20.1m1-20.4v20.7m1-20.1v20.6m1-20.4v17m1-18.3v18.1m1-17.6v30.3m1-30.6v21.7m1-23.3v21.5m1-21.7v22.5m1-22.4v20.5m1-19.6v19.9m1-17.6v20.7m1-22.9v20.4m1-16.8v18m1-20.6v19.1m1-18.4v21m1-20.1v25.4m1-25.6v18.4m1-20.5v19.2m1-22.6v19.8m1-23.2v22.2m1-22.3v18.2m1-21v15.8m1-18.4v21.4m1-18.4v16.9m1-19v19.3m1-17.8v17.7m1-17.4v15.3m1-14.6v17.2m1-16.5v16.2m1-17.8v19.9m1-18.8v19m1-19.9v17.3m1-19.5v19.8m1-18.6v16.3m1-18.2v20.9m1-21.1v18.6m1-19.8v20.9m1-20.4v18.4m1-17.1v19.3m1-17.7v15.5m1-17.5v21.1m1-20.9v17.8m1-15v15.5m1-18.9v19.6m1-19.9v17.5m1-16.3v16.3m1-17.8v16.9m1-18.4v18m1-18v20.3m1-18.8v16m1-18.9v16.8m1-19.1v20.5m1-18.8v17.8m1-18.7v15.4m1-18.1v18.7m1-19.3v21.6m1-19.1v18.7m1-21.3v20.4m1-20.2v18m1-16.5v20.4m1-25.5v21.7m1-19.9v23.3m1-21.4v21.1m1-20v19.6m1-18.8v17.7m1-17.8v17.7m1-18.1v18.2m1-20.7v22.6m1-20v18.8m1-21.3v22.2m1-23.1v20m1-18.9v21.3m1-22.9v22.7m1-20.5v20.9m1-23.4v21.5m1-18.5v17.5m1-20.4v19.9m1-17v19m1-19.7v16.9m1-19.8v21.1m1-19.7v18.4m1-18.7v21.9m1-21.3v19.4m1-18.1v21.1m1-20.4v20.2m1-11.3v16.5m1-10.1v20.3m1-8.7v19.3m1-15.6v21m1-16.8v17.7m1-14.8v21.3m1-17v20.3m1-20.2v17.7m1-16.3v18.1m1-19v16m1-16.2v16.6m1-20.1v19.3m1-16v15.5m1-19v19.3m1-18.8v17.2m1-19.2v18.6m1-20v17.2m1-21.8v21m1-23.3v20.9m1-20.9v20.6m1-19.1v19.6m1-18.6v22.3m1-23.5v20.5m1-23.4v25.1m1-22.9v21.4m1-21.8v21m1-21.3v23.7m1-33.8v34.9m1-23.7v20.5m1-26.7v26.6m1-20.8v24.6m1-27.2v23.7m1-21.8v22.4m1-22.7v21.2m1-19.4v19.9m1-24.3v24.2m1-20.3v21.1m1-20.7v20m1-22.1v27m1-27.6v27.6m1-26.2v22.6m1-19.8v19.7m1-22.6v22.9m1-31.3v24.5m1-32.1v25.8m1-35.4v27m1-32v24.6m1-32.8v21.9m1-28.9v23.3m1-31.5v22.9m1-25.5v23.5m1-22.9v17.6m1-21.4v19.6m1-18.2v15.7m1-21.3v20m1-18.7v20.2m1-24.9v20.9m1-18.5v17.9m1-16.2v17.3m1-19.3v22.9m1-21.2v19.4m1-18.1v20.2m1-21.3v23.1m1-21.8v20.6m1-18.7v22.2m1-17.4v21.1m1-14.7v19.5m1-17.7v19.7m1-14.3v16.3m1-13.2v18.9m1-16.5v18.2m1-18.4v19.5m1-15.1v15m1-11.4v13.4m1-12.9v14.5m1-15.1v19.5m1-18.8v12.5m1-14.2v16.3m1-15.5v14.5m1-13.7v13.5m1-14.1v14.5m1-14.1v14.2m1-12.6v13.3m1-14.9v14.7m1-14.8v16.2m1-15.6v13.1m1-11.4v14.1m1-14v12.9m1-15.9v16.6m1-15.7v13.8m1-12.2v12.8m1-13.9v12.7m1-21.9v20.4m1-17.5v15.8m1-19v14.8m1-16.5v14.8m1-15.4v14m1-20.5v14.7m1-21.3v17.9m1-24v21m1-30.2v23.3m1-34.3v24.7m1-39.3v28.3m1-43.3v34.5m1-45.8v34.2m1-44v35.1m1-40.9v31.6m1-41.7v34.4m1-40.9v34.3m1-40.3v34.2m1-29.9v35.1m1-25.8v30.5m1-22.3v35.3m1-20.8v31.5m1-19.5v30.1m1-19.6v33.8m1-24.7v34.6m1-19.3v27.9m1-19.1v29.8m1-13v20.2m1-19.3v26.5m1-15.8v21.8m1-17.3v23.5m1-16v24.3m1-21.5v22m1-26.2v28.1m1-27.3v22.1m1-18.2v20.8m1-24.7v24.1m1-22v24.3m1-24.1v21.1m1-23.8v25.2m1-24.1v22.7m1-22.4v25.3m1-26.5v26.9m1-25.4v22m1-23.2v25.2m1-21v18.9m1-22.2v26.8m1-25.6v24m1-22.1v21.7m1-23.9v21.7m1-19.2v19.8m1-22.5v23m1-20.9v22.1m1-23.2v20.3m1-20.7v22.5m1-20.9v19.8m1-22.6v22m1-20.1v23.1m1-23.3v24.6m1-26.2v24.2m1-22.4v25.1m1-25.6v22m1-20.8v20.4m1-19.6v23m1-26.9v25.8m1-22.6v22m1-22.1v24.1m1-24.1v24m1-26.9v27.5m1-25.2v24.8m1-26.6v26.5m1-26.2v25.9m1-24v22m1-23v23.8m1-20.5v20.8m1-18.8v24.9m1-21.9v27m1-23.4v27.8m1-20.3v21.5m1-21.2v27.8m1-25.6v24.9m1-19.7v23.1m1-27.4v30.3m1-26.9v24.7m1-23.8v24.3m1-23.9v28.2m1-29.4v28.5m1-27v29m1-22.4v27.5m1-25.9v32.6m1-26.3v33.1m1-32.3v35.7m1-25.5v33.4m1-30.1v36.1m1-32.5v29.5m1-32.4v41.8m1-42.7v31.8m1-40.4v36.1m1-41.7v35m1-34v32.1m1-41.6v36.8m1-37.8v32.9m1-38v28.5m1-33.5v31.3m1-36.4v26.6m1-25.3v26m1-31.7v42.3m1-40.2v23.5m1-23v21.7m1-22.3v24.4m1-26.3v23.6m1-24.8v24.3m1-21.8v20.1m1-21.8v19.6m1-23v22.5m1-19.9v19.7m1-23.4v24m1-22.4v21.1m1-18.8v17.5m1-20.2v22.6m1-20.3v20.1m1-19.4v17.6m1-18.6v23.2m1-20.8v17.7m1-17.9v17m1-19.7v23.3m1-23.4v22.5m1-19.4v20.6m1-22.5v19.8m1-19.6v21m1-22.5v19.8m1-19.1v19.8m1-19.2v20m1-17v20.6m1-23.6v21.4m1-20.2v22.1m1-20.3v17.7m1-20v22.5m1-23.2v20m1-20.4v22.1m1-21.7v20.8m1-20v17.4m1-17.8v18.2m1-19.1v19.6m1-17.2v16.5m1-18.4v21.5m1-19.3v20.3m1-23.3v21.2m1-22.1v23.5m1-20.1v17.2m1-18.9v19.2m1-18.4v22.2m1-27.4v24.7m1-21.5v22.6m1-22.6v23.2m1-23.5v22.3m1-18.5v25.8m1-27.1v20m1-20.1v21m1-23.9v21.9m1-20.2v22.8m1-21v17.4m1-17.6v18.3m1-21.1v22.4m1-22v19.7m1-19.8v19.7m1-19.7v22.6m1-22.9v21.7m1-22v20.1m1-21.9v20.1m1-18.5v20.6m1-20.1v21.6m1-26v23m1-23v21.5m1-21.7v21.5m1-21.4v23.7m1-23.6v22.5m1-22.6v31.9m1-28.6v18.6m1-21.8v20.6m1-17.6v17.6m1-16.9v18.2m1-21.4v23.8m1-23.3v22.9m1-21.3v22.3m1-22.9v21.8m1-22.4v19.8m1-19.3v18.6m1-21.6v20.5m1-17.9v17.8m1-18.7v22.6m1-22.2v22.8m1-22.5v21.2m1-23.4v22.5m1-20.9v22.2m1-22.6v18.4m1-21.7v33.8m1-30.4v22.5m1-22.3v20.6m1-20.4v20.9m1-19.3v21.8m1-24.2v23.7m1-23.9v24.8m1-22.3v22.3m1-21.9v22.8m1-24.3v26.3m1-23.8v26.1m1-24.8v22.1m1-24v24.6m1-25.4v25.5m1-23.8v22.7m1-25.4v25m1-23.8v23.2m1-26.1v30.3m1-29.1v24.7m1-21.5v24.9m1-23.9v20.7m1-24.7v28.7m1-24.5v25.9m1-31.3v28.8m1-28.3v27.5m1-24.9v26.2m1-27.6v25.5m1-27.7v28.9m1-27.6v26m1-27.3v27.6m1-27.1v25.3m1-43.1v41.3m1-24.9v23.6m1-31.2v27.8m1-35.9v28.2m1-34.6v32.2m1-34.8v32.8m1-29.6v29.1m1-29v25.8m1-27.8v31.8m1-29.3v27.6m1-28.5v25m1-27v27.6m1-29.1v29.3m1-26v29.2m1-30.1v28.6m1-27.8v27.6m1-29.4v31.5m1-28.1v30.9m1-35.3v30.9m1-27.9v26.8m1-25v29.8m1-29v27m1-30.3v28.3m1-30.1v29m1-39.8v45m1-32.2v26.4m1-25.5v25.4m1-29.9v35.3m1-31.8v26.2m1-8v26.9m1-2.7v21.6m1-18.2v23.1m1-22.4v23.5m1-20.4v22.3m1-23.2v21.3m1-19.6v24.4m1-20.9v21.9m1-21.4v23.1m1-21.4v23.7m1-22.3v21.5m1-21.4v21.3m1-20v22.4m1-21.8v20.7m1-21.8v22.9m1-20.1v24.6m1-23.6v23m1-21.6v20.5m1-21.7v22.6m1-21.5v24m1-25.2v24.8m1-21.3v21.4m1-19.8v19.6m1-21.2v24.7m1-22.4v24.2m1-22.2v19.8m1-25v23.4m1-28v26.2m1-32.5v28m1-28.5v23.7m1-30v23.4m1-28.4v21.6m1-31.5v23.8m1-33.5v23.5m1-25.6v25.5m1-26.9v28.2m1-26.1v21m1-25.7v23.9m1-21.5v21.4m1-25.3v23m1-24.2v23m1-24.7v24.3m1-22.6v24.5m1-27.4v23.6m1-38.4v38.4m1-23.2v20.9m1-23.8v24.1m1-26v23.8m1-22.8v27.3m1-25.3v24.5m1-23v24.3m1-25.6v21.7m1-20.7v24.6m1-26.6v26.9m1-25.5v24.2m1-21.2v22.1m1-24.3v28m1-27.2v27.7m1-24.2v26m1-24v20.3m1-23.6v27.1m1-25.1v25.1m1-25.1v25.6m1-22.2v22.9m1-21.1v19.2m1-20.2v20.6m1-24.3v25.9m1-23v25.7m1-27.9v24.8m1-24.9v28.4m1-23.1v23.3m1-25.7v22.2m1-22.4v22.4m1-23.7v22m1-23.7v24.7m1-27.4v25.4m1-26.2v22m1-20.3v20m1-24.6v24.4m1-25.8v27.2m1-26.6v25.4m1-26.8v26.1m1-25v23.2m1-27.4v23.7m1-23.5v23.5m1-20.1v23.6m1-27.4v27m1-22.6v20.2m1-23.7v27.7m1-26.5v24.1m1-19.7v22.3m1-24.1v27.3m1-26.9v25.7m1-24.7v25.3m1-21.4v24.5m1-24.2v22.6m1-22.8v24.6m1-23.9v22.6m1-20.6v24.9m1-39.5v35.5m1-21.8v22m1-25v25.7m1-23v22.4m1-24.9v25.4m1-23.9v19.4m1-20.9v22.5m1-25.3v25.9m1-28.7v23.7m1-20.1v21.9m1-23.6v23m1-24.8v22.8m1-23.1v24.1m1-28.1v25.2m1-23.9v22.5m1-23.9v26.7m1-22.4v20.2m1-20v21.6m1-25.1v30m1-28.1v24.7m1-21.1v25m1-26.6v28.4m1-33v42.1m1-16.9v25.7m1-17.2v32.9m1-22.4v34.6m1-36.6v27.8m1-37.7v33.5m1-44.4v38.6m1-43.4v36.9m1-41.8v36m1-32.3v32.8m1-37.2v37.4m1-34v41m1-42.5v42.8m1-40.4v35.9m1-35.7v37.7m1-35.8v31.9m1-37.1v40.8m1-41.1v36.4m1-38.7v39.8m1-37.7v36.1m1-38.1v58m1-56.9v34.2m1-29.2v31.8m1-34.9v36.7m1-36.2v34.2m1-34v33.4m1-32.2v34.2m1-57.5v61.6m1-40.6v37.7m1-35.9v39.4m1-36.8v36.1m1-38.7v34.6m1-31.8v32.4m1-32.7v33.5m1-32.4v31.9m1-36.2v38m1-28.3v32.1m1-31.5v39.5m1-29.6v30.7m1-27.3v31.8m1-28.1v29.7m1-28v26.1m1-27.8v28.8m1-41.5v42.3m1-30.5v37.9m1-36.2v34.8m1-33.2v34.8m1-30.5v32.7m1-34.4v33.9m1-34.1v36.3m1-36.9v33.1m1-33.7v34.2m1-35.3v29.4m1-30.2v35.3m1-34.3v42.5m1-42v30.9m1-35.6v35.6m1-44.3v38.7m1-41.1v29.7m1-39.3v32.1m1-34.1v39.6m1-37.8v38.3m1-37v32.7m1-37.8v35.6m1-37.2v35.9m1-33.5v34.2m1-32.5v31.9m1-33.1v39.4m1-40v32.9m1-29.4v32.5m1-39v42.1m1-41.6v40m1-34.7v29.7m1-32.5v37.5m1-38.9v37m1-31.3v30.4m1-33.9v37.1m1-36.7v35.7m1-32.7v36.2m1-35.4v42.1m1-39.3v30.9m1-33.3v39m1-38.2v33.1m1-38.6v37.9m1-53.6v48.3m1-73.1v55.7m1-64.6v66.3m1-68.4v53.8m1-49v49m1-55.1v47.4m1-40.4v36.4m1-36v40.7m1-42.3v40.6m1-41.7v44.8m1-44.8v47.4m1-45.8v43.1m1-32.9v42.3m1-24.6v26.6m1-15.8v25.9m1-17.3v26.1m1-21.9v22.4m1-23.9v24.3m1-25v23.7m1-22.9v25.9m1-25.7v25.2m1-27.5v27.6m1-26.7v24m1-25.2v26.5m1-25.8v26.3m1-24.3v21.1m1-21.5v24.7m1-27.9v23.3m1-18.4v19.2m1-23.6v27.3m1-23v21.1m1-23.8v37.4m1-34.8v21.9m1-22v22.8m1-25.6v25.7m1-25.4v27.5m1-26v24.9m1-23.3v23.5m1-19.4v27.1m1-25.9v25.1m1-23.3v29.9m1-29.2v26.9m1-29.1v30.2m1-31.9v30.8m1-26.9v25.5m1-28.5v28.1m1-27v26.6m1-26v26.8m1-31.1v29.2m1-27.8v31.3m1-30.5v27.1m1-26.1v26.8m1-28.1v25.3m1-23.3v23.1m1-23.4v25.5m1-25.3v25m1-28.5v26.9m1-22.4v22.3m1-27.9v28.6m1-23.2v22.6m1-23.5v24.7m1-25.5v25.6m1-25.8v27.9m1-26.6v29.5m1-31.7v28.4m1-27.5v25.3m1-27.6v28.6m1-25.8v23.5m1-24.8v29.7m1-28.4v24m1-29v32.5m1-28.3v23.3m1-23.9v24.9m1-29v33.4m1-26.3v28.6m1-22v23.1m1-21.9v25.2m1-19v25.1m1-19.3v22.1m1-22.7v21.9m1-22.9v23.7m1-27.6v21.5m1-29.2v30.6m1-34.9v26.1m1-28.8v27.7m1-30.7v27.6m1-32.4v28.8m1-30.8v28.4m1-26.3v24.8m1-24.1v25.7m1-27.6v28.6m1-27.2v24.8m1-27.6v28.8m1-28.1v26.6m1-27v25.3m1-30.1v32.4m1-29v28.9m1-27.4v24.7m1-26.9v26.1m1-27.6v28.2m1-27.5v31.7m1-29.6v29.6m1-27.9v24m1-29.9v30.3m1-25.6v25.4m1-25.5v23.8m1-25.2v28.7m1-27.6v26.1m1-31v30.2m1-28.4v30.9m1-30.5v26.1m1-26.1v26.6m1-26.3v25.2m1-26.1v24.1m1-27.2v25.3m1-22.7v24.5m1-25.1v23.8m1-24.7v19.8m1-20.4v21.5m1-20.3v23.8m1-23v23.7m1-21.8v20m1-19.2v21.5m1-21.4v19.4m1-19.5v20.2m1-18.9v20.5m1-23.7v23.4m1-19.2v19.2m1-20v18m1-16.9v18.8m1-18.5v17.4m1-20v17.8m1-15.6v16.9m1-22.9v21.8m1-18.7v21.6m1-19.1v17.1m1-15.5v17.3m1-17.4v15.8m1-17.3v18.5m1 2.5v20.1m1 9.2v21m1-15.1v19.3m1-19.5v21.1m1-19.8v19.1m1-20.5v19.1m1-17.7v19.1m1-17.7v17.5m1-18v19.3m1-18.5v18.5m1-18.5v17.2m1-21.1v23.2m1-19.9v19.5m1-15.3v20.5m1-15.4v21.5m1-17v23m1-28.6v24.3m1-24.8v29.3m1-34.3v19.5m1-25.3v20.1m1-28.6v24m1-25.2v22.1m1-22.6v22.7m1-27.8v25.8m1-23.1v23.3m1-29.3v28.1m1-27v24.7m1-25.7v21.5m1-26.7v24.9m1-25v21.9m1-22.4v19.6m1-23.3v24.6m1-25.8v20.1m1-25.8v23.8m1-25.8v28.2m1-28.3v27.3m1-25.7v21.5m1-23.5v22.9m1-22.1v23.6m1-30v27.7m1-25.3v24.5m1-28.8v25m1-30.6v27.7m1-32.1v24.2m1-31.8v28.7m1-34.1v33.2m1-41.8v34.6m1-40.9v35.6m1-37.2v34.4m1-21.9v28.8m1-25.4v34.3m1-29.5v29.3m1-30.4v35.5m1-33.6v29.7m1-31.5v33.6m1-27.9v29.1m1-29.6v29.5m1-32.1v35.7m1-34.9v30.1m1-27.6v26.6m1-30.9v29.2m1-28.6v33.7m1-35.9v30.6m1-29.2v34.8m1-36.6v33m1-45.8v48.9m1-34.5v35.8m1-37.5v33.3m1-33.5v35.5m1-35.1v37.2m1-36.3v32.1m1-33.2v32.3m1-33v36.6m1-30.5v29.2m1-32.5v31.9m1-34v32.8m1-27.3v30.7m1-34.2v30.1m1-31.6v34.9m1-29.1v26.6m1-30.9v35.7m1-35.2v30.9m1-36.7v32.9m1-40.6v37m1-40v33.2m1-40v36.6m1-42.7v53.4m1-58.7v45.7m1-39.5v43.7m1-49.8v47.1m1-49.5v50.3m1-44.9v45.8m1-49.2v48.7m1-47v41.6m1-40.2v44.5m1-46.2v41.9m1-43.3v45.4m1-39.3v39.1m1-37.3v43m1-44.7v43.6m1-43.9v42.3m1-48.3v48m1-40.5v42.7m1-45.8v43.6m1-47.8v46.3m1-49.4v52m1-46.9v41.4m1-40.2v38m1-41.3v48.2m1-52.6v51.4m1-43.5v43.4m1-46.2v42.6m1-39.6v41.6m1-32.7v37.2m1-31v37m1-25.9v34.5m1-27.8v34.2m1-33.3v35.4m1-32.6v29.2m1-28.7v32.5m1-33.6v29.2m1-26.3v27.4m1-32.9v35.1m1-30.5v28.1m1-29.1v31.7m1-34.7v29.7m1-27.9v31.7m1-30.6v30.7m1-42.4v41.8m1-32v29.9m1-27.9v29m1-32.3v29.1m1-26.3v31m1-29.9v25.5m1-26.6v31.4m1-33.5v30.1m1-30.7v34.8m1-29.1v28.2m1-22.1v30.1m1-24.1v34.6m1-19.8v27.4m1-22.3v22.6m1-20.8v24m1-15.6v18.8m1-25.8v27.5m1-35.8v18.9m1-29.5v21m1-27.1v27.3m1-29.4v22.9m1-24.3v24.1m1-27.3v25.3m1-32.9v28.6m1-31.2v25.4m1-27.4v24.2m1-27.9v23.9m1-29.2v30.5m1-28.1v23.6m1-26.3v25.8m1-31.7v25m1-29.9v28.1m1-28.2v28.1m1-32.4v30.9m1-35v28.5m1-35.9v34m1-34v32m1-37.4v28.4m1-30.5v34.4m1-33v27m1-32v30.5m1-33.2v29.1m1-34.9v34.3m1-36.2v34.3m1-38.3v34.5m1-34.8v36.7m1-52.1v46.1m1-33.8v52.4m1-52.5v34.2m1-38.1v38m1-44.6v46.1m1-45.4v38.8m1-46.3v47.1m1-46.2v43.9m1-42.1v45.9m1-45.5v47.2m1-54v57.3m1-53v51.2m1-56.8v54.7m1-49.1v51.9m1-46.2v41.8m1-45.8v55.8m1-59.7v61.1m1-53.2v47.6m1-53.5v57.4m1-57v59.2m1-55.7v45.6m1-44.6v47.4m1-45.4v46.4m1-50.9v43.1m1-39.8v36.9m1-42.4v48.7m1-50.7v49.5m1-43.3v41.9m1-39.3v39.1m1-39.6v39.1m1-34.5v34.4m1-28.4v36.3m1-36.8v37.1m1-36.1v41.7m1-35.2v31.2m1-25.9v28.4m1-27.1v31.3m1-26v27.9m1-25.7v30.5m1-24.4v30.7m1-28.7v31.3m1-22.3v31.7m1-26.1v35.7m1-29.7v34.5m1-25.3v33.9m1-26.7v32.4m1-19.5v29.8m1-15.7v23.5m1-27.2v26.5m1-24.2v25.1m1-27.1v26.5m1-31v27.8m1-29.4v26.2m1-26.4v26.8m1-34.5v27.5m1-26.7v25.3m1-27.7v25m1-31.4v26.1m1-27.5v25.2m1-32.4v32.6m1-34.3v30.6m1-36.4v32.1m1-36.6v28.8m1-28.8v30.1m1-35.3v31.1m1-36.6v31.1m1-37.7v31.1m1-35v32.1m1-35.7v30.4m1-35.9v30.8m1-39.4v38.1m1-43.9v36.9m1-42.4v37.9m1-50.3v48.7m1-48.3v44m1-47.6v47.7m1-52.9v46.4m1-47.7v46.1m1-57.6v45.1m1-49.4v53.4m1-54.1v50.4" stroke="#E9242A" stroke-width="1.35" fill="none"/><path d="M109.1 988.3v1.5m.7 3.2v1.5m0-1.8v1.5m1.3 46.5v1.5m1-7v1.5m-.6 2.4v1.5m1.6-48.4v1.5m.7 39.9v1.5m.6-1.7v1.5m1.1-42.8v1.5m1.3-2.8v1.5m-.4 32.5v1.5m1.1 .5v1.5m-.1-2.8v1.5m1.4-4.6v1.5m0-31.7v1.5m.8 32.8v1.5m-.2-37.7v1.5m1.7-4.4v1.5m-.3 2.7v1.5m1-5.7v1.5m.4 31.4v1.5m.5-36.1v1.5m.1 36.6v1.5m.8-34.7v1.5m1.5 29.8v1.5m1.1-5.9v1.5m.3-4.3v1.5m.4 1.5v1.5m1.1-4.5v1.5m-.3-32.6v1.5m1.3-.2v1.5m0-1.8v1.5m.9 25v1.5m.7-30.6v1.5m.1-.1v1.5m.9-3.6v1.5m.2-2v1.5m0-46.5v1.5m.8 37v1.5m1.2 21.6v1.5m.3-29.5v1.5m.7-4.9v1.5m.1-1.1v1.5m.5 1.3v1.5m1.5 24v1.5m-.4-31.3v1.5m1.2 27.2v1.5m1.1-5.1v1.5m-.3-26.9v1.5m1.4 23.5v1.5m-.1-2.6v1.5m.9-26.5v1.5m1.3 20.3v1.5m-.1-2.5v1.5m.6-1.2v1.5m1.5 .4v1.5m-.1-4.5v1.5m.6-.4v1.5m.2-5v1.5m.8 2.7v1.5m.6-28v1.5m.4-3v1.5m1.2-1.5v1.5m.2 21.9v1.5m1-23.5v1.5m-.1 20.7v1.5m1.3-26v1.5m-.5 .1v1.5m1.3-3.7v1.5m0 23.8v1.5m.8-24.5v1.5m.9-1.7v1.5m.6 19.5v1.5m.8-25.9v1.5m1 24.3v1.5m.6-2.5v1.5m.5-25.5v1.5m1 18.5v1.5m-.3-21.2v1.5m.9-2.8v1.5m.3 21v1.5m.8-4.3v1.5m0-21.8v1.5m.8 18.4v1.5m.4 1.4v1.5m1.1-29.8v1.5m0 25.1v1.5m1-4.8v1.5m.1-19.7v1.5m.6-1.2v1.5m.8 .3v1.5m-.2-4.6v1.5m1.2 1.8v1.5m0 17.4v1.5m1.3 2.4v1.5m.2-23.6v1.5m.6-2.5v1.5m1.5 21.9v1.5m.4 .6v1.5m1.3-20v1.5m.9 1.7v1.5m-.4-6.8v1.5m1.4 29.9v1.5m.7-1.5v1.5m1.4 3.3v1.5m-.2-2.2v1.5m.8-.4v1.5m1.1 2.7v1.5m1.4-1.6v1.5m-.3-3.8v1.5m.8-19.7v1.5m1.2 21.4v1.5m-.3-22.9v1.5m1.7-1.8v1.5m.7 30.1v1.5m1.2-29.3v1.5m.2 2.9v1.5m.9-3.1v1.5m.5 16.1v1.5m.9-4v1.5m.6-20.6v1.5m1.1-4.5v1.5m-.8 19.3v1.5m1.2-3.7v1.5m1.4-25.1v1.5m-.5 20.3v1.5m1.4-3v1.5m.6-25.2v1.5m1.3 16.3v1.5m.9-3.5v1.5m.9-21.6v1.5m.8-4v1.5m.3 15.2v1.5m1.1-19.9v1.5m.1 15.2v1.5m.6-20.7v1.5m.2-2.2v1.5m1.3 15.7v1.5m.1-2.8v1.5m.7 3.8v1.5m.6-31.2v1.5m1.3 7.4v1.5m-.3 23.6v1.5m1.5-14.3v1.5m1.1 .4v1.5m.6-1.9v1.5m.4 .7v1.5m.6-5.2v1.5m.1 25.1v1.5m.8 4.1v1.5m1-29.2v1.5m0-2.3v1.5m1.2 25v1.5m0-26.7v1.5m1.1 22.9v1.5m1.4-32v1.5m-.4 32.4v1.5m1-27.2v1.5m.6-1v1.5m.3-2.3v1.5m1.3 29.5v1.5m.1-1v1.5m.8-.9v1.5m-.3-5.4v1.5m1.2-25.9v1.5m1.2 24.3v1.5m-.3-2.9v1.5m1.2-24.3v1.5m.9-1.1v1.5m-.2-5.9v1.5m1.2 4.6v1.5m.1 23.1v1.5m.6-27.8v1.5m0-4v1.5m1.2 26.6v1.5m-.1 .1v1.5m1.3-27.3v1.5m1.2 20.8v1.5m.7 6.4v1.5m1.2-37.6v1.5m.6-4.3v1.5m.1 2v1.5m1.4 24.4v1.5m-.5-1.3v1.5m1.3-34.1v1.5m.8 4.5v1.5m.4 21.9v1.5m.8-.1v1.5m0-.1v1.5m1.3-3.9v1.5m-.1-1.1v1.5m.5-30v1.5m0 25.1v1.5m1.1-29.2v1.5m.4 30.3v1.5m.9-30.7v1.5m.5-1.7v1.5m.2-1.4v1.5m1 .2v1.5m-.1-3.3v1.5m1.2-1v1.5m1.2-1.3v1.5m-.2 28.5v1.5m1.2-34v1.5m1.1 28.9v1.5m1-4.6v1.5m.6-3.4v1.5m1.2-30.2v1.5m1.3 3.6v1.5m.4 24.2v1.5m1-2.9v1.5m1 1.6v1.5m.6-3v1.5m1-26v1.5m1 29v1.5m-.1-9.8v1.5m1 .7v1.5m0 .4v1.5m.9-27.3v1.5m.1-3v1.5m.8-3.1v1.5m-.4-1.2v1.5m1.6 24.1v1.5m-.5-26.6v1.5m1.2 22.5v1.5m.2-23.2v1.5m.5-4.1v1.5m.1-.9v1.5m1.1 23.2v1.5m-.1-4.1v1.5m1.6-23.9v1.5m.9 23.7v1.5m.8-28.7v1.5m0-.3v1.5m1.1-5.4v1.5m.5 2.9v1.5m1.4-3.6v1.5m1 24.6v1.5m-.3-30.1v1.5m.8 24.7v1.5m1-4.2v1.5m.5-20.8v1.5m.5-3v1.5m.4-.8v1.5m.7 .9v1.5m.2-7.9v1.5m.9 5.6v1.5m0 18.1v1.5m1.5 .8v1.5m.1-24v1.5m.2 15.8v1.5m.7-18.8v1.5m.3 18.8v1.5m1.4-23.4v1.5m-.2-1.9v1.5m1.4 23.4v1.5m-.5-.5v1.5m1.1-22.5v1.5m1.2-3.6v1.5m.8 22.2v1.5m1.1-18.5v1.5m.7 19.4v1.5m1-19.9v1.5m1.7 20.3v1.5m-.6-.7v1.5m1.5-23v1.5m0-1.8v1.5m.9-1v1.5m-.4 22.2v1.5m1.6-21.4v1.5m.6-2.7v1.5m-.3 2.1v1.5m1.6 20.4v1.5m-.6-22.7v1.5m1.3 32.5v1.5m.1-49.1v1.5m1.3 31.1v1.5m.9 10.4v1.5m.7 43.4v1.5m.5-.4v1.5m.5-15.1v1.5m0 31v1.5m.8-14.9v1.5m1.7 9.2v1.5m.5-2.5v1.5m.9-18.7v1.5m.2 1.9v1.5m1.1 6.8v1.5m.2-30.6v1.5m.9-31.9v1.5m.2 41.4v1.5m.8-48.3v1.5m.5 29v1.5m1.3-14.6v1.5m1-44.8v1.5m.2-.5v1.5m1.1-7.4v1.5m.6-10.2v1.5m1.2 10.1v1.5m-.1-20v1.5m.8 8.6v1.5m1.3-22.7v1.5m.1 .9v1.5m.7 21.5v1.5m0-24.4v1.5m1.3 18.3v1.5m-.4 .3v1.5m1.3 1.7v1.5m-.2-25.3v1.5m.8 19.7v1.5m1.3-3.2v1.5m.3-22.3v1.5m.9 .5v1.5m-.6-4.5v1.5m1.7 1.7v1.5m.9-1.2v1.5m.1 17.9v1.5m1-23.7v1.5m-.5 22v1.5m1 1v1.5m-.1-26.4v1.5m.9-3.4v1.5m.6 26.2v1.5m.6 .3v1.5m1-5v1.5m1.3-2v1.5m1.1-22.3v1.5m-.3-5.1v1.5m1.4 25.5v1.5m.6-28.6v1.5m0 26.9v1.5m1.3-3.3v1.5m.1-2.2v1.5m.9-3.2v1.5m-.3-.2v1.5m.9-24.4v1.5m.2-6.6v1.5m.8 28.9v1.5m.3-4.6v1.5m1-1.8v1.5m.2-1.2v1.5m.3-2.7v1.5m1.3 1.1v1.5m.1-1.5v1.5m1.2-1.9v1.5m1-2.3v1.5m1.2 0v1.5m.7-23.6v1.5m.8-10.1v1.5m.3 30.7v1.5m.6-26.1v1.5m.2-3v1.5m1.2 24.6v1.5m1.1-2.3v1.5m.8-2.7v1.5m0-22.6v1.5m.8-1.3v1.5m.2-5v1.5m1.3 1.9v1.5m-.6 18.1v1.5m1.3 2.5v1.5m.8-4.7v1.5m.5-23.8v1.5m.9 .9v1.5m1 20.8v1.5m.6-3.9v1.5m.3-1.6v1.5m.9-22.9v1.5m.8-5.3v1.5m1.3 3.6v1.5m.9-3.1v1.5m.3 23.5v1.5m.3-28.7v1.5m.5 23.5v1.5m.4 2v1.5m.3-25.8v1.5m.7 20.5v1.5m1-3.7v1.5m1.4 1.7v1.5m1.2-25.5v1.5m.8-1.9v1.5m0-1.6v1.5m.6-1.8v1.5m1.6 22v1.5m.1-24.6v1.5m1.1-4.6v1.5m-.4 24.4v1.5m.8 3.5v1.5m.9-5.3v1.5m.5-24.6v1.5m.5-2.7v1.5m1 1.1v1.5m0-2.8v1.5m1 23v1.5m.2-25.6v1.5m.9-6.8v1.5m0-1.6v1.5m.9-1.6v1.5m.2-1.2v1.5m1.4 21.4v1.5m.1-25.5v1.5m.6-5.2v1.5m-.3 20.5v1.5m1.2-.7v1.5m-.3-24.3v1.5m1.7 17.2v1.5m1-21.7v1.5m.6-1.2v1.5m1.4 17v1.5m.7 0v1.5m-.3-2v1.5m1.1-22.7v1.5m.1-3.4v1.5m1.3 2v1.5m1.1 25.1v1.5m.8-8.5v1.5m-.3-.4v1.5m1.1-22.6v1.5m1 19.3v1.5m0-.3v1.5m1.2-25.5v1.5m.2 .7v1.5m.3-1.5v1.5m.7 16.9v1.5m.6 .2v1.5m1.4-2.5v1.5m-.2-3.6v1.5m1 1.7v1.5m-.1-22.8v1.5m1.1-1.3v1.5m0 18.1v1.5m1.2 3.1v1.5m-.6-30.5v1.5m1.6 27.4v1.5m.6-5.5v1.5m1.1-1.9v1.5m.2 .1v1.5m.6 1.3v1.5m.2 23v1.5m.6-27.9v1.5m1.7-1.1v1.5m.3-28v1.5m.3-3.5v1.5m1.5 22.5v1.5m-.1-2.6v1.5m1-2.3v1.5m-.3 1.9v1.5m1-4.6v1.5m-.1-23v1.5m.8-1.2v1.5m1.3-1.5v1.5m1.4 16.7v1.5m-.6-23.5v1.5m1.4-4.8v1.5m-.5-3.5v1.5m1.7 3.2v1.5m.3-4v1.5m1 .6v1.5m.4 25.4v1.5m.9-26.7v1.5m-.2-1.8v1.5m1-1.4v1.5m-.2 17.6v1.5m1.6-23.2v1.5m.6-.7v1.5m1.3 20.4v1.5m.5-1v1.5m1.1-2.3v1.5m.6-25.4v1.5m.7-3.1v1.5m.3 27.5v1.5m.3-24v1.5m1.1 21v1.5m.3-27.1v1.5m1.1 27.7v1.5m.3-7.5v1.5m.8-24.7v1.5m-.1 .2v1.5m1.2-9.2v1.5m.1 29.6v1.5m.7-27.4v1.5m.8 20.6v1.5m1.4-1.4v1.5m1-22.4v1.5m0-4.9v1.5m1.1 2.1v1.5m.6-1.6v1.5m-.3-2.3v1.5m1.2-3.2v1.5m-.2 .7v1.5m1.4 17.7v1.5m1.2 1.8v1.5m-.1-4.3v1.5m.5 6.3v1.5m1.4-30.7v1.5m-.2-.2v1.5m1.5-.7v1.5m-.6-2.6v1.5m.8 19.7v1.5m.4-25.4v1.5m.9 1.1v1.5m.2 22.9v1.5m1.2-25.6v1.5m.3 30.8v1.5m.1-25.9v1.5m1.3 7v1.5m.1 22v1.5m.7 8.5v1.5m1.3-20.8v1.5m-.4 23.8v1.5m1 2.6v1.5m1.4-20.8v1.5m1.1 .2v1.5m-.3-1.1v1.5m.8 .6v1.5m1.2 15.7v1.5m-.2-28.4v1.5m1.4 4.4v1.5m0-1.5v1.5m1.2 .8v1.5m.1-6.3v1.5m.7 .5v1.5m-.3 19v1.5m1.5 6.8v1.5m.1-7.1v1.5m.8-3.4v1.5m-.1 1.9v1.5m.9-7.2v1.5m-.1-1.9v1.5m.8-2.1v1.5m.1-27.2v1.5m1.2 24.2v1.5m0 3.4v1.5m1.3-5.9v1.5m-.1-29.8v1.5m.9-6.4v1.5m1 1v1.5m.9-1.7v1.5m.9-8.1v1.5m.9 39.2v1.5m.4-5.4v1.5m.6-32.1v1.5m.6-4.6v1.5m.3 28.9v1.5m.3-1.7v1.5m.7-25.4v1.5m0 24.7v1.5m1.6-3v1.5m-.1 .5v1.5m1-4.5v1.5m-.3-.4v1.5m1 .9v1.5m1.4-5.5v1.5m1 2.3v1.5m.4-32.2v1.5m1 24.5v1.5m1.4-.7v1.5m-.4-1.4v1.5m1.1-1.6v1.5m1.2-1.8v1.5m-.1-29.5v1.5m.9 3.3v1.5m1 23.2v1.5m1-1.1v1.5m.5-26.2v1.5m1 30.2v1.5m-.5-40.2v1.5m1 4.1v1.5m.9 24.5v1.5m.2-28v1.5m1 26v1.5m.4-30.4v1.5m.3-5.1v1.5m.5 23.9v1.5m.6-44.2v1.5m.1 33.6v1.5m1.3-11.5v1.5m1-34.1v1.5m.2 22.7v1.5m.6-6v1.5m.3-28.2v1.5m.5 18v1.5m.5-6.3v1.5m.8-8.7v1.5m1.4-4.3v1.5m1-4.7v1.5m-.1-21.1v1.5m1 19.6v1.5m.9-5.9v1.5m-.3-.6v1.5m.9 6v1.5m0-4.7v1.5m1.3-10.7v1.5m-.4-1.5v1.5m1.2 .7v1.5m.1-6v1.5m1.1-24v1.5m.9 25v1.5m1.1-21.8v1.5m1.2 23.3v1.5m.5-1.9v1.5m.5-4.4v1.5m.5-21.9v1.5m.4 19.2v1.5m.6 .2v1.5m-.1-25.2v1.5m.9 23.7v1.5m1.5-18.5v1.5m0-4.2v1.5m.8 2.2v1.5m-.1 24.6v1.5m1.4-23.1v1.5m-.5 23.5v1.5m1-1v1.5m-.1-.5v1.5m1.2 1.5v1.5m.4-.5v1.5m.8-23.8v1.5m.3 .9v1.5m.6 19.8v1.5m.3-21.8v1.5m1 2.2v1.5m.8 19.6v1.5m1.3-1.9v1.5m-.6-2.8v1.5m1.1-19.8v1.5m-.2 19.2v1.5m1.4-3.3v1.5m0-16.4v1.5m.6-3.6v1.5m.5 14.8v1.5m.8-15.2v1.5m.2 14.2v1.5m1.1-19.9v1.5m.2 15.1v1.5m1 1.9v1.5m1-18.2v1.5m0-2.6v1.5m.7 16v1.5m.6-2.7v1.5m.9-2.1v1.5m.5-16.3v1.5m1.2 13.4v1.5m-.4-1.6v1.5m.8-17.3v1.5m.4 14.5v1.5m.6-19v1.5m.6 15.7v1.5m.4-.2v1.5m.2-20.8v1.5m1.1-.5v1.5m1.1 15.3v1.5m-.3 2v1.5m1.5-4.2v1.5m0-17.9v1.5m.6-5v1.5m.2 16.2v1.5m.8-24.9v1.5m1.1 19.2v1.5m1.4-3.9v1.5m.9-25.3v1.5m0 18.6v1.5m.6-26.5v1.5m-.1 17.4v1.5m1.1-6.4v1.5m0 4v1.5m1-11.9v1.5m0 3.8v1.5m1.2-11.1v1.5m-.4-2.4v1.5m1-5v1.5m.7-35.9v1.5m.7-10.8v1.5m-.5-5.7v1.5m1.4 19.7v1.5m0-32.6v1.5m1.4-12.3v1.5m.8-12.5v1.5m1-12.3v1.5m-.2-1.9v1.5m1.4-8.2v1.5m-.6-.7v1.5m1.5 23.7v1.5m1.5-2.5v1.5m1 11.5v1.5m0-5.6v1.5m1.5 7.4v1.5m-.4 4v1.5m1 5.5v1.5m.3-3.1v1.5m.9 13.9v1.5m-.1-4.8v1.5m1.1-22.8v1.5m.9 45.1v1.5m.2-34.6v1.5m.7 47.5v1.5m.8-31.6v1.5m0-1.7v1.5m1.5 40.5v1.5m-.3 .9v1.5m.9-26.7v1.5m.5 28.5v1.5m.4 4v1.5m1.2 5.3v1.5m.5-25.7v1.5m.9-.5v1.5m.1 27.3v1.5m.4-.3v1.5m.1-29v1.5m1.5 .3v1.5m.2 28.3v1.5m.1-31.2v1.5m1.4 27.5v1.5m1.1-36.6v1.5m.5 30.8v1.5m.1-.8v1.5m1.3-29.4v1.5m0 30.6v1.5m1-32.5v1.5m.9 23.7v1.5m.9-29.3v1.5m.1 27.5v1.5m.7 1v1.5m1.5-6.2v1.5m.9-27.2v1.5m.1 0v1.5m.9 27.9v1.5m-.5-32.8v1.5m1.5 26.2v1.5m.5 0v1.5m1.5-26v1.5m-.2-1.1v1.5m1-5.2v1.5m1.2 26.9v1.5m-.1-3.7v1.5m.8 3.7v1.5m.9-33.7v1.5m.5 1.7v1.5m.5 22.7v1.5m1.6-1.6v1.5m.7-25.1v1.5m.1-2.8v1.5m.9-3v1.5m0 28.8v1.5m1.3-6.4v1.5m-.2 0v1.5m1.2 .2v1.5m0-.7v1.5m.5-.4v1.5m1.5-5.3v1.5m-.5-23.9v1.5m.9 23v1.5m1.2-3.2v1.5m.1-25.8v1.5m.9-1.4v1.5m.4-2.6v1.5m.5-3.2v1.5m0 25.9v1.5m1.2 1.3v1.5m1.4-27.9v1.5m-.4 24v1.5m1.4-27.2v1.5m.2-4.5v1.5m.5-11.1v1.5m.8 34.4v1.5m1 4.2v1.5m-.2-6.5v1.5m1.2 .9v1.5m.8-30.2v1.5m0-2.2v1.5m1.7 28.5v1.5m-.3-4.4v1.5m.8 3.6v1.5m.2-30v1.5m1.3 31v1.5m-.4-29v1.5m1 29.8v1.5m.7 .9v1.5m.2-1.7v1.5m1.3 6.3v1.5m-.6-31.6v1.5m1 30v1.5m.1-31.4v1.5m1.1-.1v1.5m.3 28.1v1.5m1.2-30.8v1.5m.5 30.8v1.5m.9-30v1.5m.6-1.8v1.5m.4 32.2v1.5m1.3-32.9v1.5m-.2-.1v1.5m.9-1.7v1.5m.4 30.1v1.5m.7 3.7v1.5m1.4-35.1v1.5m-.1 1.4v1.5m.9 36.5v1.5m0-1.5v1.5m.7 3.1v1.5m.2 .3v1.5m.8-35v1.5m.3-8.1v1.5m.8 51v1.5m.2 18.8v1.5m1.2-57.9v1.5m-.1-6.7v1.5m.6 49.1v1.5m.2-9.3v1.5m.9 12.2v1.5m1-57.3v1.5m.6-1.7v1.5m1-3.4v1.5m-.4 38.2v1.5m1.4-5.4v1.5m-.2-41.7v1.5m1-12.1v1.5m.1 1.6v1.5m.8 36.6v1.5m.2-.9v1.5m.5-10.2v1.5m-.1-38.4v1.5m1-5.3v1.5m1.3 25.3v1.5m-.4-31.9v1.5m1.6-5.9v1.5m.5 26v1.5m.1-3.6v1.5m1.2-.2v1.5m.9-29.8v1.5m1.2 28.6v1.5m-.4-32.6v1.5m1.6-4.8v1.5m.7 33.6v1.5m1-34.3v1.5m-.2 20.2v1.5m1.2-28v1.5m.8 23v1.5m.5 .3v1.5m1-28.9v1.5m-.3 23.8v1.5m1.3 6.4v1.5m-.3-10.8v1.5m1.1-.6v1.5m.6-26.2v1.5m.4 22.1v1.5m1 .1v1.5m.8-28.4v1.5m.3 24v1.5m.7-23.5v1.5m-.3 21.6v1.5m1.1-23.3v1.5m0-3.8v1.5m1.4-.5v1.5m.1-.9v1.5m.7 22.6v1.5m0-3.9v1.5m1.1-.2v1.5m-.3 2.6v1.5m1.4-3.8v1.5m.9 1v1.5m-.1-3.7v1.5m1.4-30.2v1.5m-.4 1.5v1.5m.8 21.8v1.5m.6-25.3v1.5m.6-1v1.5m.7-.5v1.5m1.6 22.6v1.5m.7-2.7v1.5m-.2-26v1.5m1.4 3.1v1.5m.7 21.3v1.5m.5-3v1.5m.4-28.2v1.5m1.7 28.1v1.5m1-30.5v1.5m-.4 22.7v1.5m.6 1.7v1.5m.4-3.8v1.5m1.1-23.7v1.5m-.2 22.6v1.5m1.1 2.4v1.5m-.2-8.1v1.5m.9-2.9v1.5m1.3-22.7v1.5m.3-2.4v1.5m.7 0v1.5m0 19.2v1.5m.8-22.4v1.5m.3-1.4v1.5m1 25.8v1.5m0-6.5v1.5m1.3-2.6v1.5m-.7-23.1v1.5m1.5-2.8v1.5m1 24.2v1.5m1.2-25.6v1.5m.6-2v1.5m0 22v1.5m1-25.2v1.5m.8-1.5v1.5m.5-1.7v1.5m.5 .6v1.5m.1 20.2v1.5m.8-2.4v1.5m1.1 .9v1.5m0-26v1.5m.9 25v1.5m1.4-33.3v1.5m-.4 30.5v1.5m1.4-28.8v1.5m-.3 22.6v1.5m1.2-2.3v1.5m.3-27.3v1.5m1.1 1.6v1.5m0 27.4v1.5m.9-5v1.5m.3-4.5v1.5m.3-.5v1.5m.1 25.1v1.5m1-22.8v1.5m.1-33v1.5m1.1 1.9v1.5m1.1 23.2v1.5m-.6-31.2v1.5m1.2 1.3v1.5m-.2 27.6v1.5m1.4-31.3v1.5m.2 .3v1.5m.4 21.7v1.5m1.3-27.1v1.5m1.2 21.6v1.5m.6-28.7v1.5m-.2 30.1v1.5m1.5-29.1v1.5m-.2 24.7v1.5m1.3-34.1v1.5m.5 25.6v1.5m.6-27.6v1.5m1.1 24.5v1.5m1-1.9v1.5m-.3-26.5v1.5m1 2.5v1.5m-.2-3v1.5m1.4-4.7v1.5m0 3v1.5m1-3.2v1.5m1-6.7v1.5m-.5 4.2v1.5m1-2.4v1.5m.1 1.3v1.5m1.2 21.3v1.5m-.4-2.2v1.5m1.3-1v1.5m.8-.1v1.5m1.5-2.8v1.5m-.6-23.8v1.5m1.4 23.8v1.5m.9-28.4v1.5m1.2 20.1v1.5m1.1-2v1.5m-.2-26v1.5m.7 22.7v1.5m.2 2.9v1.5m.6-.6v1.5m.8-6.6v1.5m.8-26.3v1.5m.6 26v1.5m.2-2.6v1.5m1.3-.7v1.5m.4 .1v1.5m1.6-4.6v1.5m1-28.9v1.5m.6 31.7v1.5m1.5-4.8v1.5m.6-24.9v1.5m.6-8.6v1.5m1.1 4v1.5m.5 29.9v1.5m.6-6.8v1.5m.5-25.2v1.5m.8-4.5v1.5m-.1 27.4v1.5m1 3v1.5m-.3-4.2v1.5m1.5-30.7v1.5m0 24.7v1.5m.8 .2v1.5m.9 3.3v1.5m.9-31.3v1.5m.4 26.3v1.5m.9-3.2v1.5m-.2-32.7v1.5m1.2 31.5v1.5m0-36.1v1.5m1.2-1.1v1.5m0 30.4v1.5m.7-33.4v1.5m1.3-2.6v1.5m-.3 3.5v1.5m.8 26.2v1.5m.2-34.6v1.5m1.2 33.8v1.5m0-32.5v1.5m.7 28.7v1.5m-.1-31v1.5m1.4-3.4v1.5m-.4 29.2v1.5m1-33.2v1.5m.5 .3v1.5m.6 0v1.5m1.4-2.5v1.5m-.1 28v1.5m.6-36.5v1.5m.3 35.4v1.5m.7-3.8v1.5m-.2-2.8v1.5m1.6-32.4v1.5m.9-3.8v1.5m.7 30.4v1.5m.9-34.9v1.5m.3 30.7v1.5m1.2-5.2v1.5m-.2-27.7v1.5m1.2 29.2v1.5m-.4-8.3v1.5m1.4-37.9v1.5m1-9.5v1.5m.2-1.7v1.5m.4-3.8v1.5m1.3 1.9v1.5m1.2 28.1v1.5m1-36.2v1.5m-.1 31.9v1.5m.8-41.7v1.5m1.2 6.9v1.5m-.4 33.6v1.5m1.6-4.7v1.5m-.7 4v1.5m.9 2.4v1.5m1.6-5.2v1.5m-.6-1.5v1.5m1.7-1.5v1.5m.5-.1v1.5m0 2.3v1.5m1.4-42v1.5m-.2 33.9v1.5m.7-6.1v1.5m.6-36.9v1.5m.5 35.3v1.5m.1-2.6v1.5m1.5-2.4v1.5m0 4.9v1.5m.7-5.5v1.5m0-33.2v1.5m1.3-4v1.5m-.8 .4v1.5m1.1 30.6v1.5m1-37.6v1.5m0 32.8v1.5m1.2 6v1.5m.4-43.4v1.5m.9 1.7v1.5m1.1 34.6v1.5m-.6-2.5v1.5m1.5-5.3v1.5m0-32.8v1.5m1.2 28.5v1.5m.2 17.6v1.5m.1-4.4v1.5m1.6-6.2v1.5m.4 28.2v1.5m1.5-.9v1.5m1-25.1v1.5m.8 .5v1.5m1.2-2.3v1.5m-.1 1v1.5m1.3 2v1.5m-.3 22.2v1.5m.7-.9v1.5m.9-23.2v1.5m.9 21.8v1.5m.3-25.3v1.5m.9 .2v1.5m.4-7.5v1.5m.5 29.1v1.5m1.7-.1v1.5m-.8-29.6v1.5m1.6 27.7v1.5m-.1 2v1.5m.8-4.7v1.5m1.2-26.4v1.5m1.1-.3v1.5m-.5 26.4v1.5m1.3-30.6v1.5m1 26.4v1.5m1.3-27.1v1.5m-.1 30.5v1.5m.9-37.4v1.5m.1 29.2v1.5m1.2-28.1v1.5m.6 1.6v1.5m.1 22.8v1.5m.6-26.2v1.5m.5 29.2v1.5m1.2-32.8v1.5m-.4 1.9v1.5m1.1-6.5v1.5m-.1 24.2v1.5m1.1-31.4v1.5m.9-6.7v1.5m.1 1.1v1.5m1 18.3v1.5m-.4-1.8v1.5m1.7-3v1.5m.9-10.2v1.5m-.4-26.3v1.5m.8 16.2v1.5m.3-34.2v1.5m.7-7v1.5m0 33.1v1.5m1.3-36.8v1.5m1.1 34.9v1.5m.3-39.5v1.5m.5 28.3v1.5m.2-31.1v1.5m.7-3.7v1.5m0 25.1v1.5m1.2-2.1v1.5m.7 .4v1.5m1.1-36.6v1.5m.1 3.6v1.5m1.5 23.3v1.5m.9 .6v1.5m-.2-31.4v1.5m.8 25.4v1.5m.3-27.6v1.5m1.1-5.5v1.5m-.1-5.1v1.5m.6-.8v1.5m.2-1.1v1.5m1.2 26.4v1.5m1.2-29.5v1.5m-.1 35.8v1.5m-.3 11v1.5m1.3-53.7v1.5m0 30.1v1.5m1-.5v1.5m1 5.2v1.5m.9-9.3v1.5m.6-25.3v1.5m.9 23.2v1.5m.4-31.5v1.5m.7 34.5v1.5m.1-8.7v1.5m1.5-24.4v1.5m-.2-7.2v1.5m.9 3.8v1.5m.1 29.2v1.5m.7-30.4v1.5m.2 27.9v1.5m.6-28v1.5m1.5-3.5v1.5m-.5 .3v1.5m1.2 23.1v1.5m.2-27.7v1.5m1.2 .2v1.5m-.1 24.6v1.5m1.2 1.4v1.5m-.3-1.4v1.5m1.1-2.9v1.5m-.5-1.3v1.5m1.3-25.7v1.5m1.4 26.5v1.5m-.7-33.7v1.5m1 26.9v1.5m1.5-30.5v1.5m1.1 27v1.5m-.6 1.8v1.5m.9-4.4v1.5m.6 1.9v1.5m1.1-2.3v1.5m.7-4.3v1.5m.2 2.7v1.5m.7-30.1v1.5m.3-2v1.5m1 26.6v1.5m-.5-5.1v1.5m1-1.2v1.5m.1-33v1.5m1.4-1v1.5m-.5 .4v1.5m1 27.4v1.5m1.3-2.2v1.5m-.3-6.1v1.5m1.5-.9v1.5m1-3v1.5m.6-2.1v1.5m1.4-29.6v1.5m-.1 24.7v1.5m1.2-3.9v1.5m-.2 0v1.5m.9-2.5v1.5m.3-30.8v1.5m-.3 45.2v1.5m1.3-20.5v1.5m0-28.6v1.5m.7 27.4v1.5m-.4-29.7v1.5m1.4 27.3v1.5m.7 2.8v1.5m1.7-33.4v1.5m.4 33.2v1.5m.8-5.3v1.5m.8-3.3v1.5m.6 1v1.5m-.2-2.4v1.5m1 1.5v1.5m1.4-30.7v1.5m-.4 28.1v1.5m.9-28.3v1.5m.1 23.9v1.5m1.5 0v1.5m-.5-29.6v1.5m1.1-.9v1.5m.3 31v1.5m.9-3.3v1.5m.1 3.7v1.5m1.1-8.9v1.5m.5-1.2v1.5m.2-1.6v1.5m.9 3.7v1.5m0-1.1v1.5m1-31.7v1.5m1-5.2v1.5m.8-2v1.5m1.3-5.5v1.5m1 30.9v1.5m.2-30.9v1.5m.6-2v1.5m.8 24.9v1.5m.7-1.4v1.5m.8-5.4v1.5m.6-27.7v1.5m1.5-2.3v1.5m0 25v1.5m.9-34.5v1.5m-.2 29.9v1.5m1-28.6v1.5m.5 24v1.5m.4 2.7v1.5m1.4-30.6v1.5m0 27.4v1.5m1 .5v1.5m1-5.2v1.5m-.2-29v1.5m1 29.8v1.5m1-31.4v1.5m.2 1.6v1.5m.4 31.6v1.5m.5-33.6v1.5m.5-3.5v1.5m.4 26.1v1.5m.8 17v1.5m.5-4.4v1.5m1.1-26v1.5m-.2 33.1v1.5m-.2-74.2v1.5m.8 86.2v1.5m1-27.6v1.5m.1-13.1v1.5m1.1 37.5v1.5m.7-43.5v1.5m.4 1.2v1.5m.6 27.2v1.5m.3-2.6v1.5m1-52.8v1.5m0 41.7v1.5m1.1-43.5v1.5m.3-4.9v1.5m.5 .6v1.5m.2 39v1.5m.9-39.1v1.5m.9 45.1v1.5m.5-45.5v1.5m.7-8.4v1.5m1.1 .8v1.5m0 45.7v1.5m1-48.1v1.5m-.3 1.2v1.5m.9 37.9v1.5m1.5-.8v1.5m-.1-44.1v1.5m.4 40.9v1.5m.8-42.9v1.5m.9-1.3v1.5m-.3 34.6v1.5m.8-39.4v1.5m.5 35.1v1.5m.5-41.4v1.5m.1 2v1.5m1-.5v1.5m-.2 41.8v1.5m1.1-45.2v1.5m-.1-.2v1.5m1.3-4.1v1.5m1.2-2.7v1.5m-.4-4.1v1.5m1.3 4.6v1.5m.7 1.3v1.5m.1 36.9v1.5m1.4-40.2v1.5m.1 38.1v1.5m.6-3.7v1.5m1.3-40.8v1.5m-.5 38.6v1.5m.8-4v1.5m.6 3.1v1.5m.8-5.2v1.5m.1 2.4v1.5m.6-42.5v1.5m.5-4.4v1.5m.7-4.3v1.5m.3 42.7v1.5m1 3.8v1.5m.5 6.4v1.5m1.1-8v1.5m.5-42.2v1.5m.6 44.2v1.5m.1-44.8v1.5m.7 47.5v1.5m.3-41.3v1.5m.7 38.4v1.5m1.2 4.5v1.5m-.2-41.5v1.5m1.2 1.2v1.5m-.1-5.2v1.5m1-4.5v1.5m.4 38.1v1.5m.9 4v1.5m.3-5.8v1.5m.9-33.1v1.5m.3 .5v1.5m.5 36.4v1.5m.9-41.9v1.5m-.3 43.6v1.5m1.5-9.4v1.5m-.2-36.9v1.5m1.2 41.1v1.5m.9-7.3v1.5m-.1-1.2v1.5m.6 4.8v1.5m.8-42.1v1.5m.3 31.6v1.5m1.6-1.5v1.5m.6 .6v1.5m.7-7v1.5m.1-1.9v1.5m1.6 4.4v1.5m-.3-79.6v1.5m.9 68.9v1.5m-.1-37.8v1.5m1.1-7v1.5m.5-4.4v1.5m.5-3.9v1.5m0-10.9v1.5m1 34.6v1.5m.5-38.2v1.5m.2-5.7v1.5m1 39.1v1.5m0-36.4v1.5m1.1 36.4v1.5m.7-40.4v1.5m.8-6.8v1.5m-.5 .6v1.5m1.6 40.5v1.5m-.2-6v1.5m.5-41.9v1.5m.1 41.1v1.5m1.7-44.5v1.5m-.1-.7v1.5m.6 2.6v1.5m.4-7v1.5m.6 40.3v1.5m1-36.9v1.5m1 40.7v1.5m.2-43.5v1.5m.8 33.4v1.5m.2-37.5v1.5m1.3-4.9v1.5m-.4 36.9v1.5m1.4-43.8v1.5m.5 46.5v1.5m-.1-45v1.5m1.2 43.6v1.5m-.2-2.5v1.5m1-41.6v1.5m.5 35.9v1.5m.8-44.8v1.5m.1 3.1v1.5m.9 1.8v1.5m-.1-2.3v1.5m.9-2.4v1.5m.1 41.8v1.5m1.1-1v1.5m1.3-42.8v1.5m-.2-1.6v1.5m1.1 35.3v1.5m-.5-38.5v1.5m1.6-6.4v1.5m-.6 44.7v1.5m1.5-67.3v1.5m.1-2.1v1.5m.5-30.4v1.5m.4 70.8v1.5m.6-8v1.5m1-62.9v1.5m0 .9v1.5m1 43.2v1.5m-.1-58v1.5m1 4.3v1.5m-.2 45.7v1.5m1-49.9v1.5m.4 44.1v1.5m.9-43.9v1.5m0-10.2v1.5m.9 1.1v1.5m0 5.2v1.5m1.5-.7v1.5m-.5 40.8v1.5m1.3-45v1.5m.2 43.7v1.5m1-48.6v1.5m-.5-.6v1.5m1.3 10v1.5m-.2 2.3v1.5m1.2 11.7v1.5m.2-2.2v1.5m1 41.2v1.5m.4-26.8v1.5m-.1 34.9v1.5m1.7-5.3v1.5m-.4-27.1v1.5m1.4-.3v1.5m0 23.1v1.5m.5-1.3v1.5m.3 5.1v1.5m.7-34.4v1.5m.2 25.4v1.5m.7-1.8v1.5m.7 .5v1.5m.8-6.5v1.5m.5 2.9v1.5m0-6.1v1.5m1.4 1.9v1.5m1.3-32.2v1.5m1 25.5v1.5m-.7 2.9v1.5m1.6-33.2v1.5m-.6 27.8v1.5m1.3-1.8v1.5m-.3-31.6v1.5m1.6 3v1.5m-.3-5.7v1.5m.7 31.3v1.5m1.1-28.8v1.5m0-4.7v1.5m.9 24.6v1.5m.1 3.6v1.5m1.5-33v1.5m-.1 2v1.5m.7 23.5v1.5m1.3-30.8v1.5m-.4 32.7v1.5m1.3-31.8v1.5m.2 .4v1.5m.9-1.1v1.5m-.2-.4v1.5m.7-1.6v1.5m.4 24.6v1.5m.9 1.6v1.5m-.1-31.8v1.5m1.3 36.6v1.5m-.1-35.6v1.5m.9-2.8v1.5m.6 31v1.5m.6 .3v1.5m1.2-33.9v1.5m.8 1.3v1.5m-.2 31.3v1.5m1.2-6v1.5m1.2-1.3v1.5m-.5-.4v1.5m1.2-34.6v1.5m1 29.6v1.5m-.3 2.1v1.5m.9-.2v1.5m.2-38.3v1.5m.9 30.6v1.5m.4 .9v1.5m.5-35.7v1.5m1.4 29v1.5m.8-31.7v1.5m.4 29.5v1.5m.8-31.9v1.5m-.4-1.3v1.5m.9 25.3v1.5m1.4 2.9v1.5m.1-32.4v1.5m1.1 27.8v1.5m1.1-35.8v1.5m1 33.7v1.5m-.3-34.7v1.5m.8 30.5v1.5m.2 27.4v1.5m1.3-59.2v1.5m.5-.6v1.5m-.1-3.6v1.5m1.3 .8v1.5m.8-8.6v1.5m.6 1.8v1.5m.8-8.1v1.5m.5 40.3v1.5m1.1-39.3v1.5m0 42.1v1.5m1.4-13.1v1.5m1.2-30.6v1.5m.3 27v1.5m.1 5.1v1.5m1.3-38.3v1.5m.3-4.6v1.5m.8 33.6v1.5m-.5-34v1.5m1.6-.5v1.5m.4-2.5v1.5m.9 36.9v1.5m1.1-.7v1.5m1.1-30.7v1.5m-.2-3.4v1.5m.4 65.6v1.5m1.3-62.8v1.5m.7 11.1v1.5m.8-5v1.5m.3-3.1v1.5m1.3 26.3v1.5m.4-33.6v1.5m0 25.9v1.5m.9 3v1.5m1.6-10.5v1.5m-.6-33.7v1.5m1.5-8.7v1.5m.9 2.1v1.5m.1 27.5v1.5m.7-5.8v1.5m1.3-4v1.5m-.2-32.4v1.5m1.1-1.8v1.5m-.3-.8v1.5m1.1 31.6v1.5m1-1.8v1.5m0-33.8v1.5m1.3-6v1.5m0-2.1v1.5m1.1-1.4v1.5m-.4 36.5v1.5m.7-4.5v1.5m1.2 4.6v1.5m.5-10v1.5m.4 3.7v1.5m1.1-5v1.5m.9-36.2v1.5m.1-2.7v1.5m1.4 2v1.5m0 27.6v1.5m.5-33.5v1.5m1.3-3.6v1.5m0-.4v1.5m.9 2.2v1.5m.3-.4v1.5m.6 0v1.5m-.2 26.3v1.5m1.1 2.6v1.5m0-38.6v1.5m1.4-3.2v1.5m-.4 4.2v1.5m1.6-3.4v1.5m0 30.9v1.5m.9-32.1v1.5m.1 26.4v1.5m.7-29.5v1.5m1.3 28.2v1.5m-.6-1.6v1.5m1.2-2v1.5m.4-3.4v1.5m1.1-31.7v1.5m-.2-4.6v1.5m.7 2.2v1.5m1.4 29.7v1.5m0-39.3v1.5m.9 33v1.5m.5-29.4v1.5m1.5-2.6v1.5m-.1 27.9v1.5m1.2-31.7v1.5m-.5-6.7v1.5m1.3-1.2v1.5m.1 31.3v1.5m1.2-31.8v1.5m-.3-1.5v1.5m.8 26.2v1.5m.1-3.8v1.5m1.2 1.4v1.5m.9-24.8v1.5m-.2-2.3v1.5m.1 47.8v1.5m1-54.2v1.5m1.3 2.8v1.5m-.3-2.9v1.5m1.1 3v1.5m1-4.9v1.5m1.1 1.6v1.5m-.6-4v1.5m1.3 2.6v1.5m.1-2.8v1.5m1 17.1v1.5m.4-20.2v1.5m.5 17.2v1.5m-.1-19.6v1.5m1.6 18.4v1.5m.6-21.9v1.5m0-32.2v1.5m.8 28v1.5m.1 0v1.5m1.1 22.5v1.5m.2-28v1.5m-.2 40.2v1.5m1.1-20.1v1.5m.5-23v1.5m.3 19.2v1.5m1.2-1.3v1.5m-.3-.5v1.5m1.1-23.9v1.5m.3 21.3v1.5m1.2-4.2v1.5m.5 3.8v1.5m-.2-10.7v1.5m1.5 54.4v1.5m1.1 7.3v1.5m.5-23.1v1.5m.2-2.4v1.5m1.2 20.9v1.5m.5-2.9v1.5m.1-.6v1.5m.2 8.2v1.5m1.3-10.7v1.5m.7-23v1.5m.7 17.7v1.5m1.1-2v1.5m1.3-20.8v1.5m-.1 18.3v1.5m1.4 2.2v1.5m-.1-6.1v1.5m.6 3.7v1.5m.3-23.1v1.5m.6 4.3v1.5m.3-2.3v1.5m.7 24.3v1.5m.8-17.3v1.5m1.7 18.6v1.5m0-25.2v1.5m.4-10.1v1.5m.4 25v1.5m.9-7v1.5m.6-31.4v1.5m.4 22.6v1.5m1.2-4.7v1.5m1.1-30.7v1.5m.3-2.8v1.5m.8 33.4v1.5m.8-11.3v1.5m.7-33.2v1.5m.4 27.3v1.5m.9 .1v1.5m-.5-3.8v1.5m1.5-5v1.5m-.5-1.5v1.5m1.1-28.1v1.5m.5 22.7v1.5m1 .9v1.5m0-30.6v1.5m.9 24.9v1.5m1-32.2v1.5m.6-2.2v1.5m.5-3v1.5m.9-5.7v1.5m.6-.1v1.5m0 26.4v1.5m1.6-3.9v1.5m-.6-31.6v1.5m1.2-4.1v1.5m0 27v1.5m1.1-27.5v1.5m-.1 26.3v1.5m.7-37.1v1.5m.9 32.5v1.5m1.1-7.4v1.5m1.6-2v1.5m0-27.4v1.5m1.1-5.7v1.5m.5-6.3v1.5m.3 1.6v1.5m.8 21.5v1.5m.7-2.8v1.5m.3-93.7v1.5m1.2 46v1.5m0 34v1.5m.5-44.8v1.5m1.6 36.1v1.5m0-3.4v1.5m.4 1.7v1.5m.1-50.3v1.5m1.2 49.4v1.5m-.2-1.9v1.5m1 4.4v1.5m-.1 4v1.5m1.7 3.1v1.5m-.8-9.3v1.5m1.5 1.5v1.5m.6 5.9v1.5m.5-11.1v1.5m.6 1.6v1.5m-.1-4.3v1.5m1.3 1.6v1.5m.3 1.8v1.5m.8 2.2v1.5m.1-42v1.5m.5 33.7v1.5m.4 4.1v1.5m1.2-8.8v1.5m-.4-36.5v1.5m.8-6.1v1.5m.9 35.3v1.5m1.2-43.5v1.5m.9 38.6v1.5m1.7-.4v1.5m.6-33.5v1.5m.3 31.8v1.5m.8-34.6v1.5m-.1 36.2v1.5m1.2-6.4v1.5m.5 5v1.5m.1-46.5v1.5m1.4 .4v1.5m.9 32.8v1.5m-.3-34.9v1.5m1.6 37.6v1.5m-.2-43v1.5m.8 36.8v1.5m.9-37.9v1.5m.1 40.7v1.5m.9-9.4v1.5m0-38.2v1.5m.8-3.6v1.5m.3-.3v1.5m.7 45.5v1.5m.4-43.2v1.5m1.1 30.7v1.5m-.3 12.5v1.5m1.2-12.6v1.5m-.2-35.8v1.5m1-2.9v1.5m1.5 33v1.5m.9-32.8v1.5m1-4.7v1.5m-.3 36.7v1.5m.9-5.1v1.5m0 2.4v1.5m.9-8.8v1.5m0-43v1.5m1.2-7.1v1.5m.7-8.1v1.5m.6 41.1v1.5m.7-7.1v1.5m.7-51v1.5m.1 4v1.5m.8-4.3v1.5m0 51.8v1.5m1.3-8.8v1.5m0 7.1v1.5m1-59.2v1.5m.1-4.7v1.5m.7 3.7v1.5m1 52.4v1.5m.2-59.3v1.5m1.4 62.2v1.5m-.7-63.8v1.5m1.2-5.3v1.5m0 2.5v1.5m1.6 1.5v1.5m-.8 46.4v1.5m1.5 4v1.5m0-1.6v1.5m1.1-3.7v1.5m1.2 11.2v1.5m-.3-5.7v1.5m1-59.8v1.5m1-5.4v1.5m-.4-.8v1.5m1.5 53v1.5m0-4.7v1.5m1.1-51.6v1.5m.7 52.8v1.5m1-7.8v1.5m-.3-1.7v1.5m1.1-4.5v1.5m0 .2v1.5m1.5-1.9v1.5m-.2-47.3v1.5m.9-1v1.5m.2-6.2v1.5m.8-11.1v1.5m1.3 8.7v1.5m0 49.7v1.5m1-54.4v1.5m.1-3.7v1.5m.6 52.5v1.5m.3-57.2v1.5m.7 4.5v1.5m.1 53.2v1.5m.7-48.2v1.5m0 2.4v1.5m1.3 8v1.5m.8 7.4v1.5m.7 40.5v1.5m1.4-36.2v1.5m-.1 .9v1.5m1.1-.3v1.5m-.3-1.5v1.5m1.6-2.2v1.5m-.2-8.7v1.5m.6 41.3v1.5m.2-.5v1.5m1.1-3v1.5m.4-37.5v1.5m.5-1.6v1.5m-.2 36.1v1.5m1.6-1.2v1.5m.9-36.4v1.5m-.4-1.5v1.5m1.3 31.5v1.5m1.2-45.9v1.5m-.1 3.9v1.5m.8 41.7v1.5m-.1-40.8v1.5m.8 33.8v1.5m1.3-.5v1.5m-.1 .3v1.5m1.1-3.3v1.5m.2-4.9v1.5m1.2-36.1v1.5m-.2 36.6v1.5m1.1-1.3v1.5m.8-44.5v1.5m.6 44.2v1.5m.5-1.7v1.5m.9-1.3v1.5m-.1-.2v1.5m.7-41.8v1.5m0 35.2v1.5m1.5-36.5v1.5m-.4-5.3v1.5m1.5 43.3v1.5m1-27.8v1.5m0 33.9v1.5m1.1 8v1.5m-.2-33.5v1.5m.7 5.4v1.5m.1-4.4v1.5m1.3 33v1.5m-.7-27.7v1.5m1.1 29.1v1.5m.4-30.9v1.5m1.2-8v1.5m1-10v1.5m1.1 15.4v1.5m-.7 2.8v1.5m1.4-35.2v1.5m.1 26.5v1.5m.8-33.3v1.5m.4-3.9v1.5m.9 30.5v1.5m1-37.6v1.5m-.5 25.3v1.5m1.1-32v1.5m1.4-6.7v1.5m-.2 31.4v1.5m-.1 15.3v1.5m1.3-55.8v1.5m-.5 33.6v1.5m.9-5.6v1.5m.1-31.4v1.5m1.1 24.9v1.5m.5-29.7v1.5m.6-4.2v1.5m.4-2.1v1.5m-.4-28.5v1.5m1.1 21.2v1.5m-.3 28.9v1.5m.9-5.8v1.5m1.3-3.8v1.5m.1-32.8v1.5m.7-15.8v1.5m.9 7.3v1.5m.1 33.1v1.5m1.1-10.1v1.5m1-36.6v1.5m-.3 32.3v1.5m1-1.2v1.5m1.1-43.2v1.5m1 36.2v1.5m1.4-42.2v1.5m1.1 30.6v1.5m.1-2.5v1.5m1-4.6v1.5m0-36v1.5m.9 36.6v1.5m1.2-51.7v1.5m-.3 53.6v1.5m1-53.1v1.5m1-2v1.5m-.5 35v1.5m1.6 7.7v1.5m-.1-52.9v1.5m.5 39.8v1.5m.8-45.2v1.5m.9-3.2v1.5m-.6 2.6v1.5m1.5-13.6v1.5m-.5 51.6v1.5m1.3 .7v1.5m1.3-54.6v1.5m-.2 42.9v1.5m.9-1.1v1.5m.8 6.2v1.5m.5-61.5v1.5m.4 51.2v1.5m.3-62.6v1.5m1.3-3.7v1.5m-.6 67.1v1.5m.9-69.1v1.5m.5 9.4v1.5m.5-.1v1.5m.1 52.8v1.5m1.4 3v1.5m-.5-71.4v1.5m1.3 63.8v1.5m.5-54.4v1.5m.8 50.7v1.5m-.1 2.8v1.5m.7-60.7v1.5m1.3 60.2v1.5m1.2-4.4v1.5m.5-2.3v1.5m.1-61.6v1.5m1.2 5v1.5m-.5 51.8v1.5m1.1-57.1v1.5m.1 58.2v1.5m1-69.1v1.5m-.2 2.2v1.5m1.1 62.3v1.5m1.2-60.8v1.5m.5 60.2v1.5m1-66.4v1.5m-.3 52v1.5m1-4.4v1.5m.3-51.8v1.5m.9 54.1v1.5m.4-58.5v1.5m.5 3.9v1.5m1.1 55.5v1.5m.4-58.2v1.5m1.1 8.8v1.5m-.2-5.5v1.5m1 45v1.5m.2-41.2v1.5m.8-1.3v1.5m1.7 41.9v1.5m1.1-2.6v1.5m-.1-36.9v1.5m1 42.2v1.5m-.1-40.7v1.5m1 39.8v1.5m-.2-3.8v1.5m1-.8v1.5m-.3-42.5v1.5m1.5 7.6v1.5m.5 .3v1.5m.1-1.6v1.5m1.2 6.5v1.5m-.4 37.5v1.5m1.8-30.3v1.5m-.7 34.3v1.5m1.7 2.7v1.5m.7-28v1.5m-.1-15.8v1.5m1.4 59.8v1.5m.9-.6v1.5m-.4-1.6v1.5m.9-21.6v1.5m.8 10.9v1.5m.4-5.9v1.5m.8 2.2v1.5m0-1.8v1.5m1.3-1.1v1.5m.7-2.6v1.5m-.1-3.8v1.5m1.3 31.9v1.5m-.2-3.2v1.5m1.3-7.6v1.5m-.2-2v1.5m1.1-33.1v1.5m.7-4.9v1.5m.7 31.2v1.5m.2-7.4v1.5m.4-1.5v1.5m.7-5.7v1.5m.3-98.5v1.5m1.3 91.7v1.5m-.7-1.8v1.5m1.4-38.3v1.5m-.4 3.1v1.5m1.6-6.9v1.5m.2 35.2v1.5m.7-10v1.5m1.1 0v1.5m.6-4v1.5m.2-6.2v1.5m.7-37.2v1.5m.2 33.1v1.5m1.3-49v1.5m1 2.6v1.5m-.1 32.9v1.5m1.3-5.5v1.5m-.8-40.5v1.5m1.4 34.2v1.5m-.3-37.9v1.5m1.3 26.4v1.5m.1-34.5v1.5m1.2 29.9v1.5m.8-45.2v1.5m.9-14.2v1.5m1.4-6.6v1.5m.8 42.4v1.5m-.3-48.3v1.5m1.1-1.4v1.5m1-12.6v1.5m.8 43.6v1.5m0 14.4v1.5m1.2-20.9v1.5m-.1 .1v1.5m1.4-59.8v1.5m.8 51.2v1.5m.3-1.5v1.5m.2-61v1.5" stroke="#E9242A" stroke-width="1.6" fill="none"/>
<path d="M580.8 68.3v1.7M580.7 71.0v1.7M580.5 72.6v1.7M580.5 74.5v1.7M580.2 77.1v1.7M580.4 78.9v1.7M580.7 82.1v1.7M580.7 83.8v1.7M580.6 85.5v1.7M580.2 87.2v1.7M580.3 90.3v1.7M580.8 92.1v1.7M580.4 95.2v1.7M580.5 98.5v1.7M580.3 101.2v1.7M580.6 104.4v1.7M580.7 107.7v1.7M580.4 109.7v1.7M580.3 111.4v1.7M580.9 261.6v1.7M580.7 265.6v1.7M580.9 269.9v1.7M581.2 273.0v1.7M580.9 276.6v1.7M581.1 280.3v1.7M581.3 282.7v1.7M581.1 285.0v1.7M580.7 289.7v1.7M580.9 294.3v1.7M580.7 298.2v1.7M580.8 300.6v1.7M580.8 305.6v1.7M581.0 314.6v1.7M581.0 322.5v1.7M581.0 335.7v1.7M581.0 351.6v1.7M410.5 59.3v1.7M307.7 88.5v1.7M307.7 93.8v1.7M405.0 139.8v1.7M405.0 155.7v1.7M130.5 322.5v1.7M130.5 335.7v1.7M130.5 363.8v1.7M803.0 99.6v1.7M1316.0 68.3v1.7M904.6 281.7v1.7M971.6 317.7v1.7M1293.0 148.8v1.7M1293.0 155.7v1.7M1293.0 161.0v1.7M1293.0 166.3v1.7M1163.0 139.8v1.7M1163.0 145.1v1.7M144.3 463.4v1.7M144.3 492.0v1.7M144.3 649.3v1.7M144.3 655.2v1.7M144.3 661.2v1.7M144.3 667.1v1.7M144.3 675.1v1.7M144.3 694.9v1.7M144.3 714.8v1.7M144.3 720.7v1.7M144.3 727.9v1.7M308.0 441.6v1.7M580.5 657.2v1.7M971.6 473.7v1.7M1216.0 439.6v1.7M1104.0 544.0v1.7M1377.0 575.8v1.7M144.3 860.8v1.7M144.3 873.7v1.7M144.3 1121.1v1.7M144.3 1130.2v1.7M308.0 875.3v1.7M308.0 1022.4v1.7M411.6 821.3v1.7M411.6 1036.5v1.7M604.0 1078.9v1.7M702.0 1034.2v1.7M884.0 838.3v1.7M896.0 826.5v1.7M1090.7 1093.2v1.7M1104.0 1036.5v1.7M1035.0 835.6v1.7M1035.0 864.7v1.7M1035.0 868.5v1.7M1324.0 1027.4v1.7M736.2 857.2v1.7M735.9 860.7v1.7M736.2 864.0v1.7M736.1 867.2v1.7M735.9 870.5v1.7M735.9 873.7v1.7M736.2 876.3v1.7M735.9 879.5v1.7M736.1 883.2v1.7M735.7 886.1v1.7M735.9 888.9v1.7M736.0 892.0v1.7M736.1 895.4v1.7M735.9 898.8v1.7M736.1 901.8v1.7M735.9 905.3v1.7M736.2 908.7v1.7M736.3 911.9v1.7M736.0 915.6v1.7M735.8 918.4v1.7" stroke="#41BDEC" stroke-width="1.7" fill="none"/><path d="M580.2 59.3v1.7M580.1 62.9v1.7M579.7 66.4v1.7M581.5 123.9v1.7M581.5 131.9v1.7M581.5 142.5v1.7M581.5 150.4v1.7M581.5 158.4v1.7M581.5 166.3v1.7M581.5 171.6v1.7M581.0 277.5v1.7M581.0 288.1v1.7M581.0 298.7v1.7M581.0 309.3v1.7M410.5 65.2v1.7M307.7 92.7v1.7M307.7 109.1v1.7M180.2 119.7v1.7M180.2 136.6v1.7M405.0 147.8v1.7M405.0 161.0v1.7M143.5 145.1v1.7M143.5 131.9v1.7M803.0 129.8v1.7M1216.0 72.0v1.7M1234.0 274.8v1.7M904.6 338.4v1.7M1163.0 150.4v1.7M1163.0 161.0v1.7M1163.0 171.6v1.7M144.0 472.1v1.7M144.0 492.0v1.7M144.0 537.7v1.7M144.0 559.9v1.7M144.0 625.0v1.7M144.0 635.4v1.7M144.0 649.3v1.7M144.0 658.0v1.7M144.0 686.2v1.7M144.0 700.5v1.7M144.0 703.7v1.7M144.0 706.1v1.7M389.0 443.6v1.7M580.3 523.0v1.7M579.9 527.3v1.7M580.0 530.1v1.7M579.8 534.0v1.7M580.2 537.8v1.7M579.7 541.9v1.7M579.8 546.2v1.7M580.1 548.9v1.7M579.9 553.2v1.7M580.0 557.4v1.7M579.9 560.1v1.7M579.7 562.5v1.7M580.5 613.5v1.7M580.5 619.5v1.7M580.5 625.4v1.7M580.5 631.4v1.7M580.5 691.0v1.7M701.0 694.9v1.7M1216.0 490.0v1.7M1104.0 518.6v1.7M1350.5 664.7v1.7M1377.0 629.8v1.7M1321.6 474.5v1.7M1321.3 478.4v1.7M1321.8 480.2v1.7M1321.4 483.0v1.7M1321.6 485.2v1.7M1321.5 488.7v1.7M1321.2 491.3v1.7M1321.2 495.1v1.7M1321.7 497.8v1.7M1321.6 499.8v1.7M1267.7 484.5v1.7M1267.4 487.4v1.7M1267.4 489.6v1.7M1267.5 492.7v1.7M1267.9 495.0v1.7M1267.9 498.0v1.7M1267.6 500.3v1.7M1267.6 503.1v1.7M1267.5 505.1v1.7M1267.5 506.8v1.7M1267.9 510.2v1.7M1267.6 512.8v1.7M1267.4 514.9v1.7M144.0 844.9v1.7M144.0 1058.0v1.7M144.0 1086.4v1.7M144.0 1089.3v1.7M144.0 1092.0v1.7M308.0 821.3v1.7M308.0 905.5v1.7M308.0 1047.3v1.7M308.0 1056.6v1.7M411.6 827.7v1.7M411.6 1045.5v1.7M581.0 1093.2v1.7M581.0 1056.9v1.7M581.0 1045.5v1.7M581.0 1034.2v1.7M581.0 1027.4v1.7M702.0 1120.4v1.7M884.0 864.0v1.7M884.0 868.5v1.7M884.0 891.2v1.7M896.0 850.4v1.7M981.0 1090.9v1.7M1090.7 1113.2v1.7M1104.0 1054.6v1.7M1035.0 877.8v1.7M1324.0 1066.0v1.7M1049.3 909.4v1.7M1049.1 913.8v1.7M1049.1 919.2v1.7M1049.2 922.5v1.7M1049.1 927.3v1.7M1049.1 931.6v1.7M1049.1 937.1v1.7M1048.7 942.5v1.7M1049.0 945.8v1.7M1048.8 950.9v1.7M1049.1 956.1v1.7M1049.0 958.9v1.7M1048.7 962.5v1.7M1048.9 965.7v1.7M1048.8 969.1v1.7M1049.0 971.9v1.7M1049.1 976.0v1.7M1048.8 980.9v1.7" stroke="#E9242A" stroke-width="1.7" fill="none"/>
<path d="M104.2 373.60h-12.6M1383.2 373.60h12.6M104.2 347.12h-5.4M1383.2 347.12h5.4M104.2 320.65h-12.6M1383.2 320.65h12.6M104.2 294.18h-5.4M1383.2 294.18h5.4M104.2 267.70h-12.6M1383.2 267.70h12.6M104.2 241.22h-5.4M1383.2 241.22h5.4M104.2 214.75h-12.6M1383.2 214.75h12.6M104.2 188.28h-5.4M1383.2 188.28h5.4M104.2 161.80h-12.6M1383.2 161.80h12.6M104.2 135.32h-5.4M1383.2 135.32h5.4M104.2 108.85h-12.6M1383.2 108.85h12.6M104.2 82.38h-5.4M1383.2 82.38h5.4M104.2 55.90h-12.6M1383.2 55.90h12.6M173.15 53.9v-5.4M173.15 375.6v5.4M259.70 53.9v-5.4M259.70 375.6v5.4M346.25 53.9v-5.4M346.25 375.6v5.4M432.80 53.9v-12.6M432.80 375.6v12.6M519.35 53.9v-5.4M519.35 375.6v5.4M605.90 53.9v-5.4M605.90 375.6v5.4M692.45 53.9v-5.4M692.45 375.6v5.4M779.00 53.9v-12.6M779.00 375.6v12.6M865.55 53.9v-5.4M865.55 375.6v5.4M952.10 53.9v-5.4M952.10 375.6v5.4M1038.65 53.9v-5.4M1038.65 375.6v5.4M1125.20 53.9v-12.6M1125.20 375.6v12.6M1211.75 53.9v-5.4M1211.75 375.6v5.4M1298.30 53.9v-5.4M1298.30 375.6v5.4M104.2 755.30h-12.6M1383.2 755.30h12.6M104.2 735.44h-5.4M1383.2 735.44h5.4M104.2 715.59h-12.6M1383.2 715.59h12.6M104.2 695.73h-5.4M1383.2 695.73h5.4M104.2 675.88h-12.6M1383.2 675.88h12.6M104.2 656.02h-5.4M1383.2 656.02h5.4M104.2 636.16h-12.6M1383.2 636.16h12.6M104.2 616.31h-5.4M1383.2 616.31h5.4M104.2 596.45h-12.6M1383.2 596.45h12.6M104.2 576.59h-5.4M1383.2 576.59h5.4M104.2 556.74h-12.6M1383.2 556.74h12.6M104.2 536.88h-5.4M1383.2 536.88h5.4M104.2 517.02h-12.6M1383.2 517.02h12.6M104.2 497.17h-5.4M1383.2 497.17h5.4M104.2 477.31h-12.6M1383.2 477.31h12.6M104.2 457.46h-5.4M1383.2 457.46h5.4M104.2 437.60h-12.6M1383.2 437.60h12.6M173.15 435.6v-5.4M173.15 757.3v5.4M259.70 435.6v-5.4M259.70 757.3v5.4M346.25 435.6v-5.4M346.25 757.3v5.4M432.80 435.6v-12.6M432.80 757.3v12.6M519.35 435.6v-5.4M519.35 757.3v5.4M605.90 435.6v-5.4M605.90 757.3v5.4M692.45 435.6v-5.4M692.45 757.3v5.4M779.00 435.6v-12.6M779.00 757.3v12.6M865.55 435.6v-5.4M865.55 757.3v5.4M952.10 435.6v-5.4M952.10 757.3v5.4M1038.65 435.6v-5.4M1038.65 757.3v5.4M1125.20 435.6v-12.6M1125.20 757.3v12.6M1211.75 435.6v-5.4M1211.75 757.3v5.4M1298.30 435.6v-5.4M1298.30 757.3v5.4M104.2 1137.10h-5.4M1383.2 1137.10h5.4M104.2 1114.41h-12.6M1383.2 1114.41h12.6M104.2 1091.71h-5.4M1383.2 1091.71h5.4M104.2 1069.02h-12.6M1383.2 1069.02h12.6M104.2 1046.33h-5.4M1383.2 1046.33h5.4M104.2 1023.64h-12.6M1383.2 1023.64h12.6M104.2 1000.94h-5.4M1383.2 1000.94h5.4M104.2 978.25h-12.6M1383.2 978.25h12.6M104.2 955.56h-5.4M1383.2 955.56h5.4M104.2 932.86h-12.6M1383.2 932.86h12.6M104.2 910.17h-5.4M1383.2 910.17h5.4M104.2 887.48h-12.6M1383.2 887.48h12.6M104.2 864.79h-5.4M1383.2 864.79h5.4M104.2 842.09h-12.6M1383.2 842.09h12.6M104.2 819.40h-5.4M1383.2 819.40h5.4M173.15 817.4v-5.4M173.15 1139.1v5.4M259.70 817.4v-5.4M259.70 1139.1v5.4M346.25 817.4v-5.4M346.25 1139.1v5.4M432.80 817.4v-12.6M432.80 1139.1v12.6M519.35 817.4v-5.4M519.35 1139.1v5.4M605.90 817.4v-5.4M605.90 1139.1v5.4M692.45 817.4v-5.4M692.45 1139.1v5.4M779.00 817.4v-12.6M779.00 1139.1v12.6M865.55 817.4v-5.4M865.55 1139.1v5.4M952.10 817.4v-5.4M952.10 1139.1v5.4M1038.65 817.4v-5.4M1038.65 1139.1v5.4M1125.20 817.4v-12.6M1125.20 1139.1v12.6M1211.75 817.4v-5.4M1211.75 1139.1v5.4M1298.30 817.4v-5.4M1298.30 1139.1v5.4" stroke="#2a2a2a" stroke-width="2" stroke-linecap="round" fill="none"/>
<g fill="none" stroke="#000" stroke-width="4.0"><rect x="106.2" y="55.9" width="1275.0" height="317.7" /><rect x="106.2" y="437.6" width="1275.0" height="317.7" /><rect x="106.2" y="819.4" width="1275.0" height="317.7" /></g>
<g font-family='"Liberation Sans", sans-serif' fill="#000"><text x="82.6" y="384.0" text-anchor="end" font-size="30"><tspan dy="2.4">−</tspan><tspan dy="-2.4">30</tspan></text><text x="82.6" y="331.0" text-anchor="end" font-size="30"><tspan dy="2.4">−</tspan><tspan dy="-2.4">20</tspan></text><text x="82.6" y="278.1" text-anchor="end" font-size="30"><tspan dy="2.4">−</tspan><tspan dy="-2.4">10</tspan></text><text x="82.6" y="225.2" text-anchor="end" font-size="30">0</text><text x="82.6" y="172.2" text-anchor="end" font-size="30">10</text><text x="82.6" y="119.2" text-anchor="end" font-size="30">20</text><text x="82.6" y="66.3" text-anchor="end" font-size="30">30</text><text transform="translate(25.5 215.2) rotate(-90)" text-anchor="middle" font-size="32.3">North (cm)</text><text x="82.6" y="765.7" text-anchor="end" font-size="30"><tspan dy="2.4">−</tspan><tspan dy="-2.4">40</tspan></text><text x="82.6" y="726.0" text-anchor="end" font-size="30"><tspan dy="2.4">−</tspan><tspan dy="-2.4">30</tspan></text><text x="82.6" y="686.3" text-anchor="end" font-size="30"><tspan dy="2.4">−</tspan><tspan dy="-2.4">20</tspan></text><text x="82.6" y="646.6" text-anchor="end" font-size="30"><tspan dy="2.4">−</tspan><tspan dy="-2.4">10</tspan></text><text x="82.6" y="606.9" text-anchor="end" font-size="30">0</text><text x="82.6" y="567.1" text-anchor="end" font-size="30">10</text><text x="82.6" y="527.4" text-anchor="end" font-size="30">20</text><text x="82.6" y="487.7" text-anchor="end" font-size="30">30</text><text x="82.6" y="448.0" text-anchor="end" font-size="30">40</text><text transform="translate(25.5 597.0) rotate(-90)" text-anchor="middle" font-size="32.3">East (cm)</text><text x="82.6" y="1124.8" text-anchor="end" font-size="30"><tspan dy="2.4">−</tspan><tspan dy="-2.4">60</tspan></text><text x="82.6" y="1079.4" text-anchor="end" font-size="30"><tspan dy="2.4">−</tspan><tspan dy="-2.4">40</tspan></text><text x="82.6" y="1034.0" text-anchor="end" font-size="30"><tspan dy="2.4">−</tspan><tspan dy="-2.4">20</tspan></text><text x="82.6" y="988.6" text-anchor="end" font-size="30">0</text><text x="82.6" y="943.3" text-anchor="end" font-size="30">20</text><text x="82.6" y="897.9" text-anchor="end" font-size="30">40</text><text x="82.6" y="852.5" text-anchor="end" font-size="30">60</text><text transform="translate(25.5 978.8) rotate(-90)" text-anchor="middle" font-size="32.3">Vertical (cm)</text><text x="432.8" y="1182" text-anchor="middle" font-size="29.5">00:00:00</text><text x="779.0" y="1182" text-anchor="middle" font-size="29.5">12:00:00</text><text x="1125.2" y="1182" text-anchor="middle" font-size="29.5">00:00:00</text><text x="269.5" y="1213.2" text-anchor="middle" font-size="33" letter-spacing="-0.15">2016<tspan dy="2.6">−</tspan><tspan dy="-2.6">05</tspan><tspan dy="2.6">−</tspan><tspan dy="-2.6">13</tspan></text><text x="779.0" y="1213.2" text-anchor="middle" font-size="33" letter-spacing="-0.15">2016<tspan dy="2.6">−</tspan><tspan dy="-2.6">05</tspan><tspan dy="2.6">−</tspan><tspan dy="-2.6">14</tspan></text><text x="1253.2" y="1213.2" text-anchor="middle" font-size="33" letter-spacing="-0.15">2016<tspan dy="2.6">−</tspan><tspan dy="-2.6">05</tspan><tspan dy="2.6">−</tspan><tspan dy="-2.6">15</tspan></text><text x="785.8" y="31.8" text-anchor="middle" font-size="41.3">Campaign GPS RR01 Solutions</text></g>
</svg></body></html>
